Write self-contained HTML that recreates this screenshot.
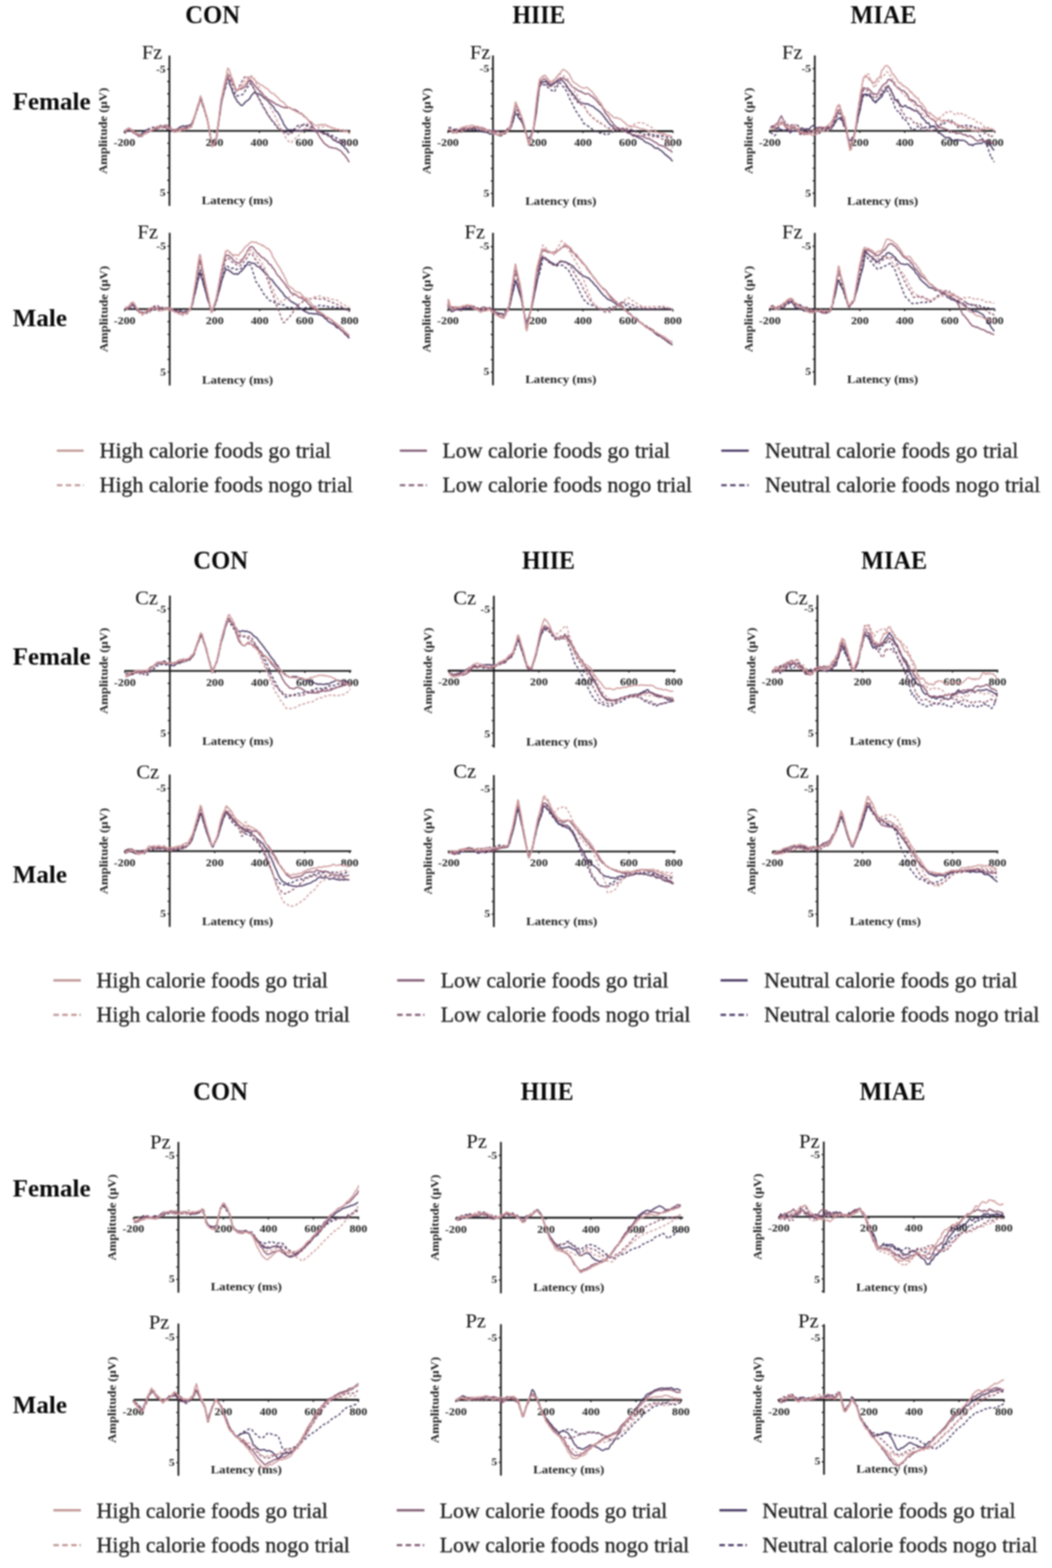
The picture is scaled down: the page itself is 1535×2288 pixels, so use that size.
<!DOCTYPE html>
<html><head><meta charset="utf-8"><title>ERP waveforms</title>
<style>html,body{margin:0;padding:0;background:#fff;} body{width:1535px;height:2288px;overflow:hidden;} svg{display:block;filter:blur(1.1px);}</style>
</head><body>
<svg width="1535" height="2288" viewBox="0 0 1535 2288"><rect width="1535" height="2288" fill="#ffffff"/><text x="310.3" y="33.5" text-anchor="middle" font-family="'Liberation Serif', 'Times New Roman', serif" font-weight="bold" font-size="37" textLength="80.0" lengthAdjust="spacingAndGlyphs" fill="#0a0a0a">CON</text><text x="786.3" y="33.5" text-anchor="middle" font-family="'Liberation Serif', 'Times New Roman', serif" font-weight="bold" font-size="37" textLength="77.1" lengthAdjust="spacingAndGlyphs" fill="#0a0a0a">HIIE</text><text x="1289.2" y="33.5" text-anchor="middle" font-family="'Liberation Serif', 'Times New Roman', serif" font-weight="bold" font-size="37" textLength="96.2" lengthAdjust="spacingAndGlyphs" fill="#0a0a0a">MIAE</text><text x="322.0" y="829.5" text-anchor="middle" font-family="'Liberation Serif', 'Times New Roman', serif" font-weight="bold" font-size="37" textLength="80.0" lengthAdjust="spacingAndGlyphs" fill="#0a0a0a">CON</text><text x="800.3" y="829.5" text-anchor="middle" font-family="'Liberation Serif', 'Times New Roman', serif" font-weight="bold" font-size="37" textLength="77.1" lengthAdjust="spacingAndGlyphs" fill="#0a0a0a">HIIE</text><text x="1304.7" y="829.5" text-anchor="middle" font-family="'Liberation Serif', 'Times New Roman', serif" font-weight="bold" font-size="37" textLength="96.2" lengthAdjust="spacingAndGlyphs" fill="#0a0a0a">MIAE</text><text x="321.8" y="1605.0" text-anchor="middle" font-family="'Liberation Serif', 'Times New Roman', serif" font-weight="bold" font-size="37" textLength="80.0" lengthAdjust="spacingAndGlyphs" fill="#0a0a0a">CON</text><text x="798.3" y="1605.0" text-anchor="middle" font-family="'Liberation Serif', 'Times New Roman', serif" font-weight="bold" font-size="37" textLength="77.1" lengthAdjust="spacingAndGlyphs" fill="#0a0a0a">HIIE</text><text x="1302.3" y="1605.0" text-anchor="middle" font-family="'Liberation Serif', 'Times New Roman', serif" font-weight="bold" font-size="37" textLength="96.2" lengthAdjust="spacingAndGlyphs" fill="#0a0a0a">MIAE</text><text x="18.5" y="160.0" font-family="'Liberation Serif', 'Times New Roman', serif" font-weight="bold" font-size="36.6" fill="#0a0a0a">Female</text><text x="18.5" y="475.5" font-family="'Liberation Serif', 'Times New Roman', serif" font-weight="bold" font-size="36.6" fill="#0a0a0a">Male</text><text x="18.5" y="969.8" font-family="'Liberation Serif', 'Times New Roman', serif" font-weight="bold" font-size="36.6" fill="#0a0a0a">Female</text><text x="18.5" y="1288.0" font-family="'Liberation Serif', 'Times New Roman', serif" font-weight="bold" font-size="36.6" fill="#0a0a0a">Male</text><text x="18.5" y="1746.2" font-family="'Liberation Serif', 'Times New Roman', serif" font-weight="bold" font-size="36.6" fill="#0a0a0a">Female</text><text x="18.5" y="2061.6" font-family="'Liberation Serif', 'Times New Roman', serif" font-weight="bold" font-size="36.6" fill="#0a0a0a">Male</text><g><line x1="247.2" y1="81.1" x2="247.2" y2="300.5" stroke="#161616" stroke-width="2.5"/><path d="M244.0,100.9h3.2 M244.0,118.9h3.2 M244.0,136.9h3.2 M244.0,155.0h3.2 M244.0,173.0h3.2 M244.0,191.0h3.2 M244.0,209.0h3.2 M244.0,227.0h3.2 M244.0,245.1h3.2 M244.0,263.1h3.2 M244.0,281.1h3.2" stroke="#161616" stroke-width="1.6"/><line x1="181.5" y1="191.0" x2="511.0" y2="191.0" stroke="#161616" stroke-width="2.7"/><path d="M181.5,191.0v3 M312.9,191.0v3 M378.5,191.0v3 M444.2,191.0v3 M509.8,191.0v3" stroke="#161616" stroke-width="1.6"/><text transform="translate(181.5,212.8) scale(1.05,0.88)" text-anchor="middle" font-family="'Liberation Serif', 'Times New Roman', serif" font-weight="bold" font-size="16.5" fill="#222">-200</text><text transform="translate(312.9,212.8) scale(1.05,0.88)" text-anchor="middle" font-family="'Liberation Serif', 'Times New Roman', serif" font-weight="bold" font-size="16.5" fill="#222">200</text><text transform="translate(378.5,212.8) scale(1.05,0.88)" text-anchor="middle" font-family="'Liberation Serif', 'Times New Roman', serif" font-weight="bold" font-size="16.5" fill="#222">400</text><text transform="translate(444.2,212.8) scale(1.05,0.88)" text-anchor="middle" font-family="'Liberation Serif', 'Times New Roman', serif" font-weight="bold" font-size="16.5" fill="#222">600</text><text transform="translate(509.8,212.8) scale(1.05,0.88)" text-anchor="middle" font-family="'Liberation Serif', 'Times New Roman', serif" font-weight="bold" font-size="16.5" fill="#222">800</text><text transform="translate(241.7,105.5) scale(1.05,0.88)" text-anchor="end" font-family="'Liberation Serif', 'Times New Roman', serif" font-weight="bold" font-size="16" fill="#222">-5</text><text transform="translate(241.7,285.7) scale(1.05,0.88)" text-anchor="end" font-family="'Liberation Serif', 'Times New Roman', serif" font-weight="bold" font-size="16" fill="#222">5</text><text transform="translate(346.2,297.5) scale(1,0.86)" text-anchor="middle" font-family="'Liberation Serif', 'Times New Roman', serif" font-weight="bold" font-size="18.6" fill="#1e1e1e">Latency (ms)</text><text transform="translate(156.2,191.0) rotate(-90) scale(1,0.86)" x="0" y="0" text-anchor="middle" font-family="'Liberation Serif', 'Times New Roman', serif" font-weight="bold" font-size="18.6" fill="#1e1e1e">Amplitude (μV)</text><text x="236.9" y="86.1" text-anchor="end" font-family="'Liberation Serif', 'Times New Roman', serif" font-size="30" fill="#111">Fz</text></g><path d="M182.3 190.6l1.6 .3 1.5-1.6 1.9-1.7 2 .7 1.5 2.7 1.6 0 1.5 1.4 1.6 0 1.7 .6 1.6 2.2 1.7 1.6 1.7-.7 1.7 .1 2.2-.3 2.2-2.2 1.6-1.5 1.6-1.3 1.6-.8 1.6-.6 1.6 .7 1.6-.6 1.6 .8 1.7 .5 1.7-.6 1.6-1.2 1.7-.5 1.7-1.4 1.7-1.7 1.9 .4 1.8-1.5 1.9 0 1.9 0 1.8 .6 1.9 .9 1.7 1.4 1.8 1.7 1.8 .3 1.7-1.2 1.8 1 1.7 .2 1.8 .3 2.3-.3 1.8 0 1.7-.3 1.8-1.7 1.7-2.2 1.9 .3 1.9-1.8 1.9 .1 1.9 1.1 1.8-1.3 2.3 .2 1.7-1 1.6-.2 2-1.9 1.3-1.8 .6-2.6 .5-1.4 .6-.8 .5-1.2 .6-2 .6-1 .5-2.2 .6-1.2 .5-2.4 .6-1.9 .6-.6 .5-1.1 .6-1 .5-2.2 .6-2 .6-1.2 .5-.9 .6-2.5 .5-2.7 .6-1.4 .5-1 1.5 .9 .5 2.1 .5 2.5 .6 .8 .5 2.7 .5 1.3 .5 .6 .6 1.3 .5 2.4 .5 1.7 .5 1.2 .6 2.1 .5 2.2 .5 1.9 .5 1.3 .5 1.3 .4 1.5 .4 1.3 .3 2 .4 2.3 .3 1.7 .4 1.5 .3 2.5 .4 1 .3 1.7 .3 1.3 .4 2.2 .3 2.5 .4 2.1 .3 2.2 .4 2.4 .3 .8 .4 2.1 .3 2.5 .3 1.9 .4 2.1 .3 1.2 .4 2.5 1.7-1 .8-2.5 .8-1.3 .8-2.7 .8-2 .8-1.3 .6-1.8 .2-1.6 .3-2.2 .2-1.7 .3-1.8 .3-1.5 .2-1.9 .3-2.6 .2-1.8 .3-2.1 .3-1.2 .2-2.5 .3-2 .2-1.2 .3-1 .2-1.1 .3-1.1 .3-2.3 .2-1.8 .3-1 .2-1.5 .3-1.2 .3-2.1 .2-3.2 .3-1.3 .2-2 .3-1.4 .3-1.9 .3-2.7 .4-1.8 .4-2.5 .4-2.3 .4-1.5 .4-.8 .4-1.3 .4-2.1 .4-.9 .4-2.2 .4-1.7 .4-2 .4-1.1 .4-2.2 .4-3.2 .4-1.5 .4-.9 .4-2.6 .4-2.2 .4-1.3 .4-1.5 .5-3 1.1 1.7 .6 1.4 .6 1.9 .7 2 .6 1.5 .6 2.8 .6 1.8 .6 2 .6 1.2 .6 .4 .6 3.1 .6 2.2 .7 1.4 .6 1 .6 1.7 .6 1.8 .6 1.1 .7 1.5 1 1.3 1.1 2 1.1 2.7 1.1 .3 1.1 1.1 1.1 1.4 1.1 1.5 1.5 1 1.6-.3 1.2-1.3 1.3-1.6 1.2-1.1 1.3-1.7 1.2-.4 1.2-1 1.2-.9 1.1-.9 1.2-1.4 1.1-2.6 1.2-1.8 1.1-.7 1.1-1.8 1.8-1.5 2.2 1 1.7 .5 1.7 .2 1.8 .9 1.7 .7 1.6 .9 1.5 1.7 1.4 1.4 1.4 1.4 1.4 .8 1.4 1.5 1.5 .4 1.4 2.1 1.4 .8 1.4 1.7 1.3 1.9 1.1 1.1 1 .7 1.1 1 1.1 2.2 1.1 1.9 1 1.6 1.1 1.2 1.1 .6 1 1 1.1 2.2 .9 .7 .8 1.6 .8 2.5 .9 1.8 .8 1 .8 1.1 .8 1.7 .8 2.4 .9 2 .8 1.5 .9 1 .8 1.3 .9 1.1 1.6 2.2 2.3 1.4 1.9-.3 1.8 .1 1.8 .1 1.9 0 1.8-.3 1.9 .9 1.8 .4 1.9 0 1.8 .4 1.8-.4 1.9-.5 1.8-.5 1.9 .4 1.8-.5 1.8 .4 1.9-1 1.8 .4 1.7 .4 1.8 .3 1.8 .1 1.8 1.4 1.8 .8 1.8-.9 1.7 .2 1.7 .8 1.7 .2 1.7 .8 1.7 .7 1.7 0 1.7 1.6 1.6 .2 1.6 2.4 1.5 0 1.6 .8 1.5 .8 1.6 2.2 1.5 1.7 1.6 1.3 1.5-.5 1.5 1.9 1.5 .8 1.6 .1 1.5 1.2 1.5 .4 1.5 1.5 1.5 1 1.3 1.7 1.2 1.2 1.2 2 1.2 .6 1.2 .8 1.2 2.3 1.1 2.2 1 .4 .2 .4" fill="none" stroke="#4a3964" stroke-width="1.9" stroke-linejoin="round"/><path d="M182.3 192.1l1.6-1.7 1.5-.7 1.9-1.8 2 .7 1.6 1 1.6 1.4 1.5-.4 1.6 1.8 1.7 .4 1.6 1.9 1.6 .5 1.7-.3 1.6 0 2.2 1.5 2-2 1.5 .4 1.6-.7 1.5-3.3 1.5-2.1 1.5 .1 2.1-1.2 2.3-.2 1.8-1.2 1.8-.5 1.8 1 1.8 .6 1.7-2 1.8-1.3 1.7-1.6 1.7 .5 1.7 1.6 1.7-.9 2.3 .3 2.3 .3 1.8 1 1.7 .7 1.8-.4 1.8 .9 1.8 2.6 1.8 .7 1.8 .6 1.9 .1 1.8-2.3 1.8-.1 1.8-.8 1.9 .9 1.8-.2 1.8 .4 1.8 .2 1.9-1.7 1.7-.3 1.8-.2 1.7 .2 1.7-1.2 1.5-.4 1.3-1.9 .5-2.6 .6-2.6 .5-2.3 .6-.6 .5-2.4 .5-.4 .6-1.6 .5-2.1 .5-2.3 .6-1.2 .5-2.7 .5-.4 .6-1.7 .5-2.5 .5-2.4 .6-2 .5-1.1 .6-1.6 .5-2.1 .5-1.2 .6-1.7 1.8 1.5 .5 .8 .6 1.3 .5 2.9 .6 1 .5 2.7 .6 .7 .5 1.4 .6 2.2 .5 2.6 .6 .6 .5 2.1 .6 1.7 .5 2.2 .6 1.6 .4 .9 .4 1 .4 2.1 .3 2.9 .4 .9 .3 2.2 .3 2.2 .4 1.6 .3 1.6 .4 2.6 .3 .9 .4 2 .3 1.3 .4 2.2 .3 2.3 .4 1.7 .3 1.2 .4 2.8 .3 .9 .3 3 .4 2 .3 .1 2-.4 .9-.7 .9-1.5 .8-1.5 .9-1.3 .6-2.1 .4-2.4 .3-1.9 .2-2.4 .2-1.2 .3-1.9 .2-2.4 .3-1.3 .2-2.1 .2-1.5 .3-2 .2-1.6 .3-2.6 .2-1.3 .2-2.5 .3-.6 .2-2 .3-1.3 .2-1.3 .2-2.4 .3-2.4 .2-1.4 .3-2.4 .2-1.6 .2-.9 .3-1.5 .2-2.6 .3-2.1 .3-1.8 .5-1.2 .5-1.5 .5-2 .5-2.9 .5-.8 .5-1.7 .5-2 .5-2.2 .5-2 .5-1.7 .5-1.4 .5-1.1 .5-.8 .5-1.5 .5-3 .5-1.1 .5-2.4 1.7-.9 1 1 1 1.6 1 1.2 1 .8 1 1.6 1 2.7 1 1.6 1 1.2 1 2.4 1 1 1 2.7 1.5 2.1 2-.3 1.8-.3 1.9-1.1 1.8 .1 2.1-1 1.5-2.5 1.1-1.4 1-2.2 1.1-1.1 1.1-2.6 1-.5 1.1-1.6 1.1-1.3 1-1.7 2 .1 .9 2.5 .8 .6 .9 1.6 .9 1.4 .9 2.2 .8 1.8 .9 2.3 .9 1.5 .9 1.3 .9 .9 .8 2.4 .9 1.2 .8 1.2 .8 2.2 .9 .8 .8 1.4 .8 1.4 .8 1.6 .8 1.7 .8 1.4 .8 1.1 .9 2.2 .8 2 .8 1.5 .8 2.5 .9 .8 .9 1.3 1 2 .9 .9 1 1.2 1 1.4 1 2.5 1 .9 .9 1 1 1.3 1 2.2 1 .6 1.1 1.4 1.3 1.5 1.3 1.7 1.3 2.2 1.3 1.1 1.3 .9 1.3 2.2 2 .4 2.4 .8 1.8-.3 1.8 1.4 1.8-.3 1.7 .4 2.4 .1 2 .2 1.4-1 1.5-2.1 1.4-.9 1.4-1 1.4-1.6 1.4-2 1.4-.6 1.5-1.2 2.1-.2 2.4 .4 1.7 .1 1.8 .4 1.8-.1 1.8-.3 1.8 1.2 1.7 .2 1.7 1.2 1.6 .1 1.6 .6 1.7 .3 1.6 1.6 1.7 1.4 1.6 1.1 1.7-.5 1.7-.4 1.7 1.3 1.7 1.1 1.7 .8 1.7 .5 1.7 .4 1.7-.2 1.7 .5 1.7 1.9 1.6 .8 1.7 1 1.6-.2 1.6 .6 1.7 .8 1.6 1.6 1.7 .2 1.7 1.4 1.7 .9 1.7 .8 1.7 .9 1.7 .4 1.7 .1 1.7 1.4 1.7 1.5 1.7 1.4 1.7-.4 1.4 1.4" fill="none" stroke="#4a3964" stroke-width="1.9" stroke-linejoin="round" stroke-dasharray="4 3"/><path d="M182.2 191.3l1.6-1.9 1.4-.6 1.4-1.1 1.8-.9 1.7 2.4 1.4 1.8 1.3 .4 1.3 2.6 2 .2 1.7 1.7 1.8 .6 1.7 1.7 1.7 1.2 1.7-1.2 2.3 1 2.1-3.1 1.6-.6 1.6-.7 1.5-1.4 1.6-.1 1.6-1.4 1.7-.3 1.8-1.7 1.7 .2 1.8-.9 1.8-.3 1.7 .2 1.8-1.1 1.8 0 1.8-1.6 1.9-1.4 1.8-1 1.8 .4 1.8-1.7 1.8-.2 1.8 .3 1.8 1.9 1.7 .6 1.8 1.7 1.7 3.2 1.8 1.1 1.7-.7 1.8-1.8 1.9 .4 1.8-.4 1.8-1.6 1.9-.2 1.8 .9 1.8 .5 1.8-1.6 1.8 .9 2.2-.2 2.1-1.5 1.5-.6 1.5-2.1 1.8-2.3 1-.8 .5-3 .5-1.2 .6-1.5 .5-1.4 .5-1.5 .5-2.1 .6-1.5 .5-1.3 .5-1.8 .5-1.1 .6-2.2 .5-2.8 .5-1.3 .5-1.3 .6-2.3 .5-.6 .5-.9 .5-2 .6-2.5 .5-2.7 .5-1.2 .5-1.8 1.4 .7 .5 2.9 .5 1.5 .5 2.3 .5 2.2 .5 .3 .5 1.7 .5 1.1 .5 1.8 .5 1.2 .5 2.7 .5 2 .5 1.2 .5 2.5 .5 2.1 .5 1.1 .5 1.3 .4 1 .3 1.1 .4 2.4 .3 .8 .3 1.9 .3 1.9 .3 2 .4 2.7 .3 1.4 .3 2.7 .3 1.2 .4 2.1 .3 1.9 .3 .6 .3 3 .3 1.1 .4 2.5 .3 1.3 .3 1.1 .3 2.2 .4 2.1 .3 2.1 .3 2 .3 .9 1.7-.6 .8-2.3 .8-1.6 .8-.5 .8-1.1 .8-.9 .7-2.1 .3-2.8 .3-2.4 .2-.8 .2-2.5 .2-3.1 .3-2.3 .2-1.6 .2-.4 .2-2.1 .3-2.4 .2-2.1 .2-1.5 .2-.6 .3-2.6 .2-1.1 .2-2.2 .2-1.5 .3-2.4 .2-2.2 .2-2.1 .2-2.2 .3-1.2 .2-1.8 .2-1.8 .2-1.7 .3-1.2 .2-1.2 .2-1.6 .3-3 .3-2.2 .4-1.5 .5-1.6 .4-1.9 .4-.9 .4-2.5 .5-1.3 .4-1.1 .4-1.5 .5-1.6 .4-3.2 .4-1.6 .4-1.1 .5-2.2 .4-2.9 .4-1.1 .5-2.4 .4-1 .4-2.1 .4-2.2 .5-1.1 .4-.7 .4-1.3 1.8-.7 .8 1.5 .8 2.3 .9 1 .8 1.6 .8 1.8 .8 2.4 .8 2.2 .9 1.5 .8 1 .8 .5 .8 2.7 .8 1.9 1.3 2.1 1.9-1 1.8-.7 1.9-.4 1.8-.2 2.1-1.7 1.3-.1 1.2-.9 1.1-1.1 1.2-1.2 1.2-2.2 1.2-2.4 1.2-2.1 1.1-1.5 1.6 .6 1.4 .8 1.1 2.1 1.1 1.6 1 1.9 1.1 .7 1.1 1.8 1 .7 1.1 1.4 1.1 1.4 1.1 1.3 1.3 .9 1.4 2.5 1.4 1 1.4 .5 1.4 1.5 1.4 2.1 1.4 1.8 1.5 .3 1.4 1.6 1.4 1.4 1.5 1.3 1.5 .2 1.6 1.7 1.5-.1 1.5 2.1 1.5 0 1.5 1.4 1.6 1.7 1.5-.5 2.3 1.7 1.7 .1 1.7 1.7 1.7 .1 1.7 .5 1.7 1 1.7-.5 1.7 .4 1.7-.2 1.7 0 1.8 .4 1.7 2 1.7 .2 1.7 0 1.7 .4 1.7 1.4 1.7 .4 1.7 2.2 1.7 1.1 1.7-.1 1.6 1.4 1.5 2 1.3 1.7 1.3 .2 1.3 .8 1.3 1.7 1.3 1.4 1.2 1.6 1.1 .8 1 2 1 .5 1 1.5 1 2.5 1.1 1.7 1 1.3 1 2.4 1 .6 1 1.6 1 1.4 1 1.3 1 1 1.1 2.4 1 1 1 2.6 1 .9 1.1 1.2 1.2 2.2 1.3 1.2 1.4 2.4 1.3 .9 1.3 1.8 1.3 .6 1.3 .2 1.4 2.1 2 .9 1.8-.1 1.8 1 1.8 .1 1.8 .5 1.8-.1 2.2 1 1.9 1.3 1.4 .5 1.5 1.2 1.4 .9 1.8 2.8 1.5 1.5 1.1 .6 1 1.7 1 1.7 1.1 1.2 1 1.2 1 2.3 .9 1.1 .7 1.6" fill="none" stroke="#8c5872" stroke-width="1.9" stroke-linejoin="round"/><path d="M182.2 195.4l1.7-3.2 1.4-.1 1.4-1.8 1.9-.3 1.9-.3 1.3 0 1.4 2.6 1.5 0 1.6 1.1 1.7 2 1.6-.8 1.7 .5 1.7 1 1.7 .7 2.2 1.1 2-.6 1.5-1.6 1.5-.9 1.5-.2 1.5-2.2 1.6 .3 1.6-1.9 1.7-.9 1.7 .4 1.8-1.3 1.7-.4 1.7-1.3 1.8-.4 1.8-.2 1.8-.5 1.8-1.7 1.8 0 1.8 .5 1.8 .1 2.4 .8 1.6 .5 1.7 .2 1.7 .6 1.7 1.3 1.7 1.7 1.8 1.4 1.7 .5 2.3-1.7 1.8-1.5 1.7-1.2 1.8 .7 1.8-1 1.8 1.4 1.8-.7 1.9-.5 1.8 0 1.8-1.3 2.3 0 1.6-.7 1.7-1.2 1.6-.1 1.5-2.5 .7-2.7 .5-.9 .5-2.6 .5-.4 .5-2.2 .6-.7 .5-2.9 .5-2.5 .5-.9 .5-1.1 .5-1.7 .5-2.4 .5-2.5 .5-2 .5-1 .6-1.7 .5-2.1 .5-1.8 .5-1.6 .5-2.1 .5-2.1 .7-.5 1.1 1.1 .5 2.4 .6 2.2 .5 .9 .5 2.1 .6 1.4 .5 1.1 .6 1.7 .5 2.5 .6 1.9 .5 2.3 .6 1.8 .5 2.5 .6 1.2 .5 1.5 .5 2 .4 .8 .4 1.3 .3 1.2 .4 2.4 .3 1.1 .4 1.7 .3 2.2 .4 2.4 .3 2 .3 1.2 .4 1.6 .3 1.1 .4 2.2 .3 2.2 .4 1.3 .3 1.3 .3 1.6 .4 2.2 .3 2.2 .4 3.2 .3 1.4 .4 1.7 .3 1.6 1.9-.8 .9-1.2 .9-1.5 .8-2.4 .9-1.3 .7-1.8 .5-1.2 .2-1.3 .3-2.2 .2-2 .2-2.2 .2-2.1 .3-1.5 .2-1.1 .2-1.1 .2-1.3 .3-3.2 .2-1.6 .2-1.2 .3-2.2 .2-1.4 .2-2.8 .2-2.4 .3-.3 .2-2.3 .2-1.1 .3-2.8 .2-2.1 .2-1.9 .2-1.9 .3-.9 .2-2.6 .2-1.1 .2-1.8 .3-2.7 .3-1.4 .4-3.1 .5-1.6 .5-1.1 .5-1.4 .4-1.5 .5-1.6 .5-3.1 .4-.9 .5-1.6 .5-1.8 .4-2.4 .5-1.6 .5-2.8 .5-.7 .4-2.8 .5-.8 .5-2.2 .4-1.5 .5-1.1 .5-1.2 1.9-.9 .9 1.3 .9 2.5 .8 1.8 .9 .9 .9 2.5 .9 1.3 .8 1 .9 1.2 .9 1.6 .9 2.5 .8 1.7 1.2 1.7 1.4-1.3 .8-2.2 .9-1.5 .8-1.9 .8-1.8 .8-1.6 .9-1.1 .8-1.6 .8-1.9 .9-2.2 1.1-1.6 1.5-1.8 1.6-1.2 1.6-.3 2.1 1 1.1 1.8 .8 1.5 .9 1.4 .8 2.2 .8 1.9 .9 2 .8 1.5 .8 1 .8 1.5 .9 1.7 .8 1.7 .8 .9 .8 2 .8 1.1 .8 2.5 .9 2.2 .8 .5 .8 2.2 .8 1.5 .8 2.4 .8 2.1 .8 .6 .9 1.9 .8 2.4 .9 1.2 1 2.2 1 .6 1 .6 1 1.1 .9 2.7 1 1.2 1 2.7 1 2.1 .9 1 1 1.8 1.1 1.9 1.1 1.2 1.1 .9 1.2 2.2 1.1 .4 1.2 1.1 1.1 1.3 1.1 1.5 1.3 2.2 1.2 .8 1.3 2.2 1.3 1 1.3 1.1 1.3 1.5 1.4 1.3 1.4 1.1 1.7 1.8 1.7-.2 1.7 .9 1.7 1.1 1.7 0 2.2 .6 2-.4 1.4-1.5 1.5-1.8 1.4-.1 1.4-1.4 1.4-.6 1.5-.5 1.5-1.1 1.5-1.8 1.5-1.7 1.6-1.6 1.6-.9 1.5-1.2 1.6-.4 2-1 2.1 .3 1.6 2.6 1.5 1.3 1.6 .5 1.5 1.1 1.6 1.1 1.5 .3 1.6 1.7 1.5 1.2 1.6 .8 1.6 .8 1.5 0 1.6 .5 1.6 1.8 2.2 1.4 1.7-.4 1.7 1.1 1.7-.4 1.7-.2 1.7 2.2 1.7 .4 2.2 1.2 1.5 1.3 1.6 1.1 1.5 1.6 1.5 1 1.5-.2 1.5 1.3 1.6 .1 1.5 1.2 2.2 1.2 1.7 .5 1.7-.2 1.7-.4 1.7 1.4 1.7 1.5 1.7 0 1.8 .4 0-.1" fill="none" stroke="#8c5872" stroke-width="1.9" stroke-linejoin="round" stroke-dasharray="4 3"/><path d="M182.2 191.7l1.5-1.4 1.2-.6 1.3-1 1.7-1.7 1.8 0 1.4 1.9 1.4 .4 1.4 .2 1.5 3.1 1.5 .3 1.6 2.1 1.6 .3 1.6-.1 1.6 1.4 1.6 .2 2 1 2-1.2 1.4-.4 1.5-2.3 1.4-1 1.4-2 1.5 .3 1.5-.7 1.7 1.2 1.8-1.6 1.8-1.5 1.8-.1 1.7-2.2 1.8-1.6 1.8 .4 1.8-1 1.8 .9 1.8-1.5 1.8-.1 1.8 .2 2.4-.7 1.6 1.9 1.7 .7 1.7 2.2 1.7 .8 1.6 .1 1.6 .9 2.2 2.8 2.3 .8 1.7-1.8 1.8 1 1.7-1.9 1.8 .7 1.8-1 1.8-1.3 1.9 1.1 1.8-.6 1.8-.1 1.7-1.4 1.6-.7 1.6-.7 1.6-1.9 1.4-1.9 1.2-1.8 .5-.8 .6-2.1 .5-2.2 .5-2 .5-1.1 .5-2.4 .5-2 .5-2.4 .6-.8 .5-1 .5-2.8 .5-1.8 .5-1.1 .5-1.3 .5-1.3 .6-2.1 .5-1 .5-2.9 .5-1.9 .5-1.9 .5-1.4 .5-1.4 1.7 1 .5 1.3 .5 2.5 .5 2 .5 1.5 .5 1 .5 1 .5 1.8 .5 2.4 .5 1.8 .5 1.3 .5 1.9 .5 1.3 .4 2.3 .5 1.3 .5 1 .5 1.4 .4 2.2 .4 2.3 .3 2.1 .3 2.6 .4 .7 .3 2.3 .3 .9 .3 1.7 .4 2.2 .3 1.2 .3 1.6 .3 2.7 .4 1.2 .3 2.7 .3 1.7 .3 1.9 .4 1 .3 2 .3 1.9 .3 2.6 .4 1.4 .3 2.4 .3 2.2 .5 .8 1.3-2.8 .8-1.6 .8-1.2 .8-1.3 .7-.9 .7-3.2 .5-1.9 .2-1.6 .2-.8 .3-2 .2-1.3 .2-2.3 .2-1.2 .2-1.3 .3-1.6 .2-1.7 .2-2.5 .2-1 .2-2 .3-2.7 .2-.9 .2-1.6 .2-1.7 .3-1.2 .2-2.4 .2-2.9 .2-2.5 .2-1.9 .3-1.8 .2-1 .2-2.4 .2-2.3 .2-1 .3-3 .2-.8 .2-2.3 .2-2.4 .3-1.4 .4-2 .4-1.5 .3-.9 .4-2.4 .4-1.7 .4-2.3 .4-1.7 .3-1.7 .4-2.4 .4-2.3 .4-1.3 .4-1.2 .3-2.3 .4-2 .4-.9 .4-2.1 .4-1.8 .3-.9 .4-2.2 .4-.8 .4-2 .4-2.8 .3-1.4 .4-2.5 .4-2.3 .4-1 1.6 1.5 .6 1.1 .6 2.3 .6 2.6 .6 .6 .6 2.2 .6 2.3 .6 .8 .6 1.4 .6 .8 .6 1.9 .6 2.3 .6 2.4 .7 .8 .6 2.7 .6 1.4 .6 2.1 .6 1.9 .9 .9 1.9-.9 1.4-.5 1.4-1.2 1.3-.4 1.4-.2 1.3-2.4 1.3-1.2 1.2-1 1.2-.5 1.1-1.3 1.2-2 1.2-1.9 1.2-2.4 1.2-1.4 1.1-1.3 1.7 .4 1.9 1 1.4 .1 1.4 1 1.5 2.6 1.4 1.6 1.4 0 1.4 1.7 1.5 1.3 1.5 .9 1.5 .8 1.5 .2 1.5 1.5 1.4 .6 1.5 1.9 1.5 .2 1.5 .9 1.5 1.7 1.5 1.8 1.5 1.3 1.4 1.6 1.5 .2 1.5 .3 1.4 1.3 1.4 1.5 1.3 1.1 1.3 1.5 1.3 .5 1.3 2 1.3 2 1.4 .7 1.3 1 1.4 .5 1.4 1.1 1.4 1.1 1.4 2.4 1.5 1.9 1.4 .4 1.4 1 1.5 1.3 1.5 .5 1.7 .4 1.6 1.7 1.6 .6 1.7 .7 1.6 1.4 1.7 .7 1.6 .2 1.5 1.6 1.5 .2 1.5 1 1.4 .3 1.4 .6 1.5 1.9 1.4 1.5 1.4 1.2 1.4 1.4 1.5 2 1.4 1.3 1.4 .1 1.4 .6 1.4 1.9 1.4 .9 1.5 2.2 2.1 .3 2.4-.2 1.7-.4 1.8 .4 1.8-1 1.8 .3 2.4-.3 2.2 .1 1.7 1.6 1.6-.3 1.6 1.4 1.7 .1 1.6 1.7 1.7 .1 1.6 1.2 1.8-.7 1.7 1.6 1.8 .7 1.8-.8 1.8 .8 1.8 .9 1.8-.3 1.8-.6 1.8 1.5 1.8 1.3 1.8-.8 1.8 .9 1.5 .6" fill="none" stroke="#d09c9e" stroke-width="1.9" stroke-linejoin="round"/><path d="M182.3 190.0l1.7 .2 1.5-1.7 2-.4 1.9-.2 1.4 1.5 1.4 1.9 1.4 .7 1.5 1.2 1.7 .3 1.6 .7 1.7 0 1.7 1.7 1.6 .8 2.2 1.6 2.2-1.3 1.5-1.6 1.6 .2 1.5-.3 1.6-2.3 1.5-.2 1.6-2.2 1.7-1.2 1.7 .3 1.8-1.3 1.7 0 1.8 .7 1.7-1.6 1.8-.2 1.8-.4 1.8 .3 1.7 .1 1.8 1 1.8-1.1 2.4-.8 2.3 .8 1.7-.6 1.7-.3 1.7-.2 1.7 1 1.7 1.2 1.7 .2 2.3 .9 1.8 0 1.7-1.2 1.8-.5 1.7 .6 1.8-1.2 1.9-2.1 1.9 .7 1.8 .2 1.9-.3 1.7-.5 1.8-.3 1.7-.3 1.7-1.5 1.6-.5 .9-2.5 .5-2.7 .5-2.6 .5-1.1 .5-.7 .5-2.2 .5-2 .5-1.5 .5-1.9 .5-1.9 .5-1.9 .5-1.6 .5-1.8 .5-1.7 .5-2.3 .5-2.1 .5-.2 .5-.8 .5-.9 .5-1.5 .6-2.7 .5-2.4 .5-2.7 .6-1.1 1 2 .4 2.3 .5 1 .5 2.1 .4 1.4 .5 1.7 .5 1.2 .4 1.9 .5 1.5 .5 2 .4 2.1 .5 1.1 .5 2.7 .4 2 .5 1.2 .4 1.8 .5 2.3 .4 2.2 .4 1.2 .4 1.8 .3 .9 .4 1.5 .3 3 .4 2.1 .3 1.3 .4 2.2 .3 2.7 .4 1.1 .3 1.9 .4 1.6 .3 1.6 .4 2.4 .3 .9 .4 2.7 .3 2.1 .4 1.8 .3 1.3 .4 1 .3 3.3 .4 2.2 .3 1.2 1.9-.7 .8-2 .7-2.1 .7-1.4 .8-2 .6-.8 .6-3.6 .2-1.6 .2-1.7 .2-2.6 .3-2.4 .2-1.6 .2-1.2 .2-2.2 .2-1.8 .3-2.1 .2-.8 .2-1.6 .2-1.8 .3-2.2 .2-2.5 .2-1.8 .2-.9 .2-1.9 .3-2 .2-1.7 .2-.7 .2-1.5 .2-2.6 .3-1.5 .2-1.8 .2-2.1 .2-1 .2-2.2 .3-2.3 .2-1.9 .4-.9 .4-2.2 .4-1.4 .4-2.7 .4-.8 .5-1.2 .4-2.2 .4-1.6 .4-2.1 .5-1.2 .4-1.8 .4-2.7 .4-2.4 .5-1 .4-1.7 .4-1.2 .4-1.6 .5-2.9 .4-1.4 .4-2.2 .4-1.6 .5-2.5 .4-1.3 .4-1.5 1.6 1.4 .7 1 .8 2.3 .7 1.8 .7 .9 .7 2.2 .7 2 .7 1 .7 1.8 .7 2.2 .7 1.3 .7 1 .8 2 .7 2.5 .7 2.1 .7 1.1 2-.7 1-2.5 1-1.4 1-.9 1-1.7 1-2.1 1-1.2 1-2.2 1-1.2 1-.7 1-2.1 1-1.9 1.6-1.2 1.5-1.5 1.7-.5 1.7-.6 1.7-.6 2.1 .3 1.4 .7 .9 1.3 .9 1.5 .9 3 1 1.9 .9 2.3 .9 1.8 .9 1.8 .9 0 .9 1.4 1 1.3 .9 .9 .9 2.9 1 1.5 .9 1.7 .9 2.1 1 1.6 .9 .4 .9 1.3 1 .8 .9 .9 .9 2 .9 1.4 1 1.4 .8 1.4 .8 2.1 .9 2.5 .8 1.9 .8 2.2 .8 1.2 .8 2 .8 1.2 .9 1.3 .8 2.3 .8 1.5 .8 1 .8 1.3 .8 2.6 .8 1.7 .9 .7 .8 2.3 .8 1.9 .9 2.4 .8 1.1 .8 1.3 .8 1.6 .9 1.6 .8 1.9 .8 1 .9 2.4 .8 .4 .8 2.2 .8 1.6 .8 1.1 .9 1.5 .8 2.9 .8 1.4 1.2 1 1.5 1.9 1.5 1.5 1.6 1.5 2-.7 1.8-2.6 1.3-.8 1.3-1.4 1.3-.7 1.3-2.6 1.3-.1 1.3-.6 1.3-2.3 1.3-1.4 1.3-1.7 1.4-1.3 1.3 0 1.3-1.8 1.3-1.9 2-1.6 2.3 .6 1.8 .8 1.8-.3 1.7 .3 1.8 .4 1.8 .3 2.4-.5 1.7-1.1 1.7-1 1.7-.6 1.7 .3 1.7-.4 1.7-.7 1.7 0 1.7-.8 2.3-1.3 2.3 1.2 1.7 1.6 1.7 .7 1.7-.2 1.7-.1 1.8 1.2 1.7 1 1.7 1.3 1.7-.2 1.8 1.2 1.7-1 1.8 .6 1.8 1.6 1.7-.2 1.8 0 1.8 1.2 1.7-.5 1.8 .2 1.8 2.2 0-1.1" fill="none" stroke="#d09c9e" stroke-width="1.9" stroke-linejoin="round" stroke-dasharray="4 3"/><g><line x1="719.3" y1="80.89999999999999" x2="719.3" y2="301.9" stroke="#161616" stroke-width="2.5"/><path d="M716.1,100.4h3.2 M716.1,118.6h3.2 M716.1,136.8h3.2 M716.1,154.9h3.2 M716.1,173.1h3.2 M716.1,191.3h3.2 M716.1,209.5h3.2 M716.1,227.7h3.2 M716.1,245.8h3.2 M716.1,264.0h3.2 M716.1,282.2h3.2" stroke="#161616" stroke-width="1.6"/><line x1="653.0" y1="191.3" x2="982.0" y2="191.3" stroke="#161616" stroke-width="2.7"/><path d="M653.6,191.3v3 M785.0,191.3v3 M850.6,191.3v3 M916.3,191.3v3 M981.9,191.3v3" stroke="#161616" stroke-width="1.6"/><text transform="translate(653.6,213.1) scale(1.05,0.88)" text-anchor="middle" font-family="'Liberation Serif', 'Times New Roman', serif" font-weight="bold" font-size="16.5" fill="#222">-200</text><text transform="translate(785.0,213.1) scale(1.05,0.88)" text-anchor="middle" font-family="'Liberation Serif', 'Times New Roman', serif" font-weight="bold" font-size="16.5" fill="#222">200</text><text transform="translate(850.6,213.1) scale(1.05,0.88)" text-anchor="middle" font-family="'Liberation Serif', 'Times New Roman', serif" font-weight="bold" font-size="16.5" fill="#222">400</text><text transform="translate(916.3,213.1) scale(1.05,0.88)" text-anchor="middle" font-family="'Liberation Serif', 'Times New Roman', serif" font-weight="bold" font-size="16.5" fill="#222">600</text><text transform="translate(981.9,213.1) scale(1.05,0.88)" text-anchor="middle" font-family="'Liberation Serif', 'Times New Roman', serif" font-weight="bold" font-size="16.5" fill="#222">800</text><text transform="translate(713.8,105.3) scale(1.05,0.88)" text-anchor="end" font-family="'Liberation Serif', 'Times New Roman', serif" font-weight="bold" font-size="16" fill="#222">-5</text><text transform="translate(713.8,287.1) scale(1.05,0.88)" text-anchor="end" font-family="'Liberation Serif', 'Times New Roman', serif" font-weight="bold" font-size="16" fill="#222">5</text><text transform="translate(818.3,298.9) scale(1,0.86)" text-anchor="middle" font-family="'Liberation Serif', 'Times New Roman', serif" font-weight="bold" font-size="18.6" fill="#1e1e1e">Latency (ms)</text><text transform="translate(628.3,191.3) rotate(-90) scale(1,0.86)" x="0" y="0" text-anchor="middle" font-family="'Liberation Serif', 'Times New Roman', serif" font-weight="bold" font-size="18.6" fill="#1e1e1e">Amplitude (μV)</text><text x="715.7" y="86.0" text-anchor="end" font-family="'Liberation Serif', 'Times New Roman', serif" font-size="30" fill="#111">Fz</text></g><path d="M654.5 187.1l2.1 2.3 1.8 1.8 1.8 .1 1.8-.5 1.8-1.1 1.8-1.4 1.8 .5 1.8 .7 1.9 .2 1.8-.8 1.8 .8 1.9-.2 1.9 .7 1.8-.6 1.9 .7 1.9-1.6 1.8-.9 1.9 .5 1.8 1.3 1.9-1.8 1.8 .8 1.9 1.2 1.8 1.3 1.8-1.7 1.9 1.4 1.8 1.2 1.8 .6 1.8-.6 1.8 1.2 1.8-.4 1.8 .7 1.8 1.3 1.8 .9 1.8-.4 1.8-1.3 1.7 .2 1.8 1.2 1.7-.1 1.7 1.6 2.3 .6 2.3 1 1.8-.8 1.8-2.3 1.8-.3 1.7-.8 1.7-2.2 1.7-1.3 1.7-.6 1.9-1.6 1-2 .6-1.5 .5-.8 .5-2.1 .6-2.2 .5-1.1 .6-1.1 .5-2.6 .6-1.6 .5-3 .6-1.9 .5-1.2 .8-1.3 1.8 .4 .9 1.2 1 2.1 1 1.9 1 1.7 1 .6 1 .8 1 2.4 .9 1.5 .9 1.6 .7 2.2 .6 2.3 .6 1.7 .7 1.7 .6 1.4 .6 1.1 .7 2.2 .6 .6 .7 1.6 .6 2.6 .6 2 .7 1.3 .6 .9 1.8-.7 .7-.7 .7-2.2 .8-1.4 .7-1.5 .7-1.8 .7-1.4 .7-.8 .6-1.4 .5-1.9 .3-1.9 .3-2.8 .3-2.3 .3-1.4 .3-1.3 .3-2.4 .3-2 .3-1.2 .3-1.5 .3-2.6 .3-1.2 .3-2 .3-1.2 .3-3.4 .2-1.9 .2-2.2 .2-2.2 .2-1.6 .2-1.9 .3-1.9 .2-2 .2-2.2 .2-1.8 .2-1.9 .2-.3 .2-2 .2-1.3 .2-1.8 .2-3.2 .2-.8 .2-2.7 .2-1.2 .3-.8 .2-2.4 .2-1.3 .7-2.3 1.8-1.4 1.7-.1 2.3-.5 2-.3 1.5 .5 1.4 1.6 1.4 2.4 1.5 .9 2 1.2 2-1.5 1.6-1.1 1.6-1.4 1.6-1.2 1.6-1.1 1.6-.2 1.6-1.5 1.6-.2 2.1-1.6 1.7 2.2 1.2 .7 1.1 1 1.1 1.5 1.2 1.2 1.1 2.4 1.2 1 1.1 2.5 1.1 1.6 1.2 1 1.1 1.3 1.2 1.6 1.1 1.5 1.1 .8 1.2 2.1 1.1 1.2 1.1 1.1 1.1 1.4 1.1 1.8 1 1.6 1.1 1.7 1.7 1.6 2.2 1.4 1.8-.5 1.8 1.3 1.9 .3 1.7 .7 1.8-.3 1.7 .1 1.7 1 1.7 1.3 1.7 .5 1.7 .6 1.7 .9 1.7 1.9 1.7 1.1 1.7 1.4 1.3 .6 1.2 1.5 1.2 .5 1.1 1 1.1 1.8 1.2 .7 1.1 1.6 1.2 2.1 1.2 .6 1.3 2.9 1.3 .6 1.3 2.5 1.3 1.3 1.3 1.9 1.3 1.3 1.3 1.7 1.3 .9 1.3 0 1.3 2 1.3 2.1 2 1.3 1.8-.9 1.8 1.3 1.8-.3 1.8 .3 1.8-1.1 1.7 1 1.7-.2 1.6 .1 1.7 1.5 1.6 .7 1.7 1.4 1.6 .5 1.6 1.7 1.7 1 1.6 1.2 1.7-.7 1.6 1.2 1.6 1.8 1.7 .4 1.6 .7 1.7 1.1 1.6 .6 1.6 .3 1.5 1.5 1.5 1.6 1.5 1.3 1.6 .8 1.5 .3 1.5 .5 1.5 1 1.5 1.1 1.6 .2 1.7 1.6 1.6 1.9 1.7 1.3 1.6 .3 1.6-.2 1.7 .7 1.6 1.7 1.5 .7 1.9 1.1 1.4 1.7 1.3 .7 1.4 1.7 1.4 1.8 1.3 0 1.4 2 1.4 .5 1.3 1.8 1.4 .2 1.3 2.2 1.1 1.5 1 .6 .2 .5" fill="none" stroke="#4a3964" stroke-width="1.9" stroke-linejoin="round"/><path d="M654.6 186.0l2.1 .2 1.8 .3 1.8 .8 1.9 2.3 1.8-.6 1.8 .7 1.9 .6 1.8-.3 1.8-.2 1.9-.5 1.8 0 1.7 .6 1.8-1.2 1.8 0 1.8 1.6 1.8-2.7 1.8 .7 1.8-.4 1.9-.1 1.9 0 1.8 .3 1.9 1.3 1.8-.3 1.9 .5 1.8 1.6 1.8-.2 1.8 0 1.9-.6 1.8-.8 1.9-.4 1.8 .9 1.9-.5 1.9 .8 1.8-1.4 1.8-.4 1.8 .9 1.7 .7 1.7 .1 1.7 .5 1.7 .5 2.3 2.6 1.8-.5 1.9 1.1 1.8-.6 1.8 1.2 1.6-1.9 1.4-2.1 1.5-2.5 1.4-.2 1.2-1.2 .8-1.4 .6-1.7 .5-.8 .6-1.3 .5-2.6 .6-1.7 .5-2.6 .6-2.6 .5-2.2 .6-2.1 .5-1.7 .6-1.8 .5-1.8 1.4 .5 1.3 .9 .9 .7 .9 2.8 1 2.1 .9 2 1 1.1 .9 1.9 1 2.1 .9 1.7 .9 .5 .7 1.4 .5 1.6 .6 1.2 .5 2 .6 2.5 .6 2.8 .5 .5 .6 2.2 .5 2.2 .6 2.1 .6 1.9 .5 .7 .6 1.9 .5 1.9 .8 2.1 1.2-1.6 .6-2 .6-2.7 .7-1.4 .6-1.3 .6-2.9 .6-2.5 .6-1.9 .7-.7 .5-2 .5-2.2 .2-2 .3-.4 .3-1.9 .2-1.6 .3-1.7 .3-2.1 .3-.7 .2-1.4 .3-1.5 .3-2.2 .2-1.1 .3-1.7 .3-3.4 .3-2.1 .2-1.4 .3-1.9 .2-2.4 .3-2.5 .2-2 .3-2.3 .2-.8 .3-2 .2-.9 .3-1.1 .2-2.2 .3-2.3 .2-2.3 .2-1 .3-2.2 .2-1.9 .3-1.3 .2-1 .3-1.8 .2-1.1 .8-1.6 2-1.5 1.8 .9 1.8-.9 1.8-.1 1.7 1.6 1.5 1.5 1.4 1.5 1.4 .5 1.4 1.6 1.5 1.3 1.4 .6 1.8 1.8 1.9-.9 1-2.5 1-1.5 1.1-1.7 1-2.1 1-1.6 1-1.1 1.4-2.1 1.8 2.1 1.2 1.8 1.1 1.5 1.1 .9 1.2 1 1.1 1.8 1.1 2.3 1 1.1 .8 1.8 .7 .9 .8 2.3 .7 1.9 .8 1.6 .7 2.2 .7 1.3 .8 1.3 .7 2.2 .8 1.2 .7 1 .8 2.6 .8 .4 .8 2.3 .8 1.6 .8 1.2 .8 2.2 .9 1.5 .8 .7 .8 1.1 1 1.4 1 1.7 1 1.6 1 1.7 1 1.7 1 .9 1 1.5 1 2.9 1.1 2.3 1.7 .5 1.5 1.3 1.4 .6 1.5 1.1 1.4 .9 1.4 1.4 1.6 .8 1.5 1.3 1.6 .9 1.5 1.4 1.6 .1 1.5 1 1.6 1.1 2.2 .7 1.8 1.1 1.8-.4 1.8-.6 1.7 .7 1.8 1.7 1.8 1.2 2.3-.1 2.2-1.4 1.7-1 1.6-.4 1.7-1 1.6-1.2 1.6-.7 1.7-.3 1.7-1.3 1.8 0 1.7 0 1.8 0 1.8-.3 1.8-.4 1.8-.5 2.3-.4 2.3-.2 1.7 1.3 1.8 .7 1.7 .2 1.7 .7 1.7 .1 1.7 .5 1.7 0 1.7 1.5 1.7-.1 1.7 .8 1.7 .5 1.8 1.7 1.7 .9 1.7 0 1.7-.1 1.8-.8 1.9 .4 1.8-.6 1.8 .2 1.8 1 1.9 .1 1.8 .1 1.8 1.6 1.8-.5 1.9 .2 1.8-.2 1.8-.1 1.8 0 1.9 1.2 1.8 0 1.8 .7 1.8 .7 1.9-.4 1.8 0 1.8 .9 1.9-.2 1.6-.1" fill="none" stroke="#4a3964" stroke-width="1.9" stroke-linejoin="round" stroke-dasharray="4 3"/><path d="M654.5 189.0l1.9 .2 1.7 1 1.7 2 1.7-.7 2.4 .1 1.8 .4 1.9-1.5 1.8-.9 1.8-.6 1.8-.4 1.8-.2 1.8-1.6 1.7 .9 1.7-.7 1.8 .3 1.7 .1 2.4-1 2.4-.3 1.8 0 1.8-.4 1.8 0 2.4 .2 2.3 1.6 1.7-1.1 1.8-.2 1.7-.6 1.8 1.9 1.7 .1 1.8 .9 1.8 1.9 1.8 .4 1.8 .2 1.9 .3 1.8 .7 1.7-1.9 1.8 1.4 1.7-.4 1.8 .1 1.7 .4 2.3 1.2 2.3 1.2 1.7-1.4 1.8 0 1.7 0 1.6-.9 1.5-3 1.5-1.4 1.5-.3 1.4-1.6 .7-2.1 .5-1.5 .4-1.8 .4-1.9 .5-1.7 .4-2.4 .4-2.5 .5-1.6 .4-.5 .4-2.2 .5-.7 .4-1.5 .4-1.6 .4-2.6 .5-.9 .4-1.4 .4-3.1 .5-.8 1.6 .4 .7 1.7 .7 1.3 .7 2.6 .8 1.2 .7 2.4 .7 .9 .7 1.3 .7 1.1 .7 1.7 .8 1.7 .7 1.6 .6 2.6 .6 2 .5 2 .4 2 .5 2.4 .5 1.7 .5 1.5 .5 1 .4 1.5 .5 2.9 .5 2.4 .5 .7 .5 1.6 .5 1.9 .4 1.4 .5 2.5 .5 2.4 .5 1.7 .5 2.1 .6 2.6 1-2.1 .6-1.6 .5-2.6 .5-2.1 .5-.9 .5-1.4 .6-2.5 .5-2 .5-2.2 .5-1.2 .5-1.5 .5-2 .5-2.7 .2-2.4 .2-1 .2-1.6 .2-2.2 .2-1.1 .2-2.7 .2-2.2 .2-.6 .2-1.8 .2-1.8 .2-1.5 .2-1.6 .2-1.3 .2-3 .2-1.7 .2-2 .2-2.2 .2-1.5 .2-1.7 .2-1.2 .2-1.9 .3-1.5 .2-1.4 .3-1.7 .3-2.7 .3-1.2 .3-1.9 .2-2.3 .3-1.7 .3-2.4 .3-2.5 .3-.3 .2-1.6 .3-3.2 .3-1.3 .3-1.1 .3-2.8 1.3-1.4 1.5-1.3 1.6-.9 1.5-1.5 1.9 .6 1.8 1.9 1.3 1 1.3 1.5 1.3 1.5 1.3 .6 1.8 1.4 1.9-1.6 1.4-.5 1.4-1.6 1.4 0 1.4-1.7 1.4-1.2 1.5-.6 1.4-1.5 2.1-1.1 2.3 .6 1.9-.3 1.8 1.7 1.7 1 1.9 .6 1.1 1.3 1.1 1.6 1.2 1.4 1.1 1.3 1.2 1.7 1.1 1.4 1.2 1.2 1.9 .7 1.4 1.1 1.4 .8 1.5 1.2 1.4 .9 2.1 1.5 2.2-.3 1.7 1.8 1.7 .7 1.7 .8 1.7 1.1 1.8-.8 2.2 0 1.9 1.1 1.5 2.1 1.4 .4 1.4 .7 1.4 1.9 1.5 .7 1.4 1.5 1.3 1.8 1.2 1.3 1.1 .5 1.1 2.1 1.2 1.9 1.1 .6 1.2 .5 1.1 1.3 1.1 2.5 1 1.8 .9 .8 1 2.3 1 2.2 1 1.6 .9 .4 1 1.5 1 1.1 1 1.2 1 1.8 1 2.1 1 1.5 1.2 1.5 1.1 .8 1.1 1.7 1.2 2.2 1.1 .7 1.2 1.1 1.6 2.1 2.2 .5 1.7 1.3 1.7 .4 1.7 1 1.7 1.2 1.7 .6 1.7 .5 1.6 .6 1.7 2 1.6 .3 1.6 .2 1.7 .9 1.6 1.5 1.7 1.4 1.7 .5 1.8-1 1.9 .2 1.8-.2 1.8 .4 1.9 .3 1.8 .2 1.9 .5 1.8 .3 1.8 1.6 1.7 .7 1.7 .4 1.7-.2 1.7 1.1 1.7 1.2 1.7 .4 1.7 1.6 1.7 1.3 1.7 .2 1.7 1.3 1.6 1.3 1.6 1.4 1.6 .2 1.6 .4 1.6 1 1.5-.1 1.6 .5 1.6 1.8 1.6 .4 1.5 1.3 1.6 1.6 1.6 .1 1.5 1.2 1.3 1.7 .9 .2" fill="none" stroke="#8c5872" stroke-width="1.9" stroke-linejoin="round"/><path d="M654.5 187.9l2 .6 1.7 2.8 1.8 1.6 1.7 1.4 1.8-1.1 1.9 .8 1.8-.6 1.9-.5 1.9-.4 1.8 .6 1.8-2.2 1.8-.9 1.8 .5 1.8-1.9 1.7 .8 1.8-.9 1.8-.5 1.9-1.1 1.8 1.3 1.9 0 1.8-2.5 1.9 .1 1.8 .9 1.8-.7 1.8 1.2 1.8 1.3 1.7-.4 1.8 1.1 1.8-.3 1.8 .4 1.8 .8 1.8 .8 1.9 1 1.8-.1 1.8-.2 1.7 1.7 1.7 .6 1.7-.6 1.7 1.9 1.7 1.3 2.3-.7 2.3-1.6 1.7 .8 1.7 .6 1.7-.7 1.6-2.3 1.6-.3 1.6-1 1.5-2.1 1.8-1.3 .9-2.6 .4-1.1 .4-1 .4-2.2 .4-2.7 .4-2.6 .4-2 .4-.7 .5-2.2 .4-1.4 .4-1.3 .4-2.2 .4-1.5 .4-1.1 .4-2.3 .4-1.3 .7-2.2 1.4 1.3 .9 2 .8 1.3 .8 1.4 .9 1.7 .8 1.4 .8 1.4 .9 1.8 .8 2.3 .8 1.2 .9 1 .7 2.9 .5 1.9 .5 2.4 .5 .7 .5 2.6 .5 2.3 .5 1.5 .5 .6 .5 1.6 .5 2.2 .5 .4 .5 1.8 .5 2 .5 .8 .5 3.1 .5 1.5 .5 1.5 .5 2.8 1.8-1.1 .6-1.9 .6-1.1 .6-2.1 .5-2.7 .6-.7 .6-1.8 .6-2.1 .6-1.7 .5-2.8 .6-1.8 .3-2.2 .3-1.4 .2-2.6 .2-1.1 .2-1.4 .2-.8 .2-1.1 .3-2.9 .2-2.2 .2-1.9 .2-.7 .2-2.4 .2-2 .3-1.5 .2-.8 .2-1.6 .2-2.5 .2-1.7 .3-1.6 .2-2.5 .2-2.3 .3-1.1 .3-.9 .2-2 .3-3.1 .3-1.2 .2-2.4 .3-2.3 .2-2.3 .3-2.2 .3-.9 .2-.6 .3-1.8 .3-2.3 .2-1.9 .3-2 .8-.6 2-.3 1.8 .7 1.8 1.1 1.8-.4 1.8 .2 1.7 .6 1.8 0 1.7 1.8 1.7-.3 1.7 1.1 2.2 .1 1.8-.1 1.3-2 1.4-2.3 1.3-.6 1.3-.9 1.3-2.5 1.3-.9 1.7-1.6 1.4 1 1 2.2 1 1 1.1 1.4 1 3 1 1.7 1 1.2 1 1.9 1.1 .4 1 1.3 1.1 2.3 1.1 1.9 1 1.6 1.1 1.7 1.1 1 1 2 1.1 1.6 1.1 1.2 1.1 2.1 1.3 .7 1.4 1.8 1.4 1.4 1.4 .6 1.4 1.3 1.5-.1 1.4 1 1.4 1.1 1.2 1.3 1.2 1.2 1.1 2.1 1.2 2.3 1.1 1.9 1.2 1.8 1.1 0 1.2 2.5 1.2 .7 1.3 1.6 1.3 .8 1.3 2 1.3 .6 1.3 2 1.3 .6 1.4 .3 1.4 1.5 1.4 .3 1.5 1.9 1.4 .4 1.4 .5 1.4 1.5 1.5 .6 1.6 .7 1.7 2 1.7 .3 1.7 1 1.7 .5 1.8 1.2 1.8-.1 1.9-.7 1.8-.8 1.8 .9 1.9-.6 1.8 .1 1.9-.8 1.8 .8 1.8 .5 1.8-.8 1.8 0 1.8 .4 1.8 1.3 1.8-.3 1.8 .7 1.7-.3 1.7 .2 1.7 1.2 1.7 .6 1.7 1.4 1.7 1.2 1.8 .2 1.7 .3 1.8 0 1.7 .1 1.8 1.6 1.8 .7 1.8 1.1 1.7-.5 1.8-.5 1.8 1 1.8 .4 1.8 .8 1.9 .9 1.8-.2 1.8-.2 1.9 1.2 1.8-.3 1.9 .4 1.8 1.1 2.1 .9 1.5 .4 1.5 .7 1.5 1.9 1.5 .6 1.5 1.2 1.5 1.8 1.5 1.2 1.5 1.1 1.5 .9 1.3 .5 1.3 2.5 .5 .5" fill="none" stroke="#8c5872" stroke-width="1.9" stroke-linejoin="round" stroke-dasharray="4 3"/><path d="M654.5 187.3l1.9 2.6 1.6-.3 1.7 1.4 1.7 2.1 2.2 .2 2.3-2.8 1.7-1.4 1.7 0 1.7-.7 1.7-2.3 1.8 0 1.9-.9 1.8 .5 1.9-1.7 1.8 .2 1.9-.1 1.8-.4 1.8-.9 1.8-.1 1.9 1 1.8 .4 1.8 .5 1.8 .5 1.8 .5 1.8 1.3 1.8 2 1.8 .9 1.8-.3 1.8 .8 1.8 1.6 1.7-1.8 1.8 .2 1.7 1.4 1.8 .9 1.7 .2 1.7 .3 1.7 .2 1.7 1.8 1.7 1.4 1.6-1 2.3 1.5 2.3-1.3 1.7-2 1.7 .1 1.7 .5 2.1-1.5 1.8 .1 1.2-1.1 1.3-2.3 1.6-1.1 .9-2.1 .4-2.4 .4-1.3 .3-1.2 .4-1.6 .3-3 .4-1.8 .4-1.2 .3-1.8 .4-2.7 .3-1.8 .4-1.7 .4-1.5 .3-1.7 .4-2.1 .4-1.8 .3-1.5 .4-1.6 .3-3 .4-1.9 .5-2.1 1.2 2.1 .7 1.9 .7 2.2 .6 1 .7 1.9 .7 1.7 .7 .6 .6 1.5 .7 2.2 .7 2.1 .6 2.8 .7 .3 .7 2.7 .7 1.8 .6 1.2 .4 2.6 .5 1.3 .4 1.7 .4 .9 .5 1.1 .4 2.5 .4 2.9 .4 1.6 .5 2 .4 1 .4 .9 .4 1.5 .5 1.7 .4 2.6 .4 1.8 .4 2 .5 2.3 .4 .6 .4 2.5 .4 2.8 1.5-1.9 .5-2.2 .4-1.8 .5-2.2 .5-1.3 .4-1.5 .5-1.9 .4-1.6 .5-.7 .4-2.4 .5-1.9 .5-1.5 .4-1.6 .3-1 .2-1.9 .2-1.9 .2-2 .2-2.5 .2-1.3 .2-2.6 .2-1.8 .2-1.1 .2-2.4 .2-1.7 .2-1.3 .2-2.5 .2-2.8 .2-1.4 .2-1.8 .2-2.4 .2-1.2 .2-2 .2-.7 .2-2.4 .2-2.9 .2-.9 .2-2.6 .2-2.5 .3-.4 .2-2.7 .3-2.3 .3-2.2 .3-.5 .2-2.2 .3-1.4 .3-1.7 .2-1.8 .3-2 .3-2.3 .3-1.3 .2-2.3 .3-1.1 .3-.8 1.3-1.9 1.5-.7 1.6-2.2 1.5-.4 1.9-.8 1.7 2.2 1.2 1.7 1.3 1.2 1.2 2 1.3 .9 1.6 1.9 1.8-.7 1.4-1.2 1.4-1.6 1.3-.5 1.4-1.2 1.3-2.5 1.3-.5 1.1-2.3 1.2-1.2 1.1-.5 1.1-1.6 1.2-2.1 1.1-1.3 1.7-1.2 2 1.4 1.5 .7 1.6 1.2 1.4 1.5 1.1 1 .9 1.1 .9 1.3 .9 2.7 1 1.2 .9 1.9 .9 2.2 .9 1.3 .9 1.1 1.5 .9 2 1.4 1.6 .6 1.5 2 1.6 1 1.5 .7 2.1 1 2.2 1.1 1.7-.1 1.7-.6 2.1-.5 1.8 1.3 1.3 1.9 1.3 .3 1.3 1.5 1.3 .7 1.3 1.9 1.2 1.5 1.2 1.3 1.1 2.7 1.2 .3 1.1 1.2 1.1 2.4 1.2 1.2 1.1 1.9 1.1 1.4 1 .7 1 1.5 1 1.5 1 2.9 1 1.4 1 1.9 1.1 .6 1 1.4 1.2 1.9 1.3 .8 1.3-.1 1.3 .8 1.4 2.2 1.3 1.1 1.3 .7 1.3 1.3 1.5 1.6 1.6 .8 1.9 .1 1.8-.6 1.8 1.8 1.7 .1 1.6 .5 1.4 1 1.4 1.5 1.4 1.4 1.5 .8 1.4 1.5 1.4 1.5 2.1 1.7 2.3 1 1.8 .9 1.8-.5 1.8 0 1.7-.4 1.8 .7 1.8 .3 1.8 .8 1.8 1.2 1.7 .5 1.8 .4 1.8 .1 1.8-.1 1.7 1.6 1.8-.2 1.8 1 1.7 .7 1.8 1.1 1.8-.4 1.7 .9 1.8 0 1.8-.1 1.7 .2 1.8 0 1.8 .2 1.7 1.3 1.8-.3 1.8 .6 1.7-.1 1.8 .3 1.8 1.5 1.8 1.2 1.7 .4 1.8-.7 1.8 1.3 1.7 .9 .8 .3" fill="none" stroke="#d09c9e" stroke-width="1.9" stroke-linejoin="round"/><path d="M654.5 188.1l1.9 .7 1.6 2.7 1.6 1.6 1.7 0 2.2 .8 1.8 .3 1.8-1.2 1.7 .1 1.8-1 1.8-.8 1.8-.5 1.8-.1 1.8-1.5 1.8-.1 1.9-2.1 1.8 .2 1.9-.5 1.8-.5 1.9 .1 1.9-1.9 1.8-.3 1.9 1.1 1.8-2 1.8 1.7 1.8 .3 1.7 1.7 1.8-1.2 1.7 2.1 1.8 .1 1.7 .8 1.8 2.8 1.8-.6 1.7 .1 1.8 1.2 1.7 2.2 1.8 .9 1.7 .4 1.7 .9 1.7 .2 1.8 .4 2.2 .8 2.2 .3 1.7-1.9 1.6-.7 1.7-1.2 1.6-1 1.6-1.1 1.5-3.2 1.4-2.1 1.5 .1 1.2-2.3 .8-.9 .4-1.3 .4-2.2 .4-1.4 .4-1.2 .3-1.5 .4-2.7 .4-2.3 .4-1.7 .4-.7 .4-2.2 .4-2.4 .4-2.4 .4-1.4 .3-1.3 .4-1.4 .4-1.9 .4-1.2 .6-1.5 1.3 1.2 .7 1.8 .7 .9 .8 2 .7 1.7 .7 1.2 .8 1.7 .7 1.5 .7 1.3 .8 1.4 .7 1.7 .7 2.6 .8 2.1 .6 1.4 .4 1.4 .4 1.3 .4 2.3 .5 2.6 .4 .7 .4 1.3 .4 1.4 .4 2.7 .4 .9 .4 2.8 .5 .8 .4 1.9 .4 2.3 .4 1.6 .4 2.3 .4 .8 .4 1.7 .5 2.9 .4 2.3 .5 2.3 .9-1.6 .5-2.9 .5-2.9 .5-.5 .4-1.8 .5-2 .5-1.2 .4-2 .5-1.9 .5-2.3 .5-2 .4-2.1 .5-1.7 .3-2.3 .3-.8 .2-2.4 .2-1.6 .2-.7 .2-1.7 .2-2.9 .2-1.7 .2-1.4 .2-1.7 .2-2.5 .2-.8 .2-1.6 .3-2.3 .2-2.8 .2-1.5 .2-1.4 .2-1.3 .2-1.6 .2-1.4 .2-2.7 .2-1.9 .2-2.3 .2-1 .3-2.4 .3-2.2 .3-1.3 .3-1.3 .3-1 .3-2.9 .3-1.6 .2-1.8 .3-2.1 .3-2.1 .3-1.4 .3-2.7 .3-2.5 .3-1.7 .5-2.3 1.5-1.6 1.6-.8 1.6-1.3 2-1.1 1.6 1.8 1.1 .5 1.2 1.3 1.1 2 1.2 1.5 1.1 .7 1.5 2.4 2.1-.7 1.3-1.7 1.3-1.6 1.3-1.4 1.2-.9 1.3-.8 1.3-2.1 1.3-2 1.3-.5 1.8-1.3 2.2 1.7 1.7 .8 1.7 .6 1.7 1.2 1.5 1.6 1.2 .6 1 .8 .9 1.7 1 2.3 1 2.3 1 1.6 1 1.8 .9 1.4 1 .3 1 1.1 1 2.4 .9 1.9 1 1.9 1 1.6 1 1.1 .9 1.6 1 2.4 1 2.3 1 1.3 1 .3 .9 1.5 1 2.6 1 1.3 1 2 1.1 .4 1.1 1.1 1 1.8 1.1 2 1.1 1.4 1 2.5 1.1 1.8 1.1 1.9 1 .5 1.2 1.3 1.3 1.3 1.5 2.2 1.4 .9 1.4 .9 1.4 1.2 1.5 1.8 1.4 1.2 1.4 .3 1.4 .2 1.5 .3 1.4 1.5 1.4 1.8 1.4-.2 1.5 1.4 1.4 1 1.5 2 1.5 1.6 1.5 1.1 1.6 .6 1.5 .9 1.6-.4 1.5 1.5 2.2 1.1 2.4-1.3 1.8 0 1.9-.6 1.8 .4 1.8 .2 1.9 .1 1.8 .3 1.8-.7 1.8-1.3 1.6-.2 1.7-1.4 1.6-1.5 1.6-1 1.7-.2 1.6-.3 1.7-.3 1.6-1.6 1.7-.9 1.7 .1 1.8-1.2 1.7-.4 1.7-.3 2.2-.5 2.1 1.1 1.6 .5 1.5 1.2 1.6 .6 1.5 .4 1.6 .8 1.6 1.5 1.6 1 1.5 .1 1.6 1.4 1.6 1.7 1.6 .8 1.6 1.6 1.6 .2 1.6 1.7 1.6 1.4 1.6 0 1.4 .5 1.4 1.2 1.3 .4 1.4 .7 1.4 2.3 1.3 1 1.4 1.4 1.4 .3 1.3 2.5 1.4 1.3 1.4 1.6 1.2 .6 1.1 1.1 .8 .5" fill="none" stroke="#d09c9e" stroke-width="1.9" stroke-linejoin="round" stroke-dasharray="4 3"/><g><line x1="1188.9" y1="80.89999999999999" x2="1188.9" y2="301.9" stroke="#161616" stroke-width="2.5"/><path d="M1185.7,100.1h3.2 M1185.7,118.3h3.2 M1185.7,136.5h3.2 M1185.7,154.6h3.2 M1185.7,172.8h3.2 M1185.7,191.0h3.2 M1185.7,209.2h3.2 M1185.7,227.4h3.2 M1185.7,245.5h3.2 M1185.7,263.7h3.2 M1185.7,281.9h3.2" stroke="#161616" stroke-width="1.6"/><line x1="1122.0" y1="191.0" x2="1451.5" y2="191.0" stroke="#161616" stroke-width="2.7"/><path d="M1123.2,191.0v3 M1254.6,191.0v3 M1320.2,191.0v3 M1385.9,191.0v3 M1451.5,191.0v3" stroke="#161616" stroke-width="1.6"/><text transform="translate(1123.2,212.8) scale(1.05,0.88)" text-anchor="middle" font-family="'Liberation Serif', 'Times New Roman', serif" font-weight="bold" font-size="16.5" fill="#222">-200</text><text transform="translate(1254.6,212.8) scale(1.05,0.88)" text-anchor="middle" font-family="'Liberation Serif', 'Times New Roman', serif" font-weight="bold" font-size="16.5" fill="#222">200</text><text transform="translate(1320.2,212.8) scale(1.05,0.88)" text-anchor="middle" font-family="'Liberation Serif', 'Times New Roman', serif" font-weight="bold" font-size="16.5" fill="#222">400</text><text transform="translate(1385.9,212.8) scale(1.05,0.88)" text-anchor="middle" font-family="'Liberation Serif', 'Times New Roman', serif" font-weight="bold" font-size="16.5" fill="#222">600</text><text transform="translate(1451.5,212.8) scale(1.05,0.88)" text-anchor="middle" font-family="'Liberation Serif', 'Times New Roman', serif" font-weight="bold" font-size="16.5" fill="#222">800</text><text transform="translate(1183.4,105.3) scale(1.05,0.88)" text-anchor="end" font-family="'Liberation Serif', 'Times New Roman', serif" font-weight="bold" font-size="16" fill="#222">-5</text><text transform="translate(1183.4,287.1) scale(1.05,0.88)" text-anchor="end" font-family="'Liberation Serif', 'Times New Roman', serif" font-weight="bold" font-size="16" fill="#222">5</text><text transform="translate(1287.9,298.9) scale(1,0.86)" text-anchor="middle" font-family="'Liberation Serif', 'Times New Roman', serif" font-weight="bold" font-size="18.6" fill="#1e1e1e">Latency (ms)</text><text transform="translate(1097.9,191.0) rotate(-90) scale(1,0.86)" x="0" y="0" text-anchor="middle" font-family="'Liberation Serif', 'Times New Roman', serif" font-weight="bold" font-size="18.6" fill="#1e1e1e">Amplitude (μV)</text><text x="1171.0" y="86.0" text-anchor="end" font-family="'Liberation Serif', 'Times New Roman', serif" font-size="30" fill="#111">Fz</text></g><path d="M1124.1 187.1l2.2-3.1 1.8 1.4 1.8 0 1.8 1.4 1.7 1.3 1.7-2 1.6 1.4 1.7 1.9 1.6-.6 2.1 1.6 2.1-.2 1.6 .2 1.6-1.3 1.5 0 2.2 2.8 2.4 1.9 1.8-3.1 1.7 .5 1.8-.4 2.4-.2 1.8-2.2 1.7-.4 1.8 1.6 1.8-.8 1.7-2.1 1.8 .7 1.9 2.3 1.8-1.7 1.9 .7 1.8-.9 1.9 .8 1.8-3.1 1.8-1.2 1.9-1.4 1.8 1.5 2.3 2.2 1.8-.2 1.7 .3 1.8 1 1.7-.1 1.8 1.2 1.7-2.1 1.8 .9 1.8-2.2 1.8 .2 1.9 1.7 1.9-.8 2-1.2 1.5 .4 1-.9 .9-1.1 1-1 1-3.8 1 .2 1-1.4 1-2.9 .9-.6 1-.7 1-.6 2-1 .8 2.8 .8 .5 .8-1.1 .8 1 .8 2.4 .8 3.5 .7 3.1 .8-.5 .7 .8 .6 1.6 .6 .7 .6 3.7 .6 .3 .6 3.5 .7 3.6 .6 .7 .6 2.3 .6 .9 .6 3 .6 .7 .6-.7 1.9-.2 .8-1.4 .8-2.8 .8 .4 .8-.1 .8-1.7 .8-3.8 .7-4 .5 .5 .3 .3 .4-3.3 .4-.8 .3-1.5 .4-3.2 .4-2.7 .3-.2 .4-1.2 .4-.7 .3-3.7 .4-1.4 .4-3.7 .4 .3 .3-2.7 .4-1.1 .4-.9 .4-1.6 .4-1.3 .3-1.2 .4-1.2 .4-3.9 .4-2.3 .4-1.7 .4-2.1 .3-3 .4-1.1 .4-.1 .4-3.7 .4-2.9 .4-.5 .3-1 1.6 .4 1.7-.4 1.7 2.4 1.7-1.1 1.7-.8 1.5 1.6 1.4 .9 1.3 3 1.3 2.2 1.3 .8 1.3 2.3 1.7 1.1 1.8-2.2 1-1.6 1-1 1.1-.2 1-2.2 1-.1 1-.5 1-.9 1.2-2.4 1.2-4.3 1.3-.9 1.3-2.3 1.3-1.5 1.3-1.8 1.7-3.2 1.6 2.5 .8 2.4 .9 .9 .8-.1 .8 3.8 .9 1.5 .8 .6 .8 2.6 .8 .9 .9 3.4 1 1.7 1.3 1.8 1.3-1.2 1.3-.2 1.3 3.5 1.3 2.5 1.3 1.3 2.1 2.9 1.8 .4 1.8-1.4 1.8-.9 1.8 2.5 2.1 1.2 1.5-.4 1.4 1.2 1.4 0 1.5 2.2 1.5-.3 1.5 1.6 1.7 .1 1.8 .3 1.7 1 1.6 2.8 1.5 .3 1.2 1.5 1.2 3.5 1.1 1.4 1.2-.5 1.1 2.2 1.1 1.1 1.2 1.1 1.3 3 1.8 .2 1.5-.5 1.4 3.2 1.5 2.9 1.4-1.4 1.4 .5 1.5-.5 1.4 .8 1.5 1.8 1.4 2.2 1.4 2.8 1.5 2.7 1.5-.4 1.6 1.1 1.5 1.8 1.6 .6 1.5 1.4 1.6 1.5 1.6 1 2.2-.9 1.7 .8 1.7-.3 1.7 2.1 1.7 1.4 1.7 .8 1.7 .4 1.8-.7 1.7 .4 1.8-1.5 1.8 .9 1.7 .4 1.8-.5 1.8 .4 1.8 0 1.7 1.5 1.8 .9 1.7 1.8 1.7 2 1.7 .4 1.8-1 1.7 2.3 1.7-1.7 1.7-1 2.3-.3 2.2-.4 1.8 .1 1.7-.8 1.7 .9 1.7-1.5 1.7-2 2.2 0 1.8 0 1.3 1.8 1.4-.1 1.3 2.8 1.3 0 1.3 2.2 1.3 2.4 1.3 2.3 1.3 1.2 .9 .4" fill="none" stroke="#4a3964" stroke-width="1.9" stroke-linejoin="round"/><path d="M1124.2 193.1l2.2 1.5 1.9 2.4 1.9 1 1.8-1.6 1.6-3.6 1.6-5 1.5-4.8 1.6-3.5 1.5 2 2.1-1.5 2.1-1.7 1.6-.9 1.5 2 1.6 1.9 2.2 3.7 2.3-.7 1.8-2.5 1.7-1.4 1.8 3.2 2.3-1 1.7 .8 1.7-.5 1.7 3.1 1.7 1.2 1.7 1.9 1.7 1.1 1.8 3.6 1.9 2.3 1.8-1.1 1.9 .6 1.9-.9 1.8-1.1 1.9-1.6 1.8 1.3 1.8 2.1 2.4 1.2 1.7-.9 1.7-.9 1.7-.1 1.7-1.5 1.8-3.4 1.9 .8 2-2.2 1.9 .2 1.9 1.6 1.9-.3 1.9-1.2 2-.7 1.4-.4 .9-2.5 .9-2.8 .9-3.6 .9-1.4 1-.9 .9-2.7 .9-.9 .9-1.9 .9-2.9 .9-1.4 .9-1.4 2 .8 .8 2.4 .8 2.8 .8 .4 .7 .6 .8 .9 .8 3.2 .8 1.2 .8 1.1 .7 2 .5 .5 .5 1.4 .5 1.2 .5 1.1 .5 4 .5 4.4 .5 1.4 .5 1.5 .5 2.6 .5 3.1 .5 1.7 .5 1.7 .5 1.2 .5 1.3 .7 3.2 1.3-.3 .7-1.4 .7-2.4 .7-3.1 .7-1.5 .7-2.3 .6 .1 .7-2.5 .7-2.8 .5-3.5 .4-.8 .4-.5 .4-3.3 .3-3.5 .4-1.9 .3-2.4 .4-2.2 .3-2.3 .4-2.2 .4-1 .3-1.3 .4-1.8 .3-1.4 .4 1 .3-.8 .4-1.1 .5-2.3 .4-4.3 .5-.8 .4-3.8 .4-.8 .5-.9 .4-.6 .5-.2 .4-2.5 .4-1.8 .5-3.1 .4-1.6 .5-.3 .4-1.6 1.6-3.5 1.7 0 1.7-.4 1.7 1.8 1.7-.4 1.5 2.6 1.4 .2 1.3 3.7 1.3 .3 1.3 2.9 1.3 .8 1.7-.5 2-2.5 1.1 1.1 1.2-2.7 1.1-1.7 1.1-1.2 1.2-2.6 1.1-2.6 1.3-1.2 1.9-1.9 1.4 1.5 1.5 .3 1.4-2.7 1.8 1.3 1.5 1.7 .7 .6 .7 2.9 .7 1.6 .7 3.6 .6-.6 .7 1.6 .7 1.3 .7 .4 .7 2 .7 3.6 .6 .3 .8 3.3 .9 2.3 1.1 1.7 1 1.2 1 1.3 1-.1 1 3.1 1-.2 1-.1 1.1 2.3 1.1 .7 1.1 3.5 1.2 3.1 1.1 .5 1.2-.6 1.1 .5 1.1 1.2 1.3 2.3 1.8 2.2 1.4 3 1.5 2.5 1.4 1.8 1.5-1 2.1 1.9 2.3-1.1 1.9-2.8 1.8-.8 1.8 1.8 1.8 1.9 1.8-1.9 1.8 1.3 1.8-.6 1.7-1 1.8-1 1.8 1.2 2.4 .7 2.2-2 1.8 .9 1.7-.9 1.7-1.6 1.7 1.3 1.7-1 2.2 .2 1.6-2.6 1.6 .9 1.5-2.9 1.6 1.1 1.5 .2 1.6-.5 2.1-3.3 2.3-.7 1.7-.8 1.7 0 1.7 .2 1.7 3.1 1.7-1.1 1.7 2.5 1.7 2.2 1.7 2.6 1.7 1.6 1.8-1.3 1.7-.6 1.7-1 1.7 1 1.7-1.3 1.7-.1 1.7 0 1.8 .3 1.8 .4 1.8 .2 1.8-.2 1.7 .4 1.8 1.4 2.3 1.4 1.8 1.2 1.1 1.3 1 2.9 1.1 2.3 1.1 3.2 1.1 1.2 1.1-.1 1 1.7 1.1 3.2 1.1 .5 1.1 2.5 1.4 .6 .8 2.8 .7-.4 .7 .1 .7 4.1 .7 .5 .7 2.1 .6 1.2 .7 4.2 .7 1.3 .7 .4 .7 4 .7 2.8 .7-.6 .8 .3 1 3.1 1.1 1.6 1.1 1.1 .5-.2" fill="none" stroke="#4a3964" stroke-width="1.9" stroke-linejoin="round" stroke-dasharray="4 3"/><path d="M1124.2 187.7l2.1-1.6 1.8-2.6 1.9 .2 1.7-2.3 1.6-1.3 1.4-.5 1.4-2.6 1.4-3.7 1.4-2.2 1.4-2.1 1.8 4.5 1.9 3.2 1.3 5 1.4 3.8 1.4 1.6 1.8 1.4 2.2 3.1 1.7-2.7 1.7-3.2 1.7 1.6 2.3 .1 2.2 1.1 1.7 2.6 1.7-.5 1.7 2.2 1.7 2.1 1.7-.4 1.7 .3 1.9 0 1.9-2.7 1.8 1.6 1.9-3.5 1.9 1.2 1.8 2 1.8-.6 1.8-3.3 1.8 2.1 2.3 1.2 1.7-3.5 1.7-3.2 1.7-.8 1.7 2.1 1.8-1.7 1.8 .7 1.7-.5 1.8 .3 1.8 1.7 1.8-.1 1.8 .4 1.5-3.3 1.3 .2 .7 .3 .7-3.2 .7-.8 .7-2.8 .7-2.8 .7-3.7 .7-.1 .7-.3 .7-1 .7-.7 .7-1.1 .7-4.1 .7-.3 .7-1 .7-2 1.9-1.8 .6 2.1 .6 .5 .6 1.5 .6 2.3 .6 .8 .6 1.8 .6 1.3 .6 3 .6 2.5 .6 2.4 .6 .5 .5 2.1 .5-.2 .4 .2 .4 4.1 .3 .6 .4-.1 .4 2.8 .4 1.5 .3 2.8 .4 2.9 .4 3.1 .3 2.6 .4 1.2 .4 2.4 .4 .6 .3 3.1 .4 1.1 .4 2.1 .4-.2 .3 2.9 .4 1.7 .5 .9 1-2.8 .5-1.9 .6-2.6 .5-3.2 .5-1.5 .6-3.1 .5 1.1 .5-2.8 .6 .8 .5-4 .5-1.6 .5 .4 .3-2.1 .3-1.8 .2-.9 .3-1.2 .3-.8 .2-2.1 .3-3.4 .2-.6 .3-3.8 .3-1.7 .2-3.1 .3-3.9 .2 .1 .3-2.6 .3-1.4 .2-2 .3-2.9 .2 .3 .3-1.1 .3-1.3 .2-1.8 .4-3.1 .3-3.2 .5-2.4 .4 .6 .4 .3 .4-1.2 .4-2 .4-4.2 .5-.3 .4-2.4 .4-3.7 .4-3.1 .4 .1 .4-.9 .5-1.1 .4-1.5 .9-1.5 2.1 1.7 1.8-.3 1.8-.4 1.8 1.4 2 1.9 1.1 .7 1.2 1.6 1.1 2.1 1.2 1.4 1.1-1.2 1.1 .8 1.5-.3 1.4 .8 1-.9 1-.5 1.1-3.5 1-2.5 1-.1 1-2.1 1-1.9 1.1-1.3 1.1-.8 1.2-1.7 1.1-.3 1.1-.4 1.2-1.5 1.1-1.5 1.5-3 1.9 .4 1.2-.4 1.1 2.3 1.2-.3 1.1 1.2 1.1 1 1.2 3.3 1.3 1 1.8 1.6 1.5 2.5 1.4-.7 1.5 1 1.4 1.9 1.4 1.8 1.5-.7 1.4 .8 1.5 .3 1.4 2.2 1.4 1.6 1.4 .5 1.4 3.4 1.3 3.1 1.3 2.1 1.3-.6 1.3 .4 1.3 1.8 1.3-.8 1.4 2.3 1.5-.1 1.4 3.8 1.5 1.8 1.4 .1 1.8 .2 1.3 .2 1.1 1.5 1.1 2.8 1.2 1.1 1.1 .6 1.2 .4 1.1 1.3 1.2 2.6 1.2 1.5 1.3 2.8 1.3-.2 1.3 2.4 1.3 1.2 1.4 .7 1.3 .7 1.3 1 1.3 0 1.3 1.3 1.3 3.4 1.3 2.4 1.3 .7 1.4 .6 1.6 2.4 1.7 .4 1.7-.4 1.7 1.9 1.7-.9 1.7 2 1.7-.5 1.8 1.3 1.7 2 1.7-.5 1.7-.1 1.7 1.9 1.7-.8 1.7 .1 1.8 2.6 1.7-.9 1.8 .5 1.8-.6 1.7-.2 1.8 2 1.8 .6 1.8 .6 1.7-.6 1.8 2.4 1.8 .1 1.7-.8 1.8 .1 1.8 1.9 1.7 .1 1.8 2.4 1.8 1.2 1.7 1.3 1.8 .6 1.8-.6 1.7-1.5 1.8 1.1 1.8-.4 1.7 2.4 1.8-.5 1.7-1.2 1.8 1.1 1.8-1.2 1.7 1.6 1.8 1.9 1.8-.2 1.7 0 .9 .9" fill="none" stroke="#8c5872" stroke-width="1.9" stroke-linejoin="round"/><path d="M1124.2 187.1l2.2-1 1.9 1.6 1.9 1.2 1.7-3.8 1.6-1.9 1.5-1.1 1.5-1 1.4-1.7 1.5 1.2 2-1.7 1.9 1.3 1.4 2.3 1.4 .5 1.4 .4 1.5 3.9 2 1.3 2.4-2.3 1.9-2.9 1.8 2.3 1.8 0 1.8 1.6 1.8-.5 1.9 4.4 1.8 3.5 1.8 1.5 1.8 .1 1.8-.1 1.8 .3 1.8-2.5 1.9-1.8 1.8 1 1.8-1.2 1.8-1.6 1.7 3.7 1.7-1.2 1.8 .3 2.2-1.8 2.2-4.3 1.6-.2 1.5-2.1 1.6 0 1.7 2.8 1.7-2.8 1.8 2.2 1.7-.8 1.8-.6 1.9-.9 1.9 .4 1.7 .4 1.6-2 .8 0 .8-2.5 .8-.7 .8-3.3 .8-1.1 .7-1.6 .8-.4 .8-.5 .8-3.2 .8-.5 .8-4 .8-.2 .8-2.2 .8-.6 1.9-.1 .6-.1 .7 .7 .6 2.8 .7 3.2 .6 1.5 .7 0 .6 1.8 .6 3.6 .7 .9 .6 3.2 .6-.6 .4 1.6 .4 .2 .4 3.2 .4 2.6 .3 1.1 .4 1.9 .4 1.3 .4 3 .4 3.4 .4 3 .4 1 .4 .1 .4 3.2 .4 2.5 .3-1.1 .4 .3 .4 3.6 .4 .7 .6 .4 1.1-.7 .6-.1 .6-1.3 .6-3.7 .7-.7 .6-1.9 .6-2.6 .6-.9 .6 .2 .7-2.3 .5-2.3 .5-1.5 .3-3.4 .2-3.5 .3-1.8 .3-.7 .3-.5 .3-.6 .2-3.8 .3-1.9 .3-1.6 .3-2.8 .3-1.7 .2-1.2 .3-2.9 .3-2.6 .3-3.2 .3-.8 .2-.2 .3-.4 .4-2.5 .4-2.9 .4-2.7 .4 .3 .4-.1 .5 .1 .4-2.2 .4-1.1 .4-4.3 .4-2.8 .4-.4 .5-2.8 .4 0 .4-3.5 .4-2 .4-1 1.6-1.2 1.7-.2 1.7 1.3 1.7-.3 1.7 3.2 1.5 .3 1.4 2.3 1.3 1.2 1.3 1.8 1.3 .8 1.3 2.5 1.7-1.2 2-2.2 1.1 .2 1.2 .3 1.1 0 1.1-2.1 1.2-3.4 1.1-3.4 1.3-.9 1.9-2 1.4-1.1 1.5-1.2 1.4-2.1 1.8 .4 1.7 3.3 .8 2.3 .9 1 .8 .6 .8-.1 .9 2.4 .8 3.1 .8 2.9 .8 2.2 .9 2.9 .8 .1 .9 .7 1-.7 .9 1.4 .9 1.5 .9 1.7 .9 0 .9 2.9 .9 2.7 1 1 1 3.5 1.1 1.2 1.1 2.4 1.2 1.4 1.1 1.4 1.1 2.8 1.2 1.8 1.1 .4 1.3-.2 1.9 .7 1.4-.7 1.5 1.7 1.4 1.2 1.4 1.1 1.5 3.5 1.6-1.2 1.5-.1 1.6 2.3 1.5 1.1 1.6-.7 1.5-.4 1.6 2.4 1.5 2.2 1.6 2 1.6-.8 1.5 1.2 1.6 .2 1.5 3 2.1 .8 2.3-.8 1.7 1 1.7-2.6 1.7 0 1.7 .9 1.7-1.8 1.5 .3 1.3-3.4 1.3 .5 1.3-2.2 1.3-1.2 1.3-3 1.4-.7 1.3-2.5 1.9-.3 2.2 .9 1.8-1 1.7 2.1 1.7-1 1.7 3.1 1.7 .9 1.8 .2 1.7-.4 1.8 2.7 1.8-1.1 1.8 1.2 1.7-.1 1.8 1.4 1.8 1.8 1.8 .3 1.8 1.3 1.8-.1 1.9-2.1 1.8 .2 1.9-1.8 1.8 1.4 1.8 .8 1.9-.1 2.2-.9 1.5 1.7 1.5-.6 1.5-.4 1.5 2.7 1.5-1.2 1.5 3.1 1.5 2.1 1.5 1.5 1.5 .3 1.5-.4 1.4-.3 1.5 .9 1.4 1.7 1.4 3.6 1.5-.9 1.5-.3 1.6-.3 1.7 .9 .9-.1" fill="none" stroke="#8c5872" stroke-width="1.9" stroke-linejoin="round" stroke-dasharray="4 3"/><path d="M1124.1 186.7l2.1 .7 1.7 1 1.8-1.9 1.7-1.1 1.6-4.6 1.5 .5 1.5 .2 1.5-.8 1.5-.6 1.4 1 1.9-1 1.9 3.4 1.4 2.2 1.3-.8 1.4 0 1.9-.5 2.2-.2 1.7 1.5 1.7-2.3 1.8 .1 2.3 1.3 2.3 4.2 1.6 .8 1.7-2.1 1.7 3.6 1.7 2 1.7-.1 1.8 .7 1.7 .6 1.8 1.9 1.8-.4 1.8-1.8 1.8 1 1.7 .3 1.8 1.8 1.7 1 1.7-2.5 2.2 1.8 1.6-3.4 1.6 .3 1.6-2.1 1.6-2.4 1.6 .9 1.7-.2 1.8-2.5 1.8-2.2 1.7-1.3 1.8-.8 1.7-1.9 1.7-.5 1.8-3 1-1.7 .6 .9 .7-1.4 .6-2.6 .7-1.4 .6-1.7 .7-1.6 .6 .3 .7-2.6 .6-2.8 .6-2.8 .7-2.5 .6-1.8 .7-2.4 .6 .5 .7 .3 .6-2.6 1.8 .9 .6 3.5 .6 1.8 .5 .5 .6 3.7 .5 2.2 .6 0 .6 3.3 .5 1.4 .6-.2 .5-.1 .6 .8 .6 1.6 .6 3.4 .3 1.3 .4 3.9 .3 2.2 .3 1.2 .3 .3 .3 .4 .3 1 .3 3.6 .3 .5 .4 2.1 .3 1 .3 4.3 .3 3.7 .3 .1 .3 3.1 .3 3 .3 2.1 .3 1.5 .4 2.2 .3 1.1 .3 1.7 .3 2.1 .3 1.4 1.3-.3 .4-.9 .5-.3 .5-4.7 .4-.8 .5-2.1 .5-2.8 .4-3.4 .5 0 .5-3.7 .5-.1 .4-1.6 .5-.8 .3-.7 .3-4.1 .2-1.4 .3-2.9 .2-3.8 .3-2.5 .2 .5 .2-.1 .3-1.6 .2-2.7 .3-2.3 .2-3.7 .3-2.1 .2-2.2 .3-2 .2 .9 .3-2.5 .2-1.8 .3-1.8 .2-1.4 .3-.4 .2-1.4 .3-1.4 .2-2.5 .3-2.5 .3-1.5 .3-2.8 .3-1.1 .3-1.3 .3-3.7 .3-1.4 .3-2 .3-2 .3-1 .3-2.1 .4-1.2 .3-.6 .3-1.7 .3-2.4 .3-2.8 .3 0 .3-3.3 .3-1.3 .3-1.9 .3-1.7 .6-2.5 1.6-1.2 1.7-2.1 1.8 1.9 1.4 2.4 1 .4 1 2.8 1.1-.7 1 1 1 1.7 1 2.7 1.8-.6 1.5-1.3 1.1 .7 1.2-2.3 1.1-3.2 1.1 .1 1.2-1.1 1.1-1.6 .9-.5 1-.6 .9-4.2 .9-4 .9-1.5 .9-.2 .9-1.3 .9-1.5 .9-1.6 1.8-1.6 1.8 .2 1.3 1 1.3 2.3 1.3 0 1.3 3.5 1.3 2.8 1.3 2.8 1.3 .1 1.3 1.7 1.3 2.5 1.3 1.2 1.3 2.4 1.2 1.5 1.2 2.5 1.2 1.3 1.1-.8 1.2 .9 1.1 1.6 1.1 2.1 1.2-.5 1.2 1.4 1.8 .3 1.5 2.1 1.4 .1 1.5 1.4 1.4 2.3 1.4 2.3 1.5-1 1.4 2.9 1.5 1.2 1.4 2.6 1.4-.3 1.8 2.9 1.5 .9 1-.8 1 2.9 1 2.7 1.1 1.2 1 .5 1 .6 1 1.1 1.2 2 1.2 2.1 1.3 1 1.4 3 1.3 2.4 1.3 1.4 1.3 .4 1.3 1.7 1.4-1.5 1.4 2.4 1.6 1.7 1.5 .1 1.6 1.5 1.5 2 1.6 0 1.5 2 1.6-1.2 1.7 2 1.6 1.7 1.6 0 1.7-1.4 1.6 .1 1.7 1.1 1.6-.2 1.7 1 1.7 .6 1.7 1.1 1.7-.4 1.7-.1 1.7 0 1.7 1.1 1.7 2.6 1.7-.9 1.8 3.5 1.7 .5 1.8-1.2 1.7 2.3 1.8-1.1 1.8 .3 1.8 .7 1.7 1.4 1.8 .9 1.8-1.1 1.8 1.3 1.8 1.6 1.8 .1 1.9-.4 1.8 .7 1.8-.6 1.8 .8 1.9 .5 1.8-2.4 1.8-1.9 1.8 1.7 1.8-.8 1.7-.8 1.8-.4 1.8 .2 1.8 .8 1.7 .4 1.8-.4 1.8 .8 1.8 2.8 .3 .2" fill="none" stroke="#d09c9e" stroke-width="1.9" stroke-linejoin="round"/><path d="M1124.1 187.3l2.1-.6 1.8 .3 1.8-1.2 1.8-3 1.6 1.6 1.4-.1 1.4 .1 1.4-4.1 1.4-2.3 1.4-.7 1.9-3 1.5 2 1.4 1.3 1.5 1.8 1.5 3.2 1.4 3.5 2.2 1.6 1.8-1.5 1.9-2.4 1.8-1.6 1.8-1.6 2.3 .7 1.7 3.7 1.7 .4 1.6-.1 1.7 2.9 1.7 3.5 1.7 .2 1.8 2 1.8 .2 1.8 1.9 1.9-1.3 1.8 1.2 1.9-.1 1.8-1.9 1.9-1.6 1.8-1.5 2.3 2.1 1.7 .5 1.6-4.3 1.6-1.1 1.6 0 1.7-.3 1.8 1.5 1.9 1.3 1.8 2.2 1.8 .3 1.7-2.8 1.7 .8 1.6-2.7 1.7-2.1 1.1-1.1 .7-1.6 .6-2.5 .7-3.5 .7-2.1 .6-3.2 .7-1.7 .7-1.8 .7-1.5 .6-1.8 .7-.7 .7-3.1 .7-1.5 .6-.2 .7-1.5 .7 0 .6-4.1 1.6 3.1 .6 2.3 .5 2.5 .5 2.2 .6 .8 .5-.4 .6 .8 .5 1.8 .5 2 .6 2.5 .5 3.7 .6 0 .5 2.5 .4-.2 .4 3 .3 2.9 .4-.1 .3 2.9 .4-.5 .3 .3 .4 1.7 .3 1.5 .4 2.6 .3 1.8 .4 3.3 .3 1.5 .4 3.9 .3 1.5 .3 .4 .4 .6 .3 1.6 .4 2.1 .3 2.8 .4 2.5 .3 2.4 .5 1.1 1-2.9 .5-2.1 .5-1.7 .5-.6 .5-.8 .5-1.4 .5-.9 .5-1.3 .5-3.8 .5 .1 .5-3.5 .5-1.8 .4-2.3 .2-1.7 .3-2.4 .2-1 .3-2.2 .2-1.5 .2-.8 .3-2 .2-2.3 .2-.6 .3-2.3 .2-.6 .3-.4 .2-4.5 .2-1.6 .3-.7 .2-3 .2-3.3 .3-2.7 .2-2.6 .3 0 .2-.9 .2-.9 .3-4 .2-1.1 .3-1.4 .4-2 .3 .2 .3-1.2 .4-1 .3-4.8 .3-3.5 .3-.7 .4-2.2 .3-2.1 .3-2.1 .4-.9 .3-1.8 .3-1.9 .4-2.6 .3-1.5 .3 .4 .3-1.8 .4-1.6 .3-2.5 .9-.7 1.6-1.2 1.2-3.8 1.3-3.1 1.7 .1 1.5 .4 .7 3.3 .7 2.3 .8 2.3 .7 1.7 .8 .2 .7 .1 .7 2.1 .8 0 .7 3.8 .7 2.9 1.9 1 1.2-3.7 1.1-2.6 1.1-2.1 1.2-.4 1.1-1.4 1.2-1.7 1.1-1.4 1.1-1.8 1.2-2.6 1.1 .2 1.2-.9 1.1 .2 1.2-3.2 1.1-1.5 1.9 0 1.5 1.2 1.2 2.9 1.1 .6 1.1 1.5 1.2 .2 1.1 3.4 1.1 2.7 1 0 .9 2.9 .9-.4 .9 1.5 .9 3.2 .9 2.6 .9 3 .9-1.2 1 .7 .9 1 1.1 1.8 1.2 1.6 1.1 .8 1.1 1.2 1.2 .6 1.1 1.4 1.2 1 1.7 1.1 1.5 .8 1.5 2.7 1.6 3.1 1.5-1.1 1.6 3 1.5 0 1.9 3.2 1 .8 1.1 3.1 1 2 1 1.9 1-1.4 1 1.2 1 2.9 1.1 .8 1.7 2.4 1.5-.4 1.6 .6 1.5 .1 1.6 3.3 1.5 .5 1.6 .4 2.2 1.5 1.7-.1 1.7 1.7 1.7 1.3 1.7-1.5 1.7 2.8 1.7 1.4 2.2-1 1.8-2.9 1.3-1.2 1.3 0 1.3-2.2 1.2-.3 1.3-1.7 1.3 .1 1.3-3.5 1.3-.8 1.8 .1 2.3 .5 1.8-2 1.8 .3 1.8 .1 1.8 2.3 1.8 1.1 1.8 1.2 1.9-2.5 1.8 .4 1.8 2.1 1.9-1.9 1.8 .2 1.9 1.1 1.8 2 1.7-1.1 1.7 1.2 1.6 2.4 1.6 .7 1.6-.2 1.5 .5 1.6 1.1 1.6 .4 1.6-.3 1.6 1 1.6 2.8 1.5 1.7 1.5 .5 1.6-.4 1.5-.2 1.5 2.8 1.5 1.1 1.5 .7 1.6 2.3 2.2 1.9 1.8-1.5 1.8-.8 1.8 1.8 1.8 1.1 1.8-.6 1.8 1.6 .9-.3" fill="none" stroke="#d09c9e" stroke-width="1.9" stroke-linejoin="round" stroke-dasharray="4 3"/><g><line x1="247.6" y1="339.7" x2="247.6" y2="562.5" stroke="#161616" stroke-width="2.5"/><path d="M244.4,359.2h3.2 M244.4,377.6h3.2 M244.4,395.9h3.2 M244.4,414.3h3.2 M244.4,432.6h3.2 M244.4,451.0h3.2 M244.4,469.4h3.2 M244.4,487.7h3.2 M244.4,506.1h3.2 M244.4,524.4h3.2 M244.4,542.8h3.2" stroke="#161616" stroke-width="1.6"/><line x1="181.5" y1="451.0" x2="511.0" y2="451.0" stroke="#161616" stroke-width="2.7"/><path d="M181.9,451.0v3 M313.3,451.0v3 M378.9,451.0v3 M444.6,451.0v3 M510.2,451.0v3" stroke="#161616" stroke-width="1.6"/><text transform="translate(181.9,472.8) scale(1.05,0.88)" text-anchor="middle" font-family="'Liberation Serif', 'Times New Roman', serif" font-weight="bold" font-size="16.5" fill="#222">-200</text><text transform="translate(313.3,472.8) scale(1.05,0.88)" text-anchor="middle" font-family="'Liberation Serif', 'Times New Roman', serif" font-weight="bold" font-size="16.5" fill="#222">200</text><text transform="translate(378.9,472.8) scale(1.05,0.88)" text-anchor="middle" font-family="'Liberation Serif', 'Times New Roman', serif" font-weight="bold" font-size="16.5" fill="#222">400</text><text transform="translate(444.6,472.8) scale(1.05,0.88)" text-anchor="middle" font-family="'Liberation Serif', 'Times New Roman', serif" font-weight="bold" font-size="16.5" fill="#222">600</text><text transform="translate(510.2,472.8) scale(1.05,0.88)" text-anchor="middle" font-family="'Liberation Serif', 'Times New Roman', serif" font-weight="bold" font-size="16.5" fill="#222">800</text><text transform="translate(242.1,364.1) scale(1.05,0.88)" text-anchor="end" font-family="'Liberation Serif', 'Times New Roman', serif" font-weight="bold" font-size="16" fill="#222">-5</text><text transform="translate(242.1,547.7) scale(1.05,0.88)" text-anchor="end" font-family="'Liberation Serif', 'Times New Roman', serif" font-weight="bold" font-size="16" fill="#222">5</text><text transform="translate(346.6,559.5) scale(1,0.86)" text-anchor="middle" font-family="'Liberation Serif', 'Times New Roman', serif" font-weight="bold" font-size="18.6" fill="#1e1e1e">Latency (ms)</text><text transform="translate(156.6,451.0) rotate(-90) scale(1,0.86)" x="0" y="0" text-anchor="middle" font-family="'Liberation Serif', 'Times New Roman', serif" font-weight="bold" font-size="18.6" fill="#1e1e1e">Amplitude (μV)</text><text x="230.6" y="348.0" text-anchor="end" font-family="'Liberation Serif', 'Times New Roman', serif" font-size="30" fill="#111">Fz</text></g><path d="M182.8 451.4l2.1-1.8 1.7-.7 1.6 1.1 1.4-1 1.3-1.5 1.3-1.9 2.1-.8 1.6 2.9 1.2 .8 1.2 2.5 1.3 .8 1.5 1.9 1.6 .7 1.6 1.5 1.6-.1 1.6 .5 2.1 .5 2.3-.4 1.6-1.3 1.7-.1 1.7-.8 1.7-.2 1.6-1 1.7-1.4 1.6-1.5 1.7-2.5 2.2 1.2 2.3 .7 1.7-.1 1.7-.5 1.7 1.8 1.7 1.5 1.9 .1 1.9-1.3 1.9 .5 1.9-1.8 1.9-.4 1.8 .6 1.8 1.3 1.8-.6 1.8 1.2 1.8 .8 1.8 1.5 1.8 .6 1.9 .9 1.9-.9 1.9 .5 1.8 0 1.9 0 1.9-.3 1.9-1 2.1-.3 1.5-1.1 1.5-1 1.5-1.3 1.2-1.5 .5-1.7 .4-1.3 .4-1.6 .4-1.4 .4-2.3 .4-2.4 .4-1.5 .4-2.2 .4-2.4 .4-.4 .5-2.2 .4-.9 .4-1.5 .4-2.1 .4-2.3 .4-1.3 .4-.9 .4-2.1 .4-2.2 .4-2.4 .4-1.6 .4-1.3 .4-1.6 .5-1.6 .4-1.4 .4-2.3 .4-1.1 .4-2.5 .5-3.2 .9 2 .5 1.6 .5 2.8 .4 2.3 .5 .9 .5 .6 .4 1.7 .5 1.3 .5 2.4 .4 2.3 .5 1.1 .5 2.5 .4 .6 .5 1.2 .5 2.1 .4 2.6 .6 .8 .5 1.4 .5 2.7 .6 2.3 .5 2.4 .5 1.8 .5 1.6 .6 1.5 .5 1.1 .5 1 .6 1.8 .5 1.9 .5 1.6 .6 1.2 .5 2.8 .5 2.6 .8 1.8 1.3-1.4 .8-2 .7-1.7 .7-2.8 .7-1.1 .8-2.3 .7-1.8 .7-2.8 .6-.6 .5-1.6 .4-2.3 .5-2 .5-1 .5-1.9 .4-1.4 .5-2.6 .5-1 .5-1.6 .4-1.1 .5-1.9 .5-2.7 .5-1.2 .4-2.2 .5-2 .5-2.5 .5-1.1 .5-1.2 .5-1.9 .6-1.1 .5-1.7 .5-1.5 .5-2.1 .5-.7 .5-1.2 .5-2 .8-2.4 1.9 .8 1.5 .1 1.4 .3 1.5 2 1.4 .4 2.1 2.1 1.8 1 1.8 .5 1.8-.9 1.8 1.2 2.1-1.1 1.3-1.9 1.3-1.1 1.3-.3 1.4-2.3 1.3-1 1.2-1.6 1.2-1.6 1.1-2.3 1.1 .1 1.1-2.5 1-2.1 1.6-.5 1.9 .6 1.8 1.3 1.7 .2 1.7-.1 1.6 .5 1.6 2.5 1.5 1.4 1.4 .5 1.4 .4 1.5 1.3 1.4 1.5 1.4 1.1 1.3 1.9 1.3 1.3 1.4 1.1 1.3 1.1 1.3 .8 1.3 1.3 1.3 2.2 1.3 1.8 1.3 2 1.1 .2 1.2 .7 1.2 1 1.2 2.6 1.2 .7 1.1 2.4 1.2 .8 1.2 1.8 1.2 1.4 1.2 .7 1.1 2.1 1.2 .8 1.2 2.1 1.2 .9 1.1 1.2 1.2 1.4 1.2 2.1 1.2 2.2 1.3 .5 1.4 1.9 1.4 .3 1.4 1 1.4 2.1 1.5 .7 1.4 1.8 1.4 .7 1.5 .2 1.4 1.7 1.4 .2 1.5 .8 1.4 2.1 1.5 1.4 1.4 1.4 1.4 1.3 1.5 .9 1.4 .6 1.5 1.3 1.4 .7 2 1.5 2.3 .4 1.8 1.4 1.8 .8 1.8-.5 1.8 .3 1.8 .7 1.8-.7 1.8 .9 1.8-.9 1.8 1.6 1.8 0 1.8 .9 2 .4 1.4 1.2 1.5 1 1.4 2 1.4 .7 1.4 1.4 1.4 1.7 1.4 1.4 1.5 .2 1.4 1.3 1.5 .9 1.5 .6 1.6 .3 1.5 1.9 1.5 1.9 1.5 1.3 1.5 .2 1.6 .6 1.4 .6 1.3 2.4 1.3 .2 1.4 1.5 1.3 .9 1.3 2.5 1.3 1.1 1.3 1.1 1.3 .7 1.4 2.4 1.3 .4 .2 1" fill="none" stroke="#4a3964" stroke-width="1.9" stroke-linejoin="round"/><path d="M182.9 449.9l2.3 .5 1.8-.5 2.1-.5 1.3-2.5 1.4-.6 1.7-.3 1.8 1 1.2 .5 1.3 .3 1.4 1.1 1.4 1.4 1.5 3.4 1.6 .9 1.5 1.6 1.5 .2 2.2 .6 2.3-.2 1.8 .3 1.8-.5 1.7-.5 1.8-.3 1.7-2.5 1.7-1.3 1.8 0 1.7 .4 2.3-.5 2.3-.1 1.8 1.4 1.7 .5 1.8 .5 2.3-1.7 1.8-1.4 1.8-.7 1.8 .8 1.8-1.7 2.4 .9 1.8 .5 1.7 1.6 1.8 .3 1.7 0 1.8-.7 1.8 .8 1.8-.9 1.8 .6 1.9 .5 1.8 .6 1.8 0 1.8 1.3 1.8 0 2.3 .8 1.5-1.2 1.5-2.2 1.6-1.3 1.6-1.4 .9-1.1 .4-1.9 .3-.8 .4-2.9 .4-1 .4-1.6 .4-2.4 .3-2 .4-2.7 .4-1.2 .4-.9 .4-2.1 .3-1.1 .4-1.5 .4-1.7 .4-2.1 .4-3.2 .3-.9 .4-2.9 .4-2.3 .4-.6 .4-2 .3-1.2 .4-2.6 .4-1.2 .4-2.3 .4-1.2 .4-2.2 .3-1.8 .4-1.7 .4-1.6 .4-.9 1.4 .7 .4 2 .5 1.6 .4 1.6 .4 2.2 .5 1.8 .4 .9 .5 3 .4 1.3 .5 2.4 .4 2.4 .4 .5 .5 1.6 .4 2.7 .5 1.7 .4 1.7 .5 .4 .4 2.8 .5 1.9 .5 1.3 .5 2.5 .4 1.2 .5 1.2 .5 2.5 .5 1.2 .4 2.4 .5 2 .5 1 .5 2.9 .4 1.9 .5 1.5 .5 1.7 .5 1.7 .4 1.3 .5 2.2 1.6-1 .7-2.9 .6-1.9 .7-1.6 .6-1.6 .7-1.1 .7-1.4 .6-2.9 .7-.7 .5-1.4 .5-1.9 .4-2.4 .4-2.3 .5-1.5 .4-.7 .5-2.3 .4-1.6 .5-1.8 .4-2 .5-2.6 .4-.9 .5-1.8 .4-2.2 .4-.8 .5-2.1 .5-2.1 .5-2 .4-1.6 .5-2.2 .5-2.5 .5-1.8 .5-.8 .4-2.2 .5-1 .5-2.7 .5-1.2 .5-2 .4-1.5 1.7-1.2 1.7 1.1 1.7 1.3 1.7 1.1 1.7 .7 1.8-.5 1.8-.1 1.8 1.4 1.8 .8 1.8-.7 2.2 .3 2-.4 1.4-1.1 1.4-.6 1.5-1.9 2-1.1 1.7-.2 1.8-.6 1.9-.2 1.8-.5 1.8 .5 .8 .7 .5 1.5 .5 2.5 .4 1.7 .5 1.5 .5 1.9 .5 2 .4 .5 .5 1.2 .5 1.4 .5 1.4 .5 2.9 .5 2.4 1 2.9 .9 .2 1.1 1.7 1 1 1 1.6 1 2.2 1 1 1 1.3 1 2.4 1 1.1 1.1 2.1 1 2.4 1 1.3 1 1.9 1 .1 1 1 1 1.5 1.2 2.2 1.4 1.3 1.6 1 1.8 .2 1.7 .5 1.7 .5 1.7 1.8 1.8-.1 1.9 .9 1.8 1.2 1.8 .2 1.8 .3 1.7 0 1.7 .6 1.7 .4 1.7 1.8 1.8 1.4 1.7 .2 1.7 .5 1.8-.9 1.8 .5 1.8 1 1.8 .8 1.8-.6 1.8 0 1.8-.2 1.8 .1 1.8 .5 1.8 .3 1.8-.9 2.4 0 1.8-.4 1.8-.6 1.8 0 1.8 .5 1.8 .1 1.7-.9 1.8-1 1.8-.2 1.8 .2 1.8 .1 1.8-.2 1.8-1.9 1.8 .4 2.4 .2 1.8 .6 1.8-.4 1.8-.6 1.7 .7 1.8 1.1 1.8 .9 1.8 .4 1.8-.3 1.8-.7 1.8 .1 1.7 .4 1.8 .6 1.8-.2 1.8 .4 1.8 .2 1.8 .2 1.8 .4 1.8 1.7 1.8 .4 1.8 .1 1.8-.1 1.8-.1 .3 0" fill="none" stroke="#4a3964" stroke-width="1.9" stroke-linejoin="round" stroke-dasharray="4 3"/><path d="M182.9 451.2l2.1-.2 1.8 0 1.9-1.5 1.4-3.4 1-2.2 1-1.3 1.4-1.9 1.5 1.6 .9 1.1 .9 1 .8 2.3 1 2.2 1.1 2 1.3 .9 1.4 2 1.5-.1 1.4 1 1.4 1.2 2 .8 2.1-.8 1.7-.4 1.6-2 1.7-.3 1.6 .3 1.8-1.4 1.7-.1 1.7-.3 1.8-1 1.7-.3 2.2 .7 1.7-.7 1.7-.9 1.7 .7 2.3 1.9 1.8 .7 1.8-1.6 1.9 .5 1.8-.7 1.9-.1 1.8-1.1 1.8 1.1 1.8 1.3 1.7 .6 1.8 .9 1.7 1 1.8-.5 1.7-.5 1.7 1.5 1.7 .5 1.8-1 1.9 1.5 1.9-.8 1.9 .6 1.8 .9 2.1-2.1 1.3-1.7 1.3-.3 1.4-1.6 1-1.8 .7-2.6 .3-1.7 .3-1.6 .3-1.5 .3-1.4 .3-2 .3-1.5 .3-2.1 .3-2.4 .3-.9 .3-1.9 .4-1.2 .3-1.4 .3-2.4 .3-2 .3-2.1 .3-2 .3-1.7 .3-1.4 .3-1.7 .3-1.5 .3-2.6 .3-1.8 .3-1.3 .3-1.2 .3-1.9 .3-1.4 .3-2.7 .3-1.7 .3-2.6 .3-1.8 .3-1.3 .3-2.1 .4-2 .3-.9 .3-2.2 .3-.6 .3-2.1 .3-2.2 .3-1 1.2 1.9 .3 1.6 .3 .3 .4 2.4 .3 1.4 .3 2.1 .4 1.4 .3 2.1 .4 3.2 .3 2 .3 1.4 .4 .8 .3 2.6 .3 2.2 .4 1.8 .3 1.7 .3 1.7 .4 .4 .3 1.3 .3 1.3 .4 1.9 .4 1.9 .4 1.2 .3 2.6 .4 1.4 .4 1.1 .4 2.1 .4 1.5 .4 2.7 .4 1.9 .4 1.1 .4 2.8 .4 1.7 .4 .9 .4 2.1 .4 1.2 .4 1.3 .3 1.5 .4 2 .4 2.4 .4 1.3 .4 2.2 .4 1.3 .6 2 1-1.2 .6-2.3 .6-.3 .6-.9 .6-1.4 .6-2 .6-2.2 .5-2 .6-2.8 .6-1.3 .5-1.9 .5-1.4 .3-2 .4-2.4 .3-1 .4-.7 .3-2.2 .4-2.6 .4-2 .3-2.2 .4-1.6 .3-1.8 .4-1.1 .3-2.1 .4-.6 .4-1.6 .3-1.1 .4-1.4 .3-2.4 .4-2.3 .3-1.5 .4-3 .4-2.4 .5-1.4 .4-1.7 .4-2.6 .5-2 .4-1.7 .4-1.7 .5-1.8 .4-1.2 .4-1.9 .4-2.3 .5-1.6 .4-1.3 .4-1 .7-1 1.1-1.8 2.2 .9 1.3-.1 1.3 1.3 1.3 2.2 1.3 .1 1.3 1.9 1.4 1.5 1.6 1.8 1.7 .7 1.8 .8 1.7 .7 2.1 .1 1.5-1.8 1-.6 1-1.9 1-1.5 1.1-1.3 1-1 1-1.5 1-2.7 1-1.3 .9-2.4 .9-2 1-.9 .9-1.3 .9-2.2 1-.3 1.8-1.6 1.7 .9 1.3 .7 1.3 2.4 1.3 1.4 1.3 1.8 1.3 1.8 1.3 1.3 1.3 .1 1.3 2.5 1.3 .8 1.3 1.5 1.3 1.1 1.4 .3 1.4 .4 1.4 2.5 1.4 .6 1.5 1 1.4 2.7 1.4 1.6 1.4 1.4 1.3-.1 1.2 2.1 1 2.4 1 .4 1 1.2 1 1.6 1 1.5 1 2.1 1.1 2 1 1.7 1 1.1 1.1 .8 1.1 .6 1 2.1 1.1 1.4 1.1 1.1 1.1 1.5 1 1.2 1.1 1.1 1.1 2.2 1.1 1 1.1 1.7 1.1 2.4 1.2 .7 1.1 1.1 1.2 2.1 1.1 2.1 1.2 1.1 1.3 1.4 1.7 .9 1.7-.3 1.7 1.2 1.7 .7 1.7 1.9 1.6 1.3 1.5 .4 1.6 .5 1.5 .4 1.6 1.3 1.5 1.5 1.6 0 1.4 1.9 1.3 .5 1.3 2.2 1.3 1.5 1.4 .7 1.3 2.1 1.3 1.2 1.3 .4 1.4 1.5 1.5 1.4 1.5 .1 1.6 2.2 1.5 1.9 1.6 .5 1.5 .8 1.6 .1 1.5 1 1.6 2 1.5 .5 1.5 2 1.5 1.5 1.5 .7 1.6 .1 1.5 .1 1.5 .4 1.4 1.3 1.5 .9 1.4 2.4 1.4 1.7 1.4 2 1.4 .8 1.4 1.6 1.4 .5 1.5 1.7 1.3 2.1 1.4 1 1.3 .8 1.3 1.4 1.3 1.4 1.4 .7 1.3 .7 1.3 1.8 1.3 1.5 1.3-.1 1.3 1.2 .7 .2" fill="none" stroke="#8c5872" stroke-width="1.9" stroke-linejoin="round"/><path d="M182.7 451.5l1.8-.5 1.6-1.7 1.5-2.2 1.5 .8 1.4-1.2 1.4-2.6 1.8-1.7 1.4 2.3 1 2.2 1 .4 1 2.2 1.6 1 1.5 .2 1.5 1.6 1.6 2.3 1.5 0 2.1 .8 2.2 .4 1.7-2 1.7-2 1.6 .6 1.7-.1 1.7-1.5 1.8-1.8 1.7 .7 1.7-2 1.8-1.4 2.3 .8 1.9-1 1.8 1.1 1.8 0 1.8 2 1.8-1.2 1.9 2 1.9-1.1 1.9 .5 1.8 .9 1.9-.8 2.2 2.8 1.6 1.7 1.6-.3 1.6 .5 1.5 .5 1.7-.2 1.8 1.3 1.9 1 1.9 .5 1.9 .4 1.9 .7 1.8-.5 1.9 .2 2.3 .3 1.8-1.4 1.2-1.2 1.2-1.7 1.2-1.3 1.4-2.2 .6-1.5 .4-1.6 .3-2.7 .3-1.8 .4-1.2 .3-2 .4-2.3 .3-1.7 .3-3.1 .4-.9 .3-1.2 .3-2.5 .4-2.6 .3-.7 .3-2.5 .4-1.3 .3-1.1 .3-2 .4-1.6 .3-2 .3-2.6 .4-1 .3-2.1 .3-2.1 .4-1.5 .3-2.2 .3-2.2 .4-1 .3-2.3 .3-2.1 .4-.5 .3-2.8 .3-.6 .4-2.1 .3-1.5 .3-1.9 .4-1.3 1.3 1.2 .4 1.6 .4 2.2 .4 .8 .4 2.3 .4 2.1 .3 .4 .4 1.7 .4 1.9 .4 .8 .4 3.1 .4 1.2 .4 2.5 .4 2.6 .3 2.1 .4 1 .4 .7 .4 2.1 .4 2 .4 2.1 .4 2.3 .4 .6 .4 2.2 .4 2.8 .4 1.7 .4 .7 .4 2.9 .4 1.2 .4 2.8 .4 .8 .4 2.5 .4 1.9 .4 1.1 .4 2.5 .4 .6 .5 2.1 .4 1.3 .4 2.1 .4 1.8 .4 2.5 .5 1.1 1.1-2 .6-1.6 .6-1.5 .6-2.4 .6-2.3 .6-2.2 .6-1 .6-1.2 .6-1.5 .6-2 .5-2 .4-1.4 .4-1.6 .3-2.3 .4-1.2 .4-2 .3-.8 .4-1.6 .3-2.4 .4-1.1 .4-2.1 .3-2.7 .4-1.7 .3-2 .4-2.2 .3-2.5 .4-1.6 .4-2.5 .3-1 .4-1 .5-1.5 .4-1.6 .5-1.4 .5-1.3 .4-2.5 .5-.7 .4-1.8 .5-3.1 .5-1.5 .4-1.2 .5-1.2 .4-2.7 .5-1 .6-1.7 .9-2.3 1.6-1.3 1.6 .7 1.3 1.6 1.4 1.6 1.3 1.6 1.3 .5 1.3 1.1 1.5 .5 1.6 .5 1.7 2.1 1.7 .5 1.7 .7 2 .3 1.7-1.1 1.1-1.5 1.1-.7 1.2-1.9 1.1-1.2 1.2-.6 1.1-2.3 1.1-1.4 1.1-1.2 1.1-1.9 1-1.8 1.1-1.9 1.4-.6 1.8 1 1 .2 1 2.1 1 1.1 1 2.6 1 .8 1 1.3 1.1 2.3 1.1 2.2 1.3-.2 1.3 2.6 1.3 .6 1.3 2.2 1.3 1.3 1.3 .6 1.2 2.7 .7 .2 .6 2.3 .6 1.5 .7 1.5 .6 2.3 .6 1.7 .6 1 .6 1.9 .7 2.1 .6 1.7 .6 1.6 .6 1.4 .7 2.4 .6 1.3 .5 1.3 .6 2.4 .6 1.7 .6 1.4 .5 2 .6 1.7 .6 1 .5 1.3 .6 1.4 .6 1.6 .5 1.7 .6 2.9 .7 1.8 .6 1.5 .6 2.2 .7 2 .6 1.1 .7 1.3 .6 2 .6 2 .7 1.7 .6 .3 .7 1.5 .7 1.8 .8 3.1 .7 1.3 .7 2.9 .8 1.9 .7 1.3 .7 1.6 .8 2.7 2 .2 1.3-1.4 1.2-2.3 1.3-.6 1.3-1.4 1.1-.3 1.5-2.5 1.1-1.5 1.1-1.8 1-1.9 1.1-.5 1.1-1.9 1.2-2.1 1.1-1 1.2-1.6 1.1-1.5 1.1-.6 1.2-2.3 1.2-1.3 1.7-2.3 1.5-.2 1.4-.6 1.5-1.4 1.4-1.8 2-1.6 2.3-.5 1.8 .6 1.8-.8 1.7 .4 1.8-.2 1.8-.2 2.4-.5 2.4 1.1 1.7 .2 1.8-.4 1.8 .4 1.8 .2 1.7-.1 1.8-.4 1.8 .5 1.7 1.8 1.8 .5 1.8 .3 1.8 .5 1.7 1.1 1.8 1 1.8-.2 1.8 1.4 1.7 .9 1.7 0 1.6 1.2 1.6 .4 1.6 .1 1.6 2.1 1.6 .5 1.6 .5 1.6 1.3 1.6 1.6 1.6 1.4 1.6 0 1.5 1 .3 1.4" fill="none" stroke="#8c5872" stroke-width="1.9" stroke-linejoin="round" stroke-dasharray="4 3"/><path d="M182.8 449.9l2.1-1.3 1.8-.8 1.9-2.2 1.4-1.3 1-2.3 1 .6 1.7-1.4 1.2 1.4 1 0 .9 2.4 1 1.3 .9 1.9 1.2 1.9 1.3 1.6 1.4 .5 1.4 1.6 1.4 1.7 1.4 2.1 2 .5 2.2-2.3 1.6-1.7 1.6-1.6 1.7 .5 1.6-1.5 1.8-1.7 1.7-.5 1.8-.5 1.7 1.1 1.8-.2 2.2 0 1.6 1.9 1.7 1.8 1.6-.7 1.6 0 2.3-.6 1.8 0 1.7-.7 1.8-.8 1.7 .7 1.8-1.8 2.3-.3 1.7 1 1.6 1.7 1.7 2.4 1.7 1.3 1.7 .6 1.6-.5 1.7 1.1 1.7 1 1.7 .9 1.8 .4 1.9-2.3 1.8 .1 1.8 .1 2.1-1.1 1.3-1.5 1.3-2.1 1.3-1.7 1.3-1.6 1.2-.8 .5-.9 .3-2 .3-1.4 .2-2.4 .3-1.7 .3-1.8 .2-2.6 .3-.4 .3-1.8 .2-.8 .3-2.6 .3-2.2 .2-1.1 .3-1.4 .2-2.4 .3-1.8 .3-.9 .2-2 .3-1.3 .3-2.2 .2-1.8 .3-1.4 .3-2 .2-2.7 .3-1 .3-1.7 .2-2.8 .3-2.1 .2-2.3 .3-2.4 .3-.9 .2-1.8 .3-2.1 .3-2 .2-1.1 .3-2.3 .3-.9 .2-2.7 .3-.6 .3-3.1 .2-1.6 .3-.3 .3-1.5 .2-1.9 1.1 .4 .3 2.8 .4 1.1 .3 1.3 .3 3.1 .3 1.6 .4 2.1 .3 .9 .3 2.3 .3 1.7 .4 2.6 .3 1.2 .3 .6 .3 2.3 .4 2.6 .3 1.9 .3 1.8 .3 1.2 .4 .8 .3 2.4 .3 1.1 .3 1.7 .4 1.9 .3 1.5 .3 1.8 .4 1.9 .4 1.7 .3 2 .4 1.8 .3 2.7 .4 .7 .4 1.3 .3 2 .4 1.5 .3 1.6 .4 2.7 .4 .6 .3 2.4 .4 1.6 .3 1.4 .4 3.2 .3 .6 .4 2.6 .4 .7 .3 2 .4 1.8 .3 1.6 .4 3.3 1.4-2.3 .6-2.6 .5-.6 .6-2.3 .5-1.7 .6-2.2 .5-1.4 .5-1.5 .6-.9 .5-2.4 .6-1.1 .4-1.5 .4-2.1 .3-1.7 .3-3 .4-1.3 .3-2.4 .3-.5 .3-1.8 .3-1.9 .3-2 .3-2.1 .3-2.2 .3-.7 .4-2.3 .3-2.8 .3-2 .3-.6 .3-.8 .3-1.8 .3-1.7 .3-1.6 .3-2.8 .4-.8 .3-2.6 .4-1 .4-1.4 .4-2.5 .4-1.8 .4-2 .4-1.2 .4-1.5 .3-1.8 .4-1.5 .4-2.7 .4-1.6 .4-1.5 .4-.8 .4-2.9 .6-2.2 1.1-1.6 1.9-.7 1.9 1.5 1.4 1.2 1.5 1.8 1.4 1.3 2 1 2.1 .2 1.7-.2 1.8 0 2 1.3 1.6-2.7 1.1-1.7 1.2-1.1 1.1-.4 1.1-1.4 1.2-2.5 1.1-.6 1.3-2.3 1.3-1.5 1.3-.4 1.3-.6 1.3-2.4 1.3-.5 1.9-1.9 2.2-.7 1.9 1.2 1.8-.1 1.8-.5 1.8 2 1.7 .5 1.7 .5 1.7 .4 1.7 1.9 1.8-.5 1.6 1.8 1.7 1 1.6 1.3 1.5 1 1.6-.2 1.2 2.2 1 1.2 .8 .8 .8 2.2 .9 1.9 .8 2.5 .8 1.8 .9 1.2 .8 .9 .8 1.8 .8 1.7 1 .9 .9 1.8 1.1 2.4 1 1.2 1 1.2 1 1.3 1 2.2 1 .8 1 2.8 .9 1.4 .8 2.3 .7 .2 .8 1.2 .7 1.8 .8 1.9 .7 1.6 .7 .8 .8 1.8 .7 2.6 .8 1.7 .7 2 .9 2.1 1.1 .3 1.3 1.5 1.3 .4 1.3 1.1 1.3 .9 1.4 1.2 1.4 2.2 1.6 .5 1.7 1 1.7 .3 1.7 .5 1.7 .5 1.5 1.8 1.5 1.9 1.4 1.6 1.5 1.1 1.4 1.5 1.4 2 1.4 0 1.3 1 1.4 .5 1.3 1.1 1.3 2.2 1.3 1.5 1.3 2.3 1.3 0 1.4 1.8 1.3 1.9 1.5 .2 1.4 .7 1.4 2.3 1.4 2 1.4 .8 1.4 .5 1.4 1.7 1.5 .1 1.4 1.4 1.5 2.1 1.5 1.4 1.5-.6 1.6 1.1 1.5 1.5 1.5 1.6 1.5 1.5 1.5-.4 1.5 1.2 1.5 1.3 1.4 1.1 1.4 .7 1.5 1.8 1.4 .8 1.4 .1 1.4 2.2 1.4 1.3 1.4 .2 1.3 1.8 1.3 2.1 1.3 1.9 1.3 .3 1.3 1 1.3 1.8 1.5 .9 .8 .6" fill="none" stroke="#d09c9e" stroke-width="1.9" stroke-linejoin="round"/><path d="M182.9 447.5l2.2 1.2 1.8 .2 1.9-.5 1.1-1.1 1-2.5 1-.8 1-.7 1.9-.6 .8 .9 .9 1.5 .9 1 .8 1.8 1 1.3 1.2 3.2 1.4 2.4 1.5 2.2 1.5 .2 1.4 1.2 2.1 1.7 2.2-1.2 1.8-2.5 1.7-.7 1.7-1.6 1.7-.2 1.6 1.1 1.6-1.2 1.6 0 1.6-2.9 1.6-.9 2.2-1.6 1.7 .9 1.8 1.5 1.7 2.1 1.8-1 1.8 .4 1.8 .5 1.8-.4 1.9-.6 1.8 1.3 1.8-.9 2.4 .6 1.7-.1 1.7 1.3 1.7 .1 1.7 .5 1.6 .6 1.6 1.3 1.6 .9 1.5 .5 2.2 2 2.3-.7 1.9 1.3 1.8-.4 2.3-2 1.9-1.6 1.2-.9 1.2-2 1.2-.3 1.2-1.4 1.2-1.8 .5-2.2 .3-2.6 .2-1.7 .3-1.8 .3-2.3 .3-.9 .2-1.7 .3-1.9 .3-3 .3-1.6 .2-2.5 .3-1.9 .3-1.9 .3-.7 .2-1.9 .3-1.8 .3-1.5 .3-2.8 .2-1.6 .3-.8 .3-2.3 .3-1.5 .2-1.4 .3-3.3 .3-1 .3-1.6 .2-2.1 .3-.9 .3-2.6 .3-2.4 .2-2.1 .3-.3 .3-1.2 .3-1.6 .2-2.7 .3-2.4 .3-1.3 .3-2.1 .2-1.3 .3-.9 .3-2.8 .3-1.1 .2-1.1 1.2 1 .3 2.4 .3 .8 .3 1.9 .4 2.2 .3 .8 .3 3.2 .3 2.2 .4 1.9 .3 .8 .3 2.9 .3 1.6 .3 1.6 .4 .9 .3 1.5 .3 .7 .3 1 .4 2 .3 2 .3 3 .3 2.3 .3 .8 .4 2.6 .3 1.8 .4 1.2 .4 1.2 .3 2.4 .4 1.3 .4 2.4 .3 1 .4 2.4 .4 1.6 .4 1.8 .3 .4 .4 2.4 .4 1.1 .3 1.8 .4 3 .4 1.4 .4 2.7 .3 1.7 .4 2.3 .4 1 .3 2.2 .4 2.4 .4 1.7 .5 2 1-2.2 .6-1.5 .6-2.9 .5-2.3 .6-.2 .5-2.2 .6-1.7 .6-2.7 .5-.7 .6-2.4 .5-2.7 .5-1.5 .3-1.6 .3-1.3 .4-1.6 .3-1.1 .3-2 .3-2.3 .3-2.3 .3-1.1 .3-2.1 .3-1.7 .4-1.9 .3-1.2 .3-2.5 .3-1 .3-2.1 .3-.4 .3-2.7 .4-.8 .3-2.2 .3-1.5 .3-1.7 .4-1.4 .4-2.4 .4-1.6 .4-2 .5-2.7 .4-1.9 .4-.7 .4-1.8 .4-2.3 .5-1.4 .4-2.4 .4-2 .4-.8 .4-2.4 .5-2.5 .6-1.9 1.4-1 2.2-.6 1.3 .9 1.3 2.3 1.3 .6 1.3 1.2 1.3 1.5 1.4 1.9 1.4 1.5 1.4 .6 1.4 .8 1.5 .9 1.4 1.2 1.9 .1 1.6-.8 1.1-1.3 1.2-.1 1.1-1.5 1.1-2 1.2-.9 1.1-2.4 1.2-1.7 1.3-1.4 1.3-.9 1.2-.7 1.3-.3 2.1-1.4 1.5 2.1 1.1 1.9 1.2 .4 1.1 1.9 1.2 .9 1.1 .7 1.1 1.9 1.2 .9 1.1 1.3 1.2 2.2 1.1 1.5 1.1 .8 1.2 2.5 1.1 1.7 1 1.8 .8 .8 .7 1 .7 1.5 .7 2.4 .7 1.9 .7 2 .6 2.5 .7 1 .7 2 .7 1 .7 2 .7 1.2 .6 1.7 .7 2.2 .7 2.7 .7 2.4 .7 1.6 .7 1.8 .6 .8 .7 1 .7 1.3 .7 1.7 .7 1.5 .7 2.7 .7 2 .7 1 .8 1.7 1.4 1.5 1.1 2.2 1.1 2 1 .9 1.6 1.5 1.9-.2 1.8-.4 1.7-1.8 1.7-1.1 1.7-1.5 1.7 0 1.7-.6 1.7-2 1.7-.7 1.7-.9 1.8-.7 1.8 .3 1.8-.2 1.9 .7 1.8 .7 2.3 .7 2.3 .1 1.7 1.2 1.7 .2 1.7 .4 1.8 .9 1.7-.5 2.2 1.6 2.3-.5 1.7-.6 1.7-.6 1.8-2 1.7 .1 2.3 .3 2.4-1.2 1.7-.6 1.8 .9 1.8 .8 1.8 .9 1.8-.3 1.8 1.1 1.7-.9 1.8 .8 1.8 1.1 1.8-.3 1.7 .9 1.8 .5 1.8-.3 1.7 .2 1.8 .8 1.6 1 1.6 1.4 1.6 .6 1.6 1.6 1.6 1.4 1.6 1 1.6 .1 1.6 1.1 1.6 1.2 1.6 .4 1.5 .3 .8 .7" fill="none" stroke="#d09c9e" stroke-width="1.9" stroke-linejoin="round" stroke-dasharray="4 3"/><g><line x1="719.3" y1="339.8" x2="719.3" y2="562.2" stroke="#161616" stroke-width="2.5"/><path d="M716.1,359.9h3.2 M716.1,378.2h3.2 M716.1,396.5h3.2 M716.1,414.9h3.2 M716.1,433.2h3.2 M716.1,451.5h3.2 M716.1,469.8h3.2 M716.1,488.1h3.2 M716.1,506.5h3.2 M716.1,524.8h3.2 M716.1,543.1h3.2" stroke="#161616" stroke-width="1.6"/><line x1="653.0" y1="451.5" x2="982.0" y2="451.5" stroke="#161616" stroke-width="2.7"/><path d="M653.6,451.5v3 M785.0,451.5v3 M850.6,451.5v3 M916.3,451.5v3 M981.9,451.5v3" stroke="#161616" stroke-width="1.6"/><text transform="translate(653.6,473.3) scale(1.05,0.88)" text-anchor="middle" font-family="'Liberation Serif', 'Times New Roman', serif" font-weight="bold" font-size="16.5" fill="#222">-200</text><text transform="translate(785.0,473.3) scale(1.05,0.88)" text-anchor="middle" font-family="'Liberation Serif', 'Times New Roman', serif" font-weight="bold" font-size="16.5" fill="#222">200</text><text transform="translate(850.6,473.3) scale(1.05,0.88)" text-anchor="middle" font-family="'Liberation Serif', 'Times New Roman', serif" font-weight="bold" font-size="16.5" fill="#222">400</text><text transform="translate(916.3,473.3) scale(1.05,0.88)" text-anchor="middle" font-family="'Liberation Serif', 'Times New Roman', serif" font-weight="bold" font-size="16.5" fill="#222">600</text><text transform="translate(981.9,473.3) scale(1.05,0.88)" text-anchor="middle" font-family="'Liberation Serif', 'Times New Roman', serif" font-weight="bold" font-size="16.5" fill="#222">800</text><text transform="translate(713.8,364.2) scale(1.05,0.88)" text-anchor="end" font-family="'Liberation Serif', 'Times New Roman', serif" font-weight="bold" font-size="16" fill="#222">-5</text><text transform="translate(713.8,547.4) scale(1.05,0.88)" text-anchor="end" font-family="'Liberation Serif', 'Times New Roman', serif" font-weight="bold" font-size="16" fill="#222">5</text><text transform="translate(818.3,559.2) scale(1,0.86)" text-anchor="middle" font-family="'Liberation Serif', 'Times New Roman', serif" font-weight="bold" font-size="18.6" fill="#1e1e1e">Latency (ms)</text><text transform="translate(628.3,451.5) rotate(-90) scale(1,0.86)" x="0" y="0" text-anchor="middle" font-family="'Liberation Serif', 'Times New Roman', serif" font-weight="bold" font-size="18.6" fill="#1e1e1e">Amplitude (μV)</text><text x="707.8" y="347.8" text-anchor="end" font-family="'Liberation Serif', 'Times New Roman', serif" font-size="30" fill="#111">Fz</text></g><path d="M653.7 449.4l.2-1 .1-2.2 .2-1.8 1.3 2.3 .5 1.6 .6 1.4 .6 3.2 1.3 1.7 2.3 0 1.9-1.5 1.9-1 1.8-1.3 1.8 .2 1.8 .6 1.8 .2 1.8-1.2 1.8-.5 1.8-1.2 1.8-.4 1.8 1.1 1.8 .1 1.8-.3 2.4-1 1.8 .8 1.8 .8 1.8-.8 1.7 1.3 1.8 .7 1.8-.1 1.8 .7 1.8 1 1.8-.3 1.9 0 1.8-1.9 1.9 0 1.8-.1 1.9-.6 1.8 .9 1.9 .6 1.8 .4 1.7 1.3 1.6 .9 1.5 1.6 1.5-.1 1.6 1.6 2.3 .5 1.8-.3 1.8 .3 1.8 1.7 2.2-.6 1.7-.5 1.3-2.7 1.2-1.5 1.3-.4 1-1.9 .8-2.8 .4-1.1 .5-1.4 .4-.7 .4-2.3 .5-2.2 .4-2.6 .5-1.3 .4-2.5 .4-2.4 .5-1.1 .4-1.9 .4-2 .5-1.6 .4-1.7 .4-.5 .5-2.8 .4-2 .4-2.1 .5-1.1 .4-2.1 .5-2.6 1.6 1.4 .5 2.6 .5 1.1 .6 2.5 .5 1.1 .5 2.2 .5 2.1 .6 1.4 .5 2.2 .5 .8 .5 2.6 .6 .8 .5 2 .5 1.4 .4 2.3 .4 1.3 .4 1.9 .3 2.6 .4 1.9 .4 1.6 .3 2 .4 1.5 .4 1 .3 1.9 .4 1.2 .4 1.1 .3 2.5 .4 2.7 .4 1.6 .3 1.5 .4 1.2 .4 1.7 .3 1 .4 1.3 1.6 0 .5-1.4 .6-1 .5-3.1 .6-.6 .5-1.2 .5-2.6 .6-.8 .5-2.8 .6-1.3 .5-1.3 .6-1.7 .5-2.7 .5-1.7 .4-1.6 .4-2.5 .3-1.4 .4-1.7 .4-2.7 .3-.8 .4-2.4 .4-1.7 .3-2.1 .4-1.7 .4-2.6 .4-1.5 .3-.7 .4-1.6 .4-2.3 .3-1.1 .4-2.6 .4-1.6 .3-1.6 .3-1.6 .4-2.5 .3-1.8 .4-1 .3-1.1 .3-1.9 .4-1.4 .3-2.5 .3-2.4 .4-1.4 .3-2.1 .4-.6 .3-1.7 .3-1.9 .4-2.5 .3-1 .4-1.1 .3-2.1 .3-3 .4-1.9 .3-.6 .6-1.4 2 .8 1.6 1.1 1.5 1 1.5 .6 1.6 .6 1.5 1.4 1.5 1.3 1.4 .6 1.5 1.5 1.4-.1 1.4 1.5 2 1.1 2.2 .7 1.7-2.2 1.7-1.8 1.7-.5 1.7-1.4 2.4 .8 1.8 .4 1.8-.4 1.9 1.5 1.7 .5 2 .9 1.5 1.1 1.4 .8 1.4 .9 1.5 .9 1.4 2 1.3 1.8 1.3 1.2 1.3 1.3 1.3 .9 1.3 1.6 1.3 1.9 2 .5 1.8 1.7 1.8 1 1.8 1 1.8 .6 2.1 1.5 1.3-.1 1.3 .5 1.3 2.3 1.3 1 1.3 1.3 1.3 1.1 1.2 1.7 1.2 1.8 1.1 1.1 1.2 .5 1.1 1.8 1.1 1 1.2 1.5 1.1 2.1 1.2 .9 1.2 1.9 1.1 1.6 1.2 .6 1.2 1.8 1.2 1.6 1.2 .4 1.1 .6 1.2 2.1 1.3 .9 1.4 1.4 1.6 .6 1.6 .2 1.5 1.3 1.6 .2 1.5 1.6 1.6 .6 1.6 1.6 1.7 1.4 1.8 1 1.7 1.1 1.7 1 1.5-.1 1.5 1.3 1.4 1.5 1.5 1.8 1.4 .5 1.4 1.5 1.4 .9 1.5 1.4 1.4 1.5 1.4-.3 1.4 1.8 1.4 1.9 1.4 .9 1.5 .9 1.4 .6 1.4 .5 1.4 1 1.4 1.4 1.5 2.5 1.5 1.5 1.5 .8 1.6 .1 1.5 1.7 1.5 1.3 1.5 2 1.6 1.2 1.5-.2 1.5 .9 1.5 1.5 1.5 .4 1.5 .6 1.5 2.5 1.5 .4 1.5 2 1.4 .6 1.5 2 1.5 .4 1.5 1.1 1.5 .7 1.5 0 1.5 1.3 1.5 1.6 1.5 .3 1.5 1 1.5 1.6 1.5 1.4 1.5 1.1 1.5 1.4 1.5 .9 1.5 0 1.5 1.6 .8 .7" fill="none" stroke="#4a3964" stroke-width="1.9" stroke-linejoin="round"/><path d="M653.7 447.2l.2-1.6 .2-1.6 .3-1.8 .9 2.5 .5-.2 .6 2.1 .5 1.8 1.1 2.9 2.1 1 1.8 .1 1.9-.8 1.8-.1 1.9 .1 1.8 .2 1.8 .7 1.9 .6 1.8-.3 1.8-.5 1.8-1.4 1.9-1.4 1.8 1.1 1.8 .1 2.4-1.5 1.8 .2 1.7 .2 1.7 .2 1.8-.4 1.7 .9 1.8-1 1.7 1.3 1.8 .8 2.3 .7 1.8-.2 1.8 .2 1.8-2.1 1.8 1.4 1.8-.7 1.9-.3 1.8 .1 1.8 1.5 2.3 1.9 1.5 .8 1.5 1.4 1.4 1.4 1.6 .9 1.6 .6 1.8-.7 1.7 .5 1.8-1.3 2.3 2.1 1.8-1.6 1.1-2.4 1.1 .1 1.1-2.1 1.1-.4 1.3-1.9 .7-1.3 .4-2.3 .4-2.3 .3-2.4 .4-.2 .4-1.3 .4-1.8 .3-1.1 .4-2.2 .4-1.2 .4-2.6 .4-2.8 .3-1.1 .4-1.2 .4-1.3 .4-3.2 .4-1.2 .3-3.1 .4-1.8 .4-2.7 .4-.9 .4-2.4 .3-2.1 .4-1.2 1.6 2.1 .5 2.6 .5 1.2 .5 .7 .5 1.4 .5 2.5 .5 1.5 .5 1.4 .6 2.7 .5 .9 .5 1.8 .5 2.4 .5 1.5 .5 .7 .5 2.3 .4 2.4 .4 1 .3 .9 .4 2.3 .3 2.7 .3 2.6 .4 2 .3 1.8 .4 .5 .3 1.5 .3 1.7 .4 2 .3 .9 .4 2.1 .3 2.1 .3 2.6 .4 .6 .3 1.1 .4 2.2 .3 2 .3 2.1 .4 2.2 1.3-2.7 .5-1.4 .5-1.3 .5-2.3 .5-.6 .5-1.1 .5-2.7 .5-1.4 .5-1.4 .5-1.6 .5-2 .5-3 .5-2.4 .5-.8 .5-1.7 .4-2.4 .3-2.7 .4-1.4 .3-2.1 .4-1.4 .3-.4 .3-2.5 .4-2.1 .3-2 .3-1.3 .4-1.8 .3-1.5 .4-2.2 .3-2.4 .3-.9 .4-2.1 .3-1.1 .4-1.5 .3-2.7 .4-1.5 .6-1.8 .5-1.4 .6-2 .5-2.1 .6-.7 .5-1.3 .6-1.3 .6-2.2 .5-3.2 .6-1.4 .5-1.9 .5-1.7 .4-.8 .3-1.6 .4-2.4 .3-1.6 .3-3 .4-1 .6-1.8 1.8-.6 1.5 1.1 1.4 1.6 1.4 1 1.5 1.4 1.4 1 1.5 1.3 1.4-.5 1.4 1.4 1.5 1.5 1.4 .5 2.1 1.8 2.3-.5 1.8-1.2 1.8 .2 1.8 .4 2.2-.5 2 .5 1.4 2 1.4 1.4 1.5 1 1.7 1.2 1.4 1.7 .9 2.3 .9 1.6 .9 .8 1 3.1 .9 .9 .9 2.5 .9 1.6 .9 1.1 .9 .7 .8 2.5 .8 .6 .8 1.7 .9 1.5 .8 2.1 .8 1.4 .8 1.7 .9 2.5 .8 1.6 .8 2 .8 1.3 .8 1.2 .9 2 .8 2.2 .8 2 .9 1.4 1.1 1.1 1.2 .6 1.3 .9 1.3 .7 1.3 2.6 1.5 1 1.6 .1 1.7 1 1.7 .4 1.7 .4 1.8 1.1 1.7 .2 1.7 .7 1.7 2.4 1.7 .7 1.7 .7 2.4 .8 1.8-1.2 1.8 .2 1.8-.3 1.8-.9 1.8-.6 1.7-.2 1.7-.7 1.7-.4 1.7-.4 1.8 .1 1.7-.9 1.6-1.4 1.7-.7 1.5-.4 1.6-2.1 2.2-1.5 2.2 .9 1.7 1.5 1.7 .9 1.7 1.2 1.7 .6 1.7 1 1.8 1 1.7 .9 1.7-.3 1.7 .3 1.7 1.1 1.7 .2 2.3 1.3 1.9-.2 1.8 0 1.9 .1 1.8-.3 1.8 .5 1.9-.9 1.8 .5 1.9 .1 1.8 .6 1.8-.4 1.8-.7 1.9-.3 1.8 .7 1.8-.1 1.8 .2 1.9-.5 1.8 .5 1.8-.7 1.8 .9 1.9-1.3 1.8 .8 1.9-1.3 1.8 .4 1.9 .5 1.8-.5 1.8 .1 1.9 .5 1.7 .1" fill="none" stroke="#4a3964" stroke-width="1.9" stroke-linejoin="round" stroke-dasharray="4 3"/><path d="M653.7 447.4l.1-2.7 .1-.7 .1-2.2 .2-2.8 .1-.3 .7 2.5 .4 1.5 .4 .4 .4 1 .3 2 .4 1.6 .8 .9 1.7-.5 1.8 .4 1.9 .4 1.8-.4 1.8-.5 1.8 .9 1.8-.2 1.8-1 1.9 1.4 1.8-1.2 1.8 .7 1.8-1.8 1.8-.5 1.8 .2 2.4-.8 2.3 0 1.8 1.7 1.7-.8 1.7 2.8 1.7-.8 1.8 2.3 1.7-.8 1.7 .9 2.4-1.6 1.8-.7 1.8-.7 1.8 .5 1.8 1.1 1.8 .4 2.3 0 1.7 1.6 1.7 0 1.6 .1 1.5 .8 1.3 2.1 1.3 1.2 1.2 .7 1.3 1.8 2.1 1.3 1.9 1.7 1.8 1.4 1.9 .1 2.2 .1 1.5-2.5 .9-1.9 .9-3.1 1-2.4 .9-.2 .9-3.2 1-1.7 .6-.5 .3-3.3 .3-.8 .4-.2 .3-1.3 .3-3.1 .3-1.6 .3-2.3 .3-.8 .3-1.8 .3-1.5 .3-1.3 .4-2.3 .3-2.2 .3-2.7 .3-.9 .3-1.8 .3-2.6 .3-.9 .3-1.9 .3-2.5 .4-.9 .3-1.4 .3-1.3 .3-1.8 .3-1.8 .3-3.3 .3-1.8 .3-1.8 .4-1.2 .3-1.9 1.3 2.1 .4 2.1 .4 1.1 .4 2.5 .4 .7 .4 1.7 .3 1.5 .4 3 .4 .7 .4 1.4 .4 1.7 .4 2.4 .4 2.5 .4 1.8 .4 1.6 .4 1.9 .4 2.4 .3 .6 .4 1.7 .3 2 .2 1.1 .3 3 .2 1.6 .3 1.7 .3 1.9 .2 1 .3 1.2 .2 .9 .3 3.2 .3 1.6 .2 1.4 .3 1 .2 2.3 .3 3.4 .3 .7 .2 2.5 .3 2.5 .2 2.1 .3 1.9 .3 .9 .2 1.8 .3 1 .2 2.8 .3 2.2 .3 1.3 .2 1.2 .3 1.1 .2 1.8 1-1.6 .4-.5 .4-3 .3-1.5 .4-1.8 .4-.8 .3-2.3 .4-2 .3-1.4 .4-1.8 .4-1.5 .3-1.8 .4-1.9 .4-1.7 .3-1.6 .4-1.1 .3-1.6 .4-2.4 .4-2.6 .3-1.8 .4-1.6 .2-2.2 .3-.9 .3-1.3 .3-2.4 .2-1.8 .3-1.2 .3-1.6 .3-2.9 .2-1 .3-1.1 .3-2.4 .3-2.1 .2-2.1 .3-1.2 .3-.9 .3-2.3 .2-2.5 .3-1.3 .3-2.3 .2-2 .3-1.7 .3-1.3 .3-.7 .2-1.8 .4-2.5 .4-2 .4-1.4 .4-1.3 .5-2.3 .4-2.1 .5-2.1 .4-1.6 .4-1.3 .5-2.4 .4-2.5 .4-2.3 .5-2.3 .4-1.6 .5-1 .4-2 .4-.7 .5-2 1-1.7 2-1 1.8 .5 1.8 .8 1.8 1 1.8 .7 1.8-.4 1.9 .6 1.8-.4 1.8-.7 2.3 .1 2.1-1.5 1.4-.5 1.4-.2 1.5-1.7 1.4-1.7 2.1-1 2.4-1 1.8-.6 1.9-.1 2.2 .6 1.9 1.3 1.3 1 1.3 3.1 1.3 2.2 1.3 .5 1.3 .5 1.4 1.4 1.3 1.8 1.3 2.4 1.3 1.1 1.3 .4 1.3 1.8 1.3 2 1.4 .6 1.2 2.2 1.2 1.8 1.1 .4 1.1 1.4 1 .7 1.1 1.2 1.1 1.6 1 2.1 1.1 2.1 1.1 .6 1 1.1 1.1 2.6 1.2 .8 1.2 1.4 1.2 1.6 1.1 2.4 1.2 .4 1.2 2.4 1.2 .6 1.1 1.7 1.2 2.2 1.3 1.7 1.3 1.2 1.3 1.7 1.3 1.3 1.3 1.7 1.3 1.6 1.3 .2 1.2 1 1.2 .8 1.1 1.6 1.1 .3 1.2 2.4 1.1 1.7 1.2 .9 1.1 2 1.2 .6 1.3 1.8 1.3 1.1 1.3 1.2 1.3 1.5 1.3 1.1 1.3 1.1 1.4 .7 1.4 2.5 1.4 .2 1.5 .4 1.4 .5 1.5 2 1.4 .8 1.3 1.9 1.3 2.4 1.3 1.6 1.4 1.2 1.3 .9 1.3 1.8 1.3 1.4 1.3 .4 1.4 .8 1.4 1.8 1.4 1.7 1.4 1.1 1.4 .4 1.4 1.4 1.5 1.5 1.4 1 1.4 .2 1.4 .7 1.5 1.7 1.5 .6 1.5 1.9 1.6 .8 1.5 1 1.5 .1 1.5 .6 1.5 2 1.5 1.3 1.6-.4 1.5 1.4 1.4 .4 1.5 1 1.5 1.2 1.5 1.8 1.5 1.6 1.5 .6 1.5 .2 1.5 2.2 1.5 .3 1.5 1.9 1.6 2 1.5-.1 1.5 1.7 1.5 1.5 1.5 .2 1.6 .8 1.5 .9 1.5 1.8 1.7 .9 1.7 2 .8 .4" fill="none" stroke="#8c5872" stroke-width="1.9" stroke-linejoin="round"/><path d="M653.7 446.6l0-1.8 .1-1.7 0-1.8 .1-1.2 .1-1 .8 1 .4 1.6 .5 2 .5 1.6 .4 1.8 .8 2.6 1.9 1.1 1.8-.6 1.8 1 1.9-.7 1.8 1.4 1.8 .6 1.8-.8 1.8 1 1.8 .2 1.8-2.2 1.8-2.1 1.7-.1 1.8-.1 1.8-1.4 2.4 .1 2.3 1.9 1.7-.7 1.8 .1 1.7 2.1 1.7-.2 1.7-.4 1.8 .4 1.7 .8 2.3-.7 2.4 .9 1.8 .3 1.8-1.6 1.8 .7 1.8-2.2 2.4-.8 1.8 2 1.8 1.4 1.6-.3 1.9 2.7 1.4 .9 1.3 1.9 1.3 .1 2-.3 1.8 1.8 1.9 .4 1.9-.1 2.3-1.5 1.7-1.7 1.2-2 1.1-1.6 1.1 .1 1.1-1.7 .8-2 .5-2.2 .4-.7 .3-1 .4-2.2 .3-1.6 .3-1.7 .4-1.8 .3-2.2 .4-1.6 .3-2 .3-2.1 .4-.9 .3-1.8 .4-.7 .3-2.2 .4-2 .3-1.8 .3-2.1 .4-2.5 .3-1.3 .4-1.5 .3-2.5 .4-.9 .3-1.3 .3-1.9 .4-2.2 .3-1.9 .4-1.9 .4-1.5 .9 2.1 .4 1.2 .5 2.4 .4 1 .5 2.2 .5 2.1 .4 2.5 .5 1.9 .4 1.1 .5 1.6 .4 1 .5 1.3 .4 1.6 .5 2.4 .4 2.4 .5 2.8 .4 1.5 .4 1.9 .3 1.2 .3 1.8 .3 2.4 .3 1.7 .3 1.8 .3 1.9 .3 1.8 .2 1.8 .3 1.7 .3 .5 .3 2.6 .3 1.1 .3 2.5 .3 1.9 .3 1.9 .3 1.7 .3 1.3 .3 1.7 .3 1.5 .3 2.1 .3 2 .3 1.9 .3 1.7 .3 2.3 .3 1.2 .3 1.6 1.3-1.7 .4-1.7 .4-1.9 .4-2.5 .4-1.7 .4-.5 .4-1.7 .4-2.4 .4-2.4 .4-2.1 .4-.5 .4-2.2 .4-2 .4-1.3 .4-1.9 .4-2.2 .4-1.7 .4-1.1 .4-1.6 .3-1.5 .3-2.4 .3-2.4 .3-2.7 .2-1.1 .3-2 .3-2 .3-1.8 .3-.9 .3-2.9 .3-2 .3-1.7 .3-.8 .3-2.1 .3-1.3 .3-1.6 .3-2.2 .3-1.1 .3-2.3 .3-2.6 .3-1.2 .3-1.8 .3-1.8 .5-1.9 .4-1.2 .5-1 .4-1 .5-2.7 .5-2.4 .4-.9 .5-1.6 .4-1.5 .5-2 .5-1.7 .4-2.5 .5-1 .5-2.3 .6-1.1 .6-.7 .9-2.5 1.6 .6 1.2 1.1 1.1 1.6 1.1 1 1.2 1.9 1.1 1.7 1.2 1.6 1.4 1.3 1.6 .7 1.7 .9 1.7 1.1 1.7-.5 2.2 .9 1.9-2 1.5-1.6 1.4-.3 1.5-2.2 1.9-.5 2.2 .8 1.7 .5 1.7 1.3 1.7 1.1 1.6 .5 1.3 1.5 1.1 .4 1 .8 1 1.3 1 1.5 1 1.9 1 1.5 1.1 1.7 1 2.6 .9 1 1 1.6 .9 2.3 .9 1.6 1 1.4 .9 1 .9 1.8 .9 .5 .8 2.6 .9 .7 .8 1 .8 1.9 .8 1.1 .9 2.2 .8 1.8 .8 2.4 .9 .3 1 2.2 .9 1.5 .9 2.4 1 1.6 .9 1.6 .9 1.9 1.1 2 1 .7 1.1 1.3 1.1 1.5 1.1 1.4 1.4 1 1.2 1.2 1.3 1.4 1.3 2.4 1.3 .8 1.3 1.7 1.4 .8 1.7 .7 1.7 .5 1.7 .1 1.7 1.1 1.8 1.9 1.8 .8 1.8-.5 1.8-.4 1.8-.4 2.2 1.5 1.8-1.8 1.3-1.6 1.3-.4 1.3-1.5 1.3-.1 1.4-2.4 1.3-1.5 1.5-1.4 1.4-.1 1.5-1.7 1.4-1.2 2-1.2 2.2 .4 1.8 .9 1.9 .3 1.8 .5 1.8 .3 1.7 .1 1.7 .4 1.7 1.3 1.8 .7 1.7 1.5 1.7 .3 1.7 .3 1.7 1.2 1.8-1 1.9 0 1.8 .8 1.9-.7 1.8 .5 1.8 1.7 1.9 0 1.8-.5 1.9 .4 1.8 0 1.9-.8 1.8 .2 1.8 .3 1.9-.1 1.8-.8 1.9-1 1.8 .1 1.8-.2 1.9-.2 1.8 .5 1.9 1.5 1.8 .5 1.9-.1 1.8-.5 1.8 1.5 1.9-.4 1.7 1.4" fill="none" stroke="#8c5872" stroke-width="1.9" stroke-linejoin="round" stroke-dasharray="4 3"/><path d="M653.7 447.7l.1-2.7 .1-2.7 .1-1.6 .2-2 .1-1.3 .8 1.5 .4 1.5 .4 2.3 .3 2.6 .4 2 .4 2.4 .9 1.2 2.1 2 1.9-1.5 1.9-.6 1.9-1.3 1.9-1.7 1.7 1.2 1.8-1.2 1.8 .4 1.7-1.4 1.8-.2 1.7-.2 1.8-1.1 1.7-.4 1.8 1 2.3-.1 2.2 .2 1.6 2.7 1.7 2.1 1.7 .1 1.6 .8 1.7 .1 1.6 1.4 1.7 1.3 2.3 1.4 1.7-1.5 1.9-.3 1.8-.7 1.8 .2 1.8-.2 1.8-2.4 1.8 .6 1.8 1.9 1.8 .5 2 1.2 1.2 1 1.2 .2 1.1 1.5 1.2 1.2 1.9 2.3 2.3-1.1 1.8 1.4 1.9 .5 2.2-.9 1.5-1 1-2 1-2.4 1-2.2 1-.5 .9-3.1 .7-2.9 .5-1.5 .3-1.9 .2-.9 .3-.4 .3-1.6 .3-2.6 .2-1.4 .3-1.4 .3-2.4 .2-1.4 .3-1.3 .3-2.1 .3-1.6 .2-2.9 .3-2.1 .3-.6 .2-2.9 .3-1.6 .3-1.3 .3-1.7 .2-1.9 .3-1 .3-1.9 .2-2.3 .3-2.9 .3-.4 .3-2.1 .2-.9 .3-3 .3-2.3 .2-1.5 .3-1.3 .3-1.5 .3-1.6 .2-1.9 .4-1.9 .7 1.6 .4 2.6 .4 2.5 .3 .9 .4 1.6 .4 2.7 .3 1.3 .4 1.1 .4 1.7 .4 1.9 .3 1 .4 2.6 .4 .9 .4 1.1 .3 2.8 .4 .7 .4 1.5 .4 1.7 .3 2.6 .4 2.1 .4 2.2 .3 2 .3 1.3 .2 2.5 .3 1.1 .2 1.5 .3 2.4 .2 1.3 .2 2.7 .3 1.5 .2 2.8 .2 2.1 .3 1.2 .2 2.1 .3 2.3 .2 1.8 .2 1.1 .3 1.9 .2 1.6 .2 2.1 .3 .5 .2 2.4 .3 1.7 .2 1.3 .2 1.3 .3 1.2 .2 2.1 .2 2.8 .3 1.7 .2 1.9 .2 .9 .3 1.6 .2 2.1 .3 1.6 .3 2.1 .6-1.7 .3-1.3 .3-1.6 .3-1 .4-1.7 .3-2.3 .3-1.6 .3-2.4 .3-2 .4-1.6 .3-.6 .3-2 .3-2.5 .3-1.7 .3-2.1 .4-2 .3-.6 .3-1.5 .3-2.1 .3-1.5 .4-1.3 .3-1.3 .3-1.6 .2-1.6 .3-1.7 .3-3.1 .2-1.5 .3-2.6 .2-2.2 .3-.4 .2-1.4 .3-2 .2-1.8 .3-1.4 .2-3 .3-1.6 .2-1.8 .3-2.4 .2-2.8 .3-1.5 .2-1.7 .3-2.4 .2-2 .3-2 .2-1.3 .3-.8 .2-2 .3-2.2 .2-2.2 .3-.7 .3-2.4 .3-1.5 .4-2.4 .5-.9 .4-1.9 .5-1.9 .4-2 .5-1.7 .5-1.1 .4-1.9 .5-1.1 .4-2.1 .5-.7 .4-1.2 .5-1.7 .5-2.6 .4-2.5 .8-2.1 1.8 0 1.9 1.2 1.8 .5 1.8 1.3 1.6-.2 1.9 1.1 1.5 .9 1.4 .7 1.4 1.3 1.9 1.9 1.8-2 1.3-.5 1.2-1.6 1.3-1.9 1.4-.2 1.3-.8 1.5-1.1 1.4-2.1 1.5-.8 1.4-2.5 2-1.7 2 .5 1.6 1.3 1.6 1.3 1.5 1.2 1.4 .7 1.3 1.4 1.3 2.7 1.3 2.1 1.3 .9 1.4 1.4 1.3 .6 1.3 .8 1.2 1.8 1.2 2 1.2 1.9 1.2 1.5 1.2 .6 1.2 1.4 1.1 1.7 1.2 1.6 1.2 .9 1.2 2 1 .6 1.1 1.4 1 1.3 1 1.8 1 2.2 1 .2 1 1.4 1 2.1 1.1 1.8 1.1 1.2 1.1 2.2 1.1 1.6 1.2 1.2 1.1 .4 1.2 2 1.1 1.8 1.1 1.5 1.2 1 1.1 2.3 1.2 1.2 1.1 1.6 1.1 .5 1.2 1.5 1.1 1.7 1.2 1.3 1.1 .6 1.1 .5 1.2 1.4 1.1 1.9 1.2 1.8 1.1 1.4 1.1 1.4 1.2 2.9 1.8 1.2 1.4 1.3 1.5 1.9 1.4-.4 1.5 1.8 1.4 1.1 1.4 .2 1.5 1.2 1.4 1.8 1.5 1.8 1.4 .6 1.4 1.7 1.4 .8 1.3 1 1.4 1.1 1.3 1.4 1.3 1.4 1.3 .5 1.3 1.1 1.3 1.3 1.4 1.3 1.4 1.2 1.4 1.4 1.4 1 1.4 1.2 1.4 .5 1.5 1.2 1.4 2.3 1.4 .2 1.5 .8 1.5 1.5 1.5 2 1.6-.1 1.5 1.5 1.5 .9 1.5 2.2 1.6 1 1.5 1.1 1.5 1 1.6 1.4 1.6 1.2 1.6-.3 1.6 1.5 1.6 .2 1.6 .6 1.6 1.4 1.6-.1 1.6 1.7 1.6 .5 1.6 .9 1.6 1.3 1.6 .3 1.6 .5 1.6 2.1 1.6 0 1.6 2.2 1.6 .9 1.6 1.1 1.6 .6 1.7 .4 1.4 2" fill="none" stroke="#d09c9e" stroke-width="1.9" stroke-linejoin="round"/><path d="M653.7 446.9l.1-3.5 .1-2.1 .1-1.2 .1-2.8 .1-1.4 .8 3.1 .4 1 .4 2.8 .3-.5 .4 2.4 .3 1.1 .4 .9 1.2 .6 2.3 1.4 1.9-1.3 1.9 .6 1.8-.9 1.9 1 1.8 .1 1.8-.9 1.8-.6 1.8-.6 1.8 1.4 1.8-2.1 1.8 .2 1.8-.9 2.3 .1 2.3 1.4 1.7 1.3 1.7-.2 1.8 .3 1.7 1.8 1.7 .2 1.7 2.1 1.7 1.4 2.3 .5 2.3-.8 1.8-2 1.8 .3 1.8 .2 2.3 .5 2.3 .2 1.7 .3 1.7 2.9 1.7 .7 1.6-.4 1.5 2.4 1.4 1.4 1.5 .3 1.5 1.1 1.7 1 1.7 1.6 1.8 .2 1.7 1 2-.2 1.3-.7 .9-2.5 .9-1.9 1-1.9 .9-2.2 .9-1.1 .8-1.6 .5-2.7 .3-.7 .3-2.1 .3-3 .3-2.6 .3-1.9 .3-.2 .3-2.8 .3-2.2 .3-1.9 .3-1.1 .3-2.5 .3-1.5 .3-2 .3-2.1 .2-.7 .3-2.7 .3-1.4 .3-2.7 .3-.8 .3-1.4 .3-1.7 .3-1.4 .3-1.9 .3-2.5 .3-1.1 .3-1.1 .3-1.4 .3-3.1 .3-2.2 .3-1.2 .2-1.8 .3-1.3 .3-2.4 1.1 2.2 .3 .5 .4 2.4 .3 .8 .4 1.4 .4 1.3 .3 1.6 .4 3 .3 1.7 .4 1.1 .4 2.6 .3 .7 .4 3 .3 2.1 .4 .8 .4 .8 .3 1.4 .4 2.9 .3 1.8 .4 1.7 .3 1.3 .3 2 .2 2.7 .2 1.2 .3 2.1 .2 1.7 .2 1.4 .3 1.6 .2 1.3 .2 2.8 .3 1.9 .2 1.4 .3 3 .2 .9 .2 1.6 .3 2.6 .2 1.7 .2 1.3 .3 2 .2 1.3 .2 2.8 .3 2.5 .2 1.5 .2 1.8 .3 1.6 .2 1.7 .3 1.3 .2 2.3 .2 2.8 .3 1.5 .2 1.8 .2 1.8 1.2-1.8 .3-1.4 .4-1.9 .3-3.1 .4-2 .3-1.8 .4-1.7 .3-1.2 .4-1.7 .3-2.1 .4-2.1 .3-2 .4-2.3 .3-2.5 .4-.9 .3-1.7 .4-2.2 .3-2.5 .4-.4 .3-2.5 .3-2.5 .3-1.7 .3-2.1 .3-1 .2-1.8 .3-2.2 .3-1.3 .2-1.9 .3-.9 .3-1.8 .2-1 .3-2.6 .2-2.5 .3-2.7 .3-.6 .2-1.3 .3-2.4 .3-1 .2-1.4 .3-2.5 .2-1.7 .3-2 .3-2.5 .2-1.5 .3-1.7 .3-1.7 .2-.7 .3-2.2 .3-2.8 .4-2.1 .4-2.4 .4-.5 .4-2.1 .4-1.8 .4-1.9 .4-1.5 .4-1.4 .5-1.7 .4-2.3 .4-2.3 .4-2.2 .4-.6 .4-2.4 .4-.4 .4-1.9 .5-1.4 .5-2.3 .5-2.4 .8-2.3 1.6 1.9 1.2 .8 1.1 .7 1.1 2.1 1.2 1.5 1.1 2.4 1.6 .9 2.2 .3 1.8 .6 1.8-1.2 1.8 .4 2-1.6 1.4-2 .9-2.2 .9-1.6 .9-1.7 .9-.6 .9-1 .9-1.6 1-3.2 1.6-.9 1.4 .3 1.1 1.5 1 1 1.1 1.8 1.1 1.8 1 .7 .9 2.3 .9 2.4 1 .9 .9 1.6 .9 1.2 .9 2.3 .9 1.9 .9 0 .9 2.3 1 1.4 1 1.1 1 2.2 1 1.3 1 1.6 1 2.2 1 2.3 1.1 1.8 1 1.7 .8 .4 .8 1.9 .6 1.9 .5 1.8 .6 2.2 .6 1.4 .6 1.2 .5 1.5 .6 2.4 .6 1 .5 2 .6 .8 .6 1.1 .7 2.5 .6 2.2 .6 1 .7 1.7 .6 1.3 .7 2.4 .6 1.8 .6 1.9 .7 .7 .7 1.7 .8 2.8 .8 1.3 .8 1.6 .8 2.2 .8 2.7 .9 .7 .8 2.6 .9 1.7 1 1.8 1.3 .3 1.3 .8 1.3 1.6 1.3 1.4 2 2 1.7-.3 1.7 .3 1.7 .9 1.7 1.6 1.7 1 2.3-.2 2.4-.6 1.8-1.3 1.8-.1 1.8-1.4 1.8-.2 2.2-.5 1.6-.6 1.6-1.4 1.5-.7 1.6-.7 1.5-.8 1.6-.8 1.4-.3 1.4-.8 1.3-2 1.3-1.3 1.3-1.6 1.3-1.4 1.8-1.7 2-.2 1.8 1.4 1.7 1.8 1.7 1 1.6 .1 1.6 1.1 1.4 .8 1.5 1.8 1.4 .3 1.4 1.5 1.4 .9 1.5 .3 2 1.4 2.3 .3 1.9 .8 1.8-.4 1.8 .1 1.9 1.1 1.8-1.2 1.9-.3 1.8-.1 1.8-.3 1.9 .5 1.8 .4 1.9 0 1.8-.3 1.9-.7 1.8-.2 1.8 .1 1.8 .1 2.4 .4 1.7 .5 1.7 .3 1.7 1.5 1.7-.2 1.7 .2 1.7 1.7 .8 1" fill="none" stroke="#d09c9e" stroke-width="1.9" stroke-linejoin="round" stroke-dasharray="4 3"/><g><line x1="1188.9" y1="339.8" x2="1188.9" y2="562.2" stroke="#161616" stroke-width="2.5"/><path d="M1185.7,359.4h3.2 M1185.7,377.7h3.2 M1185.7,396.0h3.2 M1185.7,414.4h3.2 M1185.7,432.7h3.2 M1185.7,451.0h3.2 M1185.7,469.3h3.2 M1185.7,487.6h3.2 M1185.7,506.0h3.2 M1185.7,524.3h3.2 M1185.7,542.6h3.2" stroke="#161616" stroke-width="1.6"/><line x1="1122.0" y1="451.0" x2="1451.5" y2="451.0" stroke="#161616" stroke-width="2.7"/><path d="M1123.2,451.0v3 M1254.6,451.0v3 M1320.2,451.0v3 M1385.9,451.0v3 M1451.5,451.0v3" stroke="#161616" stroke-width="1.6"/><text transform="translate(1123.2,472.8) scale(1.05,0.88)" text-anchor="middle" font-family="'Liberation Serif', 'Times New Roman', serif" font-weight="bold" font-size="16.5" fill="#222">-200</text><text transform="translate(1254.6,472.8) scale(1.05,0.88)" text-anchor="middle" font-family="'Liberation Serif', 'Times New Roman', serif" font-weight="bold" font-size="16.5" fill="#222">200</text><text transform="translate(1320.2,472.8) scale(1.05,0.88)" text-anchor="middle" font-family="'Liberation Serif', 'Times New Roman', serif" font-weight="bold" font-size="16.5" fill="#222">400</text><text transform="translate(1385.9,472.8) scale(1.05,0.88)" text-anchor="middle" font-family="'Liberation Serif', 'Times New Roman', serif" font-weight="bold" font-size="16.5" fill="#222">600</text><text transform="translate(1451.5,472.8) scale(1.05,0.88)" text-anchor="middle" font-family="'Liberation Serif', 'Times New Roman', serif" font-weight="bold" font-size="16.5" fill="#222">800</text><text transform="translate(1183.4,364.2) scale(1.05,0.88)" text-anchor="end" font-family="'Liberation Serif', 'Times New Roman', serif" font-weight="bold" font-size="16" fill="#222">-5</text><text transform="translate(1183.4,547.4) scale(1.05,0.88)" text-anchor="end" font-family="'Liberation Serif', 'Times New Roman', serif" font-weight="bold" font-size="16" fill="#222">5</text><text transform="translate(1287.9,559.2) scale(1,0.86)" text-anchor="middle" font-family="'Liberation Serif', 'Times New Roman', serif" font-weight="bold" font-size="18.6" fill="#1e1e1e">Latency (ms)</text><text transform="translate(1097.9,451.0) rotate(-90) scale(1,0.86)" x="0" y="0" text-anchor="middle" font-family="'Liberation Serif', 'Times New Roman', serif" font-weight="bold" font-size="18.6" fill="#1e1e1e">Amplitude (μV)</text><text x="1171.0" y="347.8" text-anchor="end" font-family="'Liberation Serif', 'Times New Roman', serif" font-size="30" fill="#111">Fz</text></g><path d="M1124.2 448.4l2.1 .6 1.9 .2 1.8 .5 1.9-.3 1.8-.3 1.9 .7 1.8 1.7 1.9-3.1 1.7-.1 1.7 .6 1.6-.7 1.6-2.6 1.6-1.9 1.6-.4 1.6-.5 1.5-1.1 2.1-2 1.8 1.1 1.2 2.5 1.3 2.1 1.8 3.3 2.3 0 1.7 1.6 1.7-.3 1.7 1.2 1.8 .4 1.7 .4 1.7 1.8 1.7-.5 1.7 .5 1.7-.2 1.7-1.1 1.8 1.8 1.8-.7 1.9-.4 2-.9 1.9 0 1.9 1.1 1.8 .7 1.9-.8 1.8 2.1 1.9-1.7 1.8 1.2 1.8-.1 1.8 1.2 1.9-1.2 1.8-.1 2.2 .8 1.7-3 1-3.3 1.1-2.7 .8-1 .6-1.8 .4-1.3 .4-2.2 .4-2.1 .4-1.4 .4-.2 .4-2 .4-1.8 .4-.6 .4-2.4 .4-.9 .4-2 .4-2.6 .4-.7 .4-3.1 .4-2.4 .4-2.2 .4-1.2 .4-2.2 .4-1.6 .4-2 1.6 1.4 .7 2.9 .7 2.8 .8 .3 .7 1.7 .7 1.6 .7 1 .8 1.7 .6 .7 .6 2.1 .6 2.5 .5 1.7 .6 1 .5 1.6 .6 2.7 .5 1.6 .5 .4 .6 1.1 .5 2.2 .6 2.9 .5 1.6 .6 1.1 1.2 2.1 1.6-2.2 1.2-1.2 1.3-.5 1.3-2.2 1.2-1.4 1.1-1.4 .5-2.7 .4-1.5 .4-1.4 .4-2.2 .4-2 .5-.8 .4-.9 .4-1.8 .4-.8 .5-2.1 .4-1.1 .4-2.7 .4-.8 .5-2 .4-2.2 .5-2.1 .5-1.1 .5-2.9 .5-2.2 .5-1.7 .5-1.6 .5-2.8 .5-1.5 .5-.3 .5-2.9 .5-1.2 .5-2.8 .5-1.1 .4-1.8 .3-2.4 .2-2.7 .2-1.9 .2 .1 .2-1.1 .2-2.6 .2-1.4 .2-3.2 .2-1.2 .2-1.7 .2-2.2 1.1-.7 1.7 1.8 1.3 1.9 1.3 1.2 1.3 1 1.3 1.8 1.4-.1 1.4 .8 1.4 2.3 1.4 1.3 1.5 .6 1.4 2.1 1.9 .8 1.8-1.6 1.3-1.3 1.3-.5 1.3-.8 1.3-.6 1.3-2.3 1.3-1.4 1.3-.6 1.3-.7 1.2-2.9 1.3 0 2.2-1 1.7 1.9 1.3 .1 1.3 .8 1.3 1.6 1.3 1.7 1.3 .4 1.3 1.5 1.3 2 1.3 1.7 1.3 1.2 1.3 1 1.3 2 2 .8 2.4 .1 1.8 .8 1.8-.2 2.4-.5 2 .5 1.4 2.5 1.5 .4 1.4 2.3 1.5 .6 1.7 2.2 1 .6 1.1 2.3 1 2.2 1 .6 1 .9 1 .9 1 1.4 1.1 3.1 1.1 1.5 1.3 1 1.3 1.6 1.3 1 1.3 1.1 1.3 1.4 1.3 .7 1.4 1.7 1.3 .6 1.5 2.3 1.5 .9 1.6-.2 1.5 1.2 1.6-.3 1.5 .9 1.6 2.1 1.7 .5 1.7-.2 1.9-.3 1.8 .3 1.8 .6 1.7 .8 1.4 .8 1.5 1.3 1.4 1.3 1.4 1.7 1.4 2.7 1.5 1.6 1.4 .2 1.5 .5 1.7 1.9 1.7 .3 1.7 .4 1.7 .6 1.8 1.1 1.6-.4 1.7-.2 1.5 1.8 1.6 1.7 1.5 0 1.6 2.1 1.5 .3 1.6-.1 1.5 .6 1.5 2.6 1.4 1.7 1.4 1 1.5-.3 1.4 .7 2.1 2 2.3 1.3 1.8 .3 1.8-.4 1.8 .2 1.8 1 1.8 .6 2 1.7 1.5 .4 1 .5 1.1 1.3 1 1.2 1 1.8 1.1 1.8 1 1.4 1.1 2.4 1 1.1 1 1 1.1 1.3 1 1.9 1.1 1.7 1 2.5 1.1 .8 1 1.5 1.1 1.1 1.1 1.8 .5 0" fill="none" stroke="#4a3964" stroke-width="1.9" stroke-linejoin="round"/><path d="M1124.2 450.6l2.2 .5 1.8 1 1.9-1.1 1.8-1.4 1.8 0 1.7-1.1 1.7-.2 1.8-1.7 1.7-.9 1.7-.3 1.6-.7 1.7 .4 1.7-.4 1.7-.4 1.6-3 1.7-1.8 1.7 .7 1.9 1.5 1.7-.2 1.3 2 2.1 .1 1.8 .6 1.7 .1 1.8 .6 1.8 .1 1.8 1.7 1.8 .6 1.7 1.9 1.8 0 1.8 1.3 1.7 1.2 1.8 1.2 1.8 0 1.7 2.2 1.8-.3 1.8-.8 1.8 1.1 1.9-1.4 1.8-1 1.8-1.2 1.8-.1 1.8 .1 2.4-.8 1.8 1.8 1.7-.3 1.8-.4 1.7 1 2 .3 1.4-.8 1-3.2 1 .6 .9-2 .6-1.9 .4-1.6 .4-1.7 .4-1.8 .4-3.5 .4-2.4 .3-1.6 .4-1.3 .4-1.2 .4-.8 .4-1.3 .4-2.3 .3-1.8 .4-1.4 .4-2.1 .4-3.3 .4-.7 .4-2.2 .4-1.6 .3-1.9 .4-1.8 .4-.9 1.8 1.1 .7 1.7 .6 .5 .7 .6 .7 1.6 .6 3.3 .7 2 .6 1.8 .7 2.1 .6 .5 .5 1.7 .6 1.9 .6 3.1 .5 2 .6 1.1 .6 2.5 .5 .8 .6 .5 .6 1.7 .5 3 .6 .8 .6 1.5 1.2 1.3 1.6-1.2 1.3-.6 1.2-1.9 1.3-1.6 1.2-.3 1.1-2.3 .5-2.8 .4-2.3 .4-1.9 .5-1.9 .4-.8 .4-2.5 .4-.7 .4-2.5 .5-1.7 .4-2 .4-2.1 .4-.8 .5-1.6 .4-2.6 .4-1.3 .4-1.5 .5-2.2 .5-1.9 .4-1.1 .5-1 .5-2.2 .5-1.7 .5-2.3 .5-2.1 .4-1.4 .5-1 .5-3 .5-.2 .5-1.1 .4-1 .4-3.3 .2-.8 .3-1.7 .3-3.1 .3-1 .3-1.1 .3-1.9 1.8-1.5 1.2 2.4 1.1 1.9 1.1 2.2 1.2 1.4 1.1 .9 1.2-.1 1.1 1.6 1.1 1.1 1.2 2.2 1.1 1.6 1.2 .4 1.1 1.8 1.1 1 1.7 2.1 2-.6 1.7-.5 1.7-.6 1.7-1.7 1.7-.4 1.7-.6 1.7-.7 1.7-.4 1.7-1 1.7-1.5 1.9-.2 1.5 3.3 1 .6 1.1 1.1 1.1 1.3 1.3 2.5 .8 1 .6 1.8 .7 1.7 .6 3.3 .6 1.1 .7 .9 .6 1.6 .7 1.4 .6 2.2 .6 1.7 .7 1.1 .6 2 .7 2.7 .6 1.6 .7 1.3 .6 1.4 .6 .9 .7 1.5 .6 2.1 .7 2.3 .7 2.6 .9 1.8 1.1 1.7 1.2 1.2 1.1 .7 1.1 1.3 1.2 .8 1.1 2.3 1.7 1.5 2.3 2 1.8 .1 1.8-.4 1.8 .1 1.9-.5 1.8 .8 1.8-.1 1.8-1.4 1.9-.2 1.8 .1 1.8 .4 1.8-.4 1.9-1 1.8 .8 2.1-.6 2-1 1.4-1.3 1.5-.5 1.4-1.1 1.5-1.4 1.5-1.4 1.5-.4 1.6-1 1.5-1.5 1.6-1.3 1.5-.3 2.1-.5 2.2-.3 1.7 1.1 1.7 1.4 1.8 .5 1.7 .1 1.7 0 1.6 2.1 1.5 .7 1.6 1.2 1.5 1.3 1.5 .4 1.5 .2 1.5 2 1.6 2 1.5 0 2.2 .8 1.8 .4 1.8-.6 1.7-1 1.8 .6 1.8 1.3 1.8 .8 1.8-.5 1.8 1 1.7 1.6 1.8-.3 1.8 .3 1.8-.5 1.8-.5 1.8 1.1 1.7-.4 1.8 1.8 1.8 .7 1.8 .1 1.7 .2 1.8 1.8 1.8-.7 1.8-.5 1.7 1.2 1.9-.1 1.8 1.1 1.9-.7 1.6 .3" fill="none" stroke="#4a3964" stroke-width="1.9" stroke-linejoin="round" stroke-dasharray="4 3"/><path d="M1124.2 447.4l2.1-1.5 1.8 .2 1.8 2 1.8 2 2.2-1.5 1.6-1.8 1.6 .4 1.6-.5 1.6-1.8 1.6-.5 1.5-2.1 1.5 1.2 1.5 .1 1.5-2.5 1.5-1.8 1.5-1.6 1.5-1.7 1.9-.3 1.6 .5 1.1 2.3 1 3.2 1.1 2 1.9 2.1 1.7-.9 1.7 .7 1.8 2 1.7-.5 1.8 1.8 1.7 1.4 1.6 .3 1.7 .9 1.6 .1 1.7 .1 1.6 2.6 1.7 .6 1.7 .2 1.9-1.9 1.9 1.4 1.9-1.7 1.8 .6 1.9 .8 1.9-.3 1.9-.1 1.9 1.5 1.8 1.3 1.8-.1 1.8 .2 1.8 .6 1.9-1.3 2.1-.7 1.3-1.9 .8 .9 .7-2.2 .8-1.3 .8-3.5 .5-1.6 .4-.9 .3-1.3 .3-3.4 .4-3.1 .3-2.2 .3-1 .3-2.4 .3-.9 .3-1.6 .4-2.8 .3-1.2 .3-.9 .3-.9 .3-1.9 .3-1.6 .4-1.4 .3-3.4 .3-1.8 .3-1.4 .3-1.5 .3-3.4 .3-1.1 .4-1.7 .3-1.8 .3-2.5 .3-1.1 .3-2.2 .3-1.9 1.4 .8 .5 3.1 .6 2 .5 .5 .5 1.2 .6 2.5 .5 2.4 .5 2.1 .6 1.3 .5 1.7 .5 2.4 .5 1.3 .5 1.2 .4 2.7 .5 1.4 .4 1.5 .4 2.5 .5 2 .4 2.2 .5 1.6 .4 1.6 .5 2.6 .4 2.1 .4 1.1 .5 1.1 .4 1.5 .5 2.5 .4 2 .5 2.2 1.9 .4 1-3.1 1-2.1 1-.3 1.1-1.4 1-2 .9-.7 .6-2.9 .4-2.3 .3-1.6 .3-1.9 .3-.9 .3-2 .4-1.1 .3-2.4 .3-2.6 .3-1.4 .3-2.2 .4-.6 .3-2.4 .3-1.5 .3-1.3 .3-1.4 .4-3.2 .3-1 .3-2.3 .3-1.4 .3-1.2 .4-2.8 .4-2.6 .4-.4 .4-.9 .4-2 .4-2.7 .4-1.3 .4-1.1 .5-1.2 .4-3.2 .4-2.1 .4-1.7 .4-3.2 .4-2.6 .4-1.8 .4-1.1 .6-.4 .7-2 .8-3 1.5 .3 2.2-.4 1.7 .6 1.7 .9 1.7 .5 1.7 1.7 1.7 .5 1.7 1.8 1.7 0 1.7 2.2 2.2 .5 1.9-1.2 1.5-1.7 1.4-1.1 1.5-1.3 1.8-2.7 1.3-.5 1.2-.2 1.1-2.2 1.2-1.6 1.1-1.7 1.1-1.9 1.2-.5 1.6-.9 1.8-.1 1.5 .4 1.4 2 1.4 .7 1.5 .8 1.7 2.3 1.2 1.6 1.2 1.5 1.1 .7 1.2 1.5 1.1 1.7 1.1 1.6 1.2 1.4 1.3 2.4 1.8 .5 1.5 1.8 1.4 .4 1.5 1.3 1.8 .3 1.3 1.7 1.2 .6 1.1 3.1 1.1 .2 1.2 1.2 1.1 2.4 1.2 2.1 1.1 1.5 1.1 1.3 1.2 .1 1.1 2.2 1.2 1.9 1.1 .7 1.1 1.8 1.2 1.8 1.1 2 1.3 1.1 1.3 .1 1.3 1.1 1.3 .4 1.3 1.9 1.3 1 1.3 1.4 1.4 1.7 1.4 1.6 1.5 1.7 1.4-.2 1.4 .8 1.5 1.6 1.4 2 1.5 .8 1.4 .9 1.4 .8 1.5 1.7 1.4 .8 2.1 2.5 1.6 .7 1.7 0 1.8 1.7 1.7 .3 1.7 .9 1.7-.2 1.6 .9 1.5 1.3 1.6 .9 1.6 .8 1.5 1 1.6 .8 1.5 1.3 1.6 2.1 .8 1.3 .8 .1 .8 2.3 .9 1.7 .8 1 .8 2 .8 1.4 .8 1.8 .8 2.3 .8 2.1 .9 2.1 .8 1.8 .8 .3 1.1 .5 1.1 1.4 1.2 2.1 1.2 .6 1.2 2.3 1.1 .5 1.2 2.4 1.2 2.1 1.2 .2 1.3 2.7 1.6 1.1 1.7 .5 1.7 .6 1.7 1.1 1.7-.7 1.7 1.5 1.7 .4 1.7 1.3 1.7 .6 1.7 .1 1.7 .8 1.6 .9 1.6 1 1.7 1.4 1.6-.2 1.7 0 1.6 2 1.7 .4 1.7 .7 1.5 .4" fill="none" stroke="#8c5872" stroke-width="1.9" stroke-linejoin="round"/><path d="M1124.2 449.1l2.1-.1 1.9 .7 1.8 1 1.9-.6 2.3-1 1.7-.5 1.8-.9 1.7-.9 1.7-.9 1.5-.1 1.5-1.4 1.4-.2 1.5-1 1.4-2.5 1.5-1.2 1.5-1.7 1.4-1 1.8-.5 1.6 2.2 1.1 .3 1.1 .6 1.6 3.2 2.1 1.4 1.7 .9 1.7-.6 1.7 2.2 1.7 1.3 1.7 .1 1.7 .5 1.7-1.1 1.7 .3 1.8 1 1.7 2.6 1.7 .1 2.4 .5 1.8 1.2 1.8 .7 1.8 1.6 1.8-1.8 1.9-.8 1.8 .6 1.9-.5 1.8 1.8 1.9-.4 1.9-.5 1.8 1.2 1.9 .3 1.8-.7 2.2-1.3 1.5-.7 .9-2.1 1-1.2 .9-.2 .6-2.1 .4-1.4 .4-2.2 .3-1.6 .3-.9 .4-1.9 .3-3.4 .3-1.5 .3-1.9 .4-1.6 .3-2.9 .3-.8 .4-2.8 .3-1.5 .3-1 .4-2.5 .3-1.2 .3-1.6 .4-1.3 .3-1.7 .3-2.8 .4-2.8 .3-.7 .3-1.7 .3-1.3 .4-2 .3-3 1.5 1.9 .6 .7 .6 2.7 .6 2 .6 .8 .5 1.1 .6 2.1 .6 2.2 .6 1.5 .6 1.2 .6 2.1 .5 2.2 .5 1.7 .4 1.4 .5 1.4 .5 3.4 .4 .9 .5 1.4 .5 2.8 .4 1.4 .5 3.1 .5 1 .5 1.1 .4 2.1 .5 1.3 .5 .9 .4 2.2 2 1.1 1-1.4 1.1-2.7 1.1-.4 1.1-1 1.1-1.5 1.1-2.3 .4-1.8 .4-2.1 .3-1.9 .3-1.4 .4-1.9 .3-2.7 .4-2.6 .3-1.5 .3-2.6 .4-.2 .3-2.5 .3-2.7 .4-.7 .3-1.3 .3-2 .4-.7 .3-1.5 .3-2.2 .4-.9 .3-2 .4-2.6 .5-1.7 .4-.6 .4-2.8 .5-2.5 .4-1.5 .4-.6 .4-2.2 .5-2 .4-.3 .4-1.6 .5-.7 .4-2.4 .4-1.3 .4-3.2 .5-2.8 .5-1 .6-2.5 .5-.2 1.8-.9 1.3 2.2 1.3 .5 1.3-.1 1.3 2.2 1.3 1 1.3 2 1.3 2.1 1.3 .5 1.3 .1 1.3 1.3 1.3 2.3 1.3 2.1 1.8-.3 1.9-.2 1.5-2.8 1.4-.6 1.5-1.7 1.4 .1 1.6-1.3 1.7-.4 1.7-.7 1.7-1.1 1.7-.3 2.2-.3 2.1 .4 1.6 1.2 1.5-.2 1.3 1.2 .8 1.2 .7 .8 .8 3 .7 1.2 .7 1.6 .8 1.5 .7 1.5 .7 3.2 .8 2.6 .7 .4 .7 1.1 .8 3.3 .7 1 .7 .4 .8 3 .7 .8 .7 2.8 .8 2.2 .8 .6 1 1.4 .9 1.7 .9 2.9 1 2.4 .9 1.6 .9 .4 .9 1.5 .8 1.4 .9 1 .8 1.7 .8 .6 .8 2.8 .9 1.4 .8 2.3 1.5 .8 2.3-.8 1.9-1 1.8 1.2 1.8-1.2 1.8 .9 1.9-.4 1.8 .5 1.8 .6 1.8 1.3 1.8 .9 1.7 1.8 1.7 1 1.7 0 1.7 1.4 2.1-1.2 1.9-2.2 1.4-2 1.5-1.4 1.4-1.2 1.4-1 1.4-1.1 1.5-.6 1.5-.4 1.6-1.3 1.5-.4 1.6-2.3 1.5-1 1.6 .5 2 .5 2-.5 1.4 2.6 1.4 1.7 1.4 1 1.5 .6 1.4 .7 1.4 .6 1.5-.2 1.5 1.3 1.5 .3 1.5 1.2 1.5 1.6 1.6 .4 1.5 1.2 1.5 2.1 1.5-.1 1.6 .7 1.6 2.1 1.7 .1 1.6 1.8 1.7-.2 1.6-.5 1.6 .8 1.7 .2 1.7 .5 1.7 2 1.8 .7 1.7 1.1 1.8 1 1.8-1 1.8 1.2 1.7 .4 1.8 .9 1.7 .7 1.6 1 1.6 1.3 1.5 .8 1.6 1.8 1.6-.2 1.5-.3 1.5 2 1.5 1.1 .7 1.2" fill="none" stroke="#8c5872" stroke-width="1.9" stroke-linejoin="round" stroke-dasharray="4 3"/><path d="M1124.2 449.8l2.1-1.6 1.9 .3 1.8 1.1 1.8 1.2 2.3 0 1.6-2.4 1.6-1.4 1.7-2.2 1.6 1 1.5-2 1.5-1.8 1.4-1 1.5-.1 1.4-2.5 1.5-.7 1.4-1.5 1.5-.2 1.4-.8 2.1 .9 .9 1.1 1 .5 1 3.8 1.2 .5 2.1-.1 1.7 2.6 1.7 2.1 1.7 .6 1.8 1.7 1.7 .7 1.7 .4 1.6 .4 1.6 2 1.6 2.2 1.6 .1 1.6 1.3 1.7 .2 1.8 .1 1.9 0 2-.7 1.9-.6 1.9-2.5 1.8 .8 1.9-.5 1.8 .8 1.9-.8 1.8 .8 1.7-.6 1.8 .1 1.8-.7 1.8 .9 1.9 .3 1.2-.8 .8-1.4 .8-2.4 .8-.5 .7-2.4 .4-2 .3-1.7 .3-2.2 .3-2.9 .3-1.7 .3-.8 .3-.7 .3-2.4 .3-2.4 .3-1.8 .3-2.6 .3-2.1 .3-1.4 .3-.4 .3-3.1 .3-1.5 .3-1.1 .3-1 .3-2.7 .3-1.8 .3-2.8 .3-2.8 .4-1 .3-1.4 .3-1.1 .3-2.3 .3-1.4 .3-2.4 .3-3.3 .3-2 .4-1 .8 1.1 .5 1.6 .4 3.3 .5 3 .5 2.4 .4 2.1 .5 1.3 .4 1.8 .5 2.3 .4 .7 .5 1.3 .5 2.2 .4 1.9 .5-.2 .4 2.5 .4 1.8 .4 1.5 .5 1.5 .4 1 .4 1.8 .5 3.2 .4 1.9 .4 1.6 .4 1.2 .5 2.6 .4 2.5 .4 .7 .4 1 .5 2.4 .4 .7 .4 1.9 .4 2.3 1.8 .2 1-2.6 1.1-.4 1-2.8 1 0 1-.7 .9-1.3 .8-3 .3-2.8 .3-2.7 .3-2 .2-.1 .3-1 .3-1.5 .3-2.9 .3-2.5 .3-1.6 .3-2.3 .3-1.2 .3-1.4 .3-1.9 .3-1.5 .3-1.9 .3-2.8 .3-2.5 .3-.5 .3-1.1 .3-2.8 .3-2 .3-.4 .3-3.3 .3-1.4 .4-1.9 .4-1.5 .4-2.9 .4-1.4 .4-1.1 .3-.8 .4-1.7 .4-2.7 .4-2.8 .4-.9 .4-1.3 .3-1.7 .4-1.1 .4-1.7 .4-1.3 .4-1.3 1.1-3.2 1.8 .1 2 1.2 1.6 .3 1.6-.2 1.6 1.6 1.7 .8 1.7 .6 1.7 2.2 1.8 1.6 2.2 .1 1.7-2.3 1.8-.7 1.7 .5 1.7-1.6 1.4-1 1.3-1.8 .7-2.3 .7-1.3 .8-2.9 .7-.6 .7-2.5 .8-1.9 .7-1.7 1.9-.4 1.7-.2 1.7 1.9 1.7-.1 1.7 .9 1.5 1.6 1.4 1.2 1.3 1.3 1.3 .6 1.3 1 1.3 2 1.3 2.1 1.1 1.2 1 1.4 .9 2.3 1 .3 .9 1.9 .9 2.4 1 1.5 1.6 1.4 1.7 1.2 1.9-.4 1.8-.4 1.8 .1 2 1.7 1.1 1.8 1.2 2.6 1.1 1.8 1.2 1.1 1.1 1.9 1.1-.2 1.2 1.5 1 2.4 1 1.2 1.1 .3 1 2.2 1 1.5 1 1.8 1 2.2 1 1.4 1.1 2.2 1-.5 1.2 .9 1.1 3 1.2 .9 1.1 2.1 1.1 1.3 1.2 1.6 1.1 1.9 1.3 1.6 1.3-.3 1.3 2.1 1.3 .6 1.3 2.3 1.3 2.2 1.3 .7 1.6 .2 1.7 .5 1.7 .8 1.7-.1 1.7-.1 1.7 2 1.7-.1 1.8 .5 1.8 1.6 1.8-.8 1.8 .8 1.8 .1 1.8 .8 1.8 .4 1.7-.2 1.7 1.2 1.7 1.9 1.7 1.7 1.4 0 1.1 2.2 1 2.2 1 1 1 2.4 1 .9 1.1 .9 1 1.9 1 1.3 1.1 .7 1.3 .7 1.3 1.5 1.3-.1 1.4 2.2 1.3 2.2 1.3 1.4 1.3 .3 1.4 .3 1.5 .8 1.7 .7 1.7 1.3 1.7 1.5 1.7 1.4 1.7 .1 1.8 .3 1.7 .1 1.7 .9 1.7 .8 1.8 1.2 1.8 1.1 1.7 .4 1.8-.3 1.8 0 1.7 1.9 1.8 .4 1.8-.1 1.8 .5 .9 .5" fill="none" stroke="#d09c9e" stroke-width="1.9" stroke-linejoin="round"/><path d="M1124.2 447.2l2.1 2.5 1.9 1.1 1.8-.4 1.9-.4 1.8 1.3 1.8 .6 1.7-1.6 1.8-1.9 1.8-.3 1.6-.4 1.4-2.3 1.5 .1 1.5-.5 1.4-2.9 1.5-1.8 1.5-1.1 1.4-.1 1.9-1.6 1.9 2.2 1 .9 1 1.1 1.5 3.2 2 1.6 1.6-.9 1.7 2 1.6 1.4 1.7-1.1 1.6-.5 1.7 .4 1.7 3 1.7-.2 1.8 1.1 1.7-.3 1.7 1.4 1.8-1.6 1.7 1.8 1.9-.5 1.8-.9 1.8 .5 1.9 1.2 1.9 .1 1.9 .6 1.9-.7 1.9-1.2 1.8 2.2 1.8 1 1.9-1.2 1.8-.5 1.8 .3 2 .9 1.2-1.7 .8-3.1 .9-1.6 .8-.8 .7-2.8 .4-.3 .3-3.1 .3-1.6 .3-.7 .3-1.5 .2-3.2 .3-1.5 .3-1.6 .3-2.1 .3-2.5 .2-2.9 .3 .1 .3-1.8 .3-1.8 .3-.9 .2-3 .3-2.5 .3-2.2 .3-.7 .3-2.4 .3-.4 .2-1.2 .3-1.8 .3-.6 .3-1.4 .3-1.9 .2-1.7 .3-2.2 .3-2.9 .3-2.9 .3-2.5 1.2 1.9 .5 1.3 .4 1.8 .5 3.4 .5 1.5 .5 1.4 .4 2.6 .5 1.4 .5 1.8 .5 1.7 .4 2 .5 1.5 .5 1.4 .4 1.6 .4 2.3 .5 2.7 .4 1 .4 2.7 .4 1.1 .4 2.6 .4 1.5 .5 3.2 .4 1.3 .4 1.6 .4 1.4 .4 .9 .5 2.4 .4 2.5 .4 2.5 .4 1.2 .4 .8 1.9-.5 1-1.5 1.1-1 1-.6 1.1-.7 1-1.2 1.2-3 .6-2.8 .3-2.8 .3-1.3 .3-1.2 .3-2.7 .3-.5 .3-3.6 .3-.5 .3-2.3 .3-1.8 .3-1 .3-2.6 .3-1.1 .3-2.3 .3-3.4 .3-.4 .3-1.5 .3-1.2 .3-3.1 .3-1.2 .2-1.6 .3-1 .4-3.2 .3-1.3 .4-2.3 .4-2.7 .4-1.5 .4-.3 .3-1.5 .4-2.6 .4-2.4 .4-2 .4-.9 .4-1.7 .4-2 .3-2.2 .4-3 .4-2.3 .4-.8 .7-.2 1.2-1.6 2.2 .1 1.7-.3 1.7 .3 1.7 .8 1.7 2 1.4 .8 1.1 .3 1 2.2 1 2.1 1 1.6 1 1.5 1 .7 1.1 1.7 1.4 .4 2.2-.4 1.4-.5 1.4-2 1.5-.4 1.4-.9 2-1 2.1 2 1.6 .9 1.5 2.2 1.5-.4 1.3 .8 1.4 1.6 1.3 1.9 1.3 2.1 1.3 1.6 1.3 .6 1.3 2.4 1.2-.2 1.3 .6 1.3 2.3 1.3 1.7 1.3 1.3 1.3 1.7 1.2 1.1 1.3 1.9 1.3-.4 1.2 1.5 1 2.9 .9 1.6 .8 1.1 .8 1.3 .8 .8 .9 2.9 .8 .3 .8 1.6 .8 2.8 .8 2.3 .9 1.6 .8 .6 .8 1.4 .8 .7 .9 3.1 .8 1 .9 2 1.2 1.1 1.3 .3 1.2 .7 1.3 .8 1.9 1.5 2.1 1.8 1.7 .4 1.7 1.5 1.8 .1 1.8-.3 1.8 1.2 1.9 .7 1.8 1 1.8-.8 1.8 .7 1.8-1.4 1.8-1.2 1.8 .1 1.8-1.1 1.8-.8 1.7 .1 1.7-1.1 1.7-.6 1.7-.3 1.7 .5 1.8-1.8 2.3 .1 2.4 .4 1.8-.6 1.8 .8 1.8-.5 1.8 .6 1.8 .2 1.8 0 1.8 1.1 1.8-.3 1.8 .4 1.8 2 1.8 .5 1.8 0 1.8-.7 1.8-.2 1.8 .4 1.8 .1 2.4-.7 1.8-.4 1.8 1.2 1.7-.3 1.8 1.7 1.8-.2 1.8-1 1.8 1.8 1.8-.7 1.7 .2 1.8 .4 1.8 1.2 1.7-.2 1.8 1.6 1.7 1.2 1.8 .2 1.8 .8 1.7-1.5 1.9 1.3 1.8 .5 1.9-.7 1.6 1.6" fill="none" stroke="#d09c9e" stroke-width="1.9" stroke-linejoin="round" stroke-dasharray="4 3"/><g><line x1="247.9" y1="869.0999999999999" x2="247.9" y2="1089.5" stroke="#161616" stroke-width="2.5"/><path d="M244.7,888.4h3.2 M244.7,906.5h3.2 M244.7,924.6h3.2 M244.7,942.8h3.2 M244.7,960.9h3.2 M244.7,979.0h3.2 M244.7,997.1h3.2 M244.7,1015.2h3.2 M244.7,1033.4h3.2 M244.7,1051.5h3.2 M244.7,1069.6h3.2" stroke="#161616" stroke-width="1.6"/><line x1="181.5" y1="979.0" x2="512.5" y2="979.0" stroke="#161616" stroke-width="2.7"/><path d="M182.2,979.0v3 M313.6,979.0v3 M379.2,979.0v3 M444.9,979.0v3 M510.5,979.0v3" stroke="#161616" stroke-width="1.6"/><text transform="translate(182.2,1000.8) scale(1.05,0.88)" text-anchor="middle" font-family="'Liberation Serif', 'Times New Roman', serif" font-weight="bold" font-size="16.5" fill="#222">-200</text><text transform="translate(313.6,1000.8) scale(1.05,0.88)" text-anchor="middle" font-family="'Liberation Serif', 'Times New Roman', serif" font-weight="bold" font-size="16.5" fill="#222">200</text><text transform="translate(379.2,1000.8) scale(1.05,0.88)" text-anchor="middle" font-family="'Liberation Serif', 'Times New Roman', serif" font-weight="bold" font-size="16.5" fill="#222">400</text><text transform="translate(444.9,1000.8) scale(1.05,0.88)" text-anchor="middle" font-family="'Liberation Serif', 'Times New Roman', serif" font-weight="bold" font-size="16.5" fill="#222">600</text><text transform="translate(510.5,1000.8) scale(1.05,0.88)" text-anchor="middle" font-family="'Liberation Serif', 'Times New Roman', serif" font-weight="bold" font-size="16.5" fill="#222">800</text><text transform="translate(242.4,893.5) scale(1.05,0.88)" text-anchor="end" font-family="'Liberation Serif', 'Times New Roman', serif" font-weight="bold" font-size="16" fill="#222">-5</text><text transform="translate(242.4,1074.7) scale(1.05,0.88)" text-anchor="end" font-family="'Liberation Serif', 'Times New Roman', serif" font-weight="bold" font-size="16" fill="#222">5</text><text transform="translate(346.9,1086.5) scale(1,0.86)" text-anchor="middle" font-family="'Liberation Serif', 'Times New Roman', serif" font-weight="bold" font-size="18.6" fill="#1e1e1e">Latency (ms)</text><text transform="translate(156.9,979.0) rotate(-90) scale(1,0.86)" x="0" y="0" text-anchor="middle" font-family="'Liberation Serif', 'Times New Roman', serif" font-weight="bold" font-size="18.6" fill="#1e1e1e">Amplitude (μV)</text><text x="230.6" y="881.9" text-anchor="end" font-family="'Liberation Serif', 'Times New Roman', serif" font-size="30" fill="#111">Cz</text></g><path d="M183.2 986.6l2.1 .2 1.8-.8 1.8-1.1 1.9-.9 1.8 0 1.7 0 1.8-2.5 1.8-.5 1.8-1.6 1.7-.3 1.8-.3 1.8 .5 1.9 .4 1.8 1.5 1.8 .1 1.8-.8 2.2 .2 1.8-1 1.3-1 1.4-1.6 1.3-.8 1.4-2.9 1.5-.4 1.5-2.2 1.6-.3 1.5-1.2 1.5-1.4 1.7-.1 1.8 .8 1.8-1.5 1.8-.8 1.8-1.1 2.3-.8 1.7 3.2 1.8 0 1.7 1.8 2.3 1.8 2.3-.7 1.8 .9 1.8 .2 1.7-1.3 1.8-1.4 1.8-1.7 1.9 .6 1.8 0 1.9-2.3 1.8 .7 1.8-1.4 1.7-.2 1.8-1.3 1.8 .3 2.1-.5 1.4-.3 1.3-2.6 1.3-1.9 1.3-.4 1-1.3 1-2.4 .6-2.6 .6-1.3 .6-1.8 .6-3 .6-2.4 .6-1.2 .6-1.6 .8-1.6 .7-1.7 .7-.8 .8-1.6 .7-1.8 .7-1.4 .8-2.3 .7-1.5 1.6 1.9 .6 1.2 .6 1.2 .5 2.6 .6 2.1 .5 1 .6 2.2 .6 1 .5 1.5 .6 1.6 .5 2.9 .5 2 .5 2.2 .5 1.5 .5 1.1 .5 2.3 .5 1.5 .5 1.8 .5 1 .5 2.6 .5 1.5 .4 1.9 .5 1 .5 2.6 .5 1.2 .5 1.7 .5 .7 .5 3.1 .5 1.3 1.7-.4 .7-1.3 .8-2 .7-1.4 .8-2 .7-2 .7-1.5 .8-2.4 .7-1.4 .4-1.4 .4-2.7 .5-.6 .4-1 .4-2.5 .4-2.2 .4-1.3 .4-2.6 .4-2 .4-.7 .4-2.8 .4-2.1 .4-.8 .4-2.3 .4-1.5 .5-1.4 .4-1.8 .5-1.2 .5-1.2 .5-2 .5-2.2 .5-1 .5-2.6 .5-2.3 .5-2.3 .5-2 .5-.9 .5-2.3 .5-.7 .5-1.4 .7-2.2 .6-2.3 .7-2.4 .7-1 2 .9 1.1 2.1 1 1.8 1.1 .9 1 1.4 1 .5 1.1 1.3 1.1 1.2 1 1.5 1.1 1.2 1.1 2.1 1.1 1.1 1.5 1.8 2 0 1.7-.3 1.7-.8 2.3 .4 1.8 .7 1.9-.7 1.8 .9 1.8 .8 1.7 .3 1.9 1.4 1.5 1.6 1.4 1.8 1.5 1 1.8 1.3 1.3 .5 1.2 1.8 1.1 1.2 1.1 1.9 1.2 1.2 1.1 1.6 1.2 1.3 1.1 .9 1 2.4 1.1 .5 1 1.8 1 1.1 1 2.1 1 .4 1 2 1 1.1 1.1 .9 1.1 2.5 1.1 1.3 1.1 2.1 1.2 .8 1.1 2.2 1.2 .6 1.1 1.8 1.1 1.2 1.2 2.5 1.1 1.8 1.2 1.1 1.1 .3 1.1 2.7 1.2 2.2 1.1 1.2 1.2 1.4 1.2 1 1.3 1.9 1.3 .7 1.3 .9 1.3 1 1.3 1.7 1.9 1.1 2.3 1.3 1.8 .1 1.8 .4 1.8-1.4 1.8 .6 2.3-.5 1.7 0 1.7 1.7 1.8-.2 1.7 1.3 1.7 .4 1.7-.1 1.7 .5 1.7 1.7 1.7 1.1 1.7-.5 1.7-.3 1.7 1.7 1.8-.1 1.7 1 1.7-.1 1.8 1.7 1.8 .2 1.8 1.1 1.8-.2 1.7 .7 1.8-.6 1.8 .1 2.4 .6 1.8-.2 1.8-.6 1.8-.2 1.8 .3 2.4-1.1 1.7-1 1.7-.6 1.7-.6 1.7-.8 1.7-1 1.8-.6 2.3 .7 1.8 .2 1.8 .9 1.8 0 1.8 .4 1.8-.3 1.9 .5 1.8 1 1.9 .5 1.4-.4" fill="none" stroke="#4a3964" stroke-width="1.9" stroke-linejoin="round"/><path d="M183.1 983.6l2.1-1.1 1.8-.7 1.8-.4 1.8 .8 1.8 .4 1.8 .9 1.7-1.8 1.8-.4 1.8 1.3 1.8 .1 1.8-.5 1.8 1 1.9-1.7 1.8 1.9 1.8 .8 1.9-.9 2.2 1.7 1.8-.6 1.3-2.1 1.3-1.3 1.3-2.1 1.3-1.2 1.4-1.6 1.5 .3 1.4-1.4 1.4-3 1.5-.2 2.1-.6 1.8-.1 2-1 1.9-.8 1.9-.4 1.8-.6 1.8 1.9 1.9-.4 1.8 .1 1.8 1.1 1.8-.7 1.8-.8 1.8-1.1 1.8-1.6 1.8-.5 1.8 .2 1.8-.8 1.8 .5 1.7-1.5 1.8-1.4 1.8-1.1 1.9-1.5 1.8 1.6 1.8-.1 1.8 .5 2.1-1.6 1.3-.7 1.3-1.7 1.3-2.4 1.2-.3 1.2-1.6 .6-1.6 .6-1.5 .6-2.9 .5-2 .6-1.4 .6-.6 .6-1.9 .6-1.5 .7-1.2 .6-1.4 .7-1.5 .7-3.5 .7-2 .6-.8 .7-2.4 .7-2.1 .9-2 1.1 1.8 .5 2.5 .5 1.8 .5 2.5 .5 1.9 .5 1 .6 2.1 .5 1.1 .5 1.9 .5 1.8 .5 .8 .5 1 .5 2.2 .5 1.4 .4 2.2 .5 3 .5 .5 .4 2.9 .5 1.9 .5 2.4 .4 1.5 .5 2 .5 .7 .4 1.4 .5 1 .5 2.8 .4 2.3 .5 1.3 .4 2.6 .5 2.6 1.9-2.1 .8-1.1 .8-1.8 .8-1.3 .8-2.1 .7-1.8 .8-1 .8-1.5 .5-1 .4-3 .4-2.1 .3-2.2 .4-2.1 .4-2 .4-1.5 .3-.7 .4-.9 .4-2.4 .4-2.1 .3-1.5 .4-2 .4-1.7 .3-2.5 .4-2.3 .4-1.6 .4-1.5 .4-2.2 .5-1.6 .5-2.6 .5-1.4 .5-1.3 .5-1.7 .5-1.9 .4-1.9 .5-1.8 .5-1.9 .5-1.2 .5-1.3 .5-.9 .7-2.4 1-2 1.2-.7 1.8 .4 1.3 1.5 .9 1.7 .9 1.5 1 2.1 .9 1.5 .9 .4 .9 2 1 1.3 1.1 2.5 1 1.7 1.1 1.9 1.1 .6 1.1 1.8 1.8 .1 2.3 1.2 1.8 .6 1.9-.4 2.3-.1 2 1.2 1.5 1.1 1.4 .6 1.4 1.7 1.5 1.2 1.4 1.2 1.3 .2 1.3 2.5 1.3 1.2 1.3 1.6 1.3 .5 1.3 1.6 1.2 1.5 1.1 1.7 .9 1.7 .9 1.6 1 .4 .9 1.1 .9 1.7 .9 1.5 .9 1.7 .8 2.2 .9 1.6 .8 1.9 .8 .6 .8 .9 .8 2.7 .9 1.5 .7 1.6 .7 1.7 .7 .9 .7 2.2 .7 1.2 .7 2.6 .6 2.1 .7 2 .7 2 .7 1.6 .7 1.1 .7 .9 .6 1.1 .8 2.3 .8 .4 .8 2.4 .8 1.1 .8 .8 .9 2.1 .8 1.7 .8 2.3 .9 1.1 .8 1.4 .8 1.3 1 2 1.2 2 1.3 1.6 1.3 .6 1.3 1.6 1.3 2.2 1.3 .9 2 .8 2.3 .4 1.8-1.5 1.9-.9 1.8-.2 1.7 .4 1.7-1.2 1.8-1.4 1.7 .2 1.7-1.4 1.7 .3 1.7 0 1.8 .2 1.8-.8 1.8-.9 1.8 .3 1.8-1 1.8 .1 1.7-.1 1.7-.4 1.8-1.5 1.7-.7 1.7-.1 1.7-2 1.7 .3 2.4-.8 1.8 .5 1.8-.3 1.8-.1 1.8 .8 2.4 .1 2.2-1.9 1.8-.6 1.7-.8 1.7-1.1 1.7-.6 1.7 .2 1.7 .4 1.8-.9 1.8 .2 1.8-.4 1.8-1.6 1.8-.7 1.8-.2 1.7-.5 1.8-.8 1.7 .3 1.7 .1 1.7-1.3 1.7-.4 1.7-.3 2.1-1.4 .6-.1" fill="none" stroke="#4a3964" stroke-width="1.9" stroke-linejoin="round" stroke-dasharray="4 3"/><path d="M183.1 987.1l2.1-.2 1.8-1.3 1.8-1.2 1.8-1 1.8-1.4 1.8-1.1 1.7 .4 1.8 .5 1.8-.3 1.8-1.9 1.8 .2 1.8 .9 1.8 .9 1.9 .8 1.8-1.3 1.9-.6 2.1-.3 1.7-2.5 1.2-1.7 1.2-.5 1.2-2.2 1.2-.1 1.9-.2 1.4-1.8 1.5-.2 1.4-2.1 1.5-.1 2-1.8 1.8-.9 1.7 .6 1.8-.4 1.8-.4 2.3-.7 1.8 1.5 1.8 1 1.7-.1 1.8 .6 2.4 .3 1.8-1.2 1.8 .8 1.8 1.3 1.8-.4 1.9-2.1 1.8 0 1.9-.9 1.8 .1 1.8-1.2 1.8-.1 1.8 .9 1.8-1.2 1.8-.7 1.7-.6 1.9-1.2 1.3-1.3 1.2-2.5 1.3-1.7 1.2-1.7 1-.9 .8-2.5 .6-1.5 .7-.8 .7-1.3 .7-2.6 .6-1.8 .7-1.5 .5-2.4 .6-.8 .6-.6 .6-3.1 .5-2.3 .6-.8 .6-1.8 .6-1.7 .5-1.7 .8-1.6 1.1 1.1 .6 1.5 .6 1.9 .5 1.6 .6 1.5 .5 2.4 .6 2.5 .5 .5 .6 1.5 .6 2.1 .5 2.7 .6 1.4 .4 .4 .5 1.4 .4 2.7 .4 2.7 .5 2.2 .4 2.3 .4 .9 .4 2.4 .5 2.1 .4 .9 .4 2.2 .5 1.1 .4 1.1 .4 1.7 .4 2.3 .5 2.2 .4 1.3 .4 2.4 .5 2.3 .6 1.3 1.2-1.5 .7-2.4 .7-1.8 .7-1.8 .6-1.7 .7-1.9 .7-1.5 .7-2.5 .7-1.9 .6-2.1 .4-1.6 .4-1.5 .4-2.1 .4-2 .3-1.3 .4-1.1 .4-2.2 .4-2.5 .3-.5 .4-3 .4-1 .4-2.7 .3-1 .4-3 .4-1.9 .4-2 .3-.4 .4-1.1 .5-1.5 .4-1.9 .5-2.2 .5-2.5 .5-2.1 .5-1.7 .4-.9 .5-1.7 .5-1.4 .5-1.8 .5-1.5 .4-1.7 .5-1.9 .6-2.8 .7-.5 .8-1.2 .8-1.6 1.4-.8 1.2 1.7 .9 2.3 .9 .5 .9 1.8 1 .1 .9 1.9 .9 1.1 .8 1.8 .7 1.3 .5 2 .5 2.1 .5 1.7 .6 1.3 .5 2.7 .5 1.2 .5 2.7 .6 1.7 .5 1.6 .5 .6 .5 1.7 1.1 2.7 1.6 1.3 1.3 1.8 1.3 1.4 1.7 .5 2 1 1.6-1.5 1.5-2.1 2.2 .3 2.2 .2 1.7 .6 2.3 .7 1.9 .8 1.3 2.4 1.3-.3 1.3 1.2 1.3 1.3 1.3 2.2 1.4 1.1 1.4 .4 1.4 1.5 1.4 2.2 1.5 1.7 1.4 1.1 1.8 .8 1.3 1.9 1.1 .4 1.2 1.5 1.1 2 1.1 .8 1.2 2.4 1.1 1.2 1.2 2.1 1.3 1.1 1.3 1.3 1.3 1.4 1.3 1.6 1.3 1.4 1.3 .5 1.1 1.3 1 2.2 .8 1.4 .9 .6 .8 1.5 .8 1.1 .8 2.1 .9 2.1 .8 2 .8 .6 .9 1.6 .9 1.9 1.2 1.4 1.3 1.9 1.3 1 1.3 1.3 1.3 1.7 1.3 1.4 2 .3 2.3 .8 1.8 .1 1.8-.6 1.8-1.5 1.8 0 2.2 .8 2.1 .4 1.6 .6 1.5 1.5 1.6 .2 1.5 1.9 1.6 .9 2.3 .6 1.8 .6 1.8 .3 1.8 0 1.8 .5 1.8-.3 1.8 0 1.8 .3 1.8-.6 1.8 .4 1.8-1.6 1.8-.4 1.8-.3 1.8-1.1 1.8 .9 1.8 .2 1.8-.8 1.8-.1 1.8-.3 1.7-.4 1.7-.6 1.7-1.7 1.8-.1 1.7-.6 1.7-.8 1.7-.6 1.8-.2 1.7-.9 1.8 0 1.8-1.2 1.7-.2 1.8-1.6 1.8-.3 1.7-.4 1.8 .8 1.6-1.8 0 .5" fill="none" stroke="#8c5872" stroke-width="1.9" stroke-linejoin="round"/><path d="M183.2 987.8l2.1-2 1.8 .6 1.9-2.1 1.8 .6 1.8-1.7 1.8-1.7 1.8 .5 1.8-.5 1.8-.3 1.8 0 1.8-.2 1.8 .8 1.8 .5 1.8 1 1.9-.7 1.8 .6 2.2-.2 1.7-2.3 1.3-3 1.3-1.9 1.3-.2 1.4-1.8 1.4 .3 1.6-2.6 1.5-1.5 1.5-1 1.5-1.3 1.7 .8 1.7-1 1.7-.6 1.7 .9 1.8-1 2.3 1.2 1.8 0 1.9 .1 1.8 .1 1.8-.6 2.4 .5 1.7 0 1.8 .3 1.7 .7 1.8-1.7 1.8-.2 1.9 .5 1.8-1.3 1.8-1.7 1.9-.7 1.8-1.3 1.8 0 1.9-.3 1.8-.4 2.3 0 1.9-.6 1.3-.6 1.3-2.5 1.3-.1 1.1-2 .9-1.2 .5-2.3 .6-2.9 .5-2.1 .5-1.4 .5-1.8 .5-.8 .6-1.3 .6-2.9 .6-2.3 .7-.1 .6-1.1 .6-2.7 .7-1.6 .6-1.9 .7-1.5 .6-2.4 1.7 .7 .5 2.4 .6 1 .5 2.3 .5 .7 .5 2 .6 2.3 .5 1.5 .5 2.2 .5 1.6 .6 2.5 .5 1.7 .5 1 .4 2.2 .5 1.2 .4 1.6 .5 1.6 .4 1.8 .5 1.2 .4 1.9 .5 1.4 .5 2.2 .4 2.4 .5 2.1 .4 1.8 .5 1.3 .4 2 .5 .9 .4 2.9 .5 .7 .4 1 1.8-.4 .8-.9 .7-2.6 .7-1 .7-1.8 .8-2.3 .7-1.1 .7-2.6 .6-.9 .5-2.1 .4-1.2 .4-2.7 .3-2.2 .4-.6 .4-2 .4-1.5 .4-1.6 .3-2.8 .4-2.3 .4-2.2 .4-2.1 .4-1.9 .3-1.1 .4-1.6 .4-1.9 .4-1.9 .4-1.9 .5-1.7 .5-1.2 .5-1.7 .5-2.1 .5-2.4 .5-.9 .5-1.3 .4-1.4 .5-2.2 .5-2.7 .5-1.4 .5-1.7 .5-1.6 .7-1.5 1-1.3 .9-1.1 1.3-.8 1.6 1.5 .9 2.1 .9 1 .9 1.1 1 .5 .9 2.1 .9 1.5 .9 1.7 1 2 .9 1.2 .9 2.4 1 1.6 .9 1.6 .9 2 1.5 2.4 2.3 0 1.8-.7 1.9 .6 1.8 .2 1.9 1.2 1.8-.6 1.8-.3 1.7-.4 1.9 1 1.1 1.5 1.2 1 1.1 2.5 1.1 2.4 1.2 .4 1.1 2.6 1.1 1.3 .9 1.3 .8 2.4 .8 1.5 .9 1.6 .8 1 .8 1.4 .9 2 .8 1.1 .8 2.4 .8 2.2 .8 .9 .8 3.1 .6 .6 .7 1 .7 2.1 .7 1.7 .7 2.5 .7 2.4 .6 1.2 .7 1.3 .7 1 .7 2.1 .7 1.3 .7 2.4 .8 .9 .8 2.6 .8 1.4 .8 2.2 .9 1.1 .8 1.4 .8 1 .8 2.1 .9 1.1 .8 2.1 .9 2.4 1.1 1.2 1.3 .6 1.3 2 1.3 .1 1.3 1.6 1.3 2 1.4 .7 1.5 1.4 1.7 .9 1.7 1.1 1.7 1.8 1.7 1 1.8-.1 2.4-.2 1.8 .3 1.8-.7 1.8 .7 1.8 .5 1.8-.6 1.8 .5 1.8 .4 1.8-.2 1.8-.4 1.8-.7 2.3 .6 1.7-1 1.7-1.2 1.8-1 1.7-.2 1.7-.1 1.7-.3 1.8-1 1.8-.4 1.8-.5 1.8-.4 1.8 .3 1.8-.6 1.8 .3 1.8-1 1.8-.2 1.8-1.5 1.8-.3 1.8-.2 1.8 .1 1.7 .4 1.8-1 1.8 .1 1.8 0 1.8-.5 1.8-.3 1.7 .2 1.8-1.3 1.8 .4 1.8-1 1.8-1.5 1.8 .6 1.8-.7 1.8-1.3 1.7-.2 1.8-1.4 1.7 .3 1.7-1.6 1.5-1.4 .6 .2" fill="none" stroke="#8c5872" stroke-width="1.9" stroke-linejoin="round" stroke-dasharray="4 3"/><path d="M183.1 985.6l2-1.7 1.8 .9 1.7-2.9 1.7-.2 1.8-.9 1.8 .5 1.8-1.6 1.8-.5 1.8-.3 1.8-.3 1.9-.5 1.8 .8 1.9-.4 1.8 .4 1.9-.7 1.8 .2 2.3 .3 1.5-1.7 1.4-.3 1.4 .7 1.5-1.7 1.4-2.3 1.3-.1 1.4-1.9 1.3-1.1 1.4-1.6 1.3-1.7 2-.8 1.8 .6 1.9-.7 1.8 .9 1.9 .3 1.8 1.1 1.8-.7 1.8-.7 1.8 .8 1.7 1.1 2.4-.7 1.8-1.2 1.8 .6 1.8 .7 1.8-.8 1.9-2.2 1.8-1.8 1.9-.3 1.8-1 1.9 .3 1.8-.1 1.8 0 1.9-.5 1.8-.4 1.8-.8 2-.6 1.3-2 1.3-1.1 1.2-.4 1.2-2.1 1.1-1.8 .6-1.1 .6-2.7 .6-2.1 .6-2.5 .6-.4 .6-1.5 .6-1.6 .7-2.8 .6-.9 .6-2.8 .6-.4 .6-2.1 .6-2.7 .6-2.1 .6-1.4 .6-1.1 .7-.7 1.5 2.1 .5 2.5 .5 .9 .5 1 .6 1.8 .5 2.8 .5 .6 .5 1.3 .6 2.6 .5 1.5 .5 2.7 .5 1.8 .5 1.1 .5 2.3 .4 .7 .4 2.7 .5 2.3 .4 1.7 .5 1.7 .4 .8 .5 2.3 .4 1.2 .4 1.5 .5 2.4 .4 2.3 .5 1.1 .4 2.6 .4 1.3 .5 1.9 .4 1.9 .5 1.9 .4 1.6 1.6-1.3 .7-2.5 .7-2.4 .7-2 .7-2.3 .7-.9 .7-1.7 .7-1.4 .7-1.7 .5-2.4 .3-1 .4-1.8 .4-2.6 .3-2 .4-1.4 .4-2.1 .3-1.1 .4-1.9 .4-2.1 .4-1 .3-1.9 .4-1.2 .4-1.7 .3-2.5 .4-2.3 .4-.9 .3-2.5 .4-2.2 .5-.7 .5-1.4 .5-1.1 .4-1.6 .5-3 .5-1 .5-1.1 .5-2.8 .5-.8 .4-1.6 .5-2.6 .5-1.7 .5-1.3 .5-1.3 .5-2.7 .5-2.4 .6-1.1 .5-2.4 .5-1.8 2-.5 .9 2.7 .9 1.5 .9 .8 1 1.6 .9 2 .9 1.7 .9 1.2 .7 2.5 .5 2.6 .5 1.7 .6 1.8 .5 .7 .5 1.6 .5 1.7 .6 1 .5 1.8 .5 1.9 .5 2.9 .6 .9 .6 1.3 .7 1.6 .9 2.5 1 1.1 .9 1.9 .9 1.8 1 1.8 1.2 .7 2-.4 1.3-1.5 1.3-.8 1.3-2 2.1-.9 1.7 2 1.3 1.6 1.3 .6 1.3 1.7 1.3 1.9 1.3 .2 1.3 .6 1.3 1.6 1.3 1.3 1.3 .8 1.3 2.2 1.4 1.2 1.4 .6 1.5 1.6 1.4 .5 1.4 1.1 1.5 1.9 1.4 .4 1.5 .7 1.4 1.5 1.4 .5 1.5 2.3 1.4 1.5 1.4 .9 1.4 1.8 1.3 .7 1.3 .6 1.3 2.2 1.3 .3 1.3 2.2 1.3 .7 1.3 .4 1.3 1.8 1.3 1.4 1.3 .8 1.3 1.7 1.3 2 1.4 1.6 1.6 1.4 1.7-.3 1.7 1.3 1.7 .7 1.7 .8 1.8 .6 2.3-.2 2.4 .5 1.8 .3 1.8-.7 1.8 .7 1.8-.7 1.8 .8 1.8-.2 1.9 1.7 1.8 1.2 1.8-.5 2.3-.9 1.7 .3 1.7-1 1.8-1.6 1.7 .2 1.7 .1 1.7-1.5 1.7-.2 1.9-.3 1.8-.8 1.9-.6 1.9 .2 1.8-.2 1.9 .6 1.8-.1 1.8 .6 1.7 0 1.7 .3 1.7 .7 1.8 0 1.7 .9 1.7 .7 1.7 1.1 1.7 .5 1.7 1.8 1.7 .6 1.7 1.3 1.7 .1 1.7 1.1 1.8-.3 1.7 .5 1.7 .4 1.7 .6 1.7 1.7 1.7 1 1.6 1.9 1.1 1.3" fill="none" stroke="#d09c9e" stroke-width="1.9" stroke-linejoin="round"/><path d="M183.1 987.3l2-.6 1.7-2.4 1.7 .5 1.8-2.3 1.7 0 1.9-.8 1.9-.3 1.8-1 1.9 2.1 1.9-.8 1.9-.1 1.8 .7 1.9-.3 1.9-.1 1.9-1.1 1.8-1 2.2-.9 1.3-1 1.4-2 1.3 .2 1.3-.8 1.5-1.4 1.4-1.6 1.5-1 1.5-1.8 1.5-1.6 1.6-1.6 1.6 .2 1.7 1.2 1.8 .2 1.8-.5 1.8-.9 1.8 .7 1.9-1 1.8 .1 1.8 1.9 1.9-.5 1.8-.7 1.8 .2 1.8 .9 1.8 .1 1.8-1.3 1.8-.4 1.8-.5 1.8-1.6 1.8-.4 1.8-.2 1.8 .8 1.7 .4 1.8-.9 1.7-.4 1.7-1.1 2.1-2.6 1.7-1.9 1.3-1.7 1.3-.6 1.2-.1 1.3-2.2 .7-2.5 .6-2.5 .6-1.1 .6-.4 .6-1.6 .7-3.2 .6-.9 .6-2.3 .6-2.1 .6-2.1 .6-.6 .6-1.3 .6-2.8 .6-1.7 .6-1.4 .7-2.4 .6-1.3 1.7 .9 .5 2.5 .5 2.7 .5 2 .5 1.3 .5 2.1 .4 .6 .5 .8 .5 2.1 .5 1.8 .5 1.6 .5 2 .5 2.7 .4 1.5 .5 2.7 .5 2.2 .5 .8 .5 1.9 .5 1.4 .4 1.6 .5 1 .5 1.7 .5 2.3 .5 1.9 .5 2 .4 2.1 .5 .7 .5 3.1 .5 1.2 .5 1 .5 2.9 1.8 .1 .7-2.3 .7-1.1 .7-2.9 .7-1 .7-1.9 .7-1.1 .7-1.7 .5-2.4 .5-2.4 .3-2.3 .4-1.6 .4-.8 .4-2 .4-1.2 .4-1.6 .4-2 .4-1.8 .3-2.1 .4-2.4 .4-2.7 .4-.4 .4-1.4 .4-.9 .4-2.7 .4-1.6 .4-2.3 .4-1.8 .5-1.9 .4-.8 .5-2.7 .4-1.2 .5-1.4 .4-2.7 .5-2.9 .5-.3 .4-1.5 .5-2.5 .4-2 .5-.2 .8-2.1 1.4-1.7 1.5-1 1.8-.5 1.1 1.3 1 .8 1.1 2.9 1 1.5 1 2.1 1.1 1 1.1 1.1 1 .8 1.1 .8 1.1 1.9 1.1 .8 1.5 2 1.4 2.3 1.7 2 1.7 0 1.7 .5 1.7 .9 1.6 .9 1.5 .7 1.5 .8 1.4 .4 1.4 1.6 1.5 .9 1.6 1.6 1 1.8 .9 .8 1 2.3 .9 2.5 .9 1.3 .9 1.8 .9 1.1 .9 1.8 .9 .8 .9 .7 .7 2.9 .7 .6 .8 1.9 .7 2.2 .7 1.2 .8 2 .7 2.3 .7 1.9 .8 2 .7 1 .8 1.5 .7 2.1 .7 .8 .8 2 .7 1.7 .7 2.5 .8 .6 .7 1.3 .8 2.3 .7 1.3 .7 1.4 .8 2.4 .7 2.2 .8 2.3 .7 2.5 .7 .3 .8 .9 .7 2.9 .8 .7 .7 2.9 .7 1.6 .8 2.3 .7 1.8 .8 1.7 .9 1.4 .9 .6 1 .3 .9 2.8 .9 1.2 .9 1.2 .9 2.7 .9 1.8 .9 .9 1 .9 1.2 2 1.1 .8 1.1 2.7 1.2 2.2 1.1 1.4 1.2 .6 1.6 1.5 2.1-.1 1.8-.2 1.8 0 1.8-.4 1.8-1 1.7 .3 1.8-.8 1.7-.9 1.7-1 1.7-.8 1.7-1.3 1.7-.9 1.8 .4 1.8-.5 1.8-.4 1.8-.4 1.8-1.1 1.8-.7 1.7-.9 1.8 .3 1.7 .2 1.7-1.3 1.7-1.5 1.7-.4 1.7-1.4 1.8-.4 1.7-.4 1.7-.8 1.7 .3 1.7-1.5 1.7-.8 1.7-.1 1.8 .4 1.7-1.1 1.8-.5 1.8-.1 1.8 0 1.8 1.1 1.8-1.2 1.8 .8 1.8-.5 1.8 .5 1.9-.6 1.9 0 1.8-1.1 1.9 .5 1.8-.9 2.1-.9 1.8-2.1 1.3-.1 1.2-1.6 1.4-1.5 .4-1.7" fill="none" stroke="#d09c9e" stroke-width="1.9" stroke-linejoin="round" stroke-dasharray="4 3"/><g><line x1="720.6" y1="869.3" x2="720.6" y2="1090.8" stroke="#161616" stroke-width="2.5"/><path d="M717.4,887.5h3.2 M717.4,905.7h3.2 M717.4,923.9h3.2 M717.4,942.1h3.2 M717.4,960.4h3.2 M717.4,978.6h3.2 M717.4,996.8h3.2 M717.4,1015.1h3.2 M717.4,1033.3h3.2 M717.4,1051.5h3.2 M717.4,1069.8h3.2 M717.4,1088.0h3.2" stroke="#161616" stroke-width="1.6"/><line x1="653.4" y1="978.6" x2="985.7" y2="978.6" stroke="#161616" stroke-width="2.7"/><path d="M654.9,978.6v3 M786.3,978.6v3 M851.9,978.6v3 M917.6,978.6v3 M983.2,978.6v3" stroke="#161616" stroke-width="1.6"/><text transform="translate(654.9,1000.4) scale(1.05,0.88)" text-anchor="middle" font-family="'Liberation Serif', 'Times New Roman', serif" font-weight="bold" font-size="16.5" fill="#222">-200</text><text transform="translate(786.3,1000.4) scale(1.05,0.88)" text-anchor="middle" font-family="'Liberation Serif', 'Times New Roman', serif" font-weight="bold" font-size="16.5" fill="#222">200</text><text transform="translate(851.9,1000.4) scale(1.05,0.88)" text-anchor="middle" font-family="'Liberation Serif', 'Times New Roman', serif" font-weight="bold" font-size="16.5" fill="#222">400</text><text transform="translate(917.6,1000.4) scale(1.05,0.88)" text-anchor="middle" font-family="'Liberation Serif', 'Times New Roman', serif" font-weight="bold" font-size="16.5" fill="#222">600</text><text transform="translate(983.2,1000.4) scale(1.05,0.88)" text-anchor="middle" font-family="'Liberation Serif', 'Times New Roman', serif" font-weight="bold" font-size="16.5" fill="#222">800</text><text transform="translate(715.1,893.7) scale(1.05,0.88)" text-anchor="end" font-family="'Liberation Serif', 'Times New Roman', serif" font-weight="bold" font-size="16" fill="#222">-5</text><text transform="translate(715.1,1076.0) scale(1.05,0.88)" text-anchor="end" font-family="'Liberation Serif', 'Times New Roman', serif" font-weight="bold" font-size="16" fill="#222">5</text><text transform="translate(819.6,1087.8) scale(1,0.86)" text-anchor="middle" font-family="'Liberation Serif', 'Times New Roman', serif" font-weight="bold" font-size="18.6" fill="#1e1e1e">Latency (ms)</text><text transform="translate(629.6,978.6) rotate(-90) scale(1,0.86)" x="0" y="0" text-anchor="middle" font-family="'Liberation Serif', 'Times New Roman', serif" font-weight="bold" font-size="18.6" fill="#1e1e1e">Amplitude (μV)</text><text x="694.8" y="881.6" text-anchor="end" font-family="'Liberation Serif', 'Times New Roman', serif" font-size="30" fill="#111">Cz</text></g><path d="M655.7 981.8l1.9 .9 1.5 0 1.6 1.6 2.2 0 2.2-.5 1.8 .9 1.8-1.5 1.7-1.4 1.8 0 1.7-2.1 1.7-.3 1.7 0 1.7-1.3 1.7-1.4 1.7-.1 1.7-.8 1.7-.8 1.7-.3 1.7-.5 1.7-.8 1.8-1 1.9-.8 1.8 1 1.8-.3 1.9-.8 1.8 .5 1.9-.7 1.9-1.4 1.8 .9 1.9-1.4 1.9 1.1 1.8-.9 1.9 .4 1.9 .5 1.8-.1 1.8 .1 1.6 .9 1.6-1.5 1.7 0 1.6-2 1.6-1.1 1.7-1 1.7-.6 1.7 .5 1.8-.4 1.7-.3 1.6-2.4 1.5-1 1.4-1.2 1.5-1 1.4-2 1.5-1.6 1.5-1.9 .9-2.1 .6-2.2 .6-.4 .6-1 .5-2.3 .6-1.2 .6-1 .6-1.4 .7-1.3 .6-2.2 .6-2.2 .6-1.1 .9-1.4 1.1 1 .6 1.8 .6 1.9 .5 2.9 .6 1.1 .6 1.9 .5 2.4 .6 .9 .5 1.7 .6 1.5 .6 .8 .5 2.8 .6 2.8 .6 .4 .5 1.3 .6 3.3 .5 1.7 .6 1.7 .6 .9 .5 2.6 .6 1.6 .7 2.7 1 1.3 1.4 .6 1.5 .6 1.6 .9 1.2-2.3 .6-1.5 .5-1.8 .6-2.3 .5-1.7 .6-1.3 .6-1 .5-1.8 .6-2.3 .5-1.3 .6-1.8 .4-1.8 .5-1.7 .4-2.2 .5-1.1 .4-2 .5-2.3 .4-2.1 .5-1.8 .4-1.4 .5-.6 .4-2.8 .5-1.7 .4-1.3 .4-2.1 .5-1.7 .5-2 .6-2.6 .7-1 .7-1.6 .7-2.3 .7-.7 .7-2.7 .7-1.6 1.3-1 2.1 .6 1.8 .2 1.9-.1 2 1.5 1.4 1.9 .9 .9 .9 2.5 1 1.9 .9 .8 1.4 2.4 2 1.9 1.8-.3 1.8 1 1.9 .2 2.3-.1 1.6-.5 1.6-1 1.6-2.1 1.8 .2 1.5 1.3 1.1 2 1.1 .9 1.1 1.1 1 2 1 1.7 .9 1.9 .8 .9 .8 1.8 .9 1.6 .8 1.9 .8 .8 .9 3.3 .8 1.2 .8 1 .8 1.3 1 2.3 .9 .9 1.1 1.9 1 1.3 1 1.7 1 1.8 1 1.3 1 .4 1 2.1 1.1 1.9 1.1 .7 1.2 2 1.1 2.6 1.2 1.3 1.1 1 1.1 1.6 1.2 1.2 1 2.5 .8 2.3 .8 .5 .9 .9 .8 2.5 .8 2 .8 1.6 .9 1.3 .8 1.3 .9 1 .9 1.1 .9 2.3 .9 .5 .9 1.6 .9 1.9 1 3 .9 1.1 .9 2.6 .9 .7 1 1.1 1 2.3 1 2.2 1 1.3 1.1 .7 1 .5 1 1.6 1 1.2 1.7 1.7 2.3-.2 1.8 .4 1.8-.4 1.8-.1 2.4-.1 2.3 .5 1.7-1 1.7-.6 1.8 .2 1.7-1.3 1.7-.1 1.7-.9 1.8 0 1.8-1.5 1.8-.2 1.8-.7 1.8-.3 1.8-1.1 1.8 0 1.8-.2 1.8-.4 1.8-.4 1.7-.5 1.8 .1 1.8 .2 2.2-1.2 1.6-1.1 1.5 0 1.6-1.4 1.6-1.1 1.5 .4 2.1-1.9 2.1-.6 1.5 1.9 1.6 1.8 1.5 1.2 1.6 .6 1.5 .4 1.6 1.5 2.2 1.7 1.7 .6 1.7-.6 1.7 .5 1.7 .4 1.8 .9 1.7-.4 1.7 1.4 1.7 .6 1.7 .2 1.7 1.9 1.7-.5 1.7 .4 1.7 1 1.7-.1 1.7 .8 .2 1.4" fill="none" stroke="#4a3964" stroke-width="1.9" stroke-linejoin="round"/><path d="M655.8 982.0l1.9 1.8 1.6 1 1.7 .6 2.3 .2 1.8 .8 1.8-.4 1.9 .1 1.9-.8 1.8-1 1.7-1.6 1.7-.1 1.7-2.5 1.7-1.4 1.7-.4 1.5 .5 1.5-1.1 1.5-1.4 1.5-2.9 1.5 .4 2.1-2 2.4-.6 1.8 .5 1.9 .5 1.9 1 1.8 .2 1.9 0 1.8 .9 1.8 .5 1.8 .6 1.8-.9 1.8-.1 1.8 1 2.3-.5 1.8 .3 1.8-1.1 1.8-1.2 1.7-.5 1.8-1 1.8-1 1.7-1 1.7 .5 1.7-2.6 1.6 .7 1.6 .1 1.6-1.7 2.1-1.8 1.9-2 1.3-2.4 1.3-.6 1.3-1.1 1.4 1.1 1.2-.9 1.1-1 .8-2.9 .8-1.1 .7-.8 .7-3 .8-1.9 .7-2.6 .6-.5 .6-1.9 .6-2.9 .6-2.5 .5-1.1 .6-1.3 1.8 1 .6 2 .5 1.5 .6 2 .5 1.2 .6 2.3 .5 1.2 .6 1.3 .5 3.1 .6 .6 .6 1.7 .5 2.8 .6 .8 .5 .9 .6 3 .5 2.3 .6 .8 .5 1.5 .6 1.1 .5 2.2 .6 2.5 .8 1.3 1.3 1.6 1.6 1.8 1.6 1.8 1.7-.9 .5-1.2 .6-2.2 .6-2.3 .6-2.4 .6-1.7 .5-.8 .6-2.1 .6-2.5 .6-1.4 .5-2.3 .6-1.3 .4-1 .5-1.5 .4-3.2 .4-2.3 .4-2.2 .4-.9 .4-1.4 .4-1.9 .5-1.6 .4-2.1 .4-2.3 .4-.4 .4-2.1 .4-1.8 .5-2.2 .5-2.8 .9-.7 .9-.8 .9-2 .9-1.3 .9-2.2 1.4-1.4 2 1.4 1.6-.2 1.6 .1 1.5 2.2 1.4 1.3 1.2 1.5 1.2 1.8 1.1 1.9 1.2 .3 1.1 .9 1.1 2.1 1.7 2.2 2.1 .4 1.8-1.6 1.8-.4 1.8-1 1.9 .6 1.8-.4 1.9 .2 1.8 .7 1.6 1.4 .7 3 .5 1.2 .5 2.2 .5 1.9 .6 2 .5 .3 .5 .9 .5 1.6 .5 1.3 .6 1.7 .6 1.7 .6 2 .5 2.8 .6 1.9 .6 1.9 .5 .8 .6 2.9 .6 1 .5 1.9 1 2.3 1 1.8 1 .6 1 1.9 1 1 1 2.3 1 .9 1 2.7 1 1.6 .9 .6 .8 2.6 .8 1 .7 1.2 .7 2.1 .8 1.3 .7 2.5 .8 1.6 .7 1.1 .7 1.3 .8 2.5 .7 .7 .8 1.7 .8 1.3 .8 2.2 .8 .6 .8 1.4 .9 3 .8 1.9 .8 1.6 .9 1.1 1.1 1.7 1.3 .8 1.3 2.4 1.3 1.7 1.3 .9 1.3 1.3 1.3 1.5 1.6 .4 1.7 .5 1.7 .7 1.7 1.3 1.7-.1 1.7 .7 2.3 1 2.4 .5 1.8 .3 1.8-.4 1.8-.2 1.8-1.9 2.2 .2 1.6-1.9 1.6-.8 1.5-.8 1.6-.5 1.5 .2 1.6-.7 1.6-1.1 1.7-.8 1.7-2 1.7 .3 1.7-1.4 1.7-.8 1.8-.9 1.7-.1 1.8-1 1.8 0 1.8 .1 1.8-1.2 1.8-1.1 2.1 1.3 2 .9 1.4 1.9 1.4 1.1 1.4 .3 1.5 1.4 1.4 1.6 1.5 1.4 1.6 .1 1.7 0 1.7 1.8 1.8 .6 1.7 1.1 1.7-.3 1.7 1.2 1.7 1.4 1.7 1.1 2.4-1.5 1.7-1 1.8-1.1 1.8-.4 1.7 .4 1.8-.1 1.8-1.6 1.8 .5 1.8-1.3 1.8-.7 1.8 .1 1.8-.1 1.8-.2 1.6-.4" fill="none" stroke="#4a3964" stroke-width="1.9" stroke-linejoin="round" stroke-dasharray="4 3"/><path d="M655.7 983.1l1.9-.6 1.7 2 1.6-.1 2.2 .7 2.3-1.3 1.7-1.3 1.7 .5 1.8 .5 1.7 .5 1.7 .7 1.6 .6 1.7-1.2 1.7 0 1.6-1 1.6-1.2 1.5-.5 1.5-2 1.5-1.8 1.5-2.2 1.5-1.2 2.3-1.1 1.8 .2 1.9-.2 1.9-.3 1.9 0 1.9-.2 1.8-.6 1.8 1.3 1.7 .3 1.8 .1 1.7-.1 2.4-.3 2.3 .1 1.8-.3 1.8 .9 1.7-.4 1.7-1.4 1.7-.5 1.6-.8 1.6-1.3 1.7-.7 1.6 0 1.7-.8 1.7-2.3 1.7-1.2 1.7-.8 1.5-1.1 1.5-1.4 1.3 .2 1.3-2.4 1.3-.7 1.4-1.4 1.3-.8 1.1-1.7 .8-1.6 .6-1 .6-3.3 .6-2.4 .6-.5 .5-2.7 .6-2.7 .6-.2 .5-1.9 .6-1 .5-1.9 .6-1 .5-2.7 .5-1.9 1.4 .6 .6 1.9 .5 1.8 .5 1.3 .5 1.3 .5 2.5 .5 1.6 .6 1.1 .5 2.5 .5 1.5 .5 .8 .5 1.5 .5 1.6 .5 1.7 .5 3 .5 1.5 .5 2.4 .4 2.1 .5 2.5 .5 .7 .5 1.2 .4 1.2 .5 1.5 .5 2.9 .5 2.5 1.2 2.5 1.4-.2 1.4 .8 1.9 .5 .8-1.8 .5-1.4 .5-1 .5-2.8 .5-2.5 .5-.9 .6-1.4 .5-2 .5-.9 .5-1.7 .5-3.3 .5-2.5 .5-1.3 .4-1.3 .4-2.5 .3-2.5 .4-.8 .4-1.6 .3-1.9 .4-.8 .4-1.6 .4-2.2 .3-2.2 .4-2 .4-2.2 .3-1.9 .4-.8 .4-2.2 .3-2.2 .4-1.4 .9-1.1 1-1.9 1-1.9 1-.7 .9-2.4 1.5-1.9 2 .2 1.6 1.9 1.6 1 1.5 1.3 1.7 2.4 1 1.9 .9 1.4 .9 1.5 1 1.4 .9 2 1 .1 1.2 .8 1.5 1.6 1.6 .6 1.5 1 2.1 1.1 1.9-2 1.4-1.5 1.5-.8 1.4 .2 1.9-1.8 2 2 1.1 2.1 1 1.2 1.1 1.3 1.1 1.4 1 1.6 1 .8 .9 1.6 .9 2 .9 1.2 .9 .8 .9 1.7 1 2.3 .9 1.6 .9 1.9 .9 2 1 .2 1 2.2 1 2.4 1 1.6 1.1 1.9 1 .4 1 .7 1 1.3 1 1 1 3 1 2.3 1.1 1.5 1 1.4 1 1.9 1 1.5 1 1.8 1 1.5 1 1.4 1 1.2 .9 .9 .9 1.3 1 2 .9 1.4 .9 1.7 .9 1 .9 .6 .8 1.5 .9 1.9 .8 1.9 .8 2.4 .8 1.8 .8 1.4 .9 1.4 .9 1.3 1 2.8 1 1.8 1 1.3 1 .6 1 1.8 1 2.9 1 .7 1.1 1.8 1.3 .7 1.6 .7 1.7 .9 1.7 .6 1.7 1 1.8 .5 2.4-.4 1.8 .2 1.8 .7 1.8-.3 1.8-.8 1.7-.7 1.8-1.5 1.7-1.8 1.7 0 1.7 .3 1.7 .2 1.7-1.4 2.4-.4 2.4 0 1.8-.9 1.8 .6 1.8 .6 2.3-.7 1.8-.8 1.7-.8 1.7-.1 1.7-1.1 1.7-.4 1.7-.4 1.7-.8 1.7-.9 2.3-.7 2.3 .9 1.7-.5 1.7-.4 1.7 .1 1.7 .1 1.7 .4 1.8 1.2 1.7 .5 1.7 .4 1.7 1 1.7 .2 1.7 .7 1.7 .4 1.7-.1 1.7 1.5 1.7 .3 1.8 .7 1.7-.6 1.7 .7 1.7 0 1.7 .7 1.7 .6 1.7 .6 1.3 1.9" fill="none" stroke="#8c5872" stroke-width="1.9" stroke-linejoin="round"/><path d="M655.7 981.0l1.9 1.4 1.6 .7 1.6 1.7 2.2 2.4 2.3 0 1.7-2.1 1.8 .4 1.8-1.9 1.8-1.3 1.7 .6 1.7-1.6 1.7-1.1 1.8 0 1.7-1 1.6-2.2 1.6-3.2 1.5 .6 1.6-.9 1.6-.2 2.2-1.5 1.8 1.8 1.9 .4 1.8 .6 1.9 0 1.8-1.1 1.9-1.4 1.8 .8 1.8-.6 1.8 .8 1.8 .9 1.7 1.2 2.4 .2 2.3-.3 1.8-.8 1.7-1.7 1.7 .4 1.7-.2 1.7-1.4 1.7-2.1 1.7-1.5 1.6 0 1.7-.4 1.5-1.2 1.6 .9 1.6-.2 1.6 .3 1.5-2.8 1.4-1.8 1.3-.3 1.3-1.1 1.4-1.6 1.3-.6 1.2-1.5 1-2 .6-2.2 .7-1.5 .6-2.1 .6-2.4 .6-1 .7-2.1 .6-2.3 .6-2.8 .5-1.2 .6-1.5 .6-2.4 .5-1.4 .6-1.6 1.5 1.7 .5 1.2 .6 1.9 .5 2.3 .5 1.5 .6 2.1 .5 2 .5 .7 .6 1.6 .5 1.4 .6 2 .5 1.3 .5 1.8 .5 1.3 .5 2.7 .5 2.4 .5 2 .5 2.6 .5 .2 .5 1 .4 2.5 .5 1.9 .5 2.2 1 3 1.8 1 1.5 1.4 1.8 1 1.1-2.7 .5-2.5 .6-1.9 .6-1.7 .6-2.5 .5-1.9 .6-.9 .6-1.5 .6-1.4 .5-1.4 .6-1.7 .6-2 .4-1.1 .4-1.4 .4-2.6 .4-2.2 .4-1.4 .4-2.4 .4-1 .4-2.1 .4-2.1 .4-1.7 .3-2.3 .4-1.2 .4-1.9 .4-2.3 .4-2.1 .4-.7 .6-1.9 .8-1.4 1-1.9 1-2.1 1.1-1.1 1.4-1.6 1.8-.1 1.6 .9 1.6 .2 1.6 2 1.5 1.1 1.3 1.8 1.1 .6 1.1 .7 1.2 .9 1.1 2.2 1.2 .5 1.1 2.8 1.8 1.6 2.2-.8 1.7-.7 1.7-2.4 1.7-.2 1.7-1.3 1.8 0 1.7-1.7 2.1 .2 1.4 .4 .8 1.1 .7 3.2 .7 2.4 .8 2.3 .7 2.3 .7 1.4 .8 .7 .7 1.7 .7 2.5 .6 2.1 .7 1.4 .6 .8 .6 1.8 .7 .6 .6 2.4 .7 1.7 .6 2.2 .6 1.2 .8 1.9 .8 1.8 1 1.2 .9 1 .9 1.1 1 1.9 .9 1.1 .9 1.7 1.1 2 1 .8 1.1 2.3 1.1 1.8 1.1 1.2 1 .7 1 1.3 .9 2 .8 2.4 .8 1.2 .8 .7 .8 2 .9 1.4 .8 2.5 .8 1.5 .7 2.4 .8 1.5 .7 1.7 .7 2.3 .8 .8 .7 2 .7 .9 .8 1.2 .7 1.8 .9 2.4 1 .9 1.1 1.1 1 2.6 1 1.9 1 1.9 1 2.5 1 1.9 1.1 .6 1.4 1.3 1.7-.4 1.7 .8 1.7 .2 1.8 .2 2.3 1.5 1.8-1.1 1.8 0 1.8 .7 1.8-.4 1.8 .4 2.2-1.4 1.6-.5 1.5-2.1 1.6-1.5 1.5-1 1.6-1.3 1.6 .3 2.2-1 1.8-1.3 1.8-.6 1.8 0 1.8-.3 1.8-.1 1.8-.4 1.8 .6 1.8 .2 1.8 1.2 1.8-.4 1.8 .2 1.8 1.1 1.7 .4 1.7 .6 1.7 .9 1.7 .7 1.7-.3 1.8 1.1 1.7 .4 1.7 .9 1.7 .3 1.7 .4 1.7 .1 1.7 .8 1.7 1.8 1.7 .9 1.7 .4 2.4 .9 2.3-1.4 1.8 0 1.7-.5 1.8-.7 1.8-.5 1.7 .5 1.8-1 1.8-1 1.7-.2 1.8-1 1.8 .4 1.8-.2 .2 .2" fill="none" stroke="#8c5872" stroke-width="1.9" stroke-linejoin="round" stroke-dasharray="4 3"/><path d="M655.8 983.3l2 2.3 1.7 1.7 1.7-.9 1.7-.2 2.4 .7 1.8-.7 1.8-.8 1.8 .5 1.8-1.3 1.6-.7 1.5-1.4 1.6-1.3 1.5-2 1.5-.5 1.6-1 1.4-.9 1.5-.4 1.5-1.4 1.5-2 1.5-2 2.1-1.8 1.8-.4 1.9-.9 1.9-.4 1.9 1.5 1.8 .3 1.9-.5 1.7 2.1 1.8 .5 1.8-.3 1.8 1.8 1.7 .4 2.4 .7 1.7 0 1.8-1.3 1.7 .1 1.7-1.5 1.7-.8 1.7 1.2 1.7-2.3 1.7-1.5 1.6-.5 1.6-1.8 1.5-.6 1.6-1.1 1.5-1.1 1.5 .8 1.5-.4 1.4-2.6 1.4-2.5 1.4-1.6 1.3-.3 1.4-1.6 1.4-1 1.1-.8 .8-1.7 .6-.6 .6-1.3 .5-2.3 .6-1.9 .6-2.7 .6-1 .5-2.5 .4-1.1 .5-1.2 .4-1.7 .5-3 .4-2.1 .5-2.4 .4-.7 1.6 1.1 .5 1.7 .6 2.4 .5 1.6 .5 1.6 .5 2.6 .5 1.6 .5 2 .5 2 .5 .7 .5 1.2 .6 1.9 .5 2.2 .5 2 .5 1 .4 1.5 .5 1.7 .5 1.5 .5 3.1 .5 2.6 .4 .6 .5 2 .5 .9 .5 1.9 .5 1.7 1 2.1 1.8 .8 1.4 1.5 1.9 1.1 .8-2.7 .5-2 .5-1.4 .5-1.6 .5-1.8 .5-1.9 .4-.9 .5-2.1 .5-1.9 .5-1.2 .5-2.1 .5-1.6 .5-1.2 .3-1.7 .4-.7 .4-2.3 .4-2.2 .3-2.2 .4-1.7 .4-1.4 .4-1.7 .4-2 .3-1.7 .4-2.1 .4-1.6 .4-1.3 .3-2.2 .4-1.3 .4-2.8 .4-2.3 .4-1.3 .5-1.9 .6-1.8 .5-2.3 .6-2 .5-1.4 .6-1.2 .5-1.8 .6-1.9 .5-1.5 1.3-1.8 1.5 2.6 1.2 .4 1.2 1.4 1.1 2.3 .9 1 .7 1.4 .7 1.9 .8 1 .7 2.7 .7 2.1 .8 1.3 .7 1.9 .8 1.6 1.1 1.3 1.2 2 1.3 1.5 1.3 1.3 1.8 .9 2 .5 1.7-.9 1.8-.8 2.2-.4 2.3 1.4 1.7 1.3 2.1 .7 1.5 2.1 .9 .3 .9 2.1 1 1.1 .9 1.8 .9 .8 .9 2.7 1 .8 .9 2.6 .9 1.8 .9 2.2 .9 .8 .9 .7 .9 1.5 .9 1.5 1 1.2 1 2.4 1.2 .7 1.3 .6 1.3 2.5 1.3 1.2 1.3 2 1.3 .9 1.3 1.1 1.4 .1 1.5 1.7 1.4 .5 1.5 1.3 1.4 1 1.8 .8 1.4 2.7 .9 2.2 .9 1.4 1 2.4 .9 1.1 .9 1.3 1 2 1 .3 1.1 2.2 1.1 1.4 1.1 .5 1.1 2 1.5 1.8 1.2 .6 1.3 2.3 1.2 1.8 1.3 1.8 1.9 2.3 2.2 .7 1.8 .4 1.8-.6 1.8 .3 1.8 .2 1.7 .8 2.4 .7 2.4-1.4 1.8-.9 1.8-.6 1.7 .9 1.8-.2 1.8-.9 1.8-.1 1.8-.7 1.8 .3 1.8-.2 1.7-1 1.8 0 1.8-.8 1.8 .1 1.8-.5 1.8-.7 1.7-.2 1.8 .6 1.8-.4 1.8 .1 1.8 0 1.8-.8 2.3 .8 1.8-.2 1.8 .3 1.8-.4 1.8 .7 1.8-.5 1.8 .8 1.7-.9 2.3 1.1 1.7 1.1 1.7 1.4 1.7 .6 1.8 1 1.7-.1 1.7 .8 1.8-.5 1.8 1.3 1.8 .3 1.9-.3 1.8-.1 1.8 .9 1.9 1 1.8 .2 1.9 .4 1.8-.1 .9 .1" fill="none" stroke="#d09c9e" stroke-width="1.9" stroke-linejoin="round"/><path d="M655.7 982.6l1.8 .8 1.6 .3 1.5 2.4 1.6 2 2.2-1.2 2.4 .1 1.8-.7 1.8-1.2 1.7-1 1.7-1 1.6-.1 1.7-.2 1.6-.5 1.7-1.7 1.5-1.4 1.5-2.3 1.4-2.4 1.5-1.4 1.4-1.2 1.4-1.7 2.1 .3 2.5 .4 1.8 .8 1.8 .3 1.9 1.6 1.8-.6 1.9 .3 1.7-.4 1.8 .3 1.8 1 1.8-1.2 1.7 1.1 2.3-1.4 1.7 .7 1.6-1.5 1.7 .8 1.7-.1 1.7-1.9 1.7-.2 1.7-.5 1.7-1.2 1.7-1.7 1.7-1.2 1.6 .6 1.6-2 1.6-1.1 1.5-.5 1.5-2.1 1.4-.6 1.3-.6 1.2-1.6 1.3-1.2 1.3-.3 1.3-1 1.4-1.1 .6-.9 .5-2.1 .5-2.9 .6-2.6 .5-1.3 .5-.6 .5-1.2 .5-1.1 .5-3 .5-1.3 .5-1.9 .5-2.5 .4-1.6 .5-1.4 .5-1.8 1.6 2 .5 .2 .5 1.4 .5 2.4 .5 1.6 .5 2.1 .4 2 .5 1.2 .5 2.2 .5 1.7 .5 1.4 .5 1.6 .5 1.6 .5 2 .4 .9 .5 2.4 .5 1.6 .5 1.7 .5 1.4 .4 1.1 .5 2.8 .5 1.8 .5 1.7 .4 1.7 .8 3 1.5 1.6 1.4 1 1.4 .1 2-.6 .5-1.5 .6-.5 .5-2.8 .5-1.8 .6-1.1 .5-1.1 .6-1.8 .5-2.4 .5-1.5 .6-.9 .5-2.8 .5-1.1 .5-1.9 .4-1.5 .3-1.2 .4-2.6 .4-1.9 .3-2.2 .4-1.9 .3-2.3 .4-2.1 .4-.4 .3-2.4 .4-2.1 .4-1.4 .3-1.8 .4-1.6 .4-2.3 .3-1.8 .5-1.6 .7-.7 .9-1.5 1-1 1-2 1-2.1 1.4-1.4 1.7-.2 1.4 1.5 1.4 2.2 1.5 1.6 1.4 1.7 1.4 .8 1.4 1.7 1.5 1.4 1.4 .4 1.4 .9 2-.3 1.9 .3 1.4-.5 1.5-1.8 1.4-1.4 1.4-1.1 1.5-1.1 1.3-1.8 1.2-1.5 1.2-1 1.2-1.7 1.9 1.1 .5 1.7 .5 1.1 .5 2 .5 2 .5 2.1 .5 1.6 .4 1 .5 2.3 .5 .8 .5 2.6 .6 .6 .6 2.6 .7 .9 .6 1.1 .7 1.9 .6 2.5 .6 1.3 .7 1.4 .6 2.5 .7 1.1 .7 1.1 .7 2.3 .9 1.7 .8 1.5 .8 1.9 .8 2.4 .8 2.4 .9 .6 .8 2.3 1 .8 1.1 1.1 1 1.1 1.1 1.8 1.1 .8 1.5 2.2 1.4 1.3 1.5 1.6 1.6 .1 1.6 1.2 1.3 1.1 1.2 1.9 1.1 1.8 1 .4 1.1 .8 1.1 1.6 1 2.9 .9 1 .8 2.9 .8 1.5 .9 1.3 .8 1.6 .8 2.3 .8 1.6 .9 2 .9 1.1 1 2 1 .9 1 2.5 1 .5 1.1 2.8 1 1 1 .8 1.1 1.5 1.7 1.8 1.4 1.9 1.5 .5 1.4 1.7 1.4 .6 2.1 1.3 2.3-.1 1.8 .4 1.8-1.1 1.8 .7 1.8 .5 2.3-.5 1.7-.1 1.7-.8 1.8-1.8 1.7-1.2 1.7 .7 1.7-.6 1.8 .4 1.8-.5 1.8-.6 1.8-.4 1.8-1.2 1.8 .5 1.8-.5 1.8-.9 1.9 .4 1.8 .8 1.8 .3 1.9-.2 1.8-.3 1.9-1 1.8-.1 1.8 1.1 1.9 .3 1.8 .5 1.8-.7 1.8 .6 1.9 .3 1.8-.8 1.8 .5 1.8 .5 1.8 1 1.9 .7 1.8 .8 1.8-.6 1.8-.9 1.8 .2 1.8 1.2 1.8-.8 1.8 .4 1.9 .9 1.8 .2 1.8-.5 1.8-.6 1.5 .7" fill="none" stroke="#d09c9e" stroke-width="1.9" stroke-linejoin="round" stroke-dasharray="4 3"/><g><line x1="1192.8" y1="868.3" x2="1192.8" y2="1090.0" stroke="#161616" stroke-width="2.5"/><path d="M1189.6,887.4h3.2 M1189.6,905.6h3.2 M1189.6,923.9h3.2 M1189.6,942.1h3.2 M1189.6,960.4h3.2 M1189.6,978.6h3.2 M1189.6,996.9h3.2 M1189.6,1015.1h3.2 M1189.6,1033.3h3.2 M1189.6,1051.6h3.2 M1189.6,1069.8h3.2" stroke="#161616" stroke-width="1.6"/><line x1="1126.9" y1="978.6" x2="1456.5" y2="978.6" stroke="#161616" stroke-width="2.7"/><path d="M1127.1,978.6v3 M1258.5,978.6v3 M1324.1,978.6v3 M1389.8,978.6v3 M1455.4,978.6v3" stroke="#161616" stroke-width="1.6"/><text transform="translate(1127.1,1000.4) scale(1.05,0.88)" text-anchor="middle" font-family="'Liberation Serif', 'Times New Roman', serif" font-weight="bold" font-size="16.5" fill="#222">-200</text><text transform="translate(1258.5,1000.4) scale(1.05,0.88)" text-anchor="middle" font-family="'Liberation Serif', 'Times New Roman', serif" font-weight="bold" font-size="16.5" fill="#222">200</text><text transform="translate(1324.1,1000.4) scale(1.05,0.88)" text-anchor="middle" font-family="'Liberation Serif', 'Times New Roman', serif" font-weight="bold" font-size="16.5" fill="#222">400</text><text transform="translate(1389.8,1000.4) scale(1.05,0.88)" text-anchor="middle" font-family="'Liberation Serif', 'Times New Roman', serif" font-weight="bold" font-size="16.5" fill="#222">600</text><text transform="translate(1455.4,1000.4) scale(1.05,0.88)" text-anchor="middle" font-family="'Liberation Serif', 'Times New Roman', serif" font-weight="bold" font-size="16.5" fill="#222">800</text><text transform="translate(1187.3,892.7) scale(1.05,0.88)" text-anchor="end" font-family="'Liberation Serif', 'Times New Roman', serif" font-weight="bold" font-size="16" fill="#222">-5</text><text transform="translate(1187.3,1075.2) scale(1.05,0.88)" text-anchor="end" font-family="'Liberation Serif', 'Times New Roman', serif" font-weight="bold" font-size="16" fill="#222">5</text><text transform="translate(1291.8,1087.0) scale(1,0.86)" text-anchor="middle" font-family="'Liberation Serif', 'Times New Roman', serif" font-weight="bold" font-size="18.6" fill="#1e1e1e">Latency (ms)</text><text transform="translate(1101.8,978.6) rotate(-90) scale(1,0.86)" x="0" y="0" text-anchor="middle" font-family="'Liberation Serif', 'Times New Roman', serif" font-weight="bold" font-size="18.6" fill="#1e1e1e">Amplitude (μV)</text><text x="1178.7" y="881.6" text-anchor="end" font-family="'Liberation Serif', 'Times New Roman', serif" font-size="30" fill="#111">Cz</text></g><path d="M1128.0 981.1l1.9-1.9 1.7-.7 1.7 .4 1.7-.9 1.7-2.9 1.6-3.6 1.7 2.2 1.7-.3 1.7-1.9 1.7-2 1.8-1.3 1.9-1.9 1.8 2 1.8 1.2 1.8 1.2 1.9-2 1.8-.5 1.8 .5 1.9 .7 2.3-1.5 1.6-.5 1.7 4.6 1.6-.6 1.7 1.5 1.6 1.8 1.5 4.4 1.5 4.5 1.5-.3 1.5 .7 2.1-1.6 2.2-3.7 1.7 1.4 1.7-1.9 1.7-.2 1.7-2.6 1.7 3.2 1.8-.7 1.8-1.3 2.4-1.4 1.8 3.4 1.8-1.2 1.8 1.9 2.3-1 1.7 1.8 1.7-2.2 1.8 .1 1.6-.1 2-1.5 1.3-.7 1.2-2.8 1.3-1.1 1.2 .1 1.4-.7 .7-1.5 .6-4.2 .7-3.4 .6-.5 .6-1.2 .7-1.7 .6-3.5 .6-1.9 .6-1.4 .7-4 .6-1.7 .6-2 .7-2.7 1.9 2.5 .9-.1 .8 1.3 .8 4.4 .9 1.2 .8 2.4 .8 .3 .8 2.5 .6-.8 .6 4.1 .7 2.3 .6-.6 .7 2.6 .6 .9 .7 1 .6 1.7 .6 3 .7 1.5 .6 2.5 .7 2.3 .6 1.3 1.7 .3 .8-2.8 .8 .2 .9-2.1 .8 .3 .8-2.1 .8-3 .7 .3 .5-2 .5-3.4 .5-2.1 .5-.4 .4-3.4 .5-2.5 .5-3.1 .5-3.4 .4-2.5 .5-1.2 .4-.2 .4-.1 .4-3 .3-.8 .4-.7 .4-1.4 .3-3.1 .4-1.3 .4 .3 .3-3.5 .4-.9 .4 .2 .3-4.4 .4-.7 2 .5 1.2 3 1.3-.9 1.1-.3 1 2.6 .9 2.3 .8 3.6 .8 1.7 .8 1.7 .8 3 .9 .5 1.2 2.8 2-1.9 1.8-1.2 1.8 .5 1.8 .2 1.7-1.3 2.1-1.9 1.4-1.4 1.4 .6 1.5-3.8 1.4-2.4 1.4-2.3 1.4-1 1.2-1.8 1.3-2.7 1.3-2.2 1.6 2.3 1.5 2.5 1 .1 1 2.2 1 3.7 1 .8 1 2.8 1 1.3 1 .8 1 2.4 .8-.5 .9 3.5 .8 2.8 .8 3 .9 1.1 .8 1.9 .8 1.7 .8 1.5 .9 .4 .8 2 .8 0 .9 1.3 .8 .6 .8 1.9 .8 1.5 .9 3.8 .8 2.1 .8 .9 .9 3.4 .8 3.2 .8 .7 .9 1.7 .9 3 .9-.9 .9 2.9 .9 2.5 .9 1.1 .9 .9 1 1.8 .9-1.5 .9 3.8 .9 1.2 1 1.5 1.1 1.9 1-.8 1 2.2 1-.7 1 .3 1 1 1.1 4.1 1.6 3.5 1.9 2.6 1.4 1.3 1.5 1.1 1.4-1.1 2 1.2 1.6 2.9 1.8-.7 1.7 2.7 1.7-.4 1.7-1.1 1.7 2.3 2.3 .5 1.8-1.5 1.8-1.9 1.8 1.8 1.8-2.4 1.8 2.4 1.8 1.5 1.8-.7 1.8 .7 1.8 .8 1.8-.6 1.8-.5 1.8-3.5 1.7-2.3 1.8 .7 1.7-2.2 1.7-1.8 1.7-1.9 1.7-1.8 1.7 1.9 1.7 1.6 1.7 .9 1.7 .7 1.7-.9 1.8-.5 1.7 0 2.3-1.1 2.3-2.4 1.8-.3 1.8 .4 1.8 1.9 1.7 2 1.8-1.8 1.8-1.2 2.4-.8 1.8 .7 1.8 0 1.7-.7 1.8 .6 1.8-1 1.8-.7 2.3 1.1 2.3 .7 1.7 1.4 1.7-.2 1.8 1.2 1.7 1.5 1.7 .5 1.7 1.5 .8-2.6" fill="none" stroke="#4a3964" stroke-width="1.9" stroke-linejoin="round"/><path d="M1128.0 977.6l2 .1 1.8 2.3 1.7-1.8 1.8-1.5 1.6 4 1.7 1.6 1.7-1.7 1.7-1.4 1.7-.5 1.8-1.9 1.8-3 1.9-1.6 1.9-.3 1.9 1.8 1.8 1.9 1.8 .5 1.8-2.3 1.8-.7 2.3 1.5 2.2-.4 1.6-1 1.6 2.9 1.6 .6 1.6 .6 1.6-.9 1.5 .3 1.4 1.2 1.5-1.9 1.5 3.2 2.1 3 2.2-.1 1.8-1.8 1.7-1.1 1.8-1.9 1.7-1 1.6-1.6 1.5 1.6 2.2-1.4 2.3 2.5 1.8 .4 1.8-2.5 2.3 1.7 2.3-.7 1.6 1 1.7 .4 1.7-.6 2.1 .4 1.7-2.7 1.1-3 1.2-3.3 1.1 .1 1.1-.7 1.2-.2 .7-2.5 .6-1.9 .6-2.7 .6-2.7 .7-2.8 .6 .9 .6-2 .6-1.8 .7-.2 .6-2.4 .6 0 .6-2.7 .9-2 1.6 1.9 .9 3.4 .9 1.5 .9 2 .8-1.6 .9 3.5 .8 1.9 .7 2.3 .6 .8 .6 2.6 .6 1.5 .6 1 .7 1.5 .6 2.3 .6 2.4 .6 .7 .6 2.1 .6-.5 .6 .6 .6 3.5 .7 .4 1.9 .6 .8-.6 .8-1.3 .8-3.9 .8-3.6 .8-3.1 .8 .4 .6-2.8 .5-3.7 .4 .1 .4-.2 .4-1 .4-.4 .4-2.4 .4-3 .4 .2 .4-1.1 .5-4.1 .4-2.1 .4 .2 .5-.7 .5-.5 .5-1.8 .4-4.3 .5-3.9 .5-.2 .4-1.7 .5-1.2 .5-2.3 .5-2.9 1.1-3.1 1.5 2.4 1.2 2.1 1.3 .4 1.1 2.4 1 2.3 1 2.6 .9 1.5 .9-.9 1 3.1 .9 3.6 1.5 .5 2.2 1.1 1.8 1.9 1.8-1.3 1.8 1.6 2.2-.3 1.9-3.2 1.5-2 1.4-.5 1.4-.2 2-3.7 2.3-1.2 1.7 1.5 2.1-2.4 1.6 1.9 .9 .6 .9 3.2 1 .3 .9 4 .9 2.6 .9 1.2 .9 1 .9 .7 .9 2.6 .8 .7 .7 3.8 .7 3.2 .8 1.9 .7-.4 .8 .6 .7 1.1 .7 1.1 .8 3.6 .7 1.7 .8 .8 .7 .7 .6 3.3 .5 0 .6 .4 .5 .9 .5 1.3 .5 3.5 .6 1.4 .5 .4 .5 2 .5 1 .6 2.6 .5 3.1 .5 1.4 .6 1.3 .7-.6 .6 4.3 .6 .9 .7 2 .6 4.2 .7 2.5 .6 3.2 .6 1.8 .7-1.5 .7-.9 .9 2 1.1 1.6 1 2.4 1-.8 1 .5 1 4.1 1 2.8 1 .9 1.7 1.2 2.2 .6 1.7 1.9 1.7-.3 1.7 0 1.7 2.7 2.3 .2 2.3-1.2 1.7-.5 1.7-1 1.7 1.5 1.7-2 1.8-2 1.8 .7 1.8 0 1.8 0 1.8-.1 1.8 1 1.8 1.1 1.8-.3 1.8-1.7 1.8 1.2 1.8 2 1.8 .8 1.8-.6 1.8 .8 1.8 .9 1.8-3.8 1.8-1 1.8-2.5 1.8 .4 1.8 0 1.8 1.6 1.8 1.5 1.8 .7 1.8-1.1 1.8 .2 1.7 2.4 1.8 1.4 1.7-1.4 1.7 1.4 1.7-2.3 1.7-.4 1.7 .2 1.8 1 2.2 1.4 2.3 0 1.7 .6 1.7-2.3 1.7 .7 1.8 0 1.7-1.1 2.2-2.5 2.3 1.8 1.7-1.2 1.7 2.8 1.8 0 1.7 3 2.1 .9 1.5-2 .7-.9 .7-.1 .8-3.1 .7-1.4 .7-3.5 .7-1.8 .8-1 .7-2 .5-2.4 .4-3.4 .2 1.4" fill="none" stroke="#4a3964" stroke-width="1.9" stroke-linejoin="round" stroke-dasharray="4 3"/><path d="M1128.0 982.4l1.9-3 1.7 1.1 1.7-.3 1.7-4 1.8-.5 1.8-1.7 1.8-2.2 1.8-1.3 1.7 2.6 1.8 1 1.7-3.6 1.6-1.9 1.7-1.8 1.7 .6 1.7 .1 1.8-4 1.8 3.4 1.8 2.2 1.8 1.7 2.1 1.2 1.8 1.4 1.4 1.4 1.4-2.2 1.3-1.3 1.4 4.4 1.4 3.1 1.6 1.1 1.5 .7 1.5 .5 1.5 2.5 2.1 .4 2.1 .6 1.7-.6 1.6-3.9 1.7-3.3 1.6 .3 1.8-2.7 1.9 .9 1.9-1 1.8 .1 1.8-.6 1.7 .6 1.8-2.5 2.3 .5 1.7 2.3 1.7-3 1.7 2 1.7 .6 1.6 1.3 1.3-.9 1.1 .6 1.2-3.6 1.2-.7 1.1-2.9 1.1-3.8 1-2.2 .5-1.4 .5 .3 .5-3.3 .5-2.8 .6 .3 .5-2.9 .5-1.3 .5-.1 .5-1 .5-.2 .5-4.1 .5-4.4 .5-1.8 .6-1.8 .5-1 1.8 2.9 .8-.5 .8 1.9 .8 2.7 .8 2.4 .8 .5 .9 1 .7 2.5 .6 1.5 .5 2.3 .5 .2 .5 3.7 .5 1 .5 3.6 .5 .5 .5 .3 .5 .2 .5 4 .5 .2 .5 .3 .5 1.7 .5 4.4 .5 .2 .5 .3 .7 4.4 1.6-2.6 .9-1.3 .8-1.1 .9-2.4 .9-1.1 .9-2 .9-2.6 .6-3.6 .5-.9 .3-2.2 .4-1.3 .3-2.4 .4 .2 .3-2.2 .4-3.6 .3-.8 .4-1.4 .3-1.5 .4-.2 .3-2.3 .4-3.8 .4 .6 .5-.3 .4-.3 .4-2.8 .5-.9 .4-2.5 .4-.2 .4-4.4 .5-1.2 .4-1 .4-2.8 1.2-1.2 1.8-.8 1.4 1.2 1.3 .8 1.3 1.9 .8 1.5 .7 .2 .7 1.2 .8 4.3 .7 1.6 .7 3.6 .8 .2 .8 .7 1.8-.3 1.7 1 1.8 .7 1.7-.3 2.1 3 1.9-1 1.3-2.8 1.3-1.8 1.3-.4 1.3 1 1.3-1.8 1.4 .5 1.6-2.9 1.6-2.4 1.5-1.5 1.9 2.6 1.6 .1 1.2 1.9 1.1 .2 1.1 3.6 1.2 2 1.1-.2 1.1 3.1 1 .4 1 .2 .9 1.1 .9 3.5 .9 .4 .9 1.4 .9 3.9 .9 1.6 .9 4 1 2.3 .9 1.7 1 2.3 1.1-.4 1-1.3 1-.3 1 2.6 1 3.4 1 .4 1 .9 1 3.8 .9 2.2 .9 1.3 .9-.2 .9-.3 .9 2.3 1 2.5 .9 2.7 .9-1.1 .9 3.8 .9 .8 .9-.4 .9 1.5 .9 1.4 .9-.2 1 3.3 .9 1.4 .9 3 .9 .4 1 .4 1.1 1 1.3 .6 1.3 2.3 1.3 2.4 1.3 .1 1.3 3 1.4 3.5 1.5 2.6 1.7-.1 1.7 1.2 1.7-.2 1.7-.9 1.7 .1 2.3 1.1 2.4 .4 1.8-1.5 1.8 0 1.8 .3 1.8-.5 1.8 .7 1.8-2.7 1.8 1.4 1.8-.5 1.8-2 1.8 1.8 1.8-1 1.7-1.3 1.8 .2 1.7 1.5 1.7-.4 1.7-1.3 1.7-2.6 1.7 1.8 1.8-1.6 1.8-1.7 1.8-.6 1.8-.1 1.8 .7 1.7-.7 1.8-1.2 1.8 1.7 1.8 0 1.8 .5 1.8-2.4 1.7-2.3 1.8-1.6 1.8-.3 1.8-.9 1.8 1.5 1.8 .5 1.8-1.5 1.7 .3 1.8-.6 1.8-1.3 2.4-.7 2.3 2 1.7 .7 1.7 2.9 1.7 .9 1.7 0 1.7 .6 1.7 1.5 1.7 1.1 .3-.7" fill="none" stroke="#8c5872" stroke-width="1.9" stroke-linejoin="round"/><path d="M1127.9 981.8l1.8-3.3 1.6 .7 1.6-2.9 1.5 2.4 1.7 1.2 1.6-1 1.7 1.7 1.7 .8 1.7-2.1 1.7-3.5 1.8 .8 1.8-1.5 1.8-2.7 1.7-.7 1.9-.2 1.8-1.3 1.8-3.1 1.9-2.8 1.8-1 2.3-.7 2.1 3.4 1.6 1.3 1.5 3.6 1.5 3.8 1.5 4 1.5 1 1.5 2.2 1.5-.5 1.5 1.4 1.5-1.9 2-2.2 2.1-2.7 1.6 2.3 1.7 1.2 1.6-1.4 1.6-1.8 1.7-1.3 1.7-1.2 1.8 .9 1.9-2.6 1.9 3.4 1.9-1 1.9 1.2 1.8-1.4 1.7-.4 1.6-1.4 1.7 1.9 1.7-1.9 1.6-1.4 1.8-1.1 1.1 .1 1.2-2.1 1.1-3.5 1.2 .4 1-.1 .7-3.6 .6-1.4 .6 1 .5-3.8 .6-1.9 .5-.6 .6 .6 .6-1.2 .5-1 .6-1.7 .5-2.2 .6-2.6 .6-3 .5-2.7 .8-2 1.5 1.2 .8 .3 .9 2 .8 3 .8-.8 .8 1.6 .8 .5 .8 2 .6 .6 .6 2.8 .5 2 .6 2.8 .5 2.4 .6 1 .5 .7 .6 3.1 .5 3 .6 3.8 .5 3.1 .6 1 .5 2.9 .6 .4 .5 .8 .8 1 1.5-.6 .8-1.4 .8-.1 .9-2.3 .8-3.9 .8-2 .7-2.9 .6-.1 .5-3.6 .4-.3 .4-1.6 .4-3.3 .4-2.4 .4-3.2 .4-2.3 .5-2.1 .4 .7 .4-.6 .4 0 .4-.6 .3-3.3 .4-2.7 .3-3.3 .4-2.7 .3-3.9 .4-1 .4-2.8 .3 .8 .4-2.2 .3 .2 .4-3.6 .4-.9 .3-.8 1.1-2 1.8-1.1 1.4 2.3 1.3 3.3 1.4 .6 .8 .3 .9 3.5 .8-.5 .8 2 .8 3.7 .8 2.4 .8-.3 .8 3.5 .8 2.5 .7-.8 .7 1.8 .7 1 .8 .2 .7 .3 .7 2.1 .8 3.6 1 1 1.2 1.3 1.3 2.8 1.2 1.3 1.3 3.4 1.9-.5 1.2-2.7 .9-4.2 1-3.2 .9-2.8 .9 1.6 .9 .8 .9-.7 .9 .2 1.8-1.5 1.7 1.6 1.3-.8 1.3 1.9 1.3 2.6 1.3-1.4 1.2 3.1 1.1-.8 .9 .6 .9 3.4 .9 3.8 .9 2 .9-.1 .9 3.3 .9 1.5 1-1 .8 1.3 .9 3 .8 2.3 .9 0 .8 2.9 .8 1.5 .8 3.4 .9-.3 .8 1.6 .8 1.3 .9 2.9 .8-.6 .8 1.9 .9 4.1 .8 .9 .8 .7 .8-.8 .9 2.1 .8 3.6 .8 3.7 .9-.7 .8 .6 .9 1.6 .9 2 1 4 1.1 0 1 4.1 1 3.5 1 .8 1-1.6 1 3.2 1.6 1.9 2 .9 1.6-.7 1.5-.7 1.6 .2 1.5 .2 2.2 0 2.2 3.3 1.8-.5 1.8 1.3 1.8 1.3 1.8 1 1.8 .4 1.8 .7 1.7-.3 1.7-2 1.7-1.1 1.7-3.4 1.7 1.2 1.8-2.2 2.3-1 1.8-.2 1.8 1.8 1.8-1.2 1.8 1 2.4-2.2 1.7 .9 1.7 2 1.7-.3 1.7-.8 1.8 1.3 1.7 2.7 2.3-1.3 1.8 1.2 1.8-2.3 1.8-2.1 1.8 1.1 1.7 1 2.4 1.3 2.3 .3 1.7 1.6 1.7-1 1.8-.4 1.7 1.5 1.7-1.8 1.7 .1 2.3 .3 2.4-.6 1.8 1 1.7 1.3 1.8-.9 1.8 1.7 1.8-2.5 1.8-.9 1.8-1.3 1.9-.9 1.9-.7 1.8 1.7 1.9 1.4 1.9 1.3 1.9-2.7 .3-.8" fill="none" stroke="#8c5872" stroke-width="1.9" stroke-linejoin="round" stroke-dasharray="4 3"/><path d="M1127.9 979.0l1.8-3 1.6-2.8 1.5-.2 1.5 .5 1.7 1.3 1.7 2.8 1.7-2.5 1.8-2.4 1.7-3.4 1.8-.3 1.8-1.2 1.8 .2 1.8-1.8 1.8-.9 1.8-1.9 1.8 2.7 1.8-1.1 1.8 .3 1.8 1.3 2.3 3.7 1.6 1.7 1.6 3.2 1.5 .4 1.6 0 1.6 .3 1.5 3.3 1.5-1.4 1.5 0 1.5 .1 1.4 3.5 1.5-1 2.1 3.4 2.2 0 1.7 .2 1.6-4.7 1.7 .4 1.6-.3 1.7-2.5 1.7 .7 2.4-2.8 1.8 2.4 1.9-.5 1.8 1.3 2.3-.7 1.6 .1 1.7-1 1.6-3.6 1.6-.8 1.5-4 1.4-2.4 1.1-1.3 1.2 .8 1.2-2.5 1.2-2.1 .9-2 .6-2 .5 1.6 .5 .4 .5-.9 .5-3.2 .5-1.2 .5-.5 .5-3.8 .6-2.7 .5-1.8 .5-3.4 .5-3.1 .5-.1 .5 .4 .5-2.2 .5-.5 .7-4.1 1.5 .8 .7 .9 .8 .2 .8 .8 .7 3.1 .8 2.8 .8 2.9 .7 2.6 .7 1 .5 3.3 .5 .2 .5 4 .5 .8 .5 .4 .5 3.9 .5-.7 .5 1.2 .5 1.1 .5 3.1 .5 3.1 .5 0 .5 2.3 .4 .7 .5 4 .5 3.4 .7 .5 1.5-1 .8-2.8 .8-3 .7-1.7 .8-1 .8-2.6 .8 .4 .9-3 .6-2.2 .3-.6 .3-2.4 .4-1.2 .3-1.7 .3 .2 .3-.3 .4-1.5 .3-.6 .3-2.8 .3-1.8 .3-2.3 .4-1.6 .3-.4 .4-1.4 .4-.5 .3-4.3 .4-1.2 .4-1.7 .3-4.3 .4-3.5 .4 .1 .3-.8 .4-1.5 .3-1.3 .4-3.9 .4-3.2 .7-3.2 1.8 0 1.9-.4 1.9-.4 .9 4.3 .5 2.6 .5-.5 .5 0 .6 2.7 .5 3.7 .5 1.2 .5 2.3 .6 0 .5 3.1 .5 .1 1.1 4 2.1 .8 1.8 .7 1.8 1.9 1.8 .2 1.7-.5 1.2-3.2 .8-3.6 .8-.9 .9-1.4 .8-2.7 .8-2.8 .9 .1 .9 .8 1.1-.5 1.1-1.6 1.1-4.4 1-1.9 1.5-2.3 1.7 .1 1 1.8 1 4 1 0 1 1.8 1 2.3 1.1 1.2 1 2 1.1 3.4 1.3 .7 1.2 .6 1.3 .3 1.3 2.3 1.2 .1 .9-.3 .8 2.6 .9 3.5 .8 2.1 .8 1.2 .8 2 .8 1.1 .9 2.4 1 1.4 1-.1 1.1-.4 1.1 1 1.1 4 1.4 1.5 1.2 .8 1.3 3 1.3 1.7 1.3 1.9 1.2 .4 1.3 3.9 .7 1.7 .6 .3 .7 3.9 .6 1.5 .6 3.3 .7 2.3 .6 .7 .7 1.2 .6 .7 1.2 2.7 1.6 3.1 1.3 .6 1.3-1.2 1.2-.2 1.4 1.1 1.9 3.8 1.4 2.4 1.5-.9 1.4 2.3 2 .3 2.1-.9 1.7 1.6 1.7-.6 1.7 .4 1.6-4 1.6 .5 1.6-1.8 2.1 0 2.3-.1 1.7 .3 1.7 2.4 1.7 .7 1.7 2.4 2.4-.4 1.8-2.8 1.8-1.7 1.8 1.1 1.8-.5 1.8 .7 1.9 0 1.8 1.6 1.9-1.7 1.9 1.3 1.8-.6 1.9 .8 1.8-.3 2.1-1.8 1.5-1.1 1.4-1.9 1.5-1.4 1.4-.7 2-1.2 2.3 .9 1.8 1 1.8 1 1.8-1.9 1.8 2.1 2.3-1.6 2.1 .5 1.6-.6 1.5-2 1.6-3.1 1.5-3 2.1-.7 2.3 2.6 1.9-1.8 1.8 1.7 1.8-2 1.7 1.2 2.1 .3 1.4-.6 1.4 1.8 1.5 .4 1.4 2.6 1.3 2.3 .6 2" fill="none" stroke="#d09c9e" stroke-width="1.9" stroke-linejoin="round"/><path d="M1128.0 982.2l1.9-4.3 1.6-1.8 1.6 1.2 1.6-1.3 1.6 1.4 1.6-.2 1.5 1.6 1.6-.2 1.5-1.8 1.6-2.5 1.8 .1 1.9-3.2 1.9-1.2 1.9-.1 1.8-1.9 1.8-1.7 1.8 1.3 1.7-2.4 1.8-.8 2.2-1.6 2 0 1.4 4.5 1.4 2 1.3 3 1.4-.8 1.5-1.1 1.4 .2 1.5 3.3 1.5 2.1 1.5 3.4 1.5 2.6 2.1 4 2.2-1.2 1.8-2.4 1.7-4.8 1.7-.4 1.8-1.8 1.6-2.9 1.7 1.6 2.4 .4 1.8 2.4 1.8-1 1.9-1.4 2.3 2 2.2-2.6 1.6-1.7 1.6 1.6 1.6-1.5 1.9-.3 1.4 0 1-4.1 1-2.6 1-1 1 .4 1-.1 1-.9 .6-.1 .5-4.1 .5-2.7 .5-3.6 .6-2.4 .5 .7 .5-3.2 .5-2.2 .6-1.2 .5-.4 .5-.5 .5-1.2 .6-3.5 .5-1.2 .5-3.9 1.9 .6 .8 3 .7 2.2 .7 .7 .8 .1 .7 .6 .7 4.6 .7-.5 .6 .9 .5 3.1 .6 4 .5 1.8 .5 2.3 .5 2 .5 2 .5-.2 .5 .2 .5 1.4 .5 .9 .6 2.5 .5 .3 .5 3.3 .5 3.8 .5 .2 .5 2.3 2.1-1.6 .8-.3 .8-2.7 .8-2 .9-.9 .8-1.3 .8-2.9 .7-1.4 .5-1.8 .3-1.9 .3-2 .4-2 .3-.7 .3-1.9 .3-2.6 .4 .1 .3-1 .3-4 .4-2.1 .3-2.2 .3 .9 .4-.2 .3-4 .3-3.3 .4 .6 .3-.8 .3 0 .4-3.7 .3-.5 .3-2.3 .4-3.2 .3 0 .3-2.1 .3-3.5 .4-1.7 .3-2.2 .3-2.3 .9-.2 2.1 1.3 1.9-.7 1.7-1.4 .9 .8 .6 1 .7 2.3 .6 2.9 .6 0 .7 1.8 .6 .9 .7 1.7 .9 4.8 1.6 .5 1.2-2.5 1.1-1.7 1.2-2.6 1.1-.3 1.1 .3 1.2-2.2 1.9-.6 2.3-.3 1.7-1.6 2.1 .4 1.7 3.1 1.3 1 1.3 1.8 1.3-.7 2-.1 2.3-.4 1.7-.1 2 .8 1.8 4.6 1.3 3.5 1.3 .3 1.3 1.5 1.2 2.6 1.3 1.6 1.3-.5 1.3 .5 1.3 2.3 1.1-.5 1.1 2 .9 1.5 .9-.5 .9 .5 .9 1.3 .9 .6 .9 5 .9 1.7 1 2.5 .8 1.5 .7-.6 .7 2.6 .6 2.2 .6 3.4 .7 3.2 .6 1.4 .7 2.5 .6 .4 .6 2.1 .7 3.2 .6 2.4 .7 1.8 .7-1.1 .7 .6 .7-.6 .7 3 .6 1.8 .7 2.3 .7 3.6 .7 1.8 .7 2.8 .7 2.6 .6-1.1 .9 2.7 1.1-.3 1.3 .9 1.3 1.9 1.3-.3 1.3-1.1 1.4 2.7 1.9 1 2.4 1.9 1.8 1.6 1.8-1 1.8-2.1 2.3 1.2 2.4 .5 1.7 .5 1.7-.9 1.7 .9 1.7-.1 1.7 .2 1.7 2.3 1.7 1.7 1.7 3.3 1.8 1.1 1.7-1.2 1.7-1.3 1.7 1.9 1.8 1.1 1.8 0 1.8 1.9 1.8 1.9 1.8-1.6 1.8-.3 2.3 .1 1.8 .9 1.8 .3 1.8 .1 1.8-.2 1.8-2.9 1.8 1.9 1.7 1.2 2.3-3.3 1.7-1.4 1.7-1.6 1.7-1.9 1.8 .1 1.7-1 2.2 .3 2.3 .3 1.7 1.6 1.7 .6 1.8-1 1.7 2.3 1.7 .1 1.7-.1 2.3 .4 1.8-1.8 1.8 .6 1.7 .8 1.8 2 1.8 .3 1.8 1.4 1.8 .1 1.9-1.2 1 2.6" fill="none" stroke="#d09c9e" stroke-width="1.9" stroke-linejoin="round" stroke-dasharray="4 3"/><g><line x1="247.6" y1="1130.3" x2="247.6" y2="1352.5" stroke="#161616" stroke-width="2.5"/><path d="M244.4,1150.5h3.2 M244.4,1168.8h3.2 M244.4,1187.1h3.2 M244.4,1205.4h3.2 M244.4,1223.7h3.2 M244.4,1242.0h3.2 M244.4,1260.3h3.2 M244.4,1278.6h3.2 M244.4,1296.9h3.2 M244.4,1315.2h3.2 M244.4,1333.5h3.2" stroke="#161616" stroke-width="1.6"/><line x1="181.5" y1="1242.0" x2="512.5" y2="1242.0" stroke="#161616" stroke-width="2.7"/><path d="M181.9,1242.0v3 M313.3,1242.0v3 M378.9,1242.0v3 M444.6,1242.0v3 M510.2,1242.0v3" stroke="#161616" stroke-width="1.6"/><text transform="translate(181.9,1263.8) scale(1.05,0.88)" text-anchor="middle" font-family="'Liberation Serif', 'Times New Roman', serif" font-weight="bold" font-size="16.5" fill="#222">-200</text><text transform="translate(313.3,1263.8) scale(1.05,0.88)" text-anchor="middle" font-family="'Liberation Serif', 'Times New Roman', serif" font-weight="bold" font-size="16.5" fill="#222">200</text><text transform="translate(378.9,1263.8) scale(1.05,0.88)" text-anchor="middle" font-family="'Liberation Serif', 'Times New Roman', serif" font-weight="bold" font-size="16.5" fill="#222">400</text><text transform="translate(444.6,1263.8) scale(1.05,0.88)" text-anchor="middle" font-family="'Liberation Serif', 'Times New Roman', serif" font-weight="bold" font-size="16.5" fill="#222">600</text><text transform="translate(510.2,1263.8) scale(1.05,0.88)" text-anchor="middle" font-family="'Liberation Serif', 'Times New Roman', serif" font-weight="bold" font-size="16.5" fill="#222">800</text><text transform="translate(242.1,1154.7) scale(1.05,0.88)" text-anchor="end" font-family="'Liberation Serif', 'Times New Roman', serif" font-weight="bold" font-size="16" fill="#222">-5</text><text transform="translate(242.1,1337.7) scale(1.05,0.88)" text-anchor="end" font-family="'Liberation Serif', 'Times New Roman', serif" font-weight="bold" font-size="16" fill="#222">5</text><text transform="translate(346.6,1349.5) scale(1,0.86)" text-anchor="middle" font-family="'Liberation Serif', 'Times New Roman', serif" font-weight="bold" font-size="18.6" fill="#1e1e1e">Latency (ms)</text><text transform="translate(156.6,1242.0) rotate(-90) scale(1,0.86)" x="0" y="0" text-anchor="middle" font-family="'Liberation Serif', 'Times New Roman', serif" font-weight="bold" font-size="18.6" fill="#1e1e1e">Amplitude (μV)</text><text x="232.4" y="1136.0" text-anchor="end" font-family="'Liberation Serif', 'Times New Roman', serif" font-size="30" fill="#111">Cz</text></g><path d="M182.9 1245.4l2.2-1.7 1.8-.1 1.9-1.5 1.9 1 1.8-.6 1.8 1.5 1.8 .6 1.8 1.2 1.9-.9 1.8 .7 1.8-.6 1.8-1.6 1.8 .8 2.4-1.1 2.1 .2 1.6-1.4 1.6-.4 1.6-1.3 1.6-1.5 1.7-1.2 1.8-.3 1.8-.6 1.8-.7 1.8 1 1.8-.4 1.8-.2 1.9 1.2 1.8-.8 1.9 .3 1.8 .4 1.9-.9 1.8 1.1 1.8 .3 1.8-.1 1.8 1 2.3 .3 2.4 .6 1.7-1.2 1.8 1.4 1.7-.3 1.9-.2 1.8-.3 1.9-.8 1.9 0 1.9-1 1.9-1.3 1.9-.7 1.9 0 1.9-1.2 1.1-.9 1-1.3 1-1.9 1-1 .9-1.1 1-1.6 .8-2.2 .6-1.3 .6-2 .6-2.4 .6-2.2 .6-2.3 .7-1.6 .6-1.5 .6-1.5 .6-1.8 .6-2.4 .6-1.2 .5-1.7 .6-1.8 .5-1.7 .6-1.1 .5-1.7 .5-1.2 .6-2.9 .5-1.9 .6-1.7 1.8 1.2 .5 1.3 .5 1.1 .6 2.5 .5 2.8 .6 2.1 .5 .7 .5 1.1 .6 2.3 .5 2.4 .5 1.3 .6 1.4 .5 2.1 .6 2.6 .6 .8 .6 2.5 .6 1.6 .6 .6 .6 2.2 .6 2 .6 1.7 .6 1.5 .7 1 .6 2.2 .6 2.2 .6 1.7 .6 1.6 1.7 1.2 .9-1.5 .9-2.9 .9-1.8 .9-2.2 .9-1.5 .9-1.3 .8-1.3 .6-1.2 .6-2 .5-.8 .5-2 .5-1.9 .5-1.6 .5-1.8 .5-1.6 .5-1.3 .5-2.3 .5-2.1 .5-1 .6-1.4 .6-2.3 .6-3 .7-.9 .6-1.9 .6-1.9 .7-1.6 .6-.8 .6-1.7 .7-2.4 .9-2.4 1.7 1.1 .9 2.3 .9 2.6 1 1.3 .9 .7 1 .7 1.1 1.1 1.2 1.7 1.3 2.1 1.3 1.4 1.3 .9 1.3 .5 1.3 1.5 1.4 2.6 1.4 .4 1.5 2.4 1.4 .7 1.4 .7 1.5 2.4 1.5 .4 1.6 .3 1.7 1.8 1.7-.3 1.8 .4 1.6 2 1.6 .4 1.4 1.6 1.5 1.3 1.4 .8 1.5 .2 1.4 2 1.4 1.4 1.3 1 1.3 1.6 1.3 1.1 1.3 .6 1.3 1.4 1.3 1.3 1.2 .4 1.1 1.4 1.1 2.5 1.1 1.4 1.1 1.6 1 .9 1 1 .9 1.4 .9 1.7 .8 2.6 .8 2.4 .8 2.7 .8 .4 .9 1.2 .8 1.6 .7 2 .8 2.1 .7 .9 .7 2 .8 2.5 .7 1.2 .7 2.2 .8 1.1 .7 2 .8 .9 .8 2.9 .8 1.3 .8 2.6 .9 1.5 .8 1.5 .8 1.7 .8 .5 1.4 2.2 1.8 2.1 1.5 .8 1.4 .5 1.5 1.1 1.9 1.7 2.3 1.3 1.8 .2 1.8 .3 1.8 .5 1.8 .4 1.8-.2 1.8 .8 1.8-.5 1.8-.1 1.8-.6 1.8 .4 2.3-.4 2.4-1.2 1.7 0 1.7-1.3 1.7-.2 1.7-.7 1.7-.5 1.7-.5 1.5-1.3 1.6-1.1 1.5-.6 1.6-.2 1.5-1.3 1.6-2.3 2.2-.9 2.4-.2 1.8 .6 1.8 .2 1.8-.3 1.8-.4 1.8 0 1.8 1.2 1.8 1.6 1.8-.7 1.8-.3 1.8 0 1.8 0 1.8 .8 1.8 .6 1.8-.6 1.8 1.4 1.8-.7 1.8-.3 1.8 .5 1.8 .3 1.8-1.1 1.8 .5 1.8-.1 1.8 .2 .3-.3" fill="none" stroke="#4a3964" stroke-width="1.9" stroke-linejoin="round"/><path d="M182.8 1241.4l2.1-1.4 1.8 0 1.8 .3 1.8-1.2 2.4 1 2.2 .5 1.7 .9 1.7 .1 1.8-.2 1.7 .5 1.9 1 1.8-.8 1.8-1.1 2.4 .9 2-.5 1.5 .8 1.5-1.5 1.5-.9 1.5 .2 2.2-.7 1.8-.3 1.8 1.3 1.8-2.3 1.9 .3 1.8 .5 1.8-.8 1.8-.7 1.8 .2 1.8 .7 1.8 1.9 1.8-.4 1.8-1.1 1.8 .7 1.8 1.4 1.8-.5 1.8 .9 1.9-.1 1.8-1.2 1.8 1.4 1.8 .2 1.8-.4 1.8-.5 1.8-.6 1.7-.5 1.8-1.7 1.8 .7 1.7-.4 1.8-.5 1.7-2.4 1.9-1.7 1.2-.8 1.1-1.6 1.2-.7 1.1-1.4 1.1-2.7 .8-2 .6-1.1 .5-1.6 .6-3.3 .6-2.2 .5-2.6 .6-.5 .6-1.4 .5-1.5 .6-2.1 .6-2.7 .5-1.8 .6-1 .5-2.4 .6-.8 .5-3 .6-1.3 .5-1.2 .6-1.3 .5-2 .5-2.1 .6-1.8 1.7 .7 .5 1.4 .5 1.9 .5 3.1 .5 1.4 .6 1.4 .5 2.1 .5 2.2 .5 2.2 .5 2 .5 1.7 .5 .7 .5 2.2 .5 2.4 .7 1 .6 2.4 .7 1.3 .6 1.4 .7 1.9 .6 1.9 .7 2.5 .7 2.4 .6 1 .7 2 .6 .7 .7 1.5 .6 1.4 1 .8 1.6-1.3 .9-1.7 .9-1.5 .8-1.5 .9-1.6 .9-1.9 .7-1.5 .5-2.4 .5-1.5 .5-.6 .5-.9 .5-2 .5-2.3 .5-1.6 .4-1.4 .5-2 .5-1.1 .5-2.2 .5-1.7 .5-2.9 .6-.5 .8-3 .8-1.3 .8-.8 .8-2.6 .8-.6 .8-1.8 .8-1.7 1.5-1.8 1.2 1 .9 2.6 .9 1.4 1 2.2 .9 1.3 1 2 1.1 .9 1.2 2.1 1.3 2.2 1.3 1 1.3 .6 1.3 1 1.3 .4 1.3 1.1 1.3 1.5 1.3 1.4 1.3 .8 1.3 2.5 1.3 .5 1.4 1.7 2.1 1.9 1.8 .2 1.8 .8 1.8 0 1.7 1.5 2 .4 1.3 1.7 1.3 1.5 1.3 1.7 1.3 1.8 1.3 .7 1.3 .5 1.1 .4 1.1 1.9 1.1 1.1 1.1 1.9 1.1 1.8 1 .8 .9 2.1 .9 1.1 .8 1.8 .8 1.5 .8 2.6 .8 1.4 .9 1 .8 1.7 .8 2.1 .7 2.3 .7 .7 .8 1.8 .7 2.1 .7 .5 .8 1.7 .7 1.8 .7 2.5 .8 1.8 .7 1.8 .7 1.2 .8 1.7 .7 2 .7 2.2 .8 1.7 .7 2 .7 1.7 .9 .5 1 .9 1.3 1.8 1.3 1.2 1.3 .9 1.3 1.8 1.3 2.3 1.9 .7 2.3 .8 1.8 .6 1.8-1.1 1.8 .4 2.4-1.1 1.7-1.5 1.7-.9 1.7 .5 1.7-.3 1.7-1.6 1.8-.1 1.7-1.2 1.7-.3 1.7-.6 1.7-.5 1.7-.6 1.7 .5 1.7-1.6 1.7 0 1.7-.9 1.8 .2 1.7-1.6 1.7-.5 1.7-.5 1.7-1.9 1.7 .2 1.7-.3 1.7-.7 1.7-.6 1.7-.1 1.8-.8 2.4-.7 1.8 .1 1.8 .1 1.8-.2 1.8-.1 1.8-1.2 1.8 .4 1.9 .4 1.9 .6 1.8-.2 1.9-.5 1.9 .7 1.8-.6 1.8-.1 1.8 .9 1.8 1.2 1.8-.4 1.8 .9 1.8-.1 1.9-1.1 1.8-.3 1.8-1 1.8 .3 1.8 .5 .3-.3" fill="none" stroke="#4a3964" stroke-width="1.9" stroke-linejoin="round" stroke-dasharray="4 3"/><path d="M182.8 1240.9l2.2-.8 1.8-1.1 1.8 .2 1.8-.3 2.2 .1 1.7 1.3 1.6 .7 1.6 1.8 1.6-.2 2.3 0 1.9-1 1.9 1.4 1.8-1.5 1.9-.8 2.1 1.2 1.5-.5 1.4-2.3 1.5-.4 1.5-.3 1.6-.6 1.7-.7 1.9 .5 1.9 .9 1.9-.3 1.9-1.2 1.8 .3 1.9 .7 1.9 1.2 1.8-1 1.8-.7 1.9-.3 1.8 1.9 1.8 .6 1.8 1.1 1.7-1 2.4 1.6 1.8-1.3 1.8-.3 1.8-1.3 1.8-.2 1.8-.4 1.9-1.5 1.8 .5 1.9 .9 1.8-1 1.9-1.2 1.8-.3 1.7 .8 1.8-1.6 1.8-1.8 1-.2 .9-.9 1-1.6 1-2.1 .9-2.4 .9-1.1 .7-2.6 .6-1.6 .5-1.1 .5-1.7 .5-2.3 .5-1.6 .6-2.1 .5-2.1 .5-1.6 .5-2.6 .5-1.1 .6-1.1 .5-1.3 .5-2 .5-2 .4-2 .5-2.2 .5-2.3 .4-.6 .5-2.4 .5-1.2 .5-2.5 .4-1.3 .5-2.4 .5-1.1 .6-1.7 .9 2.6 .5 2.4 .4 .9 .5 1.1 .4 2.5 .5 1.3 .4 2.8 .5 2.1 .4 1.3 .5 1.9 .4 1.8 .5 .7 .4 2.2 .5 1.8 .4 2.3 .5 1.7 .5 1.3 .6 1.8 .5 2.1 .6 1 .5 1.4 .6 1.2 .6 1.6 .5 2 .6 1.4 .6 1.8 .5 1.3 .6 2.8 .6 2.1 .5 1.1 .6 2.7 .6 .8 2-1.2 .8-1.4 .9-1.1 .8-1.8 .9-2.4 .9-1.5 .8-2.4 .6-.8 .4-1.6 .4-1.6 .4-1 .4-2.1 .4-2.6 .4-1.7 .4-1.1 .4-1.6 .4-2.5 .4-2.3 .4-2 .4-1.4 .4-2.3 .4-.9 .4-2.1 .7-2 .9-1.2 .8-1.3 .9-.9 .9-2 .9-1 .9-1.3 1.5-1.1 1.4 1.5 1.1 2.2 1.1 .4 1.1 .6 1.1 1.8 1.1 1.7 1.1 2 1.1 .9 1.2 .5 1.1 1 1.1 1.6 1.2 1.2 1.1 1.9 1.3 1.5 1.9 1.9 1.4 1 1.5 1.4 1.4 .2 2 2.1 1.6 .6 1.9-.1 1.8-.1 1.8 .9 1.8 .7 1.8 .9 1.9 .9 1.8 .1 1.8-.3 1.8 .2 2 1 1.3 .8 1.3 1.5 1.3 2.2 1.3 .5 1.3 2.2 1.2 1 1.1 1.8 1 .8 1 2.3 1 1.9 1 1.6 1.1 2.1 1 .9 1 .1 1 1.2 1 1.8 1 1.3 1 1.8 1 1.1 1.1 2.1 1 1.9 1 1.6 1 1 1 1.9 .9 1.3 .9 1.1 .9 2.8 1 .8 .9 2.7 .9 1.7 .9 2.2 .9 1.5 .9 0 1 1.4 .9 1.9 1.1 1.2 1 1.1 1 1.2 1 1.9 1 1.7 1 1.8 1 1.1 1.8 1.6 1.7 .9 1.8 1.3 1.8 1.4 1.9-.9 2.3-.7 1.7 .2 1.7-.1 1.7-1.2 1.8 .3 1.7-.3 1.6-.9 1.6-.7 1.6-1.8 1.5-1.3 1.6-1 1.5-.4 1.6 .2 2.1-.9 2.4 .3 1.8 0 1.8 .1 1.8-.7 1.8-1.2 2.4-1.2 1.8 1.1 1.7 .6 1.8-.2 1.8 1.5 1.8-1.1 1.8 .1 1.8-.3 2.3 1.5 1.7 0 1.7 1.5 1.7 1.5 1.7 .8 1.7-.3 1.7 .2 1.8 .3 1.7 1 1.8-.5 1.8-.3 1.8 .3 1.8 .6 1.8 1.3 1.9-1.2 1.8 .3 1.8-.3 1.8-.5 1.5-.2" fill="none" stroke="#8c5872" stroke-width="1.9" stroke-linejoin="round"/><path d="M182.8 1243.1l2.1-1.5 1.7-.3 1.8 .3 1.8-.2 2.2 0 1.7 1.2 1.6 1.2 1.6 .6 1.7-1.1 1.7 .2 1.9-.1 1.9 1 1.9 0 1.9 .7 2.2 .5 1.5-.6 1.5-2.6 1.4-1.1 1.5 .2 1.5-2 2.1-1.4 2.4-1.1 1.8 .4 1.8-.7 1.8 .4 1.8-.7 1.8 .8 1.9 .1 1.8 .4 1.8-1.2 1.8 1.3 1.8-.3 1.8 2.1 1.8 .4 1.8-.8 1.8 0 1.8-1.5 1.8-.3 1.8 .5 1.8 0 1.8-.5 1.8 .1 1.8-.7 1.8-1 1.7-.8 1.8-1.4 1.8-.1 1.7-1.6 1.8-1.3 1.7-.5 1.7 .1 1-.9 1-1 1-1.4 1-1.8 1-.8 .9-2.8 .7-1.3 .6-1.1 .5-1.6 .6-1.5 .5-3.2 .6-1.6 .6-2 .5-1.2 .6-1.5 .5-1.9 .6-1.5 .5-1.7 .5-1.5 .5-2.1 .4-.7 .5-2.8 .4-1.2 .5-2.5 .4-1.2 .5-1.5 .4-1.8 .5-1.6 .4-1.5 .4-1.3 1.5 1.9 .4 1.2 .5 2.1 .5 1.3 .5 2.6 .5 .7 .4 1.7 .5 1.2 .5 2.1 .5 1.8 .4 1.8 .5 2.5 .5 1.2 .5 2 .5 1.5 .5 2.1 .6 1.7 .6 1.8 .5 1.8 .6 1.6 .6 1.1 .5 1.5 .6 1.4 .6 1.7 .5 1.5 .6 2.6 .6 1.2 .5 2.7 .6 1 .6 1.4 .8 1.4 1.5-.9 .8-1.5 .8-1.1 .8-1.1 .9-1.4 .8-3 .8-2.4 .6-1.7 .5-1.9 .5-1.8 .5-1.8 .4-1.7 .5-2 .5-2.2 .5-.7 .5-1.8 .5-1.8 .4-2.6 .5-2 .5-1.2 .5-1.8 .9-1.9 .7-.5 .8-.8 .8-3 .8-2.2 .8-2.4 .8-.4 .7-2 2.1 1.4 .9 1 .9 1.4 1 1 .9 2.4 .9 .9 1.5 1.6 1.9 3 1.4 1.5 1.4 1.9 1.5 1 1.8 1.6 1.2 2.2 .5 .5 .6 .6 .6 2.9 .5 1.4 .6 2.4 .6 .9 .6 1.7 .5 1.8 .6 1.2 .6 1.9 1.9-1.3 .8-2.3 .8-.6 .9-1.8 .8-.7 .8-2.4 1.2-.8 1.9 .8 1.3 1.3 1.3 1.1 1.3-.1 1.3 .9 1.3 2.4 1.2 .9 1.2 2.4 1.2 .8 1.1 2.2 1.1 1.8 1.2 .6 1.1 1.2 1.1 1.1 1.1 1.9 1 2 .9 1.5 .9 2.4 1 .6 .9 1.4 .9 2.4 .9 1.3 .7 1 .6 1.6 .7 2.7 .6 2 .7 1.3 .6 1.9 .6 .4 .7 2.2 .6 1.3 .7 2 .6 1.5 .6 1.9 .5 2 .6 1.6 .6 1.6 .5 .8 .6 1.2 .6 1.1 .5 2.1 .6 1.5 .6 1.1 .6 2.3 .6 1.7 .7 1.6 .7 1.9 .8 2.7 .7 2.3 .7 1.4 .8 1.3 .7 1 .7 2.3 .9 2 1.2 2 1.3 1.5 1.3 1.1 1.3 1.8 1.3 .6 1.3 .9 1.9 1.7 2.2-1 1.8-1.9 1.7 .4 1.7-.6 1.5-1.4 1.5-1.2 1.4-.2 1.5-1 1.4-.7 1.4-1.2 1.4-2.1 1.5-.4 1.4-2 1.4-.4 1.4-1.6 1.5-1.5 1.4-.6 1.4-2 1.4-1.4 1.5-2 2.1-.3 2.2 0 1.7-1 1.8-.6 1.7-1 1.7-.4 1.7 .7 1.7-1.2 1.9-.1 1.8-.2 1.9-.3 1.9 .5 1.8-.2 1.9 1 1.8-.1 1.9-.7 1.8-.5 1.7 .2 1.8 .3 1.8 0 1.8 1.1 1.8 .6 1.8 .7 1.7-.9 1.8 .4 1.8 .8 1.8 .2 1.8-.4 1.8 .7 1.8 0 1.8 .3 1.8 1.3 1.8 .4 1.8 1.2 1.8-.3 .3 0" fill="none" stroke="#8c5872" stroke-width="1.9" stroke-linejoin="round" stroke-dasharray="4 3"/><path d="M182.8 1244.3l2.1-1.1 1.7 .2 1.7-.4 2.3-2.4 2.2 1.2 1.6-.4 1.5 .2 1.6 2.2 1.5 1 2.2 1.9 2.4-.3 1.8-.6 1.8-1.1 2.4-.3 2-2.8 1.5-.8 1.4-2.1 1.5-2.8 1.5-1.5 1.6 .9 1.7 0 1.8-.9 1.8 .1 1.8 .3 1.8 .8 1.8-1.2 2.4-.4 1.7 .9 1.8 1.3 1.7-.9 1.8-1.1 1.7 .8 1.9 2 1.8 .8 1.9-.7 1.9 .3 1.8-1 1.8 1.1 1.8-1.2 1.8-.6 1.7-.7 1.8 .6 1.8-1.7 1.8 1 1.8-.7 1.8-2 1.8-.5 1.8-1.1 1.9-.4 1.9 .1 1.3-1.5 .8-2.3 .9-1.8 .8-.4 .8-2.1 .9-2 .8-.9 .6-1.6 .5-.9 .6-2.6 .5-1.5 .5-1.5 .5-1.9 .5-1.7 .5-1.9 .6-2.5 .5-1.9 .5-1 .5-2.5 .5-1.5 .5-2.2 .4-.7 .4-1.7 .5-2.5 .4-.9 .4-1 .4-2.4 .4-1 .5-2.4 .4-1 .4-1.4 .4-1.3 .4-2.5 1.4 1.3 .5 1.9 .4 2.1 .5 2.2 .4 2.2 .4 .5 .5 1.9 .4 1.9 .4 1.1 .5 1.5 .4 1.9 .4 1.1 .5 1.6 .4 3 .4 1.6 .5 1.2 .5 2.8 .5 1.2 .5 1.5 .5 1.3 .5 2.1 .5 1.7 .6 3 .5 1.5 .5 2.2 .5 1.4 .5 1.5 .6 .9 .5 2.9 .5 1.7 .5 2 .5 2.1 .6 1.4 1.8-.5 .8-.9 .9-2.6 .8-2.2 .9-.9 .8-1.7 .9-1.2 .6-2.2 .5-2.1 .4-1.1 .4-1.7 .4-2.7 .4-2 .4-1.8 .4-1.2 .4-2.7 .5-1.8 .4-2.4 .4-1.4 .4-.4 .4-2.2 .4-.9 .4-1.2 .4-1.6 .6-1.9 .6-2.5 .7-2.5 .6-.6 .7-1.1 .7-1.5 .6-1 .7-2.2 .6-1.9 .7-2.7 2.1 .8 1 1.9 1.1 .7 1.1 1.2 1.1 .9 1.1 1.2 1 1.7 1 2.4 1 2.2 1 .8 1 2 1 1.3 1.1 1.8 1 .3 1.1 1.6 1.2 .5 1.3 .9 1.3 1 1.3 1.6 1.3 .9 1.3 .8 2 2.3 2.4 0 1.8 1.1 1.8-.6 1.8 0 1.8 .9 1.7 1 1.7 .3 1.7 1.4 1.7 1.1 1.5 .4 1.4 1.5 1.2 1.9 1.3 .3 1.3 .4 1.2 2.6 1 1.2 1 2 .9 .7 .9 1.5 1 2 .9 2.1 .9 1.6 1 2.1 .9 1.2 .9 1.2 1 1.6 .9 2.6 .9 .6 1 1.1 .9 1.8 .9 2.8 .9 1.8 1 1.2 .9 1.4 .9 .6 1 1.3 .9 2.6 .9 2.2 1 1.2 .9 .2 .9 2.8 1 1.7 .9 .4 1 1.2 1 1.4 1.1 2 1 2 1.1 .8 1.1 .9 1.5 2.8 1.5 1.1 1.6 .8 1.8 .6 1.7 1.6 1.7 1.1 2.3 0 1.9-.7 1.8-1.1 1.8 .7 1.8 .6 1.8-1.7 1.7-.4 1.7 .3 1.7-.5 1.7-.9 1.7-1.4 1.8-1.1 1.7 0 1.8-1.3 1.8-1.1 1.8 .6 1.8-1 1.8-1 1.8 .1 1.8-.6 1.8 .6 1.8-.8 1.8-.9 1.7-.6 1.8 .8 1.8-.1 1.8-.9 1.8-.4 1.8 0 1.8 .2 1.7-.1 1.8-1 1.8 .2 1.8-1 1.8-1.1 1.8-.3 1.7 1.3 1.8 .4 1.8-.2 1.8-.7 2.4 0 2.4 .7 1.7 .4 1.8 .3 1.8-.6 1.8 1.1 1.8 .8 1.5-.4" fill="none" stroke="#d09c9e" stroke-width="1.9" stroke-linejoin="round"/><path d="M182.8 1243.3l2.1-1 1.8 .2 1.7-.8 1.8-1.5 2.3 .2 1.7 .4 1.7 .4 1.7 .8 1.7 1.9 1.8 1.1 1.8 0 1.9-.6 1.9-1.4 1.8 1.4 2.2-.1 1.5-1.3 1.5-1.2 1.5-2.7 1.4-1.4 1.6 .1 1.6 .3 1.8 .3 1.8-.5 1.7-1.3 1.8 .5 1.8-.6 2.3-1.9 1.8 .1 1.7 .1 1.8 0 1.7-.6 1.7 2.2 1.8 .7 1.8 1.7 1.8 2.1 1.7-.7 2.4 1.1 1.8-1.1 1.8 .9 1.8-.7 1.8-1.6 1.7-1.6 1.8 .3 1.8 .5 1.8 .8 1.8-.5 1.8-.1 1.8-.3 1.8-.9 2.1-2 1.5-1.5 .9-2.8 .9-2.1 .9-.6 .9-1 .9-2.2 .9-1.4 .7-2.1 .6-2.1 .5-1.4 .5-1.7 .4-2.6 .5-1.1 .5-1.5 .5-2 .5-1.3 .5-2.3 .5-2.6 .4-.7 .5-1.1 .5-1.7 .5-1.5 .4-2.3 .5-1.6 .4-2.5 .5-2.6 .4-1.5 .5-1.9 .5-.6 .4-1.5 .5-1.7 .4-1.3 .5-2.4 1.5 .2 .4 1.9 .5 2.8 .5 .7 .4 2.5 .5 1.9 .4 .9 .5 2 .4 2.2 .5 2.1 .4 .9 .5 1 .4 3 .5 .9 .5 1.6 .4 2.6 .5 1.1 .6 1.7 .5 2 .5 1.9 .5 2.4 .6 .8 .5 2 .5 2.3 .6 1.1 .5 2.3 .5 1.1 .5 2.9 .6 1.8 .5 2.3 .5 1.7 .5 1.9 1.9-.9 .8-2.2 .9-1.6 .9-2.1 .8-2.3 .9-1.8 .8-.8 .7-1.7 .5-.6 .4-2.6 .4-.5 .4-1.1 .5-2.8 .4-1.5 .4-2.2 .4-2.3 .5-2.3 .4-1.1 .4-2.8 .4-2.1 .5-2.1 .4-1.8 .4-.5 .5-2.4 .6-1.4 .7-1.2 .7-2.4 .7-.8 .6-.9 .7-3.1 .7-2.6 .7-1.2 .6-.2 2 0 .9 1.9 .9 1.4 1 1.2 .9 1.5 .9 2.4 1 .8 1.1 1.4 1.1 1 1.2 1.7 1.1 1.9 1.2 2.1 1.1 1 1.1 .3 1 2.4 .8 1.4 .7 2.1 .6 2.2 .7 1.6 .6 .7 .6 1.6 .7 1.8 .6 1.3 .7 2.5 .8 1.6 1-1.6 .4-1.2 .4-2.9 .5-1.8 .4-1.9 .5-2.5 .4-1.9 .5-1.5 .6-1.4 1.9 .7 1.1 2.6 1.1 1.4 1 .7 1.1 2 1 1.4 .8 2.5 .8 1.2 .9 2 .8 2 .8 1.9 .8 .3 .9 1.1 .8 1.7 1.1 .9 1 2.4 1.1 1 1.1 .9 1.1 2.2 1.1 1.9 1 1.3 1.1 2 1.1 1.4 1.1 .6 1.1 1.4 1 2.1 1 .7 .8 2.7 .9 2.5 .8 1.5 .8 .6 .8 2.5 .9 .5 .8 1.7 .7 2 .6 1.5 .5 2.3 .6 1.7 .5 1.1 .5 2.2 .5 1.8 .6 2.1 .5 .5 .5 1.4 .6 1.5 .5 2.9 .5 1.1 .5 2.7 .6 2.6 .5 2.1 .5 .2 .5 2.7 .6 1.7 .5 .8 .5 2.3 .5 2.1 .6 1.9 .5 1.5 .5 1.2 .5 1.9 .7 1.4 .7 2.2 .8 1.8 .9 1 .8 .9 .8 2.6 .8 2.3 .9 2.1 .8 .4 .8 1.9 .9 1.4 1.5 2 1.6 .9 1.7 .9 1.7 1.1 1.7 1.8 2.3 .2 2.3-.3 1.7-1 1.7-.5 1.7 0 1.7-1.5 1.6-.5 1.5-.5 1.5-1.7 1.4-1.4 1.4-.9 1.4-.8 1.5-1.1 1.4-.6 1.4-2.2 1.3-1.3 1.3-1.8 1.3-.3 1.3-2.1 1.3-1.7 1.3-.8 1.3-.5 1.4-1.5 1.3-.9 1.3-1.2 1.3-1.9 1.3-2.1 1.3-1.6 1.3-1.6 1.4-1.5 1.3-1.7 1.4-.9 1.5-1.3 1.4-.2 1.4-.4 1.4-1.4 1.5-.6 1.4-.9 1.5-.6 1.6-1.7 1.7-1.4 1.6-1.9 1.7-.3 1.6-.5 1.6-.2 1.7-.9 1.7 0 1.7 0 1.9-1.4 1.8-1.1 1.8-.6 1.8-.2 1.9-.4 1.8 .3 1.8-.3 1.8 .8 .9 .4" fill="none" stroke="#d09c9e" stroke-width="1.9" stroke-linejoin="round" stroke-dasharray="4 3"/><g><line x1="720.6" y1="1131.1" x2="720.6" y2="1352.7" stroke="#161616" stroke-width="2.5"/><path d="M717.4,1151.3h3.2 M717.4,1169.5h3.2 M717.4,1187.8h3.2 M717.4,1206.0h3.2 M717.4,1224.3h3.2 M717.4,1242.5h3.2 M717.4,1260.7h3.2 M717.4,1279.0h3.2 M717.4,1297.2h3.2 M717.4,1315.5h3.2 M717.4,1333.7h3.2" stroke="#161616" stroke-width="1.6"/><line x1="653.4" y1="1242.5" x2="985.7" y2="1242.5" stroke="#161616" stroke-width="2.7"/><path d="M654.9,1242.5v3 M786.3,1242.5v3 M851.9,1242.5v3 M917.6,1242.5v3 M983.2,1242.5v3" stroke="#161616" stroke-width="1.6"/><text transform="translate(654.9,1264.3) scale(1.05,0.88)" text-anchor="middle" font-family="'Liberation Serif', 'Times New Roman', serif" font-weight="bold" font-size="16.5" fill="#222">-200</text><text transform="translate(786.3,1264.3) scale(1.05,0.88)" text-anchor="middle" font-family="'Liberation Serif', 'Times New Roman', serif" font-weight="bold" font-size="16.5" fill="#222">200</text><text transform="translate(851.9,1264.3) scale(1.05,0.88)" text-anchor="middle" font-family="'Liberation Serif', 'Times New Roman', serif" font-weight="bold" font-size="16.5" fill="#222">400</text><text transform="translate(917.6,1264.3) scale(1.05,0.88)" text-anchor="middle" font-family="'Liberation Serif', 'Times New Roman', serif" font-weight="bold" font-size="16.5" fill="#222">600</text><text transform="translate(983.2,1264.3) scale(1.05,0.88)" text-anchor="middle" font-family="'Liberation Serif', 'Times New Roman', serif" font-weight="bold" font-size="16.5" fill="#222">800</text><text transform="translate(715.1,1155.5) scale(1.05,0.88)" text-anchor="end" font-family="'Liberation Serif', 'Times New Roman', serif" font-weight="bold" font-size="16" fill="#222">-5</text><text transform="translate(715.1,1337.9) scale(1.05,0.88)" text-anchor="end" font-family="'Liberation Serif', 'Times New Roman', serif" font-weight="bold" font-size="16" fill="#222">5</text><text transform="translate(819.6,1349.7) scale(1,0.86)" text-anchor="middle" font-family="'Liberation Serif', 'Times New Roman', serif" font-weight="bold" font-size="18.6" fill="#1e1e1e">Latency (ms)</text><text transform="translate(629.6,1242.5) rotate(-90) scale(1,0.86)" x="0" y="0" text-anchor="middle" font-family="'Liberation Serif', 'Times New Roman', serif" font-weight="bold" font-size="18.6" fill="#1e1e1e">Amplitude (μV)</text><text x="694.8" y="1135.0" text-anchor="end" font-family="'Liberation Serif', 'Times New Roman', serif" font-size="30" fill="#111">Cz</text></g><path d="M655.9 1243.4l2.2 1.4 1.9 .7 1.9-.2 1.8-1.1 1.7-.8 1.8-.3 1.7-.6 1.8 .8 1.7-1.1 1.8 .3 1.8 .2 1.7 0 1.8-2 1.8 .1 1.8-1.4 1.8 1.1 2.3 .5 1.8 .6 1.8 1.4 1.8-.8 1.8 .3 1.8 1.8 1.8 .9 1.8-1.1 1.9-1 1.8 .6 1.8-1 1.9 1.2 1.8 .2 1.8-1 1.8-1 1.8-.5 1.8-.8 1.8-1 1.8 .5 2.4-1.5 1.8 .7 1.7-1.5 1.8-2 1.8-.9 1.8 .6 1.8-1.1 1.9-.9 1.8 1 1.8 1.4 2.1-.2 1.2-1.5 .6-1.9 .6-.9 .6-1.3 .6-1.5 .6-3.5 .6-2 .6-2.4 .6-1.5 .6-1.5 .5-2.4 .5-.8 .4-2.3 .4-.8 .4-1.9 .4-1.9 .4-1.6 .4-1.8 .4-1.6 .4-1 .4-2.8 .4-1.9 .4-2.5 .4-2.5 .4-2 .4-2.3 .4-.4 .4-1.8 .4-1.1 .4-1.6 .5-2.5 .8 .9 .4 2.7 .4 1.4 .4 1.1 .4 2.7 .4 1.6 .3 2.4 .4 1.5 .4 1.3 .4 2.8 .4 1.7 .4 2.3 .4 1.3 .4 1.2 .4 2 .4 1.2 .4 2.1 .4 1.4 .4 2.3 .4 2.4 .3 1.5 .4 2 .4 1.8 .4 2.5 .4 .7 .4 2.9 .3 1.5 .4 1.7 .4 1.4 .4 1.8 .4 .6 .3 1.9 .4 3 .4 1.3 .4 2.7 .4 1.9 .4 2.2 .3 2.2 1.9-2.4 .7-1.9 .6-1.3 .7-2.8 .7-.6 .6-1.2 .7-1.6 .5-2.7 .4-1 .4-2.8 .4-1 .4-1.1 .4-2.4 .4-2.7 .4-1.3 .4-1.7 .4-1.7 .5-1.3 .4-2.2 .4-1.8 .4-1.9 .4-2.3 .4-1.2 .4-2 .5-1.2 .5-1.6 .6-2 .5-2.6 .6-2 .6-1.2 .5-1.2 .6-2 .6-1.7 .5-1.3 .6-2.1 .5-1.1 .5-1.8 .4-2.7 .4-2.4 .4-.8 .4-1.6 .7-1.4 2.1 .5 1.6 1 1.6 1.8 1.4 1.6 1.4 1.4 .9 1.9 1 .2 .9 1.4 .9 1.9 1 .3 .9 2 .9 2.1 1 .7 .9 1.2 .9 1.4 1 2.7 .9 .9 1.5 1.4 1.4 1.9 1.7 0 1.8 1.1 1.7 1.6 1.7 0 1.7 .3 1.7 1.2 1.7 .9 2.1 .1 1.6 1.8 1.1 .9 1.1 1.8 1.1 1.4 1.1 .9 1 2.8 .9 1.6 .8 .4 .8 2.2 .8 1.9 .8 2.4 .9 1.2 .8 1 .8 1.8 .9 1.4 .9 2.1 1 1.5 .9 1.4 .9 1.5 1 .6 .9 1.4 .9 1.2 1 1.9 .9 1.4 .9 3.3 1 1.9 .9 1 .9 2.8 1.1 .8 1.2 .5 1.3 2.1 1.3 .6 1.3 2.5 1.3 .6 1.3 1.3 1.3 1.4 1.3 .5 1.3 1 1.3 1.5 1.3 .7 1.3 1.5 1.3 1.9 1.3 2 1.4 1.5 1.5 .5 1.4 1.8 1.5 1.6 1.4 0 2 1.2 2.3 0 1.8 .2 1.8 1.6 1.8 0 1.8-.4 1.8 .8 1.8 .8 1.9-1.9 1.8-.6 1.8-.6 1.8-.7 1.8 .5 1.8 1 1.8-.4 1.8-.7 1.8-.3 1.8-.9 1.8 .2 1.8-.5 1.8-.5 1.8 .1 1.8-1.6 1.7-.8 1.8-.5 1.8 .5 1.9 .5 1.8 0 1.9-.2 1.9 .2 1.8 .6 1.9-.2 1.9 .4 1.8 .9 1.8 .4 1.7 .4 1.8-.4 1.8 0 1.7 0 1.8 1.7 1.8 1.4 1.7-.4 1.7 1.2 1.7-.4 1.6 .7 1.7 1.6 1.6 1.2 1.7 .4 1.6 1.3 1.7-.5 1.7 .7 1.8 .5 1.8 .5 1.8 1.3 1.9 1 .9-.6" fill="none" stroke="#4a3964" stroke-width="1.9" stroke-linejoin="round"/><path d="M655.8 1241.9l2.1 .4 1.8 2.1 1.8 1.6 2.4 .1 2.2-.1 1.6 .3 1.7-.5 1.6-.7 2.3-.8 1.7-1.2 1.8-.5 1.8-1.1 1.8-.7 1.7-.2 1.8-.2 2.4-1.2 1.8 0 1.8 .9 1.8-.3 1.9-.1 1.8-1.3 1.8 1.1 2.4-.3 1.7-.6 1.8-.4 1.8 .6 1.7-.5 2.4-.5 1.8-1.1 1.9-.6 1.8-.1 1.8 1.1 1.9 .6 1.8-1.1 2.3-1.5 1.8-.2 1.7-.1 1.8-1.4 1.7-.1 1.8 1.2 1.8 1.2 1.8 1.1 1.8 0 1.9 .2 2-1.1 1.1-1.5 .6-1.6 .5-2.4 .6-2.2 .5-1.8 .5-2.2 .6-1.9 .5-1 .6-2.2 .5-2.4 .6-1.7 .5-.5 .4-1.1 .4-1.9 .4-2 .4-1.3 .4-2.1 .4-1.9 .4-2.6 .4-1 .4-2.6 .4-.5 .4-1.7 .4-1.5 .4-2.5 .4-2.2 .3-1.2 .4-1 .4-2.1 .4-1.1 .4-1.9 .4-3 1.2 2.1 .4 1.5 .3 2.2 .4 1.9 .4 .6 .4 2.6 .4 2 .3 2 .4 1.4 .4 1.4 .4 1.4 .4 1.2 .3 2.2 .4 .7 .4 2.1 .4 3 .4 1.9 .4 1.1 .3 1.6 .4 2.6 .4 1.3 .4 2.3 .4 1.2 .4 2.2 .4 1.7 .3 1 .4 2.7 .4 1.5 .4 1.8 .4 1.6 .4 3 .4 1.2 .4 2.6 .3 .5 .4 1.5 .4 1.8 .4 2.1 .4 2.5 .4 .7 .5 2.7 1.2-2.4 .6-.9 .6-2.2 .7-1.2 .6-1.6 .6-2.5 .7-.7 .5-2.1 .5-1.2 .4-2.1 .3-2.6 .4-1.7 .4-.9 .4-1.3 .4-3.2 .3-2.2 .4-.6 .4-1.1 .4-1.6 .4-2.3 .3-1.8 .4-2.2 .4-2.1 .4-2.5 .4-1.4 .4-2.5 .5-2.1 .6-2.2 .6-1.7 .7-1.6 .6-1.4 .6-.3 .7-.9 .6-1.8 .6-1.3 .6-2.4 .6-.8 .5-1.7 .3-2.1 .4-1.7 .3-1.2 .4-3.1 1-.9 1.5 1 1.3 2.1 1.3 .8 1.3 1.1 1.1 1.7 1.1 1.5 1 2 1 1.6 1 1.1 1.1 1 1 1.9 1 0 1 1.6 1.1 1.9 1.3 .9 1.3 .2 1.3 1 1.3 2.7 1.3 2 1.3 1 2.1 .7 1.8-.3 1.9-.8 1.8 .4 2.2 .6 1.7 1.2 1.2 .6 1.1 1.6 1.2 2.5 1.1 .8 1.1 1.3 1.2 .6 .9 2.5 .8 1.2 .7 1.5 .8 2.1 .7 1.8 .7 1.3 .8 1.5 .7 2.5 .7 2.5 .7 1.8 .7 1.1 .7 2.3 .6 1.7 .6 2.1 .7 2.3 .6 1.7 .7 .8 .6 .9 .6 2.3 .7 1.7 .7 2.2 .7 .9 .7 1.8 .8 1.2 .7 1.6 .7 2.4 .8 2.3 .7 .3 .7 2.1 .8 2.2 .8 .5 .8 1.2 .8 2.6 .8 2 .9 1.4 .8 1.9 .8 1.2 .9 3 1 .9 1.1 1.6 1.1 1.1 1.2 1 1.1 1.7 1.2 2.2 1.1 .9 1.7 2.5 2.2 1 1.8 .4 1.8 .4 1.8 .2 1.8-.3 2.3 .3 2.1-1.8 1.6-.8 1.5-1.6 1.6 .2 1.5-1.6 1.6-.1 1.5-1.5 1.4-.2 1.5-.7 1.4-2.1 1.5-.5 1.4-1.2 2-1.5 1.7-1.7 1.7-.1 1.7-1.1 1.7-1.2 1.8 .5 1.7 .3 1.8-.9 1.8-.2 1.9-.5 1.9-.2 1.8 .5 1.9-.2 1.9-.6 1.8 .9 1.9-.4 1.8-1.1 1.9-.6 1.8 .2 1.8-.2 1.9 .5 1.8-1.2 1.9 .9 1.8 .2 1.7 .1 1.8 .7 1.8 .8 1.8-.2 1.7 .7 1.8 1 1.8 .1 1.7 .5 1.8 .4 1.8-.5 1.8 .7 1.7 0 1.8 1.2 1.8 1.5 1.8 .3 1.7-.7 1.8 .8 1.8 0 1.8 1.1 1.4-.2" fill="none" stroke="#4a3964" stroke-width="1.9" stroke-linejoin="round" stroke-dasharray="4 3"/><path d="M655.9 1243.0l2.1 1.4 1.8 .3 1.8 1.5 2.4 .3 1.7-.7 1.7-.4 1.8-2.1 1.7-2.4 1.7-1.3 1.8 .3 1.8 0 1.8-1 1.8-.9 1.9 .4 1.8-1.6 1.8 .3 2.4 1.3 1.7-.4 1.8 1 1.7 1.1 1.8 1.2 1.7 .8 2.4 1.1 1.8-.9 1.8-.2 1.7 1.3 1.8-.1 1.8-2.3 1.8-.1 1.9 0 1.9 1.2 1.8-1.1 1.9 .5 1.9-.6 1.8-1.9 1.8 1.1 1.8-1.4 1.8 .6 1.8-.6 1.8-1.3 1.8 .1 1.9-.5 1.9-1.5 1.9 1 1.8-1.8 1.9-1 .9-1.5 .5-2.4 .5-1.2 .5-1.9 .5-3.6 .5-1.8 .5-1.2 .5-3 .5-1.3 .5-1.7 .5-.5 .5-1 .4-1.1 .4-3.2 .3-1.1 .4-1.8 .3-2.7 .4-1.8 .3-.6 .4-1.7 .3-2.1 .3-2.4 .4-1 .3-.8 .4-2.3 .3-1.6 .4-1.9 .3-3.1 .3-1.1 .4-2.5 .3-2.2 .4-1.3 .3-.9 .4-1.4 .3-2.1 .3-1 1 1.1 .3 2.6 .4 1.5 .3 2.1 .3 1.9 .3 .8 .3 1.7 .4 2 .3 1.3 .3 .9 .3 2 .3 1.9 .4 1.4 .3 2.6 .3 1.1 .3 2 .3 1.9 .4 2.5 .3 1.1 .3 2.8 .3 1.8 .3 1.1 .4 2.2 .3 .6 .4 2 .3 3.1 .4 1.1 .3 1.7 .4 1.4 .3 3.2 .4 2.1 .3 1.4 .4 1.8 .3 1.2 .4 2.7 .3 .9 .4 1.9 .3 2.6 .4 1.7 .3 .8 .4 2 .3 1.7 .4 1.3 .3 1.6 .4 1.8 1.5-1.7 .6-1.6 .5-.8 .6-1.2 .5-2.1 .6-2.7 .5-1.2 .6-1.6 .4-1.8 .4-1.4 .4-1.4 .3-1.4 .3-2.6 .4-2.8 .3-2.6 .4-1.5 .3-1.3 .4-1.7 .3-1.9 .4-1.1 .3-2 .3-2.1 .4-1.1 .3-2.4 .4-2 .3-.5 .4-2.3 .3-2.2 .4-.8 .4-2 .5-2.9 .5-.6 .5-1.1 .5-2.8 .5-2.4 .6-1.8 .5-1 .5-2.1 .5-1.6 .5-1.3 .5-.8 .5-2 .6-2.3 .7-1.6 .6-1.4 1.9-.4 1.3 .5 1.3 .7 1.2 1 1.3 1.2 1.1 1.9 .9 1.4 .9 1.8 1 2.2 .9 1.1 .9 2.3 1 1.7 1 1.1 1 .8 1.1 2.4 1.1 .9 1.1 .4 1 2.5 1.8 2.4 1.8-.1 1.8 0 1.8 .9 1.8 1.3 2.4-.6 2.3-1.4 1.7-1.1 2.1 .2 1.8 1.3 1.3 1.8 1.3 1.8 1.3 1.2 1.3 2.1 1.3 1.1 1.2 2.2 1.1 1.6 1.2 .1 1.1 1.8 1.1 1 1.2 2.4 1.1 1.8 1.2 0 1.1 .7 1.1 2.1 1.2 2 1.1 1.4 1.2 1 1.1 .6 1.1 3 1.2 .9 1.1 .5 1.2 1.4 1.1 2 1.1 1.1 1.2 1.5 1.1 2 1.2 1 1.1 .9 1 1.8 1.1 .3 1 1.7 1 1.2 1 2.6 1 .9 1 2.1 1 2.4 1.1 2 1.2 .7 1.3 1.9 1.3 1.5 1.3 1 1.3 .2 1.3 1.8 1.3 1.7 1.5 .1 1.5 1.8 1.6 .7 1.5 .5 1.6 .9 1.5 1.3 1.6 0 1.6 1 1.7 .9 1.7 .3 1.7 1.1 1.7 0 1.7 .4 1.8 1.1 2.3 .8 1.8-.7 1.8-.1 1.8 .7 1.8-.2 2.4-.5 2.3-.9 1.7-.5 1.7-.5 1.7-.5 1.7-.9 1.7 .5 1.8-.3 1.7-.7 1.9-.4 1.8-.2 1.9-.6 1.9 .6 1.8 .6 1.9 .4 1.8 .3 1.7 .8 1.7 .3 1.6-.2 1.6 .5 1.7 1.5 1.6 .3 1.7 1.3 1.6 .4 1.7 1 1.6 1.3 1.6 1 1.7 .8 1.6 .6 1.7 .5 1.6 .4 1.6 1.1 1.7 1.9 1.7 .7 1.7 0 1.7 .9 1.7 1.9 1.7 1.1 .2 .7" fill="none" stroke="#8c5872" stroke-width="1.9" stroke-linejoin="round"/><path d="M655.8 1242.3l2.1 1.8 1.8 1.1 1.7-.3 2.3 .1 2.3-1.1 1.6-.3 1.7-2.6 1.6-.7 1.7-1.4 1.8 .3 1.9 .4 1.8-1.3 1.9 .3 1.8-.7 1.8 .5 1.9-.4 1.8-.3 1.8 .8 1.8 .7 1.8 1.2 1.8 .8 1.9-.7 1.8 .9 1.8-.4 1.8 .1 1.9-1.8 1.8 1.9 1.9 .2 1.8 0 1.8 0 1.8 1.1 1.8 0 1.8-1.3 1.8 1 1.9 .1 1.8-2.4 1.8-.4 1.8-.3 1.8-1.6 1.8-1.1 1.8-.3 1.8 .8 1.9 1.2 1.8-1.2 1.9-1 2 .4 1.1-3.4 .6 .1 .5-1.8 .5-.6 .6-2.3 .5-3.6 .5-2.4 .5-.9 .6-1.4 .5-2.2 .5-2.1 .6-1.7 .4-2.8 .4-1.9 .4-1.5 .4-1.4 .3-2.8 .4-2 .4-1.1 .3-.7 .4-1.1 .4-2.1 .4-1.8 .3-1.7 .4-3.2 .4-2.7 .3-1.1 .4-2.3 .4-.9 .4-1.6 .3-2.4 .4-.7 .4-1.3 .5-1.7 .7 1.5 .3 2.3 .4 1 .3 .7 .4 2.3 .3 2.4 .4 2.2 .3 1.6 .3 .3 .4 1.6 .3 2.2 .4 .8 .3 2.1 .4 2.9 .3 1.4 .4 2.4 .3 1.4 .4 1.8 .3 2 .3 1.8 .4 1 .3 2.6 .4 2.2 .4 1.3 .3 1.1 .4 1.1 .3 3.2 .4 .9 .4 3.1 .3 1.9 .4 1 .3 1.6 .4 1.9 .4 1.4 .3 2.5 .4 1 .3 2.3 .4 1.7 .3 2.5 .4 1.3 .4 1.7 .3 2.2 .4 1.6 1.5-2.1 .6-1.6 .5-1.5 .5-1.8 .6-.7 .5-2 .5-2.3 .6-1.5 .5-2.3 .4-1.1 .3-1.8 .4-2.6 .4-1.4 .3-1.8 .4-2.2 .3-1.9 .4-2.2 .4-.8 .3-2.6 .4-1.9 .4-1.2 .3-1 .4-1.6 .3-1.8 .4-2.1 .4-1.1 .3-1.5 .4-2.6 .5-2.3 .6-1.8 .5-1.7 .6-.9 .6-2.5 .5-1.6 .6-2.7 .5-1.9 .6-1.3 .5-1.5 .6-2.3 .5-.3 .6-1.5 .5-1.6 .5-2.7 .6-1.4 1.6-.6 2.1 2 1.5 .3 1.5 1.5 1.2 1.3 1 1.1 .9 .7 .9 2.1 .9 2.2 .9 1.7 .9 .4 .9 1.9 1 .6 .9 2.1 1.2 2.3 1.2 1.8 1.3 1.4 1.3 .4 1.3 1.4 1.4 1.2 1.3 1.8 2.2 1 1.8 .5 1.9 .6 1.8 .7 1.7-.4 1.8 1.5 1.3 .6 1.3 1.4 1.3 1.2 1.1 1.8 1.1 .7 .9 2 .9 2.6 .9 .5 .9 1.2 .9 2.6 .9 1.3 .9 2.4 1 1.7 .8 1.4 .8 2.2 .7 2.2 .8 .7 .7 2.5 .7 1.6 .8 2.2 .7 2 .7 1.6 .8 .5 .7 1.7 .7 .7 .8 2.6 .7 1.2 .7 2.4 .8 .6 .7 2.5 .7 1.4 .8 1.4 .7 1.6 .6 2.3 .6 1.4 .7 1.5 .6 2.6 .7 1.2 .6 .9 .7 1.8 .6 1.2 .6 2.3 .7 2.5 .9 1.1 1 1.6 1 1.7 1 .5 1 1.3 1 2.8 1 1.6 1.1 .9 1.1 2.3 1.4 1.3 1.7 1.5 1.7 .4 1.7 .3 1.7 .2 2.4 .1 1.8 0 1.8 .4 1.8-1.5 1.8-.1 1.8-.1 1.7-1.4 1.7-.8 1.7-.3 1.7-.1 1.6-1.3 1.3-1.1 1.3-1.9 1.3-2.1 1.3-.3 1.3-1.5 1.4-.5 2-.7 1.8-.5 1.9-.6 1.8-1.1 1.8-.3 1.8-1 1.8 0 1.8-1 1.8 .1 1.7 .1 1.8-.9 1.8-.2 2.4 .4 2.4-.5 1.8-.2 1.7 1.2 1.8-.1 1.8 0 1.8 0 1.8 1.3 1.8 .6 1.7 .6 1.8-.7 1.8-.1 1.7 1.3 1.8 1.4 1.8 1.1 1.8-.3 1.7-.5 1.7 .5 1.8 .5 1.7 .1 1.7 1.7 1.7 1.1 1.7 .7 1.7 .2 1.7 1.5 1.7 .4 1.7-.1 1.7 .9 1.5 1.7 .3 0" fill="none" stroke="#8c5872" stroke-width="1.9" stroke-linejoin="round" stroke-dasharray="4 3"/><path d="M655.9 1241.7l2.1-.2 1.9-.3 1.8 1.7 1.8-.2 1.8-1.2 1.7 .4 1.7-.2 1.7-2.4 1.8 .5 1.8 1.1 1.8-2.4 1.8 0 1.9 1.7 1.8 1.1 1.8-1 1.9 0 1.8 .4 1.8-.3 1.8-1.2 1.8 0 1.8 .7 1.8-1 1.9-1 1.8 .1 1.9 1.7 1.8-.6 1.9-.6 1.9-1.3 1.8 .9 1.9-.7 1.8-.6 1.8 .7 1.8-.5 1.8 .3 2.4 .4 2.3-.3 1.7-.4 1.7-.2 1.7-.4 1.7-1 2.3 .1 2.3-1 1.9 .4 1.8-.7 2.2 .5 1.2-1.9 .5-.9 .5-2.8 .4-2.2 .5-1.8 .5-1.3 .4-1.3 .5-2.2 .4-2.4 .5-2.5 .5-.9 .4-1.7 .5-1.6 .5-1.3 .4-2.2 .4-2.1 .3-1 .4-1.7 .3-2.1 .4-1.6 .3-.9 .4-2 .3-1.8 .4-3.1 .3-1.1 .4-2.2 .3-1.7 .4-2.6 .3-2.1 .4-1.7 .3-.1 .4-3 .3-.7 .4-1 .3-2.6 .4-2.5 .3-2.2 .5-.8 .6 1.5 .3 1.4 .3 2.8 .3 1.2 .3 2.2 .4 1.1 .3 1.6 .3 2.8 .3 1.8 .3 2.4 .3 1.4 .3 1.3 .3 2 .3 2.3 .3 2 .3 2.3 .3 1.1 .3 1.8 .3 2.5 .3 1.6 .3 2.1 .3 1.7 .4 1.7 .3 .3 .3 1 .4 1.5 .3 2 .3 2.1 .4 2.1 .3 1.4 .4 1.8 .3 1.4 .3 2.9 .4 1.8 .3 1 .4 2.4 .3 1.7 .4 .7 .3 1.8 .3 .8 .4 2.3 .3 2.7 .4 1.9 .3 2.1 .4 2.9 .3 2.2 .3 1.1 1.6-.9 .6-2.8 .5-1.3 .6-1.6 .6-1.9 .5-1.6 .6-.9 .6-1 .5-2.2 .3-1.7 .4-1.6 .3-3 .3-2.5 .3-.5 .3-1.9 .4-2.2 .3-.9 .3-1.9 .3-1.7 .3-2.3 .3-1.3 .4-2.7 .3-1.1 .3-2.5 .3-2.3 .3-1.3 .4-1.6 .3-2.5 .3-2.3 .3-1.9 .4-2.3 .5-1.4 .5-2.2 .4-1 .5-.7 .5-2.4 .4-1.3 .5-1 .5-2.9 .4-1.9 .5-2 .4-2.2 .5-1.8 .5-1.1 .4-2.1 .5-.7 .4-2.5 .4-1.7 .5-1.4 2.1-.4 1.3 1.4 1.3 1.3 1.3 .8 1.1 1.7 1 1.1 .8 2.2 .8 1.1 .8 2.2 .9 2.7 .8 1.3 .8 1.3 .9 2.3 .9 .7 1.1 2.1 1.1 .8 1 1.4 1.1 1.2 1.5 3 1.4 .2 1.6 1.1 1.5 2 1.6 .3 2.2 .4 2.3 0 1.7 .1 2.3-1.1 2.3 1 1.7 .4 2.1 .9 1.7 .6 1.1 2.5 1.2 .3 1.1 2.3 1.1 .6 1.2 2.1 1.1 .2 1.2 2 1.1 1.4 1.1 1.4 1.2 .9 1.1 1.8 1.2 1.8 1.1 .8 1.1 2.3 1.2 1.5 1.1 1.1 1.2 1.9 1.1 .4 1.1 1 1.2 .8 1.1 2 1.1 1.2 1.1 1.6 1.1 1.5 1 1.3 1 1.5 1 2 1 2.5 1 1.3 1 1 1.1 .7 1 2.2 1.2 1.4 1.1 1.8 1.1 1.5 1.2 2.3 1.1 1.6 1.2 1.9 1.1 1 1.2 .9 1.3 2.2 1.3 1.6 1.3 1.7 1.3 .8 1.3 .2 1.3 1.2 1.5 1.2 1.7 .9 1.7 .3 1.7 .7 1.7 .3 1.7 .9 1.8-.1 1.8 1.8 1.8-.4 1.8 1.1 1.8 .6 1.8-.7 1.8 .6 1.8-.6 1.8-.3 1.8-.4 1.8 .8 1.8 .8 1.8-.3 1.8 .2 1.8-1.6 1.8-.6 1.8-.8 1.8-.2 1.8-.1 1.8-.3 1.8-.4 1.7 .5 1.8 .1 1.8-.2 1.8-.3 2.4 .6 2.3 .1 1.7-.7 1.7 .3 1.7 .1 1.7 1.4 1.7 .1 1.7 .9 1.8 .4 1.7 .8 1.7 .7 1.7 1.1 1.7 0 1.7 .2 1.7 1.5 1.7 .6 1.8 .6 1.8 .2 1.8 .2 1.8 1.2 1.8-.1 1.6 .2" fill="none" stroke="#d09c9e" stroke-width="1.9" stroke-linejoin="round"/><path d="M655.8 1243.7l2.2 1.1 1.8 .2 1.8-1.7 2.3 .1 1.8 .1 1.7 0 1.7-2.5 1.7-1 1.7 .2 1.8 1.4 1.7 .1 1.8-1.1 1.8-1.7 1.8 .3 1.8 1.3 1.7-.6 2.4 0 1.8 .7 1.9 .2 1.8 .8 1.8 .1 1.8 .7 2.4 0 1.8-1.8 1.7-1.2 1.8 .4 1.8 .3 1.8 .6 1.7-.9 1.9 .7 1.8-1.9 1.8-.1 1.8-.3 1.8-1.1 1.8-.1 1.9-.5 1.8 .6 1.9 .2 1.9-.5 1.8-.7 1.9-1 1.9-.4 1.9 .5 1.8 .1 1.9-1.2 1.9-.4 .8-1.9 .5-3.5 .5-2.5 .5-.2 .5-2.2 .5-1.7 .4-2.7 .5-1.4 .5-.3 .5-1.4 .5-1.9 .5-2 .5-2.2 .4-1.9 .4-1.1 .3-1.5 .4-1.6 .3-3.1 .4-2 .3-1.3 .4-1.7 .3-2.2 .4-1.3 .3-1.1 .4-2.5 .3-1.1 .4-1.3 .3-3.2 .4-.4 .3-2.4 .4-1.3 .3-2.8 .4-1.4 .3-1.4 .4-2.4 .3-.8 .5-1.4 .6 1.9 .4 1.1 .3 1.5 .3 2.6 .3 1.5 .3 .5 .3 3 .3 1 .4 1.9 .3 1.5 .3 2.3 .3 1.1 .3 1.8 .3 1.5 .4 2.2 .3 2.1 .3 1.3 .3 2.3 .3 1.4 .3 2.8 .3 2.2 .4 .8 .3 2.1 .3 .9 .3 1.7 .3 2.6 .3 2.3 .4 1.6 .3 1.6 .3 2 .3 1.3 .3 1.3 .4 1.9 .3 1.3 .3 1.5 .3 2.5 .3 1.7 .3 1.7 .4 1.8 .3 3.1 .3 .9 .3 2.8 .3 .7 .4 1.6 .3 1.1 .3 2.4 .3 2.8 1.4-1.4 .6-2.5 .5-1.3 .6-1.8 .5-2.3 .6-1.9 .5-.9 .5-2.2 .5-2.8 .3-1.6 .3-1.5 .4-1.3 .3-1.2 .3-1.1 .3-3.5 .3-.5 .3-2.2 .3-1.6 .4-2.5 .3-1.5 .3-1.1 .3-1.9 .3-1.8 .3-2.1 .3-2.3 .4-1.9 .3-1.7 .3-2.4 .3-.9 .3-1.6 .5-1.2 .4-1.6 .5-1.6 .5-2.7 .5-1.4 .5-1.5 .5-2.6 .5-1.6 .5-1.2 .5-2.4 .5-1.5 .5-1.7 .5-2.3 .5-1.8 .4-2.2 .3-1.8 .3-1.9 .2-1.1 .3-.8 .3-1.4 .3-1.8 .5-2.8 1.8 2.3 1.1 .6 1.1 1.1 1 1.3 1.4 1.9 1.1 2.6 .6 1.9 .7 1.9 .6 .8 .7 1.8 .6 1.2 .6 1.1 .7 2 .6 .8 1 3.2 2 .4 1.4-.5 1.5-.9 1.4-1.9 1.5-2 2.1-1.3 1.7 .4 1.9-.7 1.8-.9 1.8-.3 1.7 1.7 1.2 1.7 .8 1.1 .8 2.1 .8 .8 .9 1 .8 2.6 .8 1.1 .8 1.5 .7 1.5 .7 1.8 .8 2.1 .7 1.3 .7 1.7 .8 2 .7 2.7 .7 2 .8 1 .8 1.5 .8 3 .8 1 .9 1.8 .8 1 .8 2.1 .8 1 .9 2.8 1.1 2.3 1.1 1.5 1.2 1.1 1.1 .7 1.2 1.4 1.1 2.3 1.1 .6 1.2 2.1 1.3 .9 1.3 1.1 1.3 .1 1.3 2.5 1.3 1 1.3 2.1 1.2 1.5 .9 .5 .8 1.3 .9 2.1 .8 1.8 .8 2.5 .8 1.6 .8 1.3 .8 2.1 .8 1.5 .6 1.1 .6 2.5 .7 1.5 .6 1.5 .7 2.3 .6 1.9 .6 2.1 .7 1.2 .6 .6 .7 1.3 .6 1.7 .7 3.1 .6 .7 .6 1.8 .7 2.4 .6 2 .7 1.4 .6 1.4 .6 1.3 .7 2.2 .5 .9 .3 1.6 .3 1.4 .3 2.7 .3 2.5 .3 1.6 .3 1.1 .8 .9 1.9-.5 1.7-1 1.7-1 1.7-.9 1.6-.3 1.3-1.4 1.1-.3 1.1-2.2 1.2-1.6 1.1-2 1.2-2 1.1-.4 1.1-1 1.2-1.4 1.1-2.6 1.2-.4 1.1-1.3 1.1-.9 1.2-1.4 1.1-1.9 1.8-2.3 1.6 .1 1.7-.2 1.8-.4 1.7-.9 1.7-1.7 1.7-1.1 1.7-.5 1.8 .4 1.8 .3 1.8-.9 1.8 .4 1.8 .3 1.8-.8 1.7 .1 1.8-1.2 1.8 .1 1.8-1.6 1.8 .5 1.8-.1 1.7-.4 2.4-.2 2.3 .1 1.7 .5 1.7 1 1.8-.6 1.7 1.4 1.7-.1 1.7 1.3 2.3 .1 1.8 .9 1.8-.3 1.7 .3 1.8-.2 1.8 .4 1.8 .6 1.8 0 1.8-.2 .9-.3" fill="none" stroke="#d09c9e" stroke-width="1.9" stroke-linejoin="round" stroke-dasharray="4 3"/><g><line x1="1192.8" y1="1131.1" x2="1192.8" y2="1352.7" stroke="#161616" stroke-width="2.5"/><path d="M1189.6,1151.3h3.2 M1189.6,1169.5h3.2 M1189.6,1187.8h3.2 M1189.6,1206.0h3.2 M1189.6,1224.3h3.2 M1189.6,1242.5h3.2 M1189.6,1260.7h3.2 M1189.6,1279.0h3.2 M1189.6,1297.2h3.2 M1189.6,1315.5h3.2 M1189.6,1333.7h3.2" stroke="#161616" stroke-width="1.6"/><line x1="1126.9" y1="1242.5" x2="1456.5" y2="1242.5" stroke="#161616" stroke-width="2.7"/><path d="M1127.1,1242.5v3 M1258.5,1242.5v3 M1324.1,1242.5v3 M1389.8,1242.5v3 M1455.4,1242.5v3" stroke="#161616" stroke-width="1.6"/><text transform="translate(1127.1,1264.3) scale(1.05,0.88)" text-anchor="middle" font-family="'Liberation Serif', 'Times New Roman', serif" font-weight="bold" font-size="16.5" fill="#222">-200</text><text transform="translate(1258.5,1264.3) scale(1.05,0.88)" text-anchor="middle" font-family="'Liberation Serif', 'Times New Roman', serif" font-weight="bold" font-size="16.5" fill="#222">200</text><text transform="translate(1324.1,1264.3) scale(1.05,0.88)" text-anchor="middle" font-family="'Liberation Serif', 'Times New Roman', serif" font-weight="bold" font-size="16.5" fill="#222">400</text><text transform="translate(1389.8,1264.3) scale(1.05,0.88)" text-anchor="middle" font-family="'Liberation Serif', 'Times New Roman', serif" font-weight="bold" font-size="16.5" fill="#222">600</text><text transform="translate(1455.4,1264.3) scale(1.05,0.88)" text-anchor="middle" font-family="'Liberation Serif', 'Times New Roman', serif" font-weight="bold" font-size="16.5" fill="#222">800</text><text transform="translate(1187.3,1155.5) scale(1.05,0.88)" text-anchor="end" font-family="'Liberation Serif', 'Times New Roman', serif" font-weight="bold" font-size="16" fill="#222">-5</text><text transform="translate(1187.3,1337.9) scale(1.05,0.88)" text-anchor="end" font-family="'Liberation Serif', 'Times New Roman', serif" font-weight="bold" font-size="16" fill="#222">5</text><text transform="translate(1291.8,1349.7) scale(1,0.86)" text-anchor="middle" font-family="'Liberation Serif', 'Times New Roman', serif" font-weight="bold" font-size="18.6" fill="#1e1e1e">Latency (ms)</text><text transform="translate(1101.8,1242.5) rotate(-90) scale(1,0.86)" x="0" y="0" text-anchor="middle" font-family="'Liberation Serif', 'Times New Roman', serif" font-weight="bold" font-size="18.6" fill="#1e1e1e">Amplitude (μV)</text><text x="1180.0" y="1135.0" text-anchor="end" font-family="'Liberation Serif', 'Times New Roman', serif" font-size="30" fill="#111">Cz</text></g><path d="M1128.1 1242.7l2.1 .7 1.8 .6 1.8-.5 1.8 1.8 1.8-.7 1.8-2 1.7-1.4 1.8-.6 1.7-.7 1.8-1.4 1.7 .9 1.8-1.3 1.7-1.8 1.8 .8 1.7-.4 1.8 .4 1.8-1.8 1.9 .1 1.8 1.3 1.9-.1 1.8-1.7 1.9-.5 1.9 .6 1.8 .6 1.9-.8 1.8 1.7 1.9 .9 1.8-.7 1.8 .9 1.9-1.5 1.8 1.5 1.9-.1 1.8-.3 1.9-.9 1.8 .1 2.3-.8 1.6-.9 1.7 .2 1.6 .3 1.7-1.6 1.7-1.8 1.8 .8 1.8-.1 1.8 .5 1.7-.5 1.8-3.5 1.3-2.9 .9-1.2 .9-1.9 .9-1 .9-2.6 .8-1.8 .8-.8 .6-.9 .6-1.4 .6-1 .6-2.2 .6-1.2 .6-2.7 .6-.5 .6-1.7 .6-1.9 .6-2.6 .6-.3 .6-2.2 .6-2 .6-2.2 .6 0 .8-2.1 1.1 1.9 .5 2.3 .6 1.1 .5 2.6 .5 .5 .5 1 .6 1.6 .5 2.1 .5 1.6 .5 1.4 .6 1.7 .5 2.3 .5 2.1 .5 2.1 .7 .9 .6 2.9 .7 1.5 .7 2.3 .6 1.7 .7 1.2 .7 1.7 .7 1.9 .6 .9 .7 2.9 .7 1.5 1.9 0 .7-2.5 .8-1.6 .7-1.1 .7-3 .8-2.1 .7-1.5 .8-1.1 .7-2.2 .7-1.6 .7-2.4 .6-1.3 .6-1.1 .6-2.4 .7-.5 .6-1.1 .6-1.6 .6-1.5 .6-1.6 .6-2.6 .6-2.1 .6-2.4 .6-1 .5-2.4 .6-.9 .5-2.4 .6-1.7 .5-1.9 .6-2.3 .5-.9 .6-1.7 .5-1.6 .6-3 .5-.6 .8-1.1 1.9 .3 1 2.2 1.1 1.4 1 1.1 1 1.4 1.1 1 1.1 1.4 1.2 1.4 1.3 1.4 1.3 1.3 1.3 1.5 1.3 2 1.3 .1 1.9 1.7 1.5 .4 1.4 1.3 1.5 .2 1.4 1.5 1.4 1.4 1.5 .5 1.4 2.7 1.5 .8 1.4 .7 1.5 .7 1.5 1.1 1.7 1.1 1.7 .1 1.7 1.6 1.7 1.4 1.5 .9 1.6 2.5 1 1.6 1 1.1 1 .4 1 .9 1 2.3 1.1 2.7 1 1 1 .8 1 1.1 1 2.3 1 1.7 1 .8 1.1 .9 1 1.9 1 2.1 1 1.4 1 1.8 1 .5 1 2.8 1 .8 1.1 .4 1 1.2 1 2.2 1 2.6 1 .6 1 1.2 1 2.2 1.1 3 1 1.1 1 1.4 1 1 1 2.5 1 2.3 1.1-.1 1.1 .8 1.3 .5 1.3 1.2 1.3 1.2 1.3 .7 1.3 2.6 1.3 .9 2.1 2.5 1.7 .9 1.8 .2 1.8 .9 1.8 1 1.8 .3 1.8 .9 1.8-1.3 1.8-.5 1.8-.1 1.8 .4 1.8 .1 2.4 .3 1.7 .1 1.7-1.3 1.7-.6 1.7-1.2 1.8-1.1 1.7-.1 1.7-.9 1.8-.9 1.8-1.1 1.8 .5 1.8 .3 1.8-1.3 2.4-.1 1.8 .4 1.8 0 1.8 .5 1.8 .5 1.7 0 1.8 .2 1.8-.4 1.9 1.6 1.8-.7 1.9-.8 1.9 .3 1.8 .6 1.9 .4 1.9-.7 1.7 .2 1.7 0 1.8 0 1.7 .7 1.7 1.7 1.7 1.6 1.7-.6 2.2 .1 1.6 .2 1.5 .8 1.5 2.1 1.6 .6 1.5 2 1.5 .8 1.5 1.8 1.5 .7 1.3 .9 .9 1.6" fill="none" stroke="#4a3964" stroke-width="1.9" stroke-linejoin="round"/><path d="M1128.1 1245.5l2.2-.3 1.8 .9 1.9-1.5 1.8-.4 1.9-.2 1.8-.8 1.8 .2 1.8-.9 1.8-1.4 1.8 1 1.7-2 1.7-1.1 1.7-1.5 1.7-2 1.7-1.1 1.8 1.1 1.7-.7 1.9-.4 1.8 1.1 1.9-.9 1.9 1.1 1.8 .9 1.9 1.7 1.8 1 1.9 1 1.8-.3 1.8 .1 1.9-1.4 1.8-.1 1.8 .5 1.9 2.4 1.8-1.3 1.8-.2 1.9 .4 2.3 .4 2.2-2.8 1.6-2.1 1.6-1.5 1.6-1.7 1.6-.7 1.7 .8 1.8 .2 1.8 1.2 1.8-.1 2.1-2.6 1.4-2.9 .9-.5 .9-2.9 .8-1.3 .9-1.8 .9-.1 .8-3.5 .7-.3 .7-2.3 .6-1 .6-2 .5-1.3 .6-1.8 .6-1.5 .6-1.3 .6-.9 .6-1.4 .6-2.2 .6-1.7 .5-1.8 .6-1.1 .6-2.8 .6-1.3 .6-1.4 1.8 .8 .5 .6 .5 2.3 .5 .5 .5 1.2 .6 1.6 .5 2.3 .5 1 .5 1.4 .5 3.5 .5 .3 .5 2.3 .5 1.5 .5 2 .6 1.7 .7 1.3 .6 2.8 .7 2.6 .7 2.8 .7 0 .6 2.5 .7 2 .7 1.2 .6 .7 .7 .8 1.9-1 .8-.5 .7-1.3 .8-2.4 .7-.9 .8-2.1 .7-1.6 .8-2.1 .7-1.8 .7-1.5 .7-2.2 .5-1.8 .6-.6 .6-.3 .5-1.2 .6-1.8 .6-1.6 .5-2.4 .6-2.4 .6-1.7 .5-.7 .6-1.2 .6-2.1 .7-2.4 .6-1.5 .7-1.3 .7-3.4 .6-1.5 .7-1.6 .7-1.1 .6-1.4 .7-2 .7-2.1 1.2-1.8 1.4 1 1 1.3 1.1 2.2 1 2.6 1 1.7 1.1 1.5 1.1 .8 1.1 1 1.1 1.5 1.1 .8 1.2 3 1.1 .6 1.2 1 1.1 1.2 1.9 1.3 1.7 1.7 1.8 .4 1.8 .3 1.9-.3 1.8 .3 1.8 1.6 1.8 .3 1.9 .9 1.7-.2 1.8 1.7 .9 2.2 .8 1.5 .8 1.4 .8 .3 .8 2 .9 1.2 .8 1.5 .7 1.7 .5 3.1 .5 2.2 .5 .6 .5 3 .5 1.6 .5 1.6 .5 2.6 .6 1.4 .6 1.8 .7 1.2 .7 1.7 .8 1 .7 .5 .7 2.1 .8 3.3 .7 .9 .8 2.1 .7 .7 .7 1.4 .8 1.6 .7 2.2 .7 2.2 .8 1.7 .7 1.7 .7 1.4 .8 1.6 .7 1.3 .7 2.1 .8 2.5 .8 1.1 .9 1.9 1.2 .2 1.1 1.5 1.1 1.9 1.2 1.2 1.1 1.9 1.2 1.3 1.2 1.5 1.4 1 1.7 1.5 1.7-.4 1.7 .1 1.8 .5 1.7 .9 1.7 2.1 1.7 .7 1.7 1.1 1.7 1.3 1.7-.8 2.4 .8 1.9-.6 1.8-.5 1.8 0 1.8-1 1.9-.3 1.8-1.3 1.8-.1 1.8-1.4 2.1-1.1 1.3-.8 1.3-.6 1.3-1.7 1.3-.7 1.3-1.1 1.4-2.4 1.5 .2 1.7-.4 1.7-1.8 1.7 .1 1.8-.4 1.7-1.4 1.8 0 1.8-.3 1.7 .8 1.8-.1 1.8-1.6 1.8 .5 2.4-1.2 2.4 1.2 1.7-.5 1.8 1 1.8-1.1 1.8 .3 1.8 .1 1.8-.6 1.8 0 1.8 1.6 1.9-.4 1.8-.3 1.9 0 1.8 .7 1.8 .3 1.9 0 1.8 2.4 1.8 .8 1.7 .2 1.8 .6 1.8 .8 1.7 .8 1.8 1 1.8 .7 1.7 .2 1.8 .4 1.7-.4 .9-.4" fill="none" stroke="#4a3964" stroke-width="1.9" stroke-linejoin="round" stroke-dasharray="4 3"/><path d="M1128.0 1244.1l2.1 .3 1.8 1.3 1.8 .3 1.8-1.2 1.8 .7 1.8-1.3 1.8-.6 1.8-.7 1.8 1 1.8-.6 1.7-1.1 1.6-.9 1.7-.3 1.6-2.8 1.7 .2 1.6-2.7 1.7-1.3 1.9 .4 1.8 2.2 1.9-1 1.9-.3 1.9 .5 1.9-.1 1.8 .3 1.8 .4 1.7 1.5 1.8-.5 1.8 1.5 1.8 0 1.8-1.5 1.9-1.1 1.9-.7 1.9-.8 1.9 2.4 1.9-1.3 1.8-1.6 1.7 0 1.7-.1 1.6-1.5 1.7-1.5 1.7-1.2 1.6-.6 1.7-.5 1.7-.8 1.7-.2 2-2.2 1.4-.3 .9-2.4 .9-1.8 .9-1.9 .9-1.6 .9-.7 .9-1.1 .8-.1 .5-2.4 .5-2.1 .6-1.7 .5-2.2 .5-1.4 .5-.2 .5-2.5 .5-1.5 .6-1.2 .5-1.8 .5-1 .5-1.3 .5-2.5 .5-1.9 .6-.6 .5-1.2 .5-3 .5-2.6 1.4 2.1 .5 .6 .5 1.3 .5 1.3 .5 3.3 .5 2.7 .5 1.6 .5 1 .5 2.2 .6 1.4 .5 2.9 .5 1.4 .5 2.2 .5 1.3 .5 1 .6 1.3 .5 1.4 .6 3.4 .6 1.3 .6 3.2 .6 1.7 .6 .9 .6 .7 .6 1.1 .6 1.3 .6 1.9 .6 2.7 .8 2.4 1.3-1.5 .7-1.4 .7-2.2 .6-2.1 .7-2 .7-1.8 .7-2.2 .7-.6 .6-3.2 .7-1.6 .7-2.3 .6-1.6 .6-1.3 .5-.7 .6-2.3 .5-2.9 .6-.5 .5-1.8 .6-2.3 .5-1.2 .6-1.3 .6-2.4 .5-2.3 .6-2.6 .6-.8 .5-.8 .6-2 .6-3.2 .6-.9 .6-1.2 .6-1.4 .5-2.8 .6-.9 .6-2 .6-1.3 .6-1.9 1.8 1.1 .9 2.2 .9 2 .9 1.4 1 1.6 .9 1.6 .9 2.1 .9 .9 .8 .8 .8 1.5 .7 2.3 .7 1.1 .7 .7 .8 1.3 .7 3 .7 1.8 .8 .2 1.5 1.9 1.8 2 1.5 1.8 1.4 1.6 1.5-.1 2 .8 2.3 .5 1.8 .6 1.9 .1 1.8 .7 1.8-.9 1.7 1 1.7 .1 1.7 1.4 1.7-.1 1.6 1.6 1.3 1.6 1.1 2.7 1.2 1.6 1.1 1.9 1.1 1.6 1.2 1.7 1.1 .1 1.1 2.3 1.1 1.3 1 2.2 1 .2 1 2.1 1 2.3 1 2.2 1 .8 1.1 1.2 1 .7 1 1.1 1 1.5 1 1.8 1 1.8 1 1.8 1.1 2.1 1 .1 1 2.7 1 2 1 1.5 1 2.2 1 1.6 1 0 1.1 .9 1 .9 1 2.9 1 1.2 1.1 .6 1.2 1.3 1.3 .8 1.3 1.7 1.3 .5 1.3 2.6 1.3-.1 1.4 1.5 1.6 .3 1.8 .3 1.7 2.4 1.7 1.2 1.7 .5 1.7-.1 2.3 .4 2.4-.4 1.8-.5 1.8-.1 1.8 .8 2.4-.8 1.7-.8 1.8-.4 1.7-.4 1.7 .5 1.7-1.8 1.7-1.1 1.7 .4 1.8-.1 1.8 .4 1.8 .3 1.8-1.1 1.8 .2 1.9 .1 1.8-1.4 1.9-.4 1.8 1.1 1.9-1.3 1.9-.5 1.8 .5 1.9 .5 1.9 .6 1.8-.2 1.9-.9 1.9 .7 1.8-1.2 1.9-.4 1.9 .2 1.8-.1 1.8 0 1.8 1.4 1.7 1.1 1.8 .2 1.8 .5 1.8 .7 1.8 .7 1.8-.3 1.8 .2 1.7-.4 1.8 1.4 1.8-.8 1.8-.1 1.8 1 1.6 .2" fill="none" stroke="#8c5872" stroke-width="1.9" stroke-linejoin="round"/><path d="M1128.0 1245.2l2.1-.2 1.8 .7 2.4-1.8 2.4 0 1.7 0 1.7-.7 1.7-2 1.7-1.2 1.7-.4 1.7 .7 1.7-1.7 1.8 1.4 1.8 .5 1.8-1.2 1.7 .3 1.8 .9 1.8-.5 1.8-1 1.8-.4 1.8-.4 1.8-.4 1.8 .1 1.9-.6 1.8-.4 1.9 2 1.8 .8 1.9 1 1.9 1.5 1.8-1.3 1.8-2.1 1.9-.1 1.8-1.1 1.8 1.1 1.8-.5 2.4 .8 1.7 0 1.7 .6 1.6-1.2 1.7 .1 1.7-.9 1.7-2.3 1.8-2.8 1.8-2.4 1.8 1.7 1.7-1.5 1.5-2.6 .9 0 .9-.2 .9-1.1 .8-2.7 .9-3 .8-3 .8-1.6 .6-.3 .5-1.9 .6-.5 .5-2.3 .6-1.7 .5-1.3 .6-1.4 .5-2.6 .6-2 .5-1.9 .6-1.2 .5-1.6 .6-2.5 .5-1.8 .6-1.5 .5-2.5 .6-1.1 1.4 1.1 .5 2.9 .5 .6 .5 1.7 .5 1.3 .5 2.1 .5 1.1 .5 3 .5 1 .5 1.8 .5 1.2 .5 1.8 .5 2.8 .5 1.5 .5 1 .6 1.3 .6 2.8 .6 2.6 .6 1 .6 2.3 .7 1.6 .6 1.7 .6 1.2 .6 3 .7 2.1 .6 1.7 .6 .9 1.9-1.6 .7-1.2 .8-1.2 .7-1.1 .8-1.9 .7-1.1 .7-1.5 .8-3.3 .7-1.9 .8-2.3 .6-.4 .6-1.5 .5-1.6 .6-2.3 .5-1.4 .5-2 .6-1 .5-2.5 .5-3 .6-1.7 .5-2.3 .5-1.3 .6-2.8 .5-1.5 .5-.4 .6-1.1 .5-2.1 .5-2.7 .6-.6 .5-1.4 .5-2.3 .6-2 .5-2.9 .5-.2 .6-2 .5-.4 .5-2.8 1.9 1.2 .9 .6 .8 1.2 .8 2.7 .8 2.5 .9 2.4 .8 1.4 .8 1.5 1 2 1.1 .8 1.3 1.2 1.3 1 1.3 1.6 1.3 1.4 1.3 .7 2 1.9 2.4-.5 1.8 .2 1.8-.1 1.8-1.1 1.8 .7 1.7 2 1.7 1.2 1.7 .7 1.7 .1 1.6 1.2 1.5 2 1.5 1.2 1.4 .4 1.4 1.2 1.5 .6 1.6 1.2 1.4 1.5 .9 1.7 .9 1.3 1 1.6 .9 1.1 .9 2.7 .9 .8 .7 1.5 .8 2.4 .7 1.4 .7 2.2 .8 1.8 .7 1 .7 .8 .8 3 .6 2.5 .7 1.5 .5 .8 .6 2.8 .6 1.7 .5 1.4 .6 2.7 .6 .1 .6 1.2 .5 1.4 .6 2.8 .6 1.4 .6 1.1 .7 1.5 .7 1.1 .7 2.9 .8 1.8 .7 1.5 .7 1.3 .8 1 .7 2.8 .8 1.8 1 .9 1.1 1.9 1.1 3 1.2 1.2 1.1 1.4 1.1 2.3 1.2-.4 1.2 1.4 1.7 2.2 1.5-.1 1.4 1.4 1.5 .6 1.4 .5 2 1.8 1.7 1.3 1.9 1.2 1.8 .5 1.8 1.4 1.8-.9 1.9 .2 1.8-.3 1.8-1.1 1.8 .8 1.7-1.7 2.1-.2 1.4-.8 1.5-1.2 1.4-1.2 1.4-1.3 1.5-1.9 1.4-.6 1.5-2 1.4-.6 1.4-1.7 1.5-.8 2-.6 2.2-1.7 1.7-.4 1.7-.6 1.7 .3 1.7 .2 1.7 0 1.7-2.6 1.8 .3 1.9-.9 1.8 .2 1.9-.4 1.9 .1 1.8-1 1.9 1.2 1.9-1.2 1.8 .8 1.8 .1 1.9 .4 1.8-1.5 1.9-.5 1.8 .5 1.8-.3 1.9 1.3 1.8 1 1.9-.5 1.8-.4 1.8 1.4 1.8-.3 1.8 .9 1.9-.7 1.8-.3 1.8 1.3 1.9 .2 .9 1" fill="none" stroke="#8c5872" stroke-width="1.9" stroke-linejoin="round" stroke-dasharray="4 3"/><path d="M1128.1 1244.3l2.1 1.2 1.9-2 1.9-1.1 1.8-1 1.8 .1 1.8-.5 1.8-1.4 1.8-1.5 1.8-.6 1.8 .1 1.7-.9 1.7-.6 1.7 .2 1.7 1.3 1.6-1.4 1.7-2.5 2.4-.8 1.8 .7 1.8 .5 1.8-1.2 1.8-.6 1.8-.9 1.8 2.1 1.8-.3 1.8 .1 1.8 1.3 1.9 .2 1.8 2.3 1.8-.6 1.8 .5 1.9-.8 1.9 1.7 1.9-.5 1.8-1 1.8 .4 2.2 1.5 1.5-1 1.6-1.5 1.5-.9 2.1-.8 1.8-1.6 1.8 .9 1.8-.4 1.8 .6 2.2-.8 1.3-2 .8-1.7 .8-3.2 .8-2 .8-.4 .7-2.4 .8-.8 .8-1.8 .7-1.7 .5-3.2 .5-2.6 .5-.9 .5-.5 .6-2.5 .5-2.8 .5-1.6 .5-1.3 .5-2.5 .5-.4 .5-1.1 .5-3.2 .6-1.3 .5-1.5 .5-2.2 .5-1 .5-2.6 .5-3 1.6 2.8 .5 1 .4 .6 .5 1.4 .5 2 .4 2.2 .5 1.1 .4 2 .5 2.2 .5 1.6 .4 1 .5 3.6 .5 1.5 .4 1.4 .5 2.2 .5 1.8 .5 1.5 .6 2.2 .6 2.2 .6 1 .6 2.7 .6 1.2 .6 1.6 .6 1.6 .6 2.3 .7 1.6 .6 2.5 .6 .9 .8 2.4 1.2-1.5 .7-1.8 .6-1.7 .7-1.4 .6-2.8 .6-1.1 .7-1.5 .6-1.8 .7-2.6 .6-1.2 .6-1 .7-1.7 .5-2.9 .5-.7 .5-3.5 .5-2.6 .5-2.3 .5-1.5 .6-1.4 .5-1.4 .5-1 .5-1.7 .5-2.6 .5-1.9 .5-2.8 .5-1.1 .5-1.4 .4-1.3 .5-1.7 .5-1 .4-2.9 .5-.9 .5-3.2 .4-.4 .5-3 .5-1.6 .4-1.2 .5-1.7 .5-2.3 .4-1.2 .5-1.5 1.8 1.2 .9 1.6 .8 2.4 .8 .8 .8 1.6 .9 1 .8 1.1 .8 1.2 .8 2.5 .7 2.1 .6 1.4 .7 1.2 .6 2.1 .6 1.5 .7 2.2 .6 3.2 .7 1 .6 1.5 .7 2.1 1.6 1.7 1.6 .1 1.7 1.9 1.7 1.1 1.8 1.3 2.3 .4 1.8-1.7 1.9 .4 1.8 .2 2.3 0 1.8 1.5 1.4 1.2 1.3 1.6 1.3 .7 1.3 .6 1.3 1.9 1.2-.2 1.2 .9 1.1 1.6 1.1 1.4 1.2 .8 1.1 1.3 1.2 1.3 1.1 2.9 1.1 2.2 1.2 2.5 1.1 .5 1.2 .3 1.1 1 1.1 1.4 1.2 .6 1.1 2.4 1 2.3 1 1.5 .9 2.4 .9 .7 .9 .9 .9 2.3 .9 .6 1 .9 .9 2.5 .9 2.6 .9 2.3 1 1.1 1.1 1.8 1 2.4 1 .6 1 .9 1 .7 1 1.3 1 3 1.1 .5 1.1 2.5 1.2 1.8 1.1 1.6 1.2 2.2 1.1 .9 1.1 .7 1.2 2.3 1.9 1 1.7 .4 1.7 .6 1.7 .1 1.7-.3 1.7 1.3 1.8-.1 2.3 .4 1.8 .7 1.8-.6 1.8 1 1.8 .1 2.4-.1 1.7-1.2 1.7-1.5 1.7 .8 1.7-1.7 1.8-.2 1.7-1.4 1.7 .7 1.8-.7 1.8 .4 1.8-.4 1.8 .1 1.8-.2 1.8-1.5 1.8-.9 1.8-1.4 1.8 .3 1.8 0 1.8 0 1.7-.8 1.8-.5 1.8-.2 1.8 .3 1.8-.1 1.8-1 1.7 .4 1.8-.9 1.8-.5 2.4-1 2.4 .7 1.8-.3 1.7-.1 1.8 1.7 1.8-.6 1.8-.5 1.8 .1 1.8 .4 1.7 .4 1.8 0 1.8 1.8 1.8-.1 1.8 1.2 1.8 1.2 1-.4" fill="none" stroke="#d09c9e" stroke-width="1.9" stroke-linejoin="round"/><path d="M1128.1 1245.4l2.1 .9 1.9 1.4 1.8-.9 1.8-1.3 1.8 1.8 1.7-.3 1.7-.7 1.7-2.2 1.7 .2 1.7-.1 1.8-.4 1.7-2.4 1.7 .6 1.7-1 1.8-.5 1.7-.6 1.8-.7 1.8 .5 1.9-1.3 1.8-1.4 1.9 .9 1.9-1.9 1.8 .9 1.8 1.9 1.8 2 1.8 .4 1.8-.7 1.8 .7 1.8-.2 1.8-.3 1.8-1.1 1.9-.8 1.9-.6 1.8-.7 1.9 .7 1.8-1.1 1.8-.3 1.7-1.3 1.7 .6 1.8-1.5 1.7-1.3 1.8-1.2 1.9-.1 1.8 .1 1.8 .5 1.7-1.9 .9-2.5 .8-1.6 .9-2.1 .8-1.2 .8-.8 .8-2.1 .9-1.7 .7-1.9 .5-.9 .5-1.2 .6-1 .5-2.5 .5-3.1 .5-.5 .5-1.4 .5-2.2 .6-1.9 .5-2.6 .5-.7 .5-.8 .5-2.9 .6-2.8 .5-1.9 .5-1.2 .5-1.3 .5-1.4 .5-1.3 1.5 .7 .4 2.5 .5 1.5 .5 1 .4 1.1 .5 1.7 .5 1.8 .4 1.7 .5 1.5 .4 3.3 .5 2.6 .5 1.9 .4 1.3 .5 .3 .4 2.9 .6 1.5 .5 .4 .6 2.6 .6 .6 .6 2.9 .6 2 .6 2 .6 1.8 .6 2.1 .7 2 .6 .9 .6 1.4 .6 .9 1.9-.7 .7-1.5 .6-1.7 .7-1.2 .7-.9 .6-2.8 .7-1 .7-1.9 .7-1.5 .6-1.3 .6-2 .6-2.1 .5-1.7 .5-1.2 .5-2.6 .5-1.1 .5-1.5 .5-3 .6-.7 .5-2.3 .5-2.8 .5-1.5 .5-.6 .5-1.4 .5-1.2 .5-2.1 .6-1.4 .5-2.3 .5-2.6 .6-1.9 .5-2.5 .5-2.3 .6-.7 .5-1.6 .6-1.9 .5-2.8 .5-1.5 .6-1.2 .7-1.3 1.5 1.1 .9 .6 .8 2.2 .8 1.4 .8 2.5 .9 1.8 .8 2.4 .8 .4 .9 1.3 1.1 1.5 1.1 1.1 1.1 2.9 1.2 2.2 1.1 2.1 1.2 1 1.1 1.4 1.8 1.1 2.2-.8 1.7-1.1 1.7 .2 1.7-.4 1.8-1.4 1.8 .4 1.8-.9 1.9 .2 2.3 .5 2 .4 1.3 .8 1.2 1.3 1.3 1.6 1.2 .4 1.1 1.3 .8 1 .8 1.8 .8 2.5 .9 1.2 .8 1.4 .8 1.1 .8 1.8 .8 1.9 .9 1.6 .8 1.9 .8 1 .8 3.2 .8 2.1 .9 1.8 .8 1.2 .8 1.6 .7 .6 .8 1.1 .7 2.8 .7 1.7 .8 .6 .7 2.3 .7 2.1 .8 1.2 .7 2.3 .8 2.8 .8 2 .9 2.3 .8 1.5 .8 1.5 .9-.1 .8 .8 .8 1.5 .8 1.6 .9 3 .8 1.6 .9 1.8 .9 1.7 .9 .8 .9 1.1 .9 2.3 .9 1 1 2.2 .9 1.6 .9 2.1 .9 2.3 1 1.5 1 2.1 1 1.4 1 1.2 1 .7 1 2.3 1 .7 1.1 .5 1 1.7 1.8 1 1.4 2.2 1.4 .4 1.5 1.9 1.4 2 2 1.5 2.4-.4 1.8-.5 1.8-.6 1.8-.6 2-2.4 1.2-2.1 1.1-.5 1.1-.8 1.2-.6 1.1-2.9 1.2-1.1 1.1-.3 1.8-1.6 1.5-.7 1.4-.6 1.4-2.2 1.5-.3 2-3.3 2.3-1.4 1.8-.6 1.7 .8 1.8-.8 1.8-.1 1.8-.5 1.8 .7 1.8 .4 1.8-.8 1.7-1.6 1.8-1 1.8 1.4 1.8 1 1.8-1.5 1.8 0 1.7-1.2 1.8-.8 1.8 .8 1.8 0 1.8 .3 1.8-1.4 1.7-.2 2.4 1.1 1.8 .4 1.8-.2 1.8-.2 1.8 .8 1.7-.6 1.8 1.3 1.8 1.1 2.3-.7 1.7 0 1.8 .7 .9 1.2" fill="none" stroke="#d09c9e" stroke-width="1.9" stroke-linejoin="round" stroke-dasharray="4 3"/><g><line x1="260.3" y1="1666.3" x2="260.3" y2="1886.2" stroke="#161616" stroke-width="2.5"/><path d="M257.1,1686.2h3.2 M257.1,1704.2h3.2 M257.1,1722.3h3.2 M257.1,1740.4h3.2 M257.1,1758.4h3.2 M257.1,1776.5h3.2 M257.1,1794.6h3.2 M257.1,1812.6h3.2 M257.1,1830.7h3.2 M257.1,1848.8h3.2 M257.1,1866.8h3.2" stroke="#161616" stroke-width="1.6"/><line x1="195.2" y1="1776.5" x2="524.1" y2="1776.5" stroke="#161616" stroke-width="2.7"/><path d="M194.6,1776.5v3 M326.0,1776.5v3 M391.6,1776.5v3 M457.3,1776.5v3 M522.9,1776.5v3" stroke="#161616" stroke-width="1.6"/><text transform="translate(194.6,1798.3) scale(1.05,0.88)" text-anchor="middle" font-family="'Liberation Serif', 'Times New Roman', serif" font-weight="bold" font-size="16.5" fill="#222">-200</text><text transform="translate(326.0,1798.3) scale(1.05,0.88)" text-anchor="middle" font-family="'Liberation Serif', 'Times New Roman', serif" font-weight="bold" font-size="16.5" fill="#222">200</text><text transform="translate(391.6,1798.3) scale(1.05,0.88)" text-anchor="middle" font-family="'Liberation Serif', 'Times New Roman', serif" font-weight="bold" font-size="16.5" fill="#222">400</text><text transform="translate(457.3,1798.3) scale(1.05,0.88)" text-anchor="middle" font-family="'Liberation Serif', 'Times New Roman', serif" font-weight="bold" font-size="16.5" fill="#222">600</text><text transform="translate(522.9,1798.3) scale(1.05,0.88)" text-anchor="middle" font-family="'Liberation Serif', 'Times New Roman', serif" font-weight="bold" font-size="16.5" fill="#222">800</text><text transform="translate(254.8,1690.7) scale(1.05,0.88)" text-anchor="end" font-family="'Liberation Serif', 'Times New Roman', serif" font-weight="bold" font-size="16" fill="#222">-5</text><text transform="translate(254.8,1871.4) scale(1.05,0.88)" text-anchor="end" font-family="'Liberation Serif', 'Times New Roman', serif" font-weight="bold" font-size="16" fill="#222">5</text><text transform="translate(359.3,1883.2) scale(1,0.86)" text-anchor="middle" font-family="'Liberation Serif', 'Times New Roman', serif" font-weight="bold" font-size="18.6" fill="#1e1e1e">Latency (ms)</text><text transform="translate(169.3,1776.5) rotate(-90) scale(1,0.86)" x="0" y="0" text-anchor="middle" font-family="'Liberation Serif', 'Times New Roman', serif" font-weight="bold" font-size="18.6" fill="#1e1e1e">Amplitude (μV)</text><text x="249.0" y="1676.0" text-anchor="end" font-family="'Liberation Serif', 'Times New Roman', serif" font-size="30" fill="#111">Pz</text></g><path d="M195.5 1782.5l2 .1 1.7-.2 1.8 .4 1.7-1.4 1.7 0 1.7-2.6 1.6-2.1 1.7-.9 1.7-.2 2.3 .2 2.4 .8 1.8-.4 1.7 .5 1.8 .3 1.8-1 1.9-1.5 1.8-.5 1.8 .9 2.3 .1 2-1.1 1.5-1.9 1.4-1.3 1.4 .3 1.4-2.3 2.1-.1 2.4 1.5 1.8-.5 1.8-.4 1.8-1.7 1.8-.2 1.9 .5 1.9 .3 1.9 1.4 1.8 .1 1.9 .6 1.9-.5 1.9-.1 2 .1 1.9-1 1.9 .6 1.8-1.1 1.9 1.3 1.8 .8 1.9-.3 1.8 1 1.9 0 1.9 0 1.8-.4 1.9 .7 1.8-.9 1.7-.7 1.7-1.3 1.6-.6 1.7-1.1 1.9-.7 .9 .3 .5 2.5 .5 2.5 .5 1.9 .4 2.1 .5 1.9 .5 1.1 .4 1.4 .5 1.4 .6 2.1 1 2.4 1.3 1.3 1.3 1.4 1.4 1.5 1.4 0 2.3 .5 1.9-.4 1.8-.8 1.5 .1 .7-2.1 .4-1.1 .4-1.6 .4-1.2 .4-1.8 .4-1.8 .5-3.1 .4-1.3 .4-1.7 .4-1.9 .4-2.4 .4-1.5 .4-2 .5-1.3 .8-1.4 .9-2 1-1.3 1.8-.2 1.6 1.9 1.2 .8 1.3 .5 1 1.7 .9 .9 .8 2.2 .8 .8 .8 2.5 .8 1 .6 2.5 .4 1.3 .5 2.2 .4 1.2 .4 1.5 .4 2.8 .5 .9 .4 2.8 .4 .8 .5 1.7 1.3 1.3 1.4 2.2 1.5 1.7 1.5 .5 1.5 .8 2.1 .7 2.2-.3 1.8 0 1.7-.1 1.8 0 2.3-.8 2.3 1.9 1.7 .9 1.8 .8 1.6 1.3 1.9 .6 1.2 .4 1.2 1.3 1.1 2.2 1.1 1.3 1.2 1.1 1.1 2 1.1 .9 1.1 1.1 1.1 2.1 1.1 .5 1.1 2.3 1.1 .2 1.5 2.1 2 2.1 1.7-.8 1.7 1.3 2.3-.3 1.7 .5 1.7-.2 1.7-1.5 1.7-.3 1.8-.7 2.4 .2 1.8 .1 1.8 .9 1.8-.4 2 .3 1.2 2.6 1.1 1.7 1.1 .4 1.2 1.2 1.1 1.5 1.2 1.8 1.2 1.8 1.3 1.2 1.6 1.1 1.6 1 1.6 .3 2-.4 1.9-.6 1.4-1.2 1.5-1.6 1.4-1.3 1.5 .2 1.4-.8 1.4-1 1.5-1.5 1.4-1.7 1.5-.9 1.4-1.2 1.4-.9 1.3-1.3 1.3-2.1 1.3-1 1.3-.1 1.3-1.9 1.3-1 1.3-.6 1.3-2.4 1.3-1.5 1.3-1.8 1.3-1.6 1.3-1.5 1.3-1.2 1.3 .1 1.1-1 1.2-.6 1.1-1.8 1.1-2.2 1.2-1.9 1.1-1.2 1.2-1.6 1.1-1 1.1-1.3 1.2-.8 1.1-2.3 1.2-.9 1.1-1.9 1.1-2.2 1.2-.9 1.2-1.8 1.3-2.2 1.3-.5 1.3-2.2 1.3-.3 1.3-1.4 1.3-.6 1.4-1.9 1.5-1.1 1.6-1.2 1.5-1.4 1.6-.1 1.5-1.4 1.6-.7 1.6-1.4 1.7-.7 1.7-.5 1.7-.4 1.7-1 1.7-.4 1.7-.2 1.7-1.6 1.7 .3 1.7-.5 1.8-1.2 1.7-.3 1.7-1.5 1.8-1.3 .5-.6" fill="none" stroke="#4a3964" stroke-width="1.9" stroke-linejoin="round"/><path d="M195.5 1783.5l2-1.2 1.7-1.6 1.7-.4 1.7-.6 1.7-1.3 1.7-2.2 1.7-1.1 1.7-1.2 1.7-.2 2.2 .3 2.4 1.9 1.7-.3 1.7 .4 1.8 .4 1.8 .6 1.9-.3 1.9-.6 1.9 .9 1.8 .3 1.7 .5 1.5-1.3 1.5 .1 1.6-1.6 1.5-1.8 1.6 .1 1.7-2.2 1.9-.2 1.8 .1 1.8-.7 1.8-1.1 1.9 .4 1.8 .7 1.8-.5 1.9 1.1 1.8 0 1.8-.8 1.9-.1 1.8 .3 1.9 .8 1.8 0 1.8 .3 1.9-1.2 1.9 1.3 1.9 1.2 2-.3 1.9-2.2 1.8 .1 1.9-.7 1.9-.2 1.8-.8 1.9 0 1.7-.7 1.8-.7 1.7-.9 1.7-.8 2-.2 .9 1.7 .3 3.1 .4 2.2 .4 1.2 .4 1.2 .4 2.2 .3 1.8 .4 .9 .4 3 .8 2.6 1.7 1.5 1.5 1.6 1.5 .3 1.6 .7 2.3 .8 1.8 .5 1.8 .1 1.7-1 .7-1.1 .4-2 .4-1.2 .4-1.8 .4-1.6 .4-2.4 .4-2.3 .4-1 .4-1.6 .4-2.1 .4-1.4 .4-2 .4-.9 .4-2.5 .5-1.6 .8-.8 1-1.5 1.5-1.9 2.1 .4 1.2 2.1 1.3 2.2 1.2 2 1 .7 .9 1.6 .9 1.6 .8 1.1 .9 2 .6 2.2 .5 .8 .4 1.9 .4 2.3 .4 .8 .4 1.4 .4 1.8 .4 1.5 .4 1.9 .5 2.1 1 3.3 2 .5 1.5 2.1 1.6 .2 1.6 0 2.1 2 2.4 .3 1.8 .2 1.8-.2 1.8-1.6 2.3-.1 1.6 .6 1.5 .4 1.6 .7 1.6 1.5 1.5 1.5 1.4 1.8 1.3 1.7 1.3 1 1.3 1 1.3 1 1.3 1.2 1.4 1.4 1.6 .2 1.8 1.7 1.7 .4 1.7 .8 1.7-.3 2.4 .6 1.8-.5 1.8-.4 1.8-1.2 1.9 1 1.8-.4 1.8-.6 1.8 1.2 1.9-.1 1.8 .7 1.8 .1 1.8-.4 1.9 1 1.8-.6 1.7 .7 1.9 1.8 1.3 2 1.3 1.4 1.3 2 1.3 1.2 1.3 1.1 1.3 .4 1.5 .4 1.4 1.4 1.4 .6 1.5 1.1 1.4 1.2 1.9 .5 2-1.4 1.4-.9 1.4-.3 1.5-.9 1.4-1.3 1.4-1.3 1.3-.8 1.3-.7 1.3-1.7 1.3-2.1 1.3-.7 1.3-2.1 1.3-2.2 1.1-1.2 1.2-1 1.1-1.5 1.1-1.9 1.2-.5 1.1-1 1.2-1.9 1.2-1.4 1.3-2.1 1.3-.6 1.3-.4 1.3-2.6 1.3-1 1.3-1 1.3-1.7 1.3-1.7 1.3-1 1.3-.9 1.3-.4 1.3-1.8 1.3-1.8 1.4-1.6 1.4-.4 1.4-.5 1.5-.8 1.4-2.2 1.4-.8 2.1-.4 1.8-1.4 1.8 .2 1.9 .2 1.8-.5 1.8-1.3 1.8-1 1.9 .7 1.8-.5 1.8 .6 1.8-1.3 1.7-1.1 1.7-1.3 1.7-1.2 1.7-.8 1.7 .5 1.7-1.8 1.8-1.4 1.7-1.5 1.7-.8 1.5-1.6 .8 0" fill="none" stroke="#4a3964" stroke-width="1.9" stroke-linejoin="round" stroke-dasharray="4 3"/><path d="M195.4 1783.6l1.9-.2 1.6 .1 1.6-2 1.6-1.1 1.6-.4 1.6 .6 1.6-2.1 1.5-1.4 1.6-1.3 2.1-.9 2.3-.2 1.8-.5 1.8 2 1.8 1.3 1.8-.6 1.8-1.7 1.8 1.1 1.9-1 1.8 .4 2.3-1 1.6-1.2 1.5 .9 1.5 0 1.5-.3 1.5-1.6 1.6-2.1 1.7-.1 1.8-.7 1.7-.1 1.7-1.3 2.3 1.7 1.8 0 1.8-.1 1.7 2 1.8-1.1 1.8-.4 1.8-.1 1.8 .3 1.8-.7 1.9-.7 1.8-1.1 1.9 .4 1.8 1.7 1.8-.3 1.8-.7 1.8 1 1.8-.1 1.8-.6 1.8-.3 1.8 .3 1.8 .7 2.3-1 2.1-1.2 1.5-.5 1.5-.3 1.5-1.2 1.9-1.3 .7 1.4 .4 1.7 .4 3.3 .3 .9 .4 1.2 .4 1.4 .4 2.6 .4 2 .3 1.2 .4 1.9 .7 2.1 1.3 3.1 1.4 .7 1.4 1.5 1.3 2 2.1 .6 1.9 .3 1.9 .9 2.1-1.3 1-1.5 .4-2.3 .4-.6 .4-2.2 .4-2 .4-2.4 .4-2.5 .3-2.2 .4-1.4 .4-1.4 .4-1.5 .4-2.8 .4-1 .4-1.7 .4-1.9 .5-2.4 .8-.6 .9-1.4 .9-1.9 1.3-2.1 1.5 .8 1.2 1.7 1.2 2 1.1 .8 .8 1.3 .7 1.3 .6 1.9 .7 1.6 .6 1.2 .7 1.4 .6 1.7 .6 2 .4 3.5 .5 .7 .4 2.5 .4 1.9 .5 2.6 .4 1 .5 2.6 .4 1.3 .5 1.2 1.3 2.4 1.4 .6 1.4 1.8 1.4 1 1.5 1.4 1.9 .5 2.2 .2 1.7 .3 1.8-.2 1.7-.9 2.4-.7 2.3-.7 1.8 .8 1.8 1 2.2 1.1 1.7 1.6 1 1.6 1.1 1.1 1 1.6 1 1.6 1 1.5 1 1.3 1 1.1 1 .6 1 1.7 .9 2.6 .9 1.9 1 1 .9 .5 .9 1.2 1 1.5 1.1 1.6 1.3 2.5 1.3 1.1 1.3 .9 1.7 2.2 2.1-.2 1.7-1 1.7-.3 1.8-1.8 1.7 0 1.8-1 1.8-.3 1.8-.5 1.8-.6 2.3 .4 2.1 1.1 1.4 1.4 1.5 .8 1.4-.2 1.4 2.4 2.1 .8 1.8 1.5 1.8 0 1.9-.5 1.8-.1 2.3-.3 1.7 .3 1.8-.3 1.7-.8 1.7-1.7 1.5-1.4 1.4-2.1 1.3-.3 1.3-.2 1.3-2.7 1.3-1.7 1.3-.1 1.2-1 1.2-2.2 1.1-2.3 1.1-1.6 1.2-.2 1.1-1.3 1.2-2.7 1.1-1.1 1.1-1.9 1.2-1.1 1.1-2 1.2-.2 1.1-1.2 1.1-1.3 1.2-1.9 1.1-1.6 1.2-1.2 1.1-1.9 1.1-.6 1.2-1 1.1-.9 1.2-1.6 1.1-1.3 1.1-3 1.2-2.2 1.1-1.3 1.2-.2 1.1-1.7 1.1-.8 1.2-2 1.1-2.3 1.2-.4 1.2-1.7 1.3-1.4 1.3-.4 1.3-1.1 1.3-.7 1.3-1.4 1.3-1.2 1.4-1.6 1.5-1.1 1.6-1.2 1.5-.3 1.6-.9 1.5-1.4 1.6-.8 1.5-1.3 1.6-1.1 1.5-1.6 1.6 0 1.6-1.5 1.5-.4 1.6-1.2 1.5-2.3 1.7-1.2 1.1-1.6 1.2-1 1.1-1.7 1.1-.8 1.2-2.1 1.1 .1 .9-2.7 .5-1.9 .1-.7" fill="none" stroke="#8c5872" stroke-width="1.9" stroke-linejoin="round"/><path d="M195.5 1783.7l1.9-1 1.6-.5 1.6-1.3 1.7 .6 1.6-.9 1.7 .3 1.6-.6 1.7-1.2 1.6 .2 2.4-.6 1.8-1.2 1.9 .6 2-1.1 1.9-.7 1.8 2 1.8-1.2 1.9-.3 1.8-.2 2.3 1.2 2.2-2.5 1.5-.3 1.5-1 1.5-.5 1.6-1.9 1.6-.7 1.7-.9 1.8-.2 1.8-.8 1.7 1 1.8-1.7 1.9 .1 1.8 .7 1.9-.9 1.8 .6 1.9 .5 1.8-.9 1.8 .5 1.9 1.6 1.8-.7 1.8 .4 1.8 .2 1.9 .5 1.8 .8 1.9 1.3 1.9-1.4 1.8 .8 1.9 1.2 1.8-1.3 1.9-1.3 1.8 .3 1.8-.3 2.3-.8 1.7-.5 1.7 .1 1.6 0 1.9-.1 .7 1.5 .4 2.5 .4 .7 .4 1.6 .5 1.6 .4 3 .4 2.1 .5 .9 .4 1.6 1.2 2.5 1.2 1.1 1.3 .3 1.3 1 1.3 1.8 2 1 1.8 .3 2-.3 1.8-1.9 .8-1.5 .4-.8 .5-1.5 .4-2.4 .4-2.4 .5-1.2 .4-2.1 .4-1 .5-1.3 .4-3 .4-1.9 .5-1 .4-1 .4-1.7 .5-1.4 .5-3.3 1-1.8 .8-1.9 1.2-2.7 1.9 .3 1.2 2 1.2 2.1 1.2 .4 .9 2.4 .7 1.2 .7 2.2 .7 1 .6 .7 .7 1.2 .6 2.6 .5 2.3 .4 2 .5 2.5 .4 1.2 .5 1.3 .4 1.9 .5 2.2 .4 1.8 .5 2.5 .9 2.5 1.8 .4 1.6 1.6 1.6 .3 1.6 .7 1.7 1.4 2.3 .2 1.9-.8 1.9-.3 1.9 .4 1.8 0 1.9 .4 1.9 .3 1.9-1.4 1.8 1.1 1.9 0 1.4 2.4 1.1 1.6 1 2 1 0 1 2.7 1 2.2 1 .3 1.6 1.4 1.8 2.1 1.5 1.4 1.4 1.9 1.5 .8 1.9 1.2 1.7 1 1.8 .4 1.8 .3 1.8 .7 1.9 .3 1.8-.6 1.8-1.1 1.8-.3 1.9-.6 1.8-1.1 1.8 .7 1.8 .5 1.9 .6 1.8 0 1.8 0 1.7 .4 1.8 2.1 1.7 1.1 1.7 .9 1.7 1.6 1.7-.1 1.7 1.7 1.7 .2 1.7 2.1 1.7 0 2.3 1 1.7-2 1.7-.3 1.8-1.3 1.7-1.5 1.6-.5 1.4-.7 1.3-.8 1.3-1.7 1.3-1.5 1.3-1 1.3-1.1 1.3-2.8 1.3-2 1.3-1 1.3-.1 1.3-1.4 1.3-.8 1.3-2.6 1.3-1.7 1.3-1.6 1.3-1.6 1.3-.1 1.3-.8 1.3-1.7 1.3-2 1.3-.3 1.3-1.9 1.3-1.7 1.3-1.7 1.3-1.3 1.4-.3 1.3-1.9 1.3-1.3 1.4-.8 1.4-.3 1.5-1.7 1.4-1 1.5-.6 2-.7 1.7-.6 1.8-.3 1.8-1.3 1.9-.6 1.8-.3 1.8-1 1.8 1.5 1.9-.6 1.8-.3 1.8-.1 1.7-1.4 1.7-.8 1.7-.5 1.8-1.7 1.7-1.2 1.7-1.5 1.7-.2 1.7-1.1 1.7-.9 1.7-1.8 1.2-.3" fill="none" stroke="#8c5872" stroke-width="1.9" stroke-linejoin="round" stroke-dasharray="4 3"/><path d="M195.4 1782.3l1.8-.8 1.6 .5 1.6-1.6 1.5 .3 1.6 .3 1.7-1.4 1.7 .1 1.7-.1 1.7 .1 1.7-1.9 2.3-.2 1.8 .1 1.7-1.4 1.8-.6 1.7 1.3 1.9 1.5 1.8 0 1.9-.1 1.8-1.6 2.3-.8 2-1.2 1.5-1 1.5-.8 1.5-1.7 1.5-1.6 1.6-.9 1.8 .1 1.8-.5 1.8-.3 1.9 1 2.4-.5 1.7-.1 1.8 1.6 1.7 .9 1.8 .4 1.8 .6 1.8-.2 1.9-.7 1.9-1.3 1.9-1.3 1.9 1.1 1.9 1.1 1.9 1.2 2-1.9 1.9-.6 1.9 .5 1.9-1.3 1.8 .9 1.9 0 1.8-.9 1.8-.9 1.7-.1 1.7-.4 1.6-.2 1.7-1.5 2-.6 1.3 2.1 .4 1.9 .4 1.9 .4 2.9 .5 1.6 .4 1.6 .4 1.8 .4 1 .4 2.2 .4 2.9 .9 2 1.4 1.3 1.2 1.6 1.1 1.7 1.2 .7 1.7 1.1 2.3 .4 1.9 .6 2.1 .2 .9-2.7 .4-1.4 .4-.9 .4-2.9 .4-1.6 .4-1.3 .4-2.8 .3-2.3 .4-2.4 .4-.5 .4-1.8 .4-3 .4-.6 .4-1.9 .4-3 .4-1.7 .5-1.3 .7-1.7 .7-1.2 .8-1.6 1.4-2.5 1.4 .5 1.1 .9 1.1 2.2 1 2.4 .9 2.2 .7 .6 .7 1.3 .6 2.3 .7 1 .7 2.1 .7 2.6 .5 1.6 .5 .7 .4 2.7 .5 1.4 .4 2 .4 1.8 .5 1.8 .4 2.5 .5 2.5 .4 1.6 1.1 2 1.4 .8 1.5 1.1 1.5 .9 1.5 .8 1.6 .8 2.2 .1 1.8-.7 1.7 .4 1.8-.9 2.4 .7 2.3 .2 1.7 1.5 1.7-.1 1.7 .4 1.8 .7 1.1 2.1 .8 2.7 .7 2 .8 1.4 .7 1.4 .7 2.1 .8 1.7 .7 2.2 .8 1.6 .7 1.6 .7 1.9 .9 .5 .9 1.9 .9 2 .9 1.8 1 1.2 .9 2.1 .9 1.3 1.6 1.5 1.5 1.6 1.6 1.2 1.5 1.1 1.9 .4 1.5-1.1 1.1-2.1 1.1 0 1.1-.8 1.5-1.4 1.4-1.8 1.7-1.3 1.7-1.4 1.7-1.5 1.7-1 2.4-.4 1.8-.6 1.8 .8 1.9 1.3 1.8-.8 1.8 .9 1.8 .8 1.9-.6 1.8 .5 1.8-.2 2.3 .6 1.7-1.4 1.7-.4 1.8 0 1.6-.2 1.6-.4 1.4-1.6 1.5-.3 1.4-1.8 1.5-.8 1.4-.7 1.4-2.1 1.3-.7 1.3-1.9 1.3-2 1.3-.9 1.3-1.8 1.3-.1 1.3-1.4 1.3-.4 1.3-2.6 1.3-1.8 1.3-1.6 1.3-.9 1.3-1.7 1.3-.9 1.3-1.1 1.3-.8 1.3-1.4 1.3-1.1 1.3-1.8 1.3-1.2 1.2-1.4 1.1-.8 1-2.3 1-2.1 1-1.5 1-.8 1-1.5 1-1.6 1.1-2.4 1.1-.3 1.3-1.6 1.3-1.4 1.3-1.8 1.3-.9 1.4-2 1.3-1 1.3-.5 1.3-.9 1.5-2.4 1.5-1.5 1.6-1.1 1.5 .5 1.6-1 1.5-1.4 1.6-.5 1.4-.8 1.4-2.1 1.3-2.2 1.3-1.2 1.3-.8 1.4-1.8 1.3-.9 1.3-1.2 1.3-1.9 1.1-1.1 1-1.1 1-2 1.1-1.9 1-1.7 1-1.9 1-1.2 1-.8 .9-1.3 .6-2.1 .2-2.2" fill="none" stroke="#d09c9e" stroke-width="1.9" stroke-linejoin="round"/><path d="M195.4 1781.2l1.9-2.6 1.6 .1 1.6-.6 1.7-1 1.6 .2 1.7 .7 1.7 .7 1.7 .1 1.7-1.4 2.3-1.2 2.4 1.3 1.7 .2 1.8-.8 1.8 .6 1.8-.3 1.8 1.1 1.8 1.2 1.8-.6 2.4-1.9 2-1.5 1.4-.9 1.3-1.7 1.4 .1 1.4-1.3 1.9-3.1 2.3-.4 1.9 .1 1.8 .3 1.8-1.4 1.9-.8 1.8 .6 1.9-1.4 1.9 1.5 1.8-.8 1.9 1.3 1.8 .9 1.9 .2 1.9-.7 1.8 .2 1.9 .7 1.8 .8 1.9-1.5 1.8-1.1 1.8-1 1.9 .4 1.8 1.7 1.8-.3 1.9 .2 1.8 .7 1.8-.8 2.3-.4 1.7-.5 1.6-1 1.7-1.3 1.6-.9 1.9 1.5 .5 1.8 .4 1.3 .3 3.1 .4 1 .4 1.3 .3 2.9 .4 1.5 .3 .8 .4 1.8 .4 2.1 .7 3.5 1.5 1.2 1.3 2 1.4 1.1 1.3 1.5 2.2 .2 1.9 .3 1.9-1.6 1.8-.1 .8-2.5 .4-1.4 .5-3.1 .4-1.3 .4-2.4 .4-2.1 .5-2.3 .4-.6 .4-1.4 .4-2.2 .4-2.5 .5-1 .4-2.1 .4-2.2 .5-1.3 .6-1.1 .8-1.6 .9-1.5 1.2-1.6 1.8-.3 1.2 2 1.2 2 1.2 2 .9 .3 .7 1.7 .7 3.1 .7 1.4 .7 2.5 .7 .7 .6 1.1 .5 1.6 .5 2.6 .5 2.2 .4 2.6 .5 2.3 .5 1.1 .5 1.8 .4 1.7 .6 1.8 1.2 .9 1.4 .7 1.4 1.3 1.4 1.9 1.4 1.3 1.9 .3 2.3 .3 1.8-.9 1.9 .3 1.8-.7 2.3 1 2.2 .9 1.7 .3 1.6 .4 1.6 1.8 1.5 1.1 1.6 1.3 1.2 1.9 1.1 1.8 1.2 1.5 1.1 2.1 1.1 1.5 1.2 1.4 1.1 0 1.2 1.7 1.1 .8 1.1 1.6 1.2 1.8 1.1 1.1 1.2 1 1.6 1.9 2.1 .9 1.8 1.3 1.8-.7 1.8-.4 1.8 .3 1.8-.3 1.7-1.4 1.7-.8 1.7-.2 1.7-.6 2.3 .3 1.7 .9 1.7 .5 1.7 .3 1.7 .5 1.8 .9 1.7 1.9 1.7 .5 1.7 1.4 1.7-.3 1.7 1.6 1.7-.3 1.7 .4 1.7 .9 1.7 1.4 1.7 1 1.5 1.5 1.4 .2 1.5 .6 1.4 .5 1.5 1.6 1.9 2.2 1.9-1 1.4-.9 1.5-1.4 1.4-.6 1.5-1.4 1.4-.7 1.3-1.8 1.3-1.8 1.3 0 1.3-1.8 1.3-1.7 1.3-.9 1.3 0 1.3-1.8 1.3-1.7 1.3 .2 1.3-1.3 1.3-2.5 1.3-.6 1.3-1.9 1.3-1.2 1.3-1.9 1.3-1.8 1.3-.7 1.4-1.3 1.3-1 1.3-.7 1.3-1.7 1.3-2 1.3-1.7 1.3-1.5 1.3-.2 1.3-1 1.3-1.6 1.4-1.8 1.5-.1 1.4-1.3 1.4-1.9 1.5-.2 1.4-.6 1.4-1 1.3-1.8 1.3-1.5 1.3-1.8 1.3-1.6 1.3-1.2 1.3-1.5 1.3-.3 1.3-1.4 1.3-1.9 1.3-1.2 1.3-1.7 1.3-1 1.3-2 1.2-1.1 1.1-1.4 1.2-1.2 1.1-1.8 1.2-1.9 1.1-1.1 1.1-1.1 1.1-1.1 .6-2.2 .2-1.6" fill="none" stroke="#d09c9e" stroke-width="1.9" stroke-linejoin="round" stroke-dasharray="4 3"/><g><line x1="730.9" y1="1666.3" x2="730.9" y2="1887.2" stroke="#161616" stroke-width="2.5"/><path d="M727.7,1685.9h3.2 M727.7,1704.1h3.2 M727.7,1722.3h3.2 M727.7,1740.5h3.2 M727.7,1758.6h3.2 M727.7,1776.8h3.2 M727.7,1795.0h3.2 M727.7,1813.1h3.2 M727.7,1831.3h3.2 M727.7,1849.5h3.2 M727.7,1867.7h3.2" stroke="#161616" stroke-width="1.6"/><line x1="665.4" y1="1776.8" x2="996.6" y2="1776.8" stroke="#161616" stroke-width="2.7"/><path d="M665.2,1776.8v3 M796.6,1776.8v3 M862.2,1776.8v3 M927.9,1776.8v3 M993.5,1776.8v3" stroke="#161616" stroke-width="1.6"/><text transform="translate(665.2,1798.6) scale(1.05,0.88)" text-anchor="middle" font-family="'Liberation Serif', 'Times New Roman', serif" font-weight="bold" font-size="16.5" fill="#222">-200</text><text transform="translate(796.6,1798.6) scale(1.05,0.88)" text-anchor="middle" font-family="'Liberation Serif', 'Times New Roman', serif" font-weight="bold" font-size="16.5" fill="#222">200</text><text transform="translate(862.2,1798.6) scale(1.05,0.88)" text-anchor="middle" font-family="'Liberation Serif', 'Times New Roman', serif" font-weight="bold" font-size="16.5" fill="#222">400</text><text transform="translate(927.9,1798.6) scale(1.05,0.88)" text-anchor="middle" font-family="'Liberation Serif', 'Times New Roman', serif" font-weight="bold" font-size="16.5" fill="#222">600</text><text transform="translate(993.5,1798.6) scale(1.05,0.88)" text-anchor="middle" font-family="'Liberation Serif', 'Times New Roman', serif" font-weight="bold" font-size="16.5" fill="#222">800</text><text transform="translate(725.4,1690.7) scale(1.05,0.88)" text-anchor="end" font-family="'Liberation Serif', 'Times New Roman', serif" font-weight="bold" font-size="16" fill="#222">-5</text><text transform="translate(725.4,1872.4) scale(1.05,0.88)" text-anchor="end" font-family="'Liberation Serif', 'Times New Roman', serif" font-weight="bold" font-size="16" fill="#222">5</text><text transform="translate(829.9,1884.2) scale(1,0.86)" text-anchor="middle" font-family="'Liberation Serif', 'Times New Roman', serif" font-weight="bold" font-size="18.6" fill="#1e1e1e">Latency (ms)</text><text transform="translate(639.9,1776.8) rotate(-90) scale(1,0.86)" x="0" y="0" text-anchor="middle" font-family="'Liberation Serif', 'Times New Roman', serif" font-weight="bold" font-size="18.6" fill="#1e1e1e">Amplitude (μV)</text><text x="710.5" y="1675.4" text-anchor="end" font-family="'Liberation Serif', 'Times New Roman', serif" font-size="30" fill="#111">Pz</text></g><path d="M666.1 1779.2l2.1-.7 1.7 .2 1.8 1 1.8-1.9 1.7-.7 1.8-.6 1.8 .7 1.8-.5 1.8 .1 1.8-.5 1.8-1.4 1.8 .3 1.7-1.4 1.8 .3 1.8 .8 1.8-1.2 1.8-1.3 1.8-1.5 1.8-.2 2.3 .3 1.8 .2 1.7-.1 1.8 .6 1.7 1.2 1.7 1.3 1.7 1.6 1.8 0 1.7 .7 1.7 1.6 1.7 .5 2.4-.6 1.8-.9 1.7-.8 1.8 .5 1.8-2 2.3-2.3 2.1 .4 1.5-.6 1.6-1.8 1.6 .6 2.1 .1 2.4 1 1.8 .5 1.9-.3 1.8-.1 1.8 .1 1.6 1.5 1.7 .2 1.6 .8 1.7 1.1 1.5 .4 1.3 2.1 1.1 1.9 1.1 1 1.5 1.2 1.4-2.1 1.1-2 1.1-2 1-1.4 1.5-1.2 2.1-.3 1.8-1 1.8-.2 2.2-.5 1.6-2.5 1.2-.6 1.2-.8 1.6-2.4 2 1.4 1.2 .6 1.2 1.2 1.2 1.9 1.2 1.5 1.2 2.6 .6 1.8 .6 2.1 .5 1.4 .6 1.7 .6 1.1 .6 2.6 .5 .9 .7 2.8 .7 1.8 .7 .5 .7 1.9 .7 1.6 .8 1.9 .7 2.3 .7 1.2 .7 1.5 .8 2.5 .9 .4 1 2.1 1 1.1 1 2.2 1 1.4 1 .7 1 1.5 1 1.6 1.6 1.9 1.6 .2 1.7 1.5 1.7 .1 1.8 1.4 1.7 .9 2.4-.4 1.8-.4 1.8-.4 1.9-.3 2.3-.9 1.7 1.9 1.8 .4 1.7 .6 1.7 1.4 1.5 .1 1.3 .8 1.4 1.6 1.3 2.6 1.3 .9 1.3 1.3 1.7 1.3 1.9 0 1.4-.7 1.5-1 1.4-1 1.4-.4 1.9-.4 1.8-.1 1.3 1.9 1.3 .1 1.3 1.9 1.3 2.1 1.3 1.8 1.5 .1 1.7 1.9 1.7 1 1.7-.2 1.7 1.4 1.7 .5 2.4-1.1 1.8 .4 1.9-.3 1.8-1.4 1.9-1.8 1.2-1.1 1.2-.7 1.1-1.4 1.1-.4 1.2-1.5 1.1-1.4 1.2-2.1 1.1-1.8 1.1-1.2 1.2-1.9 1.1-1.9 1.2-1.5 1.1-1.1 1.1-.9 1.2-.3 1-1.5 1-2.4 1.1-1 1-1 1-1.8 1-1.4 1-2 1-1.8 1.1-2.5 1-1.3 1.2-1.3 1.1-1.8 1.2-.9 1.1-1.2 1.1-.8 1.2-2.6 1.1-1.5 1.1-1 1-1.3 1-1.4 1-1.2 1-2.2 1-1.2 1.1-1.9 1-1.6 1-1.5 1.8-2.7 1.4-1.7 1.4-.2 1.5-1.7 1.4-1 2-1.5 1.6-.4 1.8-1.2 1.7-.9 1.7 .4 1.7 .4 1.7 .2 1.6-.7 1.6-1 1.6-1.5 1.5-.1 1.6-1.7 1.5-.4 1.6-.8 2.1-1.3 2 .9 1.6 .8 1.5 .6 1.6 1.6 1.5 1.1 2.2 1.1 2.2-.6 1.8 .2 1.8 .1 1.8-.5 1.8-.2 1.8-1 1.8-1.4 1.7 0 1.7-.6 1.7-1 1.6-1.2 1.1-.4" fill="none" stroke="#4a3964" stroke-width="1.9" stroke-linejoin="round"/><path d="M666.1 1778.6l2.1-1.8 1.8-.1 1.8-2.2 1.8-.1 1.8-1.4 1.8-.2 1.9-.1 1.9-.4 1.8-.8 1.9-.6 1.9 .7 1.9 1 1.8-.2 1.9 .1 1.8-.4 1.8-1.5 1.7-1 1.8-.3 1.8-.8 2.4 .4 1.8 .1 1.8-.1 1.8 2.2 1.7 .1 1.7 2.7 1.6 1.5 1.7-.5 1.6-.3 1.7 1.6 2.2-.8 2.3-.8 1.7-.1 1.7 .2 1.8 .5 1.7-.4 1.8 .7 1.7-.9 1.8-1.7 1.8-1 1.8-1.3 1.8-.4 1.8 .1 1.8-.4 1.8 1.1 1.8-1 1.8 2.1 1.7 1.7 1.7-.2 1.8-.3 1.7 1.6 1.9 1.1 1.4 1.2 .9 1.5 1 1.2 2 1.3 1.1-2.8 1.1-1.9 1-1.2 1.1-1 1.2-.8 2-1 1.8 .3 1.8-1.8 1.7-1.8 1.5-.1 1.5-2 1.4-.5 1.4-1 2.1-.1 1.1 1.2 1.2 1 1.1 3 1.1 1.7 1 1.5 .8 1.5 .6 2.4 .6 1.3 .7 2.3 .6 1.6 .6 2.4 .7 .9 .6 1.2 .7 1.9 .7 2 .7 2.6 .6 1.8 .7 1.6 .7 .6 .7 2 .7 2.2 .7 1.5 .8 2 1 .9 1 1.4 1 .6 1.1 1.3 1 2.4 1 .7 1.1 2.5 1.6 1.4 2.2 0 1.8-.1 1.8 .2 1.8-.6 1.8-.3 1.7-.7 1.8-1.5 1.7-1.4 1.7-.5 2.1-.9 2 2.1 1.4 1.4 1.5 1.2 1.4 .6 1.5-.1 1.4 2.4 1.4 .9 1.5 .3 1.4 .7 1.5 2.3 1.4 .2 1.8 .5 1.8-2 1.3-1.1 1.3-1.3 1.3-.1 1.3-1.3 1.9-1.4 2.3-.8 1.8 .7 1.8-.1 1.9 .2 1.7 1 1.8 .8 1.7 .3 1.7 2.3 1.7 .8 1.6 .6 1.5 .6 1.5 1 1.4 1.2 1.5 2 1.4 1.1 1.4 1.4 1.4 .5 1.3 1.2 1.3 1 1.3 2.1 1.3 .9 1.3 .3 1.8 .7 2.2 .1 1.7-1.1 1.7-1.5 1.7-.2 1.8-1.6 1.7 .1 1.7-.1 1.7-1.8 1.7 .2 1.7-.2 1.7-.8 1.7-1.3 1.7-1.6 1.7-.6 1.8-1.5 1.7-.9 1.7-.5 1.7-.8 1.7-.5 1.7-.5 1.7 0 1.7-.6 1.7-.9 1.7-2.1 1.8-.8 1.7-1.4 1.7-.2 1.7-.6 1.7-1.4 1.7-.7 1.7-.3 1.6-.6 1.5-1.6 1.4-.3 1.5-.6 1.4-1.4 1.4-2.1 1.6-.9 1.6-.5 1.7-.5 1.7-.5 1.7-2.3 2.2-1.1 2 .4 1.5 1 1.4 2.2 1.4 1.2 1.5 1.9 1.9 1 1.9-2.2 1.5-1.3 1.4-.5 1.4-.6 1.5-.9 1.4-2.4 1.5 0 1.4-1.4 1.4-1 1.5-1.5 1.4-1.3 1.2-1 .3-.5" fill="none" stroke="#4a3964" stroke-width="1.9" stroke-linejoin="round" stroke-dasharray="4 3"/><path d="M666.1 1778.7l2.1-.1 1.8-1.8 1.8-1.7 1.7 0 1.8-1 1.8 1.2 1.8 .4 1.7-.9 1.8-2 1.8-.2 1.8-.4 1.8 1.6 1.8 .9 1.8-.5 1.8-.6 1.8 .6 1.8 .5 1.7 .4 1.8-1.9 2.4-.8 1.8-1.2 1.8 2.2 1.9-.8 1.8 0 1.7 2.1 1.7 2.1 1.7 1.4 1.7-.4 1.7 .8 2.4-.2 1.8-.4 1.8-2 1.8 .6 1.8 1.1 1.8-1 1.8-1.8 1.8-.8 1.8-.3 1.7-1 1.8-2.2 1.8-.9 1.8 .3 1.8 1.5 1.8 1.4 1.8 0 1.7 .4 1.7 1 1.7 1.2 1.6 .9 1.6 .6 1.6 0 1.8 1.4 1.1 2.7 1 1.7 1.4 .8 1.8-1.1 1.1-1 1.1-2.3 1.1-1.8 1.1-1.2 1.8-1.8 1.6-.4 1.5-1.1 1.6-1.2 1.5-.8 1.4-.5 1.4-1.2 1.4-2.5 1.8-.2 2 1.3 1.2 2 1.1 1.8 1.1 .6 1.2 1 .8 1.5 .7 1.1 .5 1.6 .5 1.1 .6 2.6 .5 2.8 .5 1.5 .6 1.1 .5 2.1 .7 .8 .6 1.4 .6 1.8 .7 2.2 .6 2.9 .7 1.8 .6 .9 .6 1.7 .7 .9 .6 1.6 1.1 1.6 1 1.5 1.1 1.1 1 2.9 1 1 1 1.8 1.1 2.3 1 .6 1.5 1.4 1.6 1.6 1.7 1.4 1.7 .6 1.7 0 1.7 1 1.7 2.2 1.7 1.1 1.7 1.6 1.7 .9 1.7 .7 1.4 1.6 1 .8 .9 2.1 .9 .6 .9 .9 1 1.9 .9 1.9 .9 1.5 .9 1.8 .9 2.2 1.1 .9 1.2 .5 1.4 1.8 1.3 2.2 1.3 1.5 1.3 1 1.8 1.7 2-1.1 1.8-.8 1.7-1.3 1.7 .4 1.7-.6 1.7-2 1.7-.1 1.7-1 1.7-2.4 1.7 .5 1.8-1.9 1.8-.4 1.8-.5 1.9 .3 1.8-.7 1.7-.8 1.8 0 1.7-.6 1.7-2 1.7 0 1.6-.1 1.3-2.1 1.1-1.7 1.1-1.9 1.2-2 1.1 .1 1.2-1 1.1-2.2 1.1-1.2 1.2-1.1 1.1-1.5 1.2-.9 1.1-1.6 1.1-2.3 1.2-2.2 1.1-1.4 1.1-.9 1.1-1.9 1-2 1-.8 1-1.7 1-2.3 1-1.5 1-1.2 1.1-1.6 1-2.3 1.1-1.3 1.2-.8 1.1-1 1.1-2.1 1.2-1.8 1.1-1.9 1.2-1.2 1.1-.7 1.1-1.6 1.2-.9 1.1-1.3 1.2-2.4 1.1-1.4 1.1-1.1 1.2-.9 1.2-2.2 1.8-1.8 1.5-1.5 1.4-.6 1.5-.8 1.4-1.8 2.1-1.4 1.7 .8 1.8 .4 1.8-.3 1.8-.6 1.8-1.6 1.8-.6 1.8 .4 1.8-.4 1.8 .9 1.8 .2 1.8 .8 1.8-.2 1.8 .1 1.8 .1 1.8-.3 1.8-1.2 1.8-1.2 1.8-1 2.3-.1 1.5-1 1.6 .3 1.5-1.7 1.6-.4 1.5-1.7 1.6-.4 1.7-1 1.8-1.3 1.8-1.3 1.8 .6 1.8-.1 .8 .9" fill="none" stroke="#8c5872" stroke-width="1.9" stroke-linejoin="round"/><path d="M666.1 1780.3l2-.1 1.7 .2 1.7-2.2 1.7 .3 1.7-.7 1.9 .3 1.9-1 1.8 0 1.9-2.3 1.9-1.1 1.9 .6 1.8-.4 1.9-1.6 1.9-.4 1.9-1.4 1.8-1.5 1.8-.4 1.8-.2 1.8-.3 1.8 1.5 1.8 1.2 1.8 1.1 1.8-.4 1.8 .7 1.8 .4 1.6-.4 1.7 1.6 1.7-.3 1.7-.3 2.3 .8 1.9 1.5 1.8 .8 1.9 .9 1.9 .2 1.8-.5 1.8-.1 1.7-.5 1.6-1.1 1.6-2.7 1.6 .3 1.7 0 2.4 .7 1.8 .7 1.9-.5 1.9 .9 1.7-.1 1.7-.4 1.6 1.8 1.6 .4 1.6 1.1 1.6 1.7 1.3 .4 1.2 1.2 1.1 1.5 1.5 1.2 1.6-.4 1.3-1.2 1.2-.3 1.2-2.5 1.3-2.1 1.9-.1 1.7-.2 1.7-2 2.1-1.8 1.4-1.5 1.3-1.6 1.3-1.4 1.3-1 1.7-1.8 1.5 .7 1.1 1 1.2 2.4 1.1 2.4 1.1 1.5 1.1 2.6 .6 1.3 .6 2.3 .5 1.6 .6 1 .6 1.1 .5 2 .6 2.7 .6 1.1 .7 2.1 .6 2 .7 .6 .6 1.8 .6 .8 .7 2 .6 2.3 .7 1.6 .6 2.5 .8 .6 1.5 1.3 1.3 1.8 1.3 1.8 1.3 1.1 1.3 2.5 1.8 .7 2.2 .6 1.8 .8 1.8 .3 1.8-1.3 1.9-.2 1.8 .6 1.8-.6 1.8-.6 1.9-.5 2.2-.4 2 1.1 1.4 2.3 1.5 .6 1.4 .1 1.4 2 1.4 .9 1.3 1 1.4 .8 1.3 1.4 1.3 .4 1.3 2 1.7 2.2 1.7-.6 1.3-.9 1.3-2 1.3-1.4 1.3-.3 1.3-1.8 2-1.1 2.4 .3 1.8 1.4 1.8 .7 1.8 .1 2.1 .3 1.5 1.2 1.4 2 1.4 .2 1.5 .5 2 2 1.7 1.7 1.8 .7 1.9 1.2 1.8 .4 1.8-.9 1.8 .6 1.9 .8 1.8-.1 1.8 1.4 2.4-.7 1.7-.7 1.7-.7 1.7-1.9 1.7-.9 1.6-1.7 1.5 .3 1.3-.5 1.3-1.1 1.3-2.3 1.3-1.6 1.3-.7 1.3-1.6 1.3-.9 1.3-.9 1.3-1.6 1.3-1.1 1.3-.8 1.3-2.1 1.3-2.3 1.3-1.1 1.3-1.4 1.3-1.8 1.3-.3 1.3-1.9 1.3-1.7 1.3-.3 1.3-1.3 1.3-2 1.3-2.1 1.3-.6 1.3-.8 1.3-1.6 1.4-1.9 1.5-.9 1.5-.7 1.6-1.1 1.6-1.1 1.5-.1 1.6-1.2 1.5-.8 1.7-.3 1.7-1.1 1.7-.4 1.7-1 1.7-1.9 1.7 .3 1.8-1.4 1.7-.2 1.8 .4 1.8-.7 1.8-.6 1.8-.5 1.8-1.2 1.8-.4 1.8-.3 1.8 .2 1.8 .4 1.8-1.2 1.8 .7 1.9-.5 1.8-1.2 1.8 .1 1.8-.4 1.8-.8 .8-.5" fill="none" stroke="#8c5872" stroke-width="1.9" stroke-linejoin="round" stroke-dasharray="4 3"/><path d="M666.2 1778.8l2.1-1.3 1.8-.9 1.8-1 1.9 0 1.8-.6 1.8 .5 1.8-1.1 1.9 1.3 1.8 .3 1.7-1.3 1.8-.6 1.7-1.5 1.8 .3 1.7-.4 1.8 .9 1.8-1.1 1.9-.8 1.8-.1 1.8-.6 1.9-.6 1.8-.1 1.9 1.2 1.8-.9 1.8-.1 1.7 .6 1.6 1.3 1.6 .9 1.6-.6 1.6 1.6 2.2 2.1 1.8 .4 1.8-.1 1.9 .5 1.8-.3 1.8-2 1.8-2.4 1.6 .5 1.7-.7 1.6-1.1 1.6-.7 1.6-2.1 2.2 1.3 2.2 1.6 1.7-.3 1.7 2.2 1.7-.3 1.7-.4 1.6 .9 1.6 .5 1.6 2.3 1.7 1.3 1.4 1.1 1.6 1.8 1 .6 1 2.5 1.7 .5 1.3-2.4 1-1 1-2.4 .9-1.5 1-.2 1.6-2 2.1-1.4 1.9-.4 1.7-1.4 1.6-.6 1.4-1.6 1.4-.3 1.3-1 1.8-.5 1.5 1.8 1.1 .8 1.1 1.2 1.1 1.5 1.1 .9 .9 1.5 .7 1.6 .6 2 .6 1.3 .6 2 .7 1.1 .6 1.8 .6 2 .6 1.2 .6 2.2 .7 1.3 .6 2.6 .7 2.3 .6 1.8 .6 1.7 .7 2.1 .6 1.4 .6 2.3 .7 2.2 1.1 1.7 .9 .9 .9 1.7 .9 .9 .9 1.6 .9 1.8 .9 1.4 .9 2.5 .9 1.9 1.6 1.7 1.6 1 1.7 0 1.7 .1 1.8 1.2 1.7 .1 1.8 .7 1.8-.4 1.8 1.5 1.9 .6 2 1.8 1.5 1.8 1 .9 1 .9 1 2.3 1 1.7 1 1.8 1.1 .8 1 2 1 2.2 1 1.7 1 1 1 1 1 2 1.1 2.1 1 1.7 1 2.2 1.5 .7 2.1-1.4 1.7-.6 1.7-.9 1.7-.4 1.8-.7 1.7-1.3 1.7-.6 1.7-.6 1.7-1.7 1.7-1.1 1.7-.3 1.7-1.2 1.7-.6 1.7-.9 1.8-1.3 1.7-.6 1.7-1.4 1.7-1.5 1.7-.9 1.7 .4 1.6-1.9 1.4-.2 1.3-.8 1.3-1.6 1.3-2.4 1.3-1.4 1.3-.3 1.3-1.8 1-1.4 1.1-1.7 1-1.6 1-1.6 1-1.9 1-1 1-1.1 1-.8 1.1-1.7 1.1-1.9 1.1-1.2 1.2-.6 1.1-1.1 1.2-2.7 1.1-1 1.1-1.2 1.2-2.1 1.1-2.2 1.2 .1 1.1-1.9 1.1-.9 1.2-1.8 1.1-1.2 1.2-1.3 1.1-2.2 1.1-1.3 1.2-.8 1.1-3 1.2-1.1 1.1-1.8 1.1-.3 1.2-1.4 1.2-1.5 1.8-2.1 1.5-.9 1.4-1.2 1.5-.2 1.4-1.3 2.1-.3 1.8-1.6 1.8 .3 1.8-1.5 1.8-.3 1.9-.4 1.8-1 1.8 .9 1.8 .9 1.8 .4 1.8-.2 1.8-.4 1.8-.9 1.8-1.4 1.8-.9 1.8-.3 1.8 0 1.7-.4 1.8-.2 1.7-1.4 1.7 .1 1.7-1.2 1.7-1.5 1.7 .3 1.8-.3 1.7-.5 1.7-1.1 1.7-.3 1.7-.6 1.7-.3 2.1-2 .6-.3" fill="none" stroke="#d09c9e" stroke-width="1.9" stroke-linejoin="round"/><path d="M666.2 1779.7l2.1-.5 1.9-1.7 1.8-1.3 1.8 .7 1.9-.2 1.9-.4 1.8-.2 1.9 1.3 1.8 .2 1.8-.8 1.7-1.1 1.7-.9 1.8-2 1.7-1.4 1.8-1.8 1.8 .1 1.8-.4 1.9-.1 1.8 .4 1.8 .6 1.9-.1 1.8 .3 1.9-.1 1.8-.1 1.6 1.1 1.6 1 1.6-.1 1.6 2.4 1.6 0 2.2 1.3 2.4 .6 1.8-.8 1.8 .2 1.8 .3 1.8-.2 1.7-.4 1.7-2.4 1.7-1.5 1.6-1.1 1.7-.5 2.2 0 2.3 .1 1.8 .3 1.7 .9 1.7 1.5 1.7 2.3 1.7 .1 1.6 .7 1.6 1.1 1.6 1.2 2.1 1.1 1.6 1.2 1.1 .7 1 .9 1.8-.5 1.4-1.4 1.1-2 1.1-.7 1.1-1.9 1.5-1.2 2.1-.5 1.8-.1 1.8-.3 2.1-2 1.2-1.9 1.2-1.9 1.2-1.1 1.6-1.8 1.8 2.4 1 .5 1.1 2.8 1 .6 1.1 1.7 1 .8 .9 2.1 .6 .7 .6 1.1 .6 1.9 .6 3.1 .6 2.7 .6 2 .7 2.4 .6 .6 .6 1.2 .7 .9 .6 1.8 .7 1.6 .6 2.8 .7 2 .6 1.7 .7 2.1 .7 1 .9 2.4 1.2 2.1 1.1 2.1 1.2 1.2 1.1 .9 1.2 2.1 1.1 .3 1.2 .7 1.5 2 1.7 .1 1.7-.1 1.7 .5 1.7 2.2 1.8 1.1 1.8-.2 1.8 1.2 1.8 1.3 1.9 .2 1.6 .9 2 1.3 1.4-.3 1.5 .3 1.4 1.5 2 1.1 1.6 .6 1.9 1.2 1.8 .5 1.8-.6 2.3 .7 1.9-.6 1.3-1.7 1.3-1.5 1.3-1 1.3-1.7 1.8-1.9 2.1 .8 1.7 1.4 1.7 .4 1.7 1.5 1.7 1.5 1.7 1.2 1.7-.1 1.7 .8 1.7 .9 1.8 .3 1.7 .6 1.7 1.7 1.7 1.7 1.7 .9 1.7 .9 1.7-.2 1.8 1.1 1.9 .7 1.8 .2 1.8 .6 2.2 .1 1.8-1.5 1.3-.6 1.3-2.4 1.3-.6 1.3-2.8 1.3-2 1.4-1.1 1.5-.9 1.4-.1 1.4-1.9 1.5-.8 1.4-.6 1.4-1.4 1.3-2.4 1.3-.4 1.3-1.4 1.3-2.1 1.3-1.3 1.3-.1 1.3-2 1.3-1.9 1.3-.3 1.3-1.5 1.3-.6 1.3-1.3 1.4-1.5 1.4-.8 1.7-1.2 1.7-1.1 1.7-.3 1.7-1.4 1.7-2.1 1.7-1.3 1.8 .3 1.7-.4 1.7-1.8 1.7-.2 1.7-.7 1.7-.7 1.7-.6 1.7-1.2 1.7 .2 1.7-.8 1.8-.6 1.6-.8 1.7-1.4 1.5 0 1.6-.8 1.5-.5 1.6-1.2 1.5-.9 1.6-.2 1.6-.8 1.5-1.6 1.6-.9 1.5-1.5 1.6 .3 1.5-1.3 1.6-.6 1.5-1.3 1.5-1 1.4-.6 1.5-1.6 1.4-1.9 1.4-1.5 1.6-2.1 .4-1.3" fill="none" stroke="#d09c9e" stroke-width="1.9" stroke-linejoin="round" stroke-dasharray="4 3"/><g><line x1="1202.0" y1="1665.8" x2="1202.0" y2="1886.5" stroke="#161616" stroke-width="2.5"/><path d="M1198.8,1684.8h3.2 M1198.8,1702.9h3.2 M1198.8,1721.0h3.2 M1198.8,1739.2h3.2 M1198.8,1757.3h3.2 M1198.8,1775.5h3.2 M1198.8,1793.7h3.2 M1198.8,1811.8h3.2 M1198.8,1830.0h3.2 M1198.8,1848.1h3.2 M1198.8,1866.2h3.2 M1198.8,1884.4h3.2" stroke="#161616" stroke-width="1.6"/><line x1="1136.0" y1="1775.5" x2="1466.0" y2="1775.5" stroke="#161616" stroke-width="2.7"/><path d="M1136.3,1775.5v3 M1267.7,1775.5v3 M1333.3,1775.5v3 M1399.0,1775.5v3 M1464.6,1775.5v3" stroke="#161616" stroke-width="1.6"/><text transform="translate(1136.3,1797.3) scale(1.05,0.88)" text-anchor="middle" font-family="'Liberation Serif', 'Times New Roman', serif" font-weight="bold" font-size="16.5" fill="#222">-200</text><text transform="translate(1267.7,1797.3) scale(1.05,0.88)" text-anchor="middle" font-family="'Liberation Serif', 'Times New Roman', serif" font-weight="bold" font-size="16.5" fill="#222">200</text><text transform="translate(1333.3,1797.3) scale(1.05,0.88)" text-anchor="middle" font-family="'Liberation Serif', 'Times New Roman', serif" font-weight="bold" font-size="16.5" fill="#222">400</text><text transform="translate(1399.0,1797.3) scale(1.05,0.88)" text-anchor="middle" font-family="'Liberation Serif', 'Times New Roman', serif" font-weight="bold" font-size="16.5" fill="#222">600</text><text transform="translate(1464.6,1797.3) scale(1.05,0.88)" text-anchor="middle" font-family="'Liberation Serif', 'Times New Roman', serif" font-weight="bold" font-size="16.5" fill="#222">800</text><text transform="translate(1196.5,1690.2) scale(1.05,0.88)" text-anchor="end" font-family="'Liberation Serif', 'Times New Roman', serif" font-weight="bold" font-size="16" fill="#222">-5</text><text transform="translate(1196.5,1871.7) scale(1.05,0.88)" text-anchor="end" font-family="'Liberation Serif', 'Times New Roman', serif" font-weight="bold" font-size="16" fill="#222">5</text><text transform="translate(1301.0,1883.5) scale(1,0.86)" text-anchor="middle" font-family="'Liberation Serif', 'Times New Roman', serif" font-weight="bold" font-size="18.6" fill="#1e1e1e">Latency (ms)</text><text transform="translate(1111.0,1775.5) rotate(-90) scale(1,0.86)" x="0" y="0" text-anchor="middle" font-family="'Liberation Serif', 'Times New Roman', serif" font-weight="bold" font-size="18.6" fill="#1e1e1e">Amplitude (μV)</text><text x="1196.0" y="1675.4" text-anchor="end" font-family="'Liberation Serif', 'Times New Roman', serif" font-size="30" fill="#111">Pz</text></g><path d="M1137.2 1774.9l2.1-3.6 1.8 1.8 1.8 2.1 1.9 1.1 1.8-2.9 1.8-1.1 1.9 3 1.8-.3 1.9-2.2 1.8 .5 1.8 .9 1.8-3.9 1.8 1.4 1.7 0 1.6-1.1 1.5-1.6 1.5-2 1.5-3.7 1.4 2.7 1.5-.2 1.8 2.6 1.3 2.8 1.3-2.2 1.3 3.3 1.3 1.6 1.3-1.9 1.4 3 1.6 .2 1.6-.6 1.7-1.2 1.7-.8 1.7-.7 2.2 .6 1.6 2.8 1.7-.1 1.7-1.5 1.6 2.1 1.7-1.5 2.3-.3 2.4-3.4 1.8-1.8 1.8 .9 1.8-1 2.3 2.4 1.7 .1 1.8-2.4 1.7 1.4 2.3-2 2.4 2.6 1.7-1.1 1.8 .1 1.8 2.8 1.9-.7 1.9 2.4 1.9 .2 1.9-2 1.8-.5 1.7-2.7 1.8 1.9 1.8-2.2 1.7-.9 1.7 .3 1.7 1.3 1.6-3.3 1.6-1.8 1.7-.4 2-1 1.7 3.1 1.1 3.3 1.1 2.6 1.1-.9 1.1 .8 1 1.7 .7 .4 .7 1 .7 4.1 .7 1.3 .6 .6 .7 1.8 .7 4.4 .7 1.9 .6 3.1 .8 .4 .8 1.8 .8 2.7 .8-.7 .9 0 .8 .6 .8 2.4 .8 .5 .8 2.2 .8 1.3 .8 2.7 .8 1.2 .8 3.4 .8 3.9 .8 2 .7 2 1.2 3 1.9-1.2 1.7-1.5 1.7-2 1.7-1.7 1.7 2 1.8-.3 1.8 1.2 1.8-.1 1.9-2.3 2.3 .4 2-.5 1.5 3.3 1.4 3.1 1.4 1.1 1.5-1 1.4-.4 1.5-.3 1.4 .3 1.4 3.3 1.5 2.9 1.4 .2 2 1.4 2.2 1.4 1.7-.4 1.7 0 1.7-1.2 1.8-2 2.4-1.8 1.8-.5 1.8-.6 1.8 1.7 2 2.1 1.2 1 1.1 2 1.2-.6 1.1 2 1.1 2 1.2 .6 1.2 1 1.7 .2 1.5 1.4 1.4 2.5 1.5 3.6 1.4 1.2 1.8-1.3 1.6 .9 1.2-3.4 1.1-2.8 1.2 .6 1.1-2 1.1-.7 1.2-3.3 1.1-1 1.2-1.5 1.1 .6 1.1-.8 1.2-2.4 1.1-1 1.2-.7 1.1-1.8 1.1-.6 1-1.2 1-3.7 1-3.4 1-.2 1.1 .5 1-1.7 1-1.5 1-2 1.2-2.7 1.2-3.4 1.3 .6 1.3-2.7 1.3-1.4 1.3-1.9 1.3-.8 1.4-2.3 1.4-2.1 1.5-1.1 1.4 1.6 1.4-.1 1.5-2.9 1.4-1.2 1.4-2 1.5 1.4 1.4-3.4 1.4 .9 1.4-1.6 1.5 .5 1.4-2.9 1.5-1 1.5-2.6 1.5-1.7 1.6 1.5 1.5 1.4 1.6-.4 1.5-2.6 1.6-1.2 2.3 .1 1.8 1.5 1.8-2.3 1.8-.7 1.8-1.1 1.8-1.4 1.8-2 1.8 2.1 1.8-1.9 1.8-.2 1.8 1.5 1.8 1 1.8-1 1.9-.2 1.8 1.7 1.8-1.7 1.8-1.6 1.8 1 1.9 .9 1.8 .1 1.8 .2 1.8-1.5 .8 .5" fill="none" stroke="#4a3964" stroke-width="1.9" stroke-linejoin="round"/><path d="M1137.3 1777.6l2.1-.6 1.9-1.7 1.8 .7 1.9 3.6 1.8-2.7 1.8-.5 1.9 1.6 1.8-.9 1.8-1.4 1.8 0 1.8-.2 1.8 .7 1.8-2.7 1.8-2.8 1.6-1.2 1.5-2.5 1.5-3.5 1.5 1.1 1.5-3 2-1.7 1.8-.8 1.3 2.9 1.3 1.6 1.3 3.9 1.3 3 1.4 2.1 1.4 .6 1.7 3.3 1.6 1.5 1.7-1.6 1.7 4.7 2.1-1.3 2.2-4 1.5 1.2 1.6 .1 1.6 .5 1.6-1 1.5-.1 2.3-3.1 1.8-2.1 1.9 1.7 1.8 .5 1.8 1.6 1.8-3.3 1.8-1.7 1.8 2.5 1.8-.2 1.8 1.2 1.9-1.7 1.9 1.6 1.9 1.6 1.9-.4 1.9-2.2 1.8 1.8 1.8 .2 1.9-1.3 2.3 1.1 2.2-2.5 1.6-.4 1.6-1.7 1.6-1.4 1.6 2 1.6-2.4 1.7-1.9 1.7-.8 1.6-.1 2.1 .4 1.7 3.3 1.2 .1 1.2 1.5 1.1 1.3 1.2-.1 1 1.5 .7 1.8 .7-.3 .7 4.7 .7 2 .6 2.5 .7 2.1 .7 2.9 .7-.8 .7-.5 .6 .6 .7 3 .8 3 .7 1.6 .7 2.8 .7 2.7 .7-.8 .7 1.8 .7 2.3 .8 3.5 .7 1.7 .8 2.8 .7 1.4 .8 3.2 .8 1.9 .7 2.4 .8 2 .8-1.4 1.5 .9 2.1-2 1.7-3 1.7-2.4 1.7-1.4 1.8-.5 1.8 2.5 1.8 .4 1.8 .5 1.9 2.3 1.8-.3 1.8-.4 1.8-.7 1.9 2.6 1.8 2.4 1.8 1.6 1.7-1.1 1.7-.8 1.7 2.3 1.7-.4 1.8-1.5 1.8-.5 1.8-1.9 1.8 2 1.8-1.5 1.9 1.9 1.8 2.2 1.8 .1 1.8 .8 1.8 .1 1.9-1.3 1.8-1.7 1.8 0 1.8 .3 1.9 .7 1.8 2.4 1.7 1.1 1.7-.5 1.7-.6 1.7 1.9 1.8 1.1 1.7-.2 1.9-.2 1.8 1.9 1.8-1.3 1.8-.3 1.8 1.7 1.7-.7 1.7-1.9 1.7-.6 1.7-1.4 1.5-2.5 1.4-3.3 1.3-.4 1.3-.3 1.3-2.2 1.3-3 1.3 .3 1.3 .8 1.3-2.6 1.3-2.7 1.3-.2 1.3-2.7 1.3-1.3 1.3-1.5 1.4 .4 1.4-.9 1.5-3 1.4 1.6 1.4-.9 1.5-1.5 1.4 .2 1.5-2.3 1.4 .9 1.4-1.5 1.5-2 1.4-1 1.5-.7 1.6-2.2 1.7-1.3 1.7-2.5 1.7 1.5 1.7-2.1 1.7-1 1.7-2.3 1.7-1 1.8-1.6 1.7 1.3 1.7-2.8 1.7 1 1.7-2.5 1.7 .3 1.7-1.3 1.7-1.6 1.7 .2 1.8 .3 1.8 1.8 1.8-.7 1.8-2.2 1.8-1.2 1.8-1.8 1.8 .1 1.8 1.4 1.7-.5 1.8-1.5 1.8-.5 1.8 2.3 1.8 .1 2 0 .6 1.3" fill="none" stroke="#4a3964" stroke-width="1.9" stroke-linejoin="round" stroke-dasharray="4 3"/><path d="M1137.2 1776.2l2.1 1.6 1.8-3 1.8-1.5 1.8-2.9 1.9 1.4 1.8-2.2 1.9 .9 1.8-2.1 1.9-.7 1.8-.8 1.7-2.6 1.7 1.3 1.7 2.6 1.7 2.1 1.6 1.1 1.6-.6 1.5-.3 1.5-3 1.5-1.5 2-.4 1.9 2.6 1.4 2.7 1.3 2 1.4-.4 1.4-.7 1.4 1 1.5 1.7 1.7-1.4 1.6 1.4 1.6 1.8 1.7-.3 2.1 1.7 2.2-4.4 1.6-3.9 1.6-1.6 1.5-1.5 1.6-1.1 2.2 .1 2.3 1.3 1.8-.5 1.8 4.2 1.7 .8 1.8-1.6 2.4 1.4 1.8 .6 1.8-.1 1.8-.8 1.8 .8 1.8-1.4 1.8-1.2 1.8 .3 2.4 2.5 1.7 1.1 1.7 1.7 1.7-1.8 2.2 2.5 2.2-1.7 1.7-1.5 1.6-1 1.6-2.4 1.6-1.1 1.6-.7 1.6-2 1.6 1.5 1.6-.7 1.6-1.6 2-.1 1.6 3.9 1.2 .6 1.1-.4 1.1 2.2 1.2 .3 .9 4.2 .6 2.8 .6-.5 .6 4 .6 2.9 .5 .2 .6 1.8 .6 .7 .6 .6 .6 2.6 .6 1.2 .6 .2 .7 4.7 .8 1.8 .7 3.6 .8 .3 .7 3.2 .8 2.2 .7 1.9 .8 2.9 .7-.3 .8 .7 .8 2.7 .9 1.4 .8-.4 .9 1.4 .8-.2 .8 4.4 1.4-.6 2.2 1.7 1.8-1 1.8 1.3 1.8 .6 2.4-2 1.7-.1 1.7 1.8 1.7-.8 1.7 1.3 1.6 1 1.3 2.6 1.3-.1 1.3 1 1.3 .8 1.3 2.6 1.4 .3 1.4-.8 1.7-.5 1.7 2.4 1.7 3.6 1.7-1 2.3 2 1.7-1.1 1.7-1.8 1.7 1.4 1.7-1.6 1.8-2.2 1.7-.2 1.7 .1 1.7-.6 1.7-1.3 1.7 .2 2.3-.6 1.7 2.2 1.7-.1 1.7 2.3 1.7-1.6 1.7-1.1 1.7 .2 1.8 2.3 1.7 1.8 1.6 1.3 1.9-.3 1.3-1.7 1.1 .8 1-2.6 1-2.2 1-2.4 1-2.1 1-3 1.1-.1 1.2-3.2 1.3-1.1 1.3-1.3 1.3-.4 1.3-.5 1.4-1.8 1.2-1.4 1.1 1 1-2.2 1-.4 1-2.8 1-3.1 1-2.4 1-.6 1.1 .2 1.1-3.1 1.2-2.2 1.3-2.7 1.3-.1 1.3 1 1.3-1.7 1.3-3.2 1.3 .3 1.4-1.6 1.5-1.8 1.4 1.1 1.5-2 1.4-2.6 1.4 .5 1.5-2.8 1.4-2.4 1.4-1.4 1.4-2.5 1.5-1.3 1.4-.1 1.4-1.6 1.4-2.1 1.5 0 1.4 .7 1.4-1.1 1.4-.2 1.5-2.3 1.4-1.7 1.4 1.6 1.5-1.7 2.2-.9 1.8-1.2 1.8 1.6 1.8 .5 1.8 .5 1.8 .8 1.8-1.9 1.8 1.2 1.8 .9 1.8-1 1.8-2.6 1.8 .1 2.4 2 1.7 0 1.7 1.9 1.7-.3 1.7-.4 1.8-.5 1.8 1.2 1.8 .5 1.8-.2 1.8 1.9 .8 1.8" fill="none" stroke="#8c5872" stroke-width="1.9" stroke-linejoin="round"/><path d="M1137.2 1775.2l2.1-.9 1.8-1.9 1.8 2.4 1.8-2.6 1.8 3 1.8 .6 1.8 2.9 1.8 2.6 1.8-2.9 1.9 .8 1.8 1.6 1.9-4.8 1.8-3.2 1.8 .4 2.1-1 1.4-2.1 1.5-1.4 1.4-2.8 1.4 2.1 1.9 .6 1.8 3 1.3-2.6 1.4 3.3 1.3-2.2 1.4 .4 1.3 1.6 1.5 2.4 1.6-1.2 1.6-1.9 1.7 4.2 1.6-.9 2.2-1.5 2.2 1.8 1.7-1.7 1.6 .8 1.7-.2 1.6-1 1.7 .1 2.4-4 1.8 2.7 1.9-.6 1.8 1.6 1.9 2.2 1.8 1.8 1.7 .4 1.8-.3 1.7-1.2 1.8 1.1 1.8-2.2 1.9-.1 1.8-1.8 1.8-.2 1.8 .5 1.7 .7 1.7-1.5 1.7 2.1 2.2-.6 2.2-2 1.6-1.4 1.6-1.5 1.6-.6 1.6-1.9 1.6 2.2 1.6-.8 1.6-1.2 1.5-1.1 2.1-1.7 1.8 .3 1.1 2.6 1.2 1.5 1.2 1.6 1.2 1.7 1.4 2.2 .9 1.9 .6 2.9 .6 0 .6 .2 .6 2.7 .6 2.5 .6 .4 .6 .9 .6 4.7 .6 1.8 .7-.2 .7 1 .7 1.9 .8 1.7 .7 3.5 .7 2.7 .8 .6 .7 3.3 .7-.8 .9 2.7 .8 2.2 1 .7 .9 3.7 .9 2.6 .9 2.3 .9 .3 1.5 0 2.2-.8 1.8 1.5 1.8-.2 1.9 .9 1.8 1.9 1.8-.2 1.8 1.3 1.8 2.1 1.9-.4 1.7 2.1 1.8 2 1.7-.4 1.7 1.8 1.7-.4 1.7 1.7 1.7 1.5 1.7-2.3 1.7-1.2 1.8 .7 1.7 .3 2.2 1.2 1.8-2.9 1.7 .8 1.7-3.2 1.7-1.5 1.7-.2 1.7 1 1.7-.4 1.7 .1 1.7-2.6 1.8-1.3 1.8-.9 1.8 1.7 1.9 .6 1.8-2.7 1.8-.8 1.8-.5 1.8 2 1.9-2.3 1.8-1.6 1.8-.2 1.8-.2 1.9-1.2 1.8 1.5 1.8-.4 1.8 2.2 1.7 2.9 1.7 .8 1.7 0 1.7 1.4 2.3 1.7 1.7 .1 1.7-1.4 1.8-.5 1.7-1.9 1.6 .3 1.5-1.9 1.5-3.1 1.4 .2 1.4-3.1 1.5-1.6 1.4-2.5 1.4 1.1 1.3-2.9 1.3-2.2 1.3-1.4 1.3-.7 1.3-2.4 1.3-2.4 1.4-.3 1.4 0 1.5-1.6 1.4 .5 1.4-2 1.5 .3 1.5 1.2 1.7-1.3 1.7-.9 1.7-.2 1.7-2.4 1.8-1.4 1.7 .8 1.7 .7 1.7-.4 1.7-3.1 1.7-1.4 1.7 .5 1.7 .3 1.5-2.3 1.6-2.1 1.5-.3 1.6 0 1.5-1.9 1.6 .1 1.6-1.8 1.7-.2 1.7 .1 1.7-.3 1.7 .1 1.7-1.8 1.7 .4 1.8-1.2 1.8-.5 1.8 .3 1.8-1.5 1.8 .4 1.8 0 1.4 .2" fill="none" stroke="#8c5872" stroke-width="1.9" stroke-linejoin="round" stroke-dasharray="4 3"/><path d="M1137.2 1779.1l2.1 .5 1.8-2.7 1.7-.8 1.8 .2 1.8 2 1.9-.7 1.8 .5 1.9-2.6 1.8-.2 2.3-2.3 1.7-.6 1.7-1.4 1.7-2.6 1.7-.4 1.6-3 1.4-.9 1.5-3.1 1.4-.5 1.5 .6 1.9-.9 1.7-1.4 1.2-.2 1.2 1.6 1.2 1.1 1.2 3.2 1.2 2.8 1.7-.2 2 3.6 1.6 0 1.6 1.5 1.6 1.9 2.1 .3 2 .9 1.5 4.2 1.5-2.8 1.5 .2 1.6 1 1.5 1.4 2.1-.1 2.3 1.4 1.9 .8 1.8-1.4 1.9 2.6 1.8-.2 1.7-2.4 1.8-1 1.7-4.8 1.8-3.2 1.8 .8 1.8 1 1.9 1.1 1.9-1.3 1.9-.4 1.9 2.5 1.8-1.3 1.9 .1 1.9-1.6 2.3 1.9 1.8 1.2 1.7-1.7 1.7-1.1 1.7-2.7 1.6 .1 1.6-.4 1.6 .7 1.6-1.8 1.5-3 1.9-.8 1.4 1.5 1.1 1.5 1 2.9 1.1 .9 1 .1 1 3.7 .8 .5 .6 .7 .6 4.3 .6-.4 .6 2.7 .6 2.3 .6 .2 .7 .2 .6 1.3 .6 2 .6 5 .7 3.5 .8 2.6 .7 .4 .8 2.8 .7 2.8 .8-.4 .7-.4 .8 2.6 .7 2 .9-.1 .8 2.8 .9 1.6 .8-.4 .9 4.5 .8 .1 .9 3.5 1.4-.8 2.2-.5 1.8 1.3 1.8 1.6 1.8-.6 1.8 1.6 1.7 0 1.8 .5 1.7-.2 1.7 .3 1.6 .1 1.4 .9 1.3 3.4 1.3 3.7 1.3 3.4 1.3-.8 1.3 2.6 1.4 1.6 1.6-1.7 1.7 1.4 1.7 .3 1.8 .4 1.7-1.4 2.2-.6 1.8 1.5 1.7-.1 1.7 .4 1.6-3.2 1.5-.8 1.3-.6 1.3 .9 1.3-3 1.3-.1 1.3-.6 1.9-3.3 2.3-1.1 1.8 .1 1.9 2.7 1.8 2.8 1.8-1.6 1.8 .7 1.8-1.4 1.9 0 1.8-2.7 1.9-.2 1-3.1 1-1.7 1-.7 1-2.4 1.1-.5 1 .4 1-.9 1-2 1.2-1.1 1.3-2.6 1.3-1.3 1.3-3.6 1.3-.6 1.3-1.2 1.3-1.1 1-3.7 .8-3.2 .8 .6 .9-2.4 .8 .2 .8-2 .8-1.5 .9 0 1.7 .6 1.6-1.2 1.8-2.6 1.7-.2 1.7-2.1 1.6-1.7 1.6 0 1.5 1.2 1.6-1.5 1.6-2.7 1.5 1.6 1.6-1.8 1.5-.9 1.4 .6 1.5-1.5 1.4-3.6 1.4 .4 1.4-2.3 1.5-.7 1.4-1.5 1.4-1.9 1.4 .1 1.5 .2 1.4-2.9 1.4-1.2 1.4-.7 1.5-2.8 1.4-2.4 1.5-2.8 1.5-.1 1.5 1.5 1.6-.2 1.5-3.2 1.6-1.7 1.5-2 1.6-.7 1.7 .7 1.7 1.1 1.7-.3 1.7-.7 1.7-3 1.7-.3 2.3 .5 1.7 1.7 1.7-1.5 1.7 1.7 1.7 2.6 1.7 .2 1.7 1 1.8 1.3 1.7-.3 1.7-1.2 1.5 .2 .7 .3" fill="none" stroke="#d09c9e" stroke-width="1.9" stroke-linejoin="round"/><path d="M1137.2 1777.1l2.1 .6 1.8-.9 1.8-2 1.8-1.6 1.8-2.8 1.8-.3 1.8-1.4 1.8-.2 1.8 2.6 1.8-.1 1.9-1.9 1.8-.1 1.8-1.2 1.8 2.9 1.6 .2 1.5-1.7 1.5 .6 1.5-4.3 1.5-1.2 2 .1 1.8 3.2 1.4 2.8 1.4 1.1 1.4 .9 1.3 2.2 1.4 3.1 1.5 2.9 1.6 .2 1.6-.2 1.6 1.2 1.6-1.3 2.2 1 2.2-4.3 1.6 1 1.7 .8 1.6 .5 1.7-2.6 1.6 .6 2.4-2.1 1.9-.7 1.8-.3 1.9 .7 1.8-1.8 1.9 .6 1.8-2.7 1.8 2.4 1.8 .8 1.9 1.8 1.8-2.1 1.9-.5 1.8 2 1.9-1.8 1.8-1.8 1.9 1.8 1.9 2 1.9-.4 1.8-.7 1.7-1.3 1.7 1 1.7-.1 1.7-2.5 1.7-.3 1.6-.1 1.5-2.9 1.5-.6 1.6 .9 2-3.8 1.7 2.5 1.1-.2 1.1 .9 1.2 1.5 1.1 .9 1.1 3.6 .8-.8 .6 .2 .7 .5 .6 1.8 .6 1.1 .6 4 .6 1.1 .6 .6 .7 3.2 .6 2 .6-.1 .7 3.6 .6 3.1 .7 1.1 .7 4.2 .6 .8 .7 3.6 .7 .4 .6 1.4 .7-.7 .7 3.1 .7 3.1 .8 2.8 .7 2.4 .8 2.7 .8 1.8 .7 1.6 .8-1 .7 1.6 .9 3.3 1.9-.6 1.7-.1 1.7-.8 1.7 .8 1.7 2 1.8 1.3 1.8 .3 1.8 .7 1.9-.8 1.7 2.7 2 .7 1.3 0 1.3 .5 1.3 3.2 1.3 1.6 1.3 2.2 1.4 1.1 1.6-.2 1.7 2.6 1.7 .8 1.8 .4 1.7 .2 2.2 1.9 1.8-2.4 1.7 0 1.7-.6 1.6-2.4 1.6-3.2 1.5 .2 1.4-2.9 1.4-2.8 1.5-1.6 1.4-2.1 1.5-1.6 1.4-1.1 1.4 1.1 1.5-.5 1.4-2 1.5-.9 1.5-.3 1.6 .4 1.7-.6 1.7 0 1.7-1.3 1.8-2.8 2.3 2 1.9-.3 1.8-.7 1.8-.1 1.8 1.6 1.9-.6 1.8 2.8 1.8 2.1 1.8-.8 2.3-.8 2-.2 1.4-2.9 1.4 1.1 1.5-2.1 1.4-.1 1.4-2.1 1.3-.9 1.3-2.2 1.3-2.3 1.3-.8 1.3 0 1.3 1 1.4-2.8 1.4 .4 1.5-.5 1.4-3.8 1.4-.2 1.5-3.3 1.4 .3 1.5-2.8 1.4-1.8 1.4-1 1.5-.9 1.4 1.2 2 .8 1.8-1.6 1.8 .7 1.8-.8 1.8-.7 1.8 .3 1.9-2.3 1.8-.5 1.8-1.3 1.8-1 1.8-.8 1.7-1.6 2.1 1.9 1.4-.8 1.4-1.5 1.5 .3 1.4-3.3 1.4 .2 1.4 .3 1.5 .3 1.7-.8 1.7-.3 1.7-3.7 1.7 .5 1.7 .8 1.7-.6 1.8-1.4 1.8-2.8 1.8-1.1 1.8 1.3 1.8-.7 1.8 .2 1.4-1.8" fill="none" stroke="#d09c9e" stroke-width="1.9" stroke-linejoin="round" stroke-dasharray="4 3"/><g><line x1="260.3" y1="1931.3" x2="260.3" y2="2153.4" stroke="#161616" stroke-width="2.5"/><path d="M257.1,1951.2h3.2 M257.1,1969.5h3.2 M257.1,1987.8h3.2 M257.1,2006.1h3.2 M257.1,2024.4h3.2 M257.1,2042.7h3.2 M257.1,2061.0h3.2 M257.1,2079.3h3.2 M257.1,2097.6h3.2 M257.1,2115.9h3.2 M257.1,2134.2h3.2" stroke="#161616" stroke-width="1.6"/><line x1="195.2" y1="2042.7" x2="524.1" y2="2042.7" stroke="#161616" stroke-width="2.7"/><path d="M194.6,2042.7v3 M326.0,2042.7v3 M391.6,2042.7v3 M457.3,2042.7v3 M522.9,2042.7v3" stroke="#161616" stroke-width="1.6"/><text transform="translate(194.6,2064.5) scale(1.05,0.88)" text-anchor="middle" font-family="'Liberation Serif', 'Times New Roman', serif" font-weight="bold" font-size="16.5" fill="#222">-200</text><text transform="translate(326.0,2064.5) scale(1.05,0.88)" text-anchor="middle" font-family="'Liberation Serif', 'Times New Roman', serif" font-weight="bold" font-size="16.5" fill="#222">200</text><text transform="translate(391.6,2064.5) scale(1.05,0.88)" text-anchor="middle" font-family="'Liberation Serif', 'Times New Roman', serif" font-weight="bold" font-size="16.5" fill="#222">400</text><text transform="translate(457.3,2064.5) scale(1.05,0.88)" text-anchor="middle" font-family="'Liberation Serif', 'Times New Roman', serif" font-weight="bold" font-size="16.5" fill="#222">600</text><text transform="translate(522.9,2064.5) scale(1.05,0.88)" text-anchor="middle" font-family="'Liberation Serif', 'Times New Roman', serif" font-weight="bold" font-size="16.5" fill="#222">800</text><text transform="translate(254.8,1955.7) scale(1.05,0.88)" text-anchor="end" font-family="'Liberation Serif', 'Times New Roman', serif" font-weight="bold" font-size="16" fill="#222">-5</text><text transform="translate(254.8,2138.6) scale(1.05,0.88)" text-anchor="end" font-family="'Liberation Serif', 'Times New Roman', serif" font-weight="bold" font-size="16" fill="#222">5</text><text transform="translate(359.3,2150.4) scale(1,0.86)" text-anchor="middle" font-family="'Liberation Serif', 'Times New Roman', serif" font-weight="bold" font-size="18.6" fill="#1e1e1e">Latency (ms)</text><text transform="translate(169.3,2042.7) rotate(-90) scale(1,0.86)" x="0" y="0" text-anchor="middle" font-family="'Liberation Serif', 'Times New Roman', serif" font-weight="bold" font-size="18.6" fill="#1e1e1e">Amplitude (μV)</text><text x="247.2" y="1938.7" text-anchor="end" font-family="'Liberation Serif', 'Times New Roman', serif" font-size="30" fill="#111">Pz</text></g><path d="M195.3 2045.5l1.5 .5 1.3 .4 1.3 1.7 1.3 2.1 1.2 .9 1.2 .4 1.1 .9 1.2 2 1.1 2.3 1.8-.7 .7-.9 .6-3.1 .7-.9 .7-2.7 .6 .1 .7-3.2 .7-3 .6-.7 .7-.4 .8-.6 .9-1.1 .9-2.6 .9-2.2 .9-.2 .9-.9 .9-1.2 1.6-1.7 1.3 .4 1.1 2.1 1-.3 1 2 1 2.3 1.2 .5 1.2 .4 1.4 0 1.4 3.3 1.4 1.6 1.3 .9 1.9 .8 2.1-1 1.7-.2 1.6-.7 1.6-1.2 1.6-3.1 1.6-.6 1.5-.5 1.5-.1 1.5-.2 1.5-.2 1.9-.6 1.7 .8 1.2 .7 1.2 2.9 1.3 .3 1.8 .3 2.2-.4 1.8 1 1.8 1 1.7 1.7 2.4 .7 1.8-2.8 1.8-.5 1.8-.6 1.7-1.6 1.8-1.1 1-2.2 .9-2.6 1-2.4 .9-1.9 1.5-.8 1.2 2.8 .9 2.3 .9 1.4 .9 2.2 .9 1.8 .9 1.2 1 1.9 .9 1 .9 1.5 .9 2.5 1 .5 .9 2.2 .7 2.4 .6 1.1 .4 2.5 .4 1.2 .4 2.4 .3 1.2 .4 1.7 .4 1.5 .4 2.2 .4 2.3 .4 1.5 .4 .4 1.4-2.1 .5-1.6 .4-2.5 .5-1.2 .5-1 .5-1.5 .5-.8 .5-1.8 .5-1.1 .6-2.8 .7-1.6 .8-1.5 .8-1.2 .9-2.6 .8-2.1 .8-1.1 1.5-1 1.4 1.2 1.2 1 1.1 1.2 1.1 1.8 1.1 2.4 1.2 2.8 .7 1.5 .7 2.5 .7 2 .7 1.7 .7 .6 .7 1 .7 2.3 .7 .6 .7 2 .7 1.7 .7 1.7 .6 1.4 .7 2.1 .7 2.5 .6 1.4 .7 1.2 .7 1.3 .7 1.4 .8 1.7 1 2.2 1.1 1.5 1.1 1.9 1.1 1.2 1 2.2 1.1 .2 1.1 1.6 1.6 1.2 2.1-.2 1.7-1.6 1.7-.6 1.7-1.5 1.8-.1 1.8-.8 1.8-.4 1.8-.2 1.8 .4 1.9 .9 1.2 2.1 .7 1.7 .7 2.5 .8 1.1 .7 1.2 .7 2 .8 2.2 .7 2.7 1 1.8 1.2-.1 1.3 1.5 1.3 1.5 1.3 1.6 1.3 .1 1.4 1.7 2.1 .6 1.8-.6 1.8 .1 1.8-.6 1.8 1.2 1.8 1.4 1.9-.7 1.8-.5 1.8 1.5 1.8 .1 2 2.2 1.3 .9 1.3 1.8 1.3 .9 1.3 2.6 1.3 1.4 1.8-.1 1.9-1.8 1.4-1.5 1.5-1.5 1.4-1 2-1.4 1.6 .5 1.8-.8 1.9-.5 1.8 .9 1.8-1 2.1-1.4 1.4-.5 1.4-1.1 1.5-2.1 1.4-1.3 1.8-2 1.4-1.4 .9-2.6 .9-1.7 .9-1.9 .9 0 .9-2.4 .9-2.2 .9-1.4 .9-1.1 1-2.5 .9-1 .9-.3 .9-1.2 .9-1.6 .9-2 .9-2.5 .9-2.2 1-.4 .9-2.2 .9-1.8 .9-1.9 .9 0 .9-2.1 .9-1.9 .9-.4 1-1.7 .9-1.4 .9-1.5 .9-2.5 1-2 1.1-.6 1.2-2 1.1-.9 1.1-.7 1.2-1.9 1.1-1.1 1.2-1.9 1.2-1.1 1.3-1.8 1.3-1 1.3-2.2 1.3-.8 1.3-1.6 1.3-1.9 1.3-1.8 1.5-.2 1.4-1 1.4 .2 1.5-1.6 1.4-.8 2.1-.5 1.6-2.3 1.7-1.2 1.8-1.5 1.7-.3 1.7-.6 1.7 0 1.7-1.2 1.7-1.1 1.7 .7 1.7 .2 1.7-.9 1.7-.7 1.7-1.4 1.6-.1 1.6-1 1.5-1.6 1.6-1.2 1.5-1.9 1.6-1.1 1.8-1.9 .5 .3" fill="none" stroke="#4a3964" stroke-width="1.9" stroke-linejoin="round"/><path d="M195.3 2045.1l1.4 1.7 1.3 .9 1.3 1.4 1.3 .6 1.2 2.1 1.3 1.2 1.4 2.9 1.3 1.2 1.5 1.9 1.4-2.6 .7-1.5 .7-2.9 .8-1.6 .7-2.9 .7-1.5 .7-.7 .7-3.1 .8-2.3 .8-2.2 .9-2 .9-1.3 .9-3 .9-1.1 .9-.2 1.3-.7 1.8 .4 1.2 .5 1.2 2.9 1.2 1.2 1.2 1.7 1.3 3 1.4 1.9 1.4 1.2 1.5 .7 1.4 .7 1.4 .7 2 .4 2.1-2.4 1.6-1.3 1.6-.1 1.6 .2 1.6-2.1 1.5 .3 1.5-1.5 1.5-1.3 1.5-.9 1.5-2 1.9 .6 1.6 1.5 1.2 2.5 1.2 1.7 1.2 .4 1.8 2.9 1.6 1 1.8 .9 1.8 .6 1.8 1.5 2.3 .9 1.6-1.4 1.6-1.8 1.6-1.3 1.7-.8 1.5-1.4 1.4-2.5 .9-2 .8-1.3 .9-3.1 .8-1.8 1.2-.7 1.4 1.5 .9 1.6 .8 2 .9 1.2 .9 1.4 .8 1.9 .8 2.2 .8 2.4 .8 1 .8 1.4 .8 1.6 .8 1.7 .7 1 .8 .9 .7 1.7 .5 1.7 .4 1.1 .4 2.8 .4 1.3 .4 1.9 .4 2 .3 1.6 .4 2.1 .4 1.5 .4 1.7 .4 2.3 1.3-2.2 .4-1.6 .5-2.3 .4-1 .5-2.7 .4-2.6 .5-.7 .4-1.8 .5-1.1 .4-1.5 .7-2.6 .8-1.6 .9-1.1 .9-2.1 .9-2 .8-1.8 1.3-2.3 2 1.6 1.3 1 1.3 2.3 1.3 1.3 1.1 1.4 .7 2 .7 1 .7 2.5 .7 1.9 .7 2 .7 2 .7 1.7 .7 1.3 .7 2.6 .7 1.1 .6 1.8 .7 1 .6 1.2 .6 1.6 .6 2.2 .7 1.3 .6 2.8 .6 .5 .6 3 1.1 1.6 1 .9 1.2 .9 1.1 .9 1.1 1.6 1.1 1.6 1.2 2 1.1 2 1.6 .2 1.9-.3 1.4-1.1 1.5-1 1.4-.9 2-1 1.6-1.8 1.7-.4 1.7-.4 1.7-1.3 1.7-.9 1.7-1.1 2.1-.1 1.8 1 1.3 1.8 1.4 1.6 1.3 1.1 1.3 2.1 1.3 .5 1.3 1 1.4 1.6 2.2 1.7 1.7 .4 2.2-.4 2 .1 1.2-1.9 1.3-2.1 1.3-.3 1.9-1.7 2.2-.4 1.9 .7 1.8 1.1 1.8 .1 1.8 1.1 1.7 .3 1.7-.1 2.1 1.5 1.3 1.5 .6 2.3 .6 2.2 .6 1.3 .5 .8 .6 2 .6 1.1 .5 2 .6 2.8 .6 .7 .5 2.3 1.4 .2 2.3-.3 1.8-.3 1.8 .5 1.8-.6 1.8-.5 1.7-.1 1.7-.8 1.7-1 1.7-.6 1.7-2.1 1.7-1.2 1.7-.6 1.8-.8 1.7-.6 1.6-1.6 1.4-1.7 1.3-.7 1.3-1.8 1.3-.3 1.3-1.7 1.3-1.8 1.3-.8 1.4-1.5 1.5-.6 1.4-.5 1.5-1.4 1.4-1 1.4-.5 1.5-.4 1.4-1.5 1.5-1.8 1.4-.8 1.4-.7 1.5-1.9 1.4-1.3 1.5-1.4 1.4-1.1 1.4-.4 1.5-1.1 1.4-.6 1.5-.7 1.4-.2 1.4-1.9 1.5-.5 1.4-1.4 1.5-2.2 1.4-.1 1.6-1.3 1.7-.9 1.7-1.1 1.7-.5 1.7-.9 1.6-1.8 1.3-1.6 1.3-2 1.3-.4 1.3-1.8 1.3-.5 1.4-.3 1.4-2.4 1.7-1.1 1.7-.6 1.7-.4 1.7-.5 1.8-.3 1.8-1.3 1.8-.7 1.8-.2 1.8-.6 1.5-1.1" fill="none" stroke="#4a3964" stroke-width="1.9" stroke-linejoin="round" stroke-dasharray="4 3"/><path d="M195.3 2045.8l1.7 2.6 1.4 1.4 1.3 .7 1.3 .1 1.2 1.4 1.1 3.1 1 1.6 1.1 1.4 1.1 1.4 2-1.7 .7-1.7 .7-2 .7-2.2 .7-2 .7-2 .7 .2 .7-1.9 .7-1.1 .8-3.2 .7-2.8 .8-1.8 .7 0 .8-1.3 .8-2.9 .8-1.7 .7-.5 1.1-2.8 1.7 2.7 1 1.7 1.1 1.5 1.1 1.1 1 2.2 1.2 .8 1.3 1.1 1.3 2 1.4 .1 1.3 1.2 1.4 1.7 1.8 .6 2 .7 1.5-3 1.6-.7 1.5-1.2 1.6-.7 1.5-2.9 1.5-.2 1.5 .4 1.5-1.3 1.5-.3 1.4-2 1.9-.8 1.6 1.5 1.2 1.3 1.3 0 1.2 1.5 1.3 .8 1.5 .2 1.8 2.5 1.8 .8 1.9 1.3 1.7-.4 2.3 .1 1.6-.6 1.6-.9 1.5-.5 1.6-2.1 1.6-1.7 .8 0 .7-1.4 .8-2.7 .7-2.1 .8-1.8 1.7 .1 .8 1.1 .8 1.5 .8 1.7 .8 2.1 .7 2.1 .8 2.4 .8 1 .9 2.2 .9 1.7 .8 1.6 .9 1.8 .8 .8 .9 1.1 .8 2.7 .7 .6 .4 2.7 .3 2.6 .4 1.5 .3 1.7 .4 1.8 .3 2.4 .3 .7 .4 .9 .3 2.6 .4 1.9 .3 .6 .5 2.6 .9-1.8 .4-2.7 .5-2.2 .5-1.5 .4-1.1 .5-2 .5-2.8 .4-.6 .5-1.6 .4-.7 .6-2.3 .6-1.5 .7-2.6 .7-.8 .8-2.7 .7-1.3 .7-2.3 .8-.9 1.4-1.2 1.5 2.2 1.2 2 1.2 1.8 1.2 .8 1.1 .8 .8 1 .7 1.5 .6 2.3 .7 2.6 .6 1.8 .6 1.1 .7 .5 .6 2 .6 2.4 .7 1.5 .6 1 .7 2.4 .6 1 .7 1 .7 2.3 .6 1.5 .7 1.7 .7 2.8 .7 .8 .6 3.1 .8 .6 1 1.5 1.2 1 1.3 .7 1.3 3 1.2 1.3 1.3 2.4 1.3 1 1.4 1.6 1.4 .5 1.4 1 1.5 1.8 1.4 1.4 1.5-.2 1.3 1.7 1.4 .5 1.3 .9 1.3 2.3 1.3 .7 1.3 1.4 1.3 .8 1.3 1.8 1.3 2.1 1.3 .3 1.3 1.5 1.3 .8 1.3 1 1.3 2.4 1.2 1.1 1.2 1.9 1.1 1.5 1.2 1.2 1.1 2.1 1.2 .8 1.1 .9 1.1 1.9 1.3 .9 1.3 1.1 1.4 1.8 2 1.9 2.2-.7 1.7-1.4 1.7-1.1 1.7-.6 1.7-.9 1.8-.4 1.7-1.8 1.7-.3 1.7 0 1.7-1.2 1.8 .2 1.8-.5 1.9-1.6 1.8-1 1.8 0 1.7 .3 1.7-.9 1.7-.9 1.8-1.3 1.6-1.3 1.6-1.3 1.4 0 1.5-1.5 1.4-.9 1.5-1.3 1.8-2.6 1.6-2.2 1-.8 1-1.2 1-2.4 1-1.4 1-2.5 1-1.4 1.1-.1 .9-1.1 1-3 .9-1.9 .9-1.5 .9-1 .9-1.3 .9-1.5 1-1.8 .9-2.9 .9-1.4 .9-1.8 .9-2.1 .9-1.5 .9-1.9 .9-.8 1-.4 .9-2.3 .9-1.6 .9-1.9 .9-1.4 .9-2 1-2 1-1.3 1.1-.6 1-1.6 1-1.5 1-1.3 1-2.2 1-1.2 1.1-1 1.1-2.3 1.1-1.8 1.2-.1 1.1-1.6 1.1-1.3 1.2-2.1 1.1-.6 1.2-.8 1.9-2.4 1.4 .2 1.5-1.4 1.4-.7 1.4-.3 2.1-1.1 1.7-1.9 1.7-.4 1.7-.1 1.7-1.4 1.7-1.5 1.7-.9 1.7-.6 1.7 .5 1.7-1.2 1.7-.5 1.8-.7 1.7-1.3 1.7-1.4 1.7-1 1.7 0 1.7-.2 1.7-1.7 1.7 .2 1.7-.4 1.7-1.3 1.8-1 0 .1" fill="none" stroke="#8c5872" stroke-width="1.9" stroke-linejoin="round"/><path d="M195.2 2044.5l1.3-.3 1.2 3.1 1.1 .9 1.2 .5 1.1 3.2 1.2 1.8 1.1 1.8 1.2 1.1 1.1 2.6 1.2 1.7 1.7-1.5 .7-.8 .6-2.8 .7-1.5 .6-2.5 .7-.2 .6-1.7 .7-1.3 .6-1.2 .7-1.6 .6-2.2 .8-3.4 .7-1.1 .8-3.9 .7-2.1 .8-1.2 .7-3 .8-.2 1.4-1.7 1.4 .5 1.2 1.5 1.1 2.5 1.1 .1 1.2 2.9 1.1 1.5 1.2 1.4 1.3 1.3 1.2 1.6 1.2 2.3 1.2 1 1.2 1.1 1.8 1.3 1.8-2.6 1.4 .5 1.4-1.9 1.4-2.1 1.4 .8 1.4-.5 1.5-1.5 1.6-.1 1.5-.7 1.6-.3 1.5-2.1 1.8 2.1 1.5 1.9 1.1 1.5 1.2-.1 1.1 3 1.8 1.1 1.8-.2 1.9-1.1 1.8 2.2 1.9 .7 1.8-.1 1.7-1.7 1.7-1.6 1.7-1.2 1.8-.3 1.8-1.2 1.2-.9 .8-2.9 .8-.7 .8-2.3 .8-3.4 1-1.7 1.6 2.6 .8 1.3 .7 1.3 .8 2.5 .8 1.8 .8 1.8 .8 .4 .8 1.1 .9 2.1 .8 2.8 .8 2.4 .9 1.7 .8 1.8 .8 .4 .6 2.1 .3 1.6 .4 1.6 .4 1.4 .3 .7 .4 1.9 .4 1.8 .4 1.4 .3 2.7 .4 2.5 .4 1.1 .3 2.5 1.4-2.5 .6-.9 .5-2.3 .5-2 .5-1 .6-3 .5-1.7 .5-2.5 .5-1 .5-1.4 .7-1.1 .6-2.8 .8-1.8 .7-1.3 .7-1.6 .7-1.4 .7-.8 1-2.8 1.7 1.2 1.1 1.4 1 2.6 1.1 1.6 1.1 1.3 .9 .7 .8 1.4 .6 1.6 .7 1.7 .6 1.4 .6 1.5 .7 2.4 .6 .9 .6 1.6 .6 3 .7 1.9 .6 2.4 .6 .6 .6 1.3 .7 2.3 .6 2.3 .6 1 .6 2.3 .7 1.9 .6 .5 .6 2.1 1.2 1.2 1.1 1.2 1.3 1.7 1.3 1.7 1.3 .4 1.3 2 1.2 2.2 1.4 .5 1.6 2.1 1.7 .8 1.7-.5 1.7 1.6 1.7 .4 1.5 .1 1.3 2.6 1.3 2.1 1.3 .4 1.3 .6 1.3 1.8 1.3 1.8 1.4 1.1 1.5 1.7 1.4 0 1.4 .6 1.5 1.4 1.4 0 1.4 .7 1.3 2.7 1.3 .3 1.3 1.3 1.3 1.5 1.3 1 1.3 2 2.1 1.4 1.8 .8 1.9 .6 1.8 .8 1.8 .9 2.3-1 1.7-.4 1.7-1.7 1.8 0 1.7-1.1 1.8-1.3 1.8-1 1.8 .6 1.8-.4 1.8-.2 1.9-.6 1.8-.9 1.8 .2 1.8-1.6 1.9-.8 1.8 .3 1.8-1.4 1.8 .4 1.9 .1 1.7-1.6 2.1-.6 1.5-1.2 1.4-1.3 1.5-.7 1.4-1.7 1.8-1.1 1.5-.8 1-2 1-1.9 1-1.6 1-2.2 1-1.3 1-1.4 1.1-.9 .9-2.3 1-.5 .9-2.4 .9-.8 .9-1 .9-2.6 .9-1 .9-2.6 .9-.9 1-1.2 .9-2.1 1-1.3 1-1.3 1-.9 1-1.6 1.1-1.8 1-2.3 1-1.8 1-.8 1.1-2.1 1.1-1 1.1-1.6 1.2-1 1.1-1.2 1.2-1.9 1.1-1.2 1.1-1.9 1.3-2.1 1.2-1.2 1.3-.7 1.3-1.8 1.3-1.4 1.3-1.6 1.4-.9 1.4-1.1 1.5-1.9 1.5-.3 1.6-.5 1.6-1.4 1.5-1 1.6 0 1.6-.3 1.6-1.3 1.7-1.4 1.7 .2 1.8-1.6 1.7-.9 1.7-.5 1.7 .7 1.8-1 1.8-.8 1.8-.9 1.8-.2 1.8 .7 1.8-.1 1.7-.1 1.7-.7 1.7-2 1.5-1" fill="none" stroke="#8c5872" stroke-width="1.9" stroke-linejoin="round" stroke-dasharray="4 3"/><path d="M195.2 2045.0l1.3 1.4 1.1 1.2 1.1 2.2 1.1 2.9 1.2 .2 1.1 2.2 1.2 1.2 1.2 1.2 1.1 1.2 1.2 .4 2-.6 .6-1 .6-2.7 .6-2.1 .6-1.5 .6-1.8 .6-2.8 .6-1.6 .6-1.2 .6-3.4 .6-2.2 .7-.4 .7-1.9 .7-.4 .6-2.2 .7-.7 .7-.6 .7-2.9 .6-1.9 1-1.7 1.6 2.7 .9 1.9 .9 2.4 .9 1.9 .8 .2 .9 1 1 1 1.2 1.5 1.3-.6 1.4 1.1 1.4 1.8 1.4 .9 1.4 3 1.9 .3 1.9-1.7 1.5 1.1 1.5-.9 1.5 0 1.4-1.8 1.5-2.3 1.5-1 1.6-1.9 1.5-2.7 1.5-1.7 1.9-.5 1.6 .9 1.1 1.7 1.1 1.5 1.1 1.2 1.1 3.4 1.8 .3 2.3 .2 1.7 .3 1.8 .2 2.3 1.6 2.3 .6 1.6-.6 1.7-1.8 1.6 .3 1.9-2.1 1-1 .4-2.3 .5-1 .5-2.3 .5-2.4 .4-3.3 .5-1.6 .5-.7 .5-1.4 .4-1 .7-2.9 .9 2.3 .5 1.9 .4 2.3 .5 2.3 .5 1.5 .4 1.9 .5 1.4 .5 .7 .4 2.1 .5 1 .5 2.5 .7 1.4 .7 2.1 .8 1.4 .8 1 .8 2.3 .8 1.1 .8 2.2 .8 1.6 .7 1.3 .5 2.1 .4 1.6 .3 1.9 .3 1.4 .3 1.7 .4 1.7 .3 2.8 .3 2.1 .4 .9 .3 1.2 .3 .8 .3 1.6 1.5-.3 .4-.8 .5-2.8 .5-1.8 .5-1.9 .5-2 .5-2 .5-.5 .5-1.7 .5-1.9 .5-.9 .6-1.7 .6-2 .6-2.4 .6-1.1 .7-1.1 .6-2.4 .6-1.7 .9-2.4 1.6 1.9 1 .3 1.1 2.7 1.1 1.1 1 1.6 1 2.1 .8 1.5 .6 2.3 .7 1.6 .6 .7 .6 1.1 .6 1.5 .6 1.8 .6 1.8 .6 2.8 .6 1.9 .7 1.1 .6 2.4 .7 2.2 .6 1.6 .7 1.9 .6 1.3 .7 2.2 .6 2 .7 .8 .6 1 .7 1.4 1.4 2.2 1.7 .7 1.3 .4 1.3 1.6 1.4 .8 1.3 1.9 1.3 1 1.3 2.2 1.3 1.3 1.3 1.1 1.3 2.1 1.3 2 1.3 .8 1.3 .5 1.3 1.6 1.3 .8 1.3 2.3 1.3 1.4 1.3 1.3 1.3 1.2 1.3 1.7 1.1 1.6 1 1.7 1 1.3 1 .5 1 1.7 1 .6 1 1.8 1.1 1.8 1 2.2 1.1 2.2 1.2 2 1.1 .7 1.1 1.6 1.2 .9 1.1 .9 1.2 2.4 1.3 1.2 1.5 1.1 1.7-.3 2.3 .2 1.7-1.1 1.7-.2 1.7-1.8 1.7-1.5 1.7 .3 1.8 .2 1.7-1.5 1.7-1.4 1.7-.3 1.7-1.3 1.7-1.1 1.7-1.3 1.7-.9 1.7 .8 1.7-.7 1.8-.6 1.7 0 1.7-.8 1.7-.8 1.7-.5 1.5-1.1 1.4-.7 1.3-1.6 1.3-2.2 1.3-2.5 1.3-1.1 1.3-.8 1.1-2 1-1.7 .9-.9 .9-.9 .9-1.6 .9-3.1 .9-1.3 .9-1.2 1-2.3 .9-2.1 .9-1 .9-1.6 .9-2 .9-1.3 .9-1.6 .9-2.2 1-2.4 .9-1.4 .9-2.1 .9-2 .9-.4 .9-1.4 .9-.8 .9-.9 .9-1.6 1-1.7 .9-3 .9-1.5 .9-1.6 .9-1.7 1-2.4 1.1-1.5 1.2-1.4 1.1-1.2 1.2-1.8 1.1-.5 1.1-1.3 1.2-1.9 1.2-2.1 1.3-1.2 1.3-1.7 1.3-.2 1.3-.7 1.3-2.2 1.3-.9 1.4-2.1 1.4-.3 1.4-.5 1.5-.5 1.4-2.4 1.4-.9 2.1-1.1 1.7-.5 1.7-.3 1.7-1.3 1.7-.9 1.7-.9 1.7-1.1 1.7-.1 1.7 .1 1.7-.3 1.7-1.9 1.8-.3 1.7 .2 1.6-1.5 1.6-1.6 1.5-1 1.5-1.5 1.6-1.3 1.5-.5 1.5-.2 1.5-.8 1.5-1.9 1.5-1.5 .4-1.4" fill="none" stroke="#d09c9e" stroke-width="1.9" stroke-linejoin="round"/><path d="M195.2 2043.9l1.4 2.2 1.1 .3 1.2 1.6 1.1 1.5 1.2 1.9 1.1 .1 1 .8 1.1 2.5 1.1 2 1.1 .2 1.9 .7 .6-3.1 .6-2.9 .6-2 .6-.5 .6-1.7 .6-2.1 .7 0 .6-.7 .6-2 .7-.9 .7-2.2 .9-1.8 .8-1.9 .8-1.9 .9-2.1 .8 .2 .8-3 2-.5 1.2 1.7 1.1 .8 1.2 1.1 1.1 3.2 1.2 1.3 1.2 1.9 1.3 1.3 1.2 .5 1.3 1.3 1.2 .7 1.3 2.5 1.6 2.3 1.8-.3 1.4-1.3 1.4-2.5 1.3-2.2 1.4 0 1.4-1.1 1.5-.8 1.4-.9 1.5-1.7 1.5-.6 1.5-1.7 1.9-1.4 1.7-.5 1 .6 1.1 2.1 1.1 2.1 1 1.9 1.2 2.3 2.1 .1 1.8 .3 1.8 .8 1.9 .7 2.3 .4 2.1-.6 1.5-1.3 1.5-.6 1.6-3 1.8-1.7 1-1.6 .5-2 .5 .3 .6-3 .5-1.5 .5-.6 .6-2.6 .5-2.7 1.7-.3 .6 2.9 .6 2 .6 1.4 .6 1 .7 1.7 .6 2.3 .6 2.2 .6 .7 .7 1.2 .8 2.6 .7 .8 .8 1.2 .8 2 .8 2.4 .7 2.5 .8 2.2 .7 1.7 .4 2.3 .4 1.3 .3 1.1 .4 1.7 .3 1.1 .4 1.3 .3 2.2 .4 2.1 .3 .9 .4 2.4 .3 1.4 .4 1.7 1.3-2.1 .6-.8 .5-1.6 .5-.8 .5-1.5 .5-2.9 .5-2.6 .5-.6 .6-1.6 .5-1.8 .6-1.1 .6-1.6 .7-1.8 .7-1 .6-2.1 .7-1.6 .7-1.3 .9-1.6 1.7 .4 1.2 1.5 1.2 .3 1.1 .8 1.2 2.4 .9 .9 .7 2.3 .6 2.7 .6 .9 .6 2.6 .6 1.6 .6 2 .6 1.3 .6 .6 .6 3 .6 2.1 .6 .5 .7 2.6 .6 2.2 .7 1.1 .7 2.1 .6 .5 .7 2 .6 2.6 .7 1.5 .7 1.1 1.2 1.4 1.2 .5 1.3 1.9 1.3 .6 1.4 1.8 1.3 1.9 1.3 1.4 1.5 .9 1.7 1.1 1.7-.3 1.7 2.1 1.7 1.4 1.7 .6 1.7 .2 1.7 1.2 1.8 .5 1.7 1.6 1.6 .5 1.6 1 1.5 1.7 1.4 .3 1.4 .6 1.5 .9 1.8 1.8 1.3 1.7 1.2 1.9 1.1 .8 1.2 2.6 1.1 .7 1.1 2.3 1.2 .9 1.7 1.3 2.2 .4 1.8 .7 1.9 0 1.8 0 2.3-.2 1.8 .7 1.7-1.3 1.7-.5 1.7-.2 1.8-1.3 1.8 .5 1.8 .1 1.8-.6 1.8-.7 1.8-1.9 1.7-1.4 1.7-.4 1.8-.4 1.7-1 1.7-1.2 1.8-.7 1.8 1 1.8-.4 1.9-.3 1.8-.7 1.8-.4 1.8 .5 1.9 .1 1.8-.4 2-1.1 1.3-2.6 .9-1.8 1-2 .9-.8 .9-1.7 .9-3.1 .9-1.2 .9-1.7 .9-.7 .9-2.6 1-.9 .9-1 .9-1.3 .9-1.7 .9-2 .9-1 .9-2.3 .9-.9 1-1.4 .9-2.1 .9-1.2 .9-1.1 .9-3.2 .9-1 .9-1 .9-2.3 .9-1.1 1-1.1 .9-.9 1-2.2 1-.9 1-1.8 1-2.2 1-2.1 1-2.5 1-1.2 1-1.6 1.1-1.6 1.2-1.2 1.3-1 1.3-.9 1.3-1.9 1.3-.6 1.3-1.2 1.4-1.9 2.1-.9 1.8-.8 1.8 .2 1.8-.3 1.8-.4 1.8 0 1.8 .2 1.8-.5 1.8 .3 1.8-1.2 1.8 .5 1.8 .4 1.8 .1 1.8 0 1.8-.9 1.8-1.3 1.8-1.3 1.8 .1 1.8 .5 1.9 .5 1.9-1.1 1.8 .4 .9 .7" fill="none" stroke="#d09c9e" stroke-width="1.9" stroke-linejoin="round" stroke-dasharray="4 3"/><g><line x1="730.9" y1="1932.3" x2="730.9" y2="2153.2" stroke="#161616" stroke-width="2.5"/><path d="M727.7,1952.1h3.2 M727.7,1970.2h3.2 M727.7,1988.4h3.2 M727.7,2006.6h3.2 M727.7,2024.7h3.2 M727.7,2042.9h3.2 M727.7,2061.1h3.2 M727.7,2079.2h3.2 M727.7,2097.4h3.2 M727.7,2115.6h3.2 M727.7,2133.8h3.2" stroke="#161616" stroke-width="1.6"/><line x1="665.4" y1="2042.9" x2="995.3" y2="2042.9" stroke="#161616" stroke-width="2.7"/><path d="M665.2,2042.9v3 M796.6,2042.9v3 M862.2,2042.9v3 M927.9,2042.9v3 M993.5,2042.9v3" stroke="#161616" stroke-width="1.6"/><text transform="translate(665.2,2064.7) scale(1.05,0.88)" text-anchor="middle" font-family="'Liberation Serif', 'Times New Roman', serif" font-weight="bold" font-size="16.5" fill="#222">-200</text><text transform="translate(796.6,2064.7) scale(1.05,0.88)" text-anchor="middle" font-family="'Liberation Serif', 'Times New Roman', serif" font-weight="bold" font-size="16.5" fill="#222">200</text><text transform="translate(862.2,2064.7) scale(1.05,0.88)" text-anchor="middle" font-family="'Liberation Serif', 'Times New Roman', serif" font-weight="bold" font-size="16.5" fill="#222">400</text><text transform="translate(927.9,2064.7) scale(1.05,0.88)" text-anchor="middle" font-family="'Liberation Serif', 'Times New Roman', serif" font-weight="bold" font-size="16.5" fill="#222">600</text><text transform="translate(993.5,2064.7) scale(1.05,0.88)" text-anchor="middle" font-family="'Liberation Serif', 'Times New Roman', serif" font-weight="bold" font-size="16.5" fill="#222">800</text><text transform="translate(725.4,1956.7) scale(1.05,0.88)" text-anchor="end" font-family="'Liberation Serif', 'Times New Roman', serif" font-weight="bold" font-size="16" fill="#222">-5</text><text transform="translate(725.4,2138.4) scale(1.05,0.88)" text-anchor="end" font-family="'Liberation Serif', 'Times New Roman', serif" font-weight="bold" font-size="16" fill="#222">5</text><text transform="translate(829.9,2150.2) scale(1,0.86)" text-anchor="middle" font-family="'Liberation Serif', 'Times New Roman', serif" font-weight="bold" font-size="18.6" fill="#1e1e1e">Latency (ms)</text><text transform="translate(639.9,2042.9) rotate(-90) scale(1,0.86)" x="0" y="0" text-anchor="middle" font-family="'Liberation Serif', 'Times New Roman', serif" font-weight="bold" font-size="18.6" fill="#1e1e1e">Amplitude (μV)</text><text x="709.2" y="1937.4" text-anchor="end" font-family="'Liberation Serif', 'Times New Roman', serif" font-size="30" fill="#111">Pz</text></g><path d="M666.1 2042.4l2-1.3 1.8-.6 1.7-1.4 1.8-1.4 2.4-1 1.7 1.4 1.8-.2 1.8 1.7 1.8 .2 1.8-.3 1.8 0 1.8 .7 1.8-.5 1.9 .7 1.8-.6 1.9 .9 2 .8 1.9 0 1.9-.3 1.9-1 1.9-.5 1.8 .1 1.9-1.3 1.9 .6 1.8 .4 1.8 .3 1.8 .3 1.8 .5 1.8-.2 1.7 .4 1.8 .6 1.8 .2 1.8-.8 1.7 .2 1.8 2.1 2.3 .5 1.7-1.3 1.8-1.5 1.7-.9 1.7-1.8 1.8 .3 1.8 .9 1.8 .3 2.3 .9 2.2-.2 1.6 2.2 1.6 1.6 1.5 .8 1.5 .1 1.2 2.1 .5 1.2 .5 2.1 .5 1.4 .5 2.7 .5 1.6 .4 .4 .5 2 .5 2.1 .5 2.5 .5 .9 .5 2.7 1.5-1.3 .6-1.9 .6-1.2 .6-2.4 .6-1.4 .6-1.8 .6-2.6 .6-1.7 .6-2.5 .6-.8 .6-1.3 .6-1.2 .6-2.1 .6-1.8 .6-1.5 .6-2.5 .6-1.6 .6-1.5 .6-1.8 .6-1.8 .6-2.8 .9-1.5 1.6 1.6 .8 1.5 .9 1.8 .8 2.8 .9 1.6 .9 2.3 .8 .2 .7 1.9 .7 .6 .6 1.8 .6 1.6 .7 2.4 .6 1.9 .6 2 .6 1.8 .7 2 .6 1.3 .7 2.6 .9 .5 .8 1.8 .9 1.5 .8 2.2 .9 .8 .8 1.7 .9 1.3 .9 .7 1.1 1.4 1.2 1.6 1.2 2 1.2 1.2 1.2 1.8 1.2 .8 1.3 1.9 1.3 2.1 1.3 1.5 1.3 .4 1.4 1.3 1.3 1.9 2.1 1.8 1.8 .4 1.8-.8 1.8-.8 1.8-.1 2.4 .1 1.7 1.3 1.7 .7 1.9 1.5 1.3 2.4 1 1.5 .9 .4 .9 2.1 1 1.9 .9 1.8 1 2.3 1.1 1.8 1.1 2.1 1 .6 1.1 .8 1.1 2 1.8 1.7 1.7-.8 1.8 1.4 1.9 .6 1.8 0 2.3-.9 1.7-1.6 1.8-.1 1.7-1.9 1.7-1 2.3-.6 1.9 1.5 1.8-.3 1.8 .7 1.8 1.3 1.8 .1 1.7 1.2 1.7 1.1 1.7 1 1.7 1.4 2.3-.1 1.7-1.3 1.7-.8 1.7 0 1.7 0 1.5-1.3 1.2-2.8 1.1-2.1 1.2-.7 1.1-.6 1.2-2.5 1.1-1.6 1.1-1.7 1.1-1.5 .9-1.6 .9-1.7 .9-1.2 .9-2.3 1-.3 .9-2.6 .9-.4 .9-1.4 .9-2.3 1-2.3 1-1.6 1-1.6 1-1.5 1-2 1-.8 1-.7 1-2.1 1.1-2.4 1-.5 1.2-.9 1.1-.8 1.1-1.4 1.2-1.7 1.1-2.5 1.2-1 1.1-.9 1.1-1.3 1.2-1.8 1.1-2.1 1.2-1.5 1.1-1.4 1.1-.8 1.2-2.3 1.1-.5 1.1-2.5 1-1 1-2 1.1-2.2 1-.7 1-.1 1-1.4 1-1.5 1.1-2.3 1.3-.6 1.6-1.4 1.7 .1 1.7-1.6 1.7-.7 1.7-.5 1.8-1.8 1.8-.8 1.8-.2 1.8-1.2 1.8-.3 1.8-.7 1.8 .1 1.9-.4 1.8 .4 1.9 0 1.8-.6 1.9 .8 1.8-.6 1.8 0 1.9-.6 1.8 1.4 1.7 1.1 1.8 .1 1.8-.6 1.8-.3 1.8 1.3 2 .8 .5-.9" fill="none" stroke="#4a3964" stroke-width="1.9" stroke-linejoin="round"/><path d="M666.0 2043.5l1.9-.9 1.6-1.1 1.5-1 1.6-.1 2.2 .1 1.8-.3 1.9 1.5 1.8 .1 1.8 1 1.9 .4 1.9-.1 1.9-1.3 1.9 .8 1.9-.2 1.9 .2 1.9 .2 2 .4 1.9-1.3 1.8-.9 1.8 .3 1.8-.1 1.7-2.5 1.7 .1 2.4-1.7 1.8 .8 1.8 .5 1.9-.1 1.9 .4 1.8 2.4 1.9-1.6 1.8 .9 1.9-.6 1.8 1.1 1.8-.4 1.9 .2 1.8 1.1 1.8 0 1.8-.1 1.8 .5 1.8-.4 1.7-.2 1.8-2.1 1.8-.2 2.3 .5 2.1 .1 1.5 2.5 1.5 .5 1.5 1 1.5 2.2 1.4 2.1 .6 1.7 .5 .9 .5 1.3 .6 2.5 .5 1 .6 2.5 .5 1.6 .5 1.9 .6 1 .5 1.2 .7 1.9 1.1-2.1 .5-1.8 .5-1 .5-2.1 .5-.8 .5-1.9 .5-1.7 .6-3.2 .5-.3 .5-1.2 .5-1.9 .6-1.3 .7-2.2 .8-.9 .8-1.6 .8-1 .9-3.2 .8-2.2 .8-.5 .8-1 1.9-.5 1 1.1 1.1 2.3 1 1.9 1 .6 1 2.2 .9 1.3 .6 2.3 .7 2.1 .7 .3 .7 2.3 .7 1.8 .6 1.9 .7 1.5 .7 .5 .7 2.5 .7 1.3 .9 1 .8 1.1 .9 1.8 .9 2.3 .8 2.4 .9 1.7 .9 2.3 1 .7 1 1 1.1 2.1 1.2 .4 1.1 2.2 1.1 2 1.1 2.3 1.2 .6 1.2 1 1.2 1.8 1.2 1.3 1.2 1.6 1.1 2.2 1.8 .6 2.1 .5 1.7-1.8 1.7-2 1.7-.2 1.7-1.5 1.8 0 1.7-.3 1.7-.5 2.3-.7 1.7 1 1.7 0 1.7 .2 1.7 2.1 1.7 .3 1.7 .8 1.7 .6 1.7 .4 1.8 1.6 1.7 .8 2.4 .1 1.8-.7 1.8 .1 1.8 .1 1.9-1.6 1.8-.3 1.8-1.1 1.8 .2 1.8-.4 1.9 .6 1.8 0 1.8 1 1.8-.2 1.9 .1 1.8 .9 1.7 1.3 1.7 1.1 1.7-.1 1.7 1.5 1.7-.1 1.6 .8 1.4 .9 1.5 2 1.4 .9 1.4 1.2 2 2 2.1-.1 1.8-2 1.7-.2 1.7-.7 1.6-.9 1.6-.8 1.5-.9 1.4-1.3 1.4-1.3 1.5-1.5 1.4-1.7 1.4 .1 1.3-1.7 1.3-1.6 1.3-1.7 1.3-1.2 1.3-.9 1.3-.3 1.3-2.2 1.3-2 1.3-.7 1.3-2.4 1.3-1.4 1.3-.3 1.3-.6 1.3-2.2 1.4-1.4 1.3-.9 1.3-.7 1.3-1.5 1.3-2.2 1.3-1.3 1.3-.6 1.3-1.8 1.3-1.1 1.3-.4 1.3-1.8 1.3-.3 1.3-.8 1.5-1.3 1.6-1.7 1.7-1.1 1.8-.9 1.7 0 1.7-1.2 1.7-1.1 1.8 0 1.8-.5 1.8-.8 1.8-.2 1.8-.6 1.8-1.1 1.8-.2 1.8 .6 1.8 .2 1.8 .1 1.8 .9 1.8 .6 1.8 .2 1.8-.8 1.8 .7 1.8-1 1.8-.7 1.8-.6 1.9-.8 0 .9" fill="none" stroke="#4a3964" stroke-width="1.9" stroke-linejoin="round" stroke-dasharray="4 3"/><path d="M666.1 2043.1l1.9-1 1.7-.1 1.7-.3 2.3-2.3 2.3 1 1.7 .3 1.8 .2 1.7 .3 1.8-.7 2.3-.5 1.8-.9 1.9 .4 1.8 .9 1.8 .4 1.8-.9 1.9 1.6 1.9 0 1.8 .5 1.9-.6 1.8-.1 1.8-1.4 1.8-1.2 1.8-.1 1.8-.4 1.8 1 1.9-.7 1.9 .9 1.8-.4 1.9-1.1 1.8 .3 1.8 1.7 1.8-.8 1.8 3.2 1.8 1.9 1.8 1.4 2.4 1.1 1.8-1.8 1.8-1 1.8-1.7 1.7-.6 1.7-1.1 1.7 .1 1.6-.2 2.1-1.6 1.9-.1 1.4 .9 1.4 2 1.4 2.9 1.4 .5 1.4 2.6 .8 1.8 .6 2.2 .5 2.1 .5 2.3 .5 1.2 .5 1.2 .5 1.4 .5 2.5 .5 1.1 .5 2.5 .5 1.1 1.5-1.7 .6-1.1 .5-2.1 .6-2.2 .6-1.7 .5-2.4 .6-.6 .6-2.2 .5-1.1 .6-1.2 .6-.9 .6-1.8 .8-1.7 .8-2.5 .9-2.1 .8-2.3 .9-1.7 .8-1.2 1.2-1.3 2.1 1.1 1.3 .8 1.4 1.6 1.3 1.5 1.3 2.7 .8 1.8 .7 1.6 .6 1.3 .6 1.6 .6 2.2 .6 1.4 .6 1.7 .6 2.2 .6 .4 .7 1.3 1 2 .8 2.3 .8 1.5 .8 1.4 .9 1.5 .8 1.2 .8 1.9 .9 1.3 1 2.6 1.2 .4 1.2 1.6 1.2 2.1 1.3 .9 1.1 1.5 1.2 2.3 1.1 1.1 1.1 1.3 1.1 1.1 1.1 1.3 1.1 1.6 1.2 1.6 1.1 .5 1.3 1.8 1.9 1.5 1.4 .8 1.5 1.8 1.4 .9 1.8 1.3 1.4 3 .9 2.5 1 2 .9 2.1 .9 .9 1 1.1 .9 1.6 1.1 2.6 1.1 1.4 1 1.9 1.1 .4 1.1 1.9 1.6 1.4 2.3 1.4 1.8 .3 1.8-.8 1.8 .3 2.2 .6 1.9-2.8 1.5-.5 1.4-.5 1.5-.5 1.4-1.9 1.4-1.6 1.5-1.1 1.4-.5 1.5-.8 1.4-2.2 1.4-1.8 1.6 .4 1.7-1.5 1.7-.2 1.7-.1 1.7-2.2 1.6-1.7 1.6-1.2 1.4-1.4 1.4-.2 1.5-1.3 1.4-1.8 1.5-.3 1.6-.7 1.7-.1 1.7-1.7 1.7-.9 1.7-.7 1.7-.3 1.7-1.6 1.7-.9 1.8-.7 1.7-.4 1.5-.8 1.3-1 1.2-2 1.1-1.3 1.1-1.9 1.2-2.2 1.1-1.1 1.2-1.4 1.1-.6 1.3-1.7 1.3-.9 1.3-1.8 1.3-1 1.3-1.3 1.3-.3 1.3-1.2 1.2-1.1 1.1-2.2 1.1-1.3 1.2-2.2 1.1-.3 1.2-1.2 1.1-1.9 1.2-1 1.2-2.3 1.3-.6 1.3-2.4 1.3-2 1.4-.8 1.3-.2 1.2-2.1 1.2-.5 1.1-1.9 1.2-1.8 1.1-1 1.2-1.4 1.1-1.9 1.1-1.7 1.8-1.1 1.4-1.6 1.6-1 1.6-.7 1.5-1.5 1.6-1.1 1.5-.8 2.2-.7 2.4-.7 1.7 0 1.8-.7 1.8 .9 1.8-.8 1.8-.4 2.4-.3 2.3 .2 1.8 0 1.8 0 1.8 .5 1.8 .3 1.8 .8 1.8 1 1.8 .3 1.8 1.4 1.8-.5 1.8-.4 1.4 1.1" fill="none" stroke="#8c5872" stroke-width="1.9" stroke-linejoin="round"/><path d="M666.1 2043.5l1.9 1 1.6-2.6 1.6-1.1 1.7 .4 2.3 .2 1.8-1.1 1.9-1.2 1.8 .1 1.9 .6 1.8 1 1.8 2.4 1.9-.1 1.8-1.6 1.8 1.9 1.9-.7 1.8 0 1.9-.4 1.8 .3 1.9-.4 1.8-.1 1.7 1.6 1.8 .7 1.8-1.5 1.7 .5 2.4 .2 1.8-1.9 1.8-.8 1.8 .3 1.8 .8 1.8 .4 1.8-.3 1.8-1.3 1.8 .5 1.8 1.4 1.8 1.1 1.8 .2 1.8-.2 1.9-.3 1.8-.1 1.9-1.8 1.8-.4 1.8-.2 1.8-1.1 2.3 0 2.1 .9 1.5 1.3 1.5 2.8 1.5 .9 1.5 .2 1.3 2 .6 2 .5 1.3 .6 1.8 .5 1.9 .5 .5 .6 1.7 .5 2.7 .5 1.2 .5 2.5 .6 1.9 .5 2.3 1.8-1.2 .5-2.3 .5-2.7 .6-1.4 .5-1.9 .5-2 .5-1.7 .6-1 .5-1.7 .5-2 .6-2.1 .6-1.9 .8-1.3 .9-1.6 .9-2.4 1-.1 .9-1 .9-2.6 1.3-1.8 1.6 1.7 1.3 1.7 1.3 1.5 1.3 1.2 1.1 1.9 .9 1.6 .7 .5 .7 2.3 .7 1 .7 2.5 .7 1.5 .7 1.6 .7 .4 .7 2.2 .7 1.7 .8 1.8 .8 1.9 .8 1.7 .8 1.2 .8 1.9 .8 1.1 .8 1.2 .8 1.6 .9 1.8 1 .9 1 2.6 1 2.1 1 .2 1 2.6 1.1 2.1 1.1 1.1 1.2 2.3 1.2 1.6 1.1 1.8 1.2-.4 1.2 2 1.2 .9 1.8 2.2 1.8-.3 1.8 .6 1.8 1.3 1.8 .4 1.8 .6 1.7-.2 1.7 1.7 2.3-.4 2.4 .5 1.8-.8 1.9-.8 1.8-.3 1.8-.2 1.7-.5 1.7-1.5 1.7-.6 1.8-.2 1.7-1.1 1.8-1.3 1.8 .6 1.8-.9 1.8-.4 1.8-.2 1.9-.7 1.8-.7 1.8 .8 1.8 .6 1.9 .4 1.8-.4 1.8 .6 1.8 .5 1.9 .3 1.8-.2 1.7 .4 1.7 .8 1.8 .9 1.7 .8 1.7 1 2.3-.1 1.9-1 1.8 .4 1.8-.7 1.8-1 1.8 0 1.7-1 1.7 .3 1.7-.6 1.7-1.4 1.5-1.7 1.4-1.8 1.3-.9 1.3-1 1.3-2.3 1.3-.8 1.3-.8 1.3-1.2 1.3-1.9 1.3-1.2 1.3-1.7 1.3-1.5 1.3-1.8 1.3 0 1.3-1.5 1.3-.8 1.3-.5 1.3-2.6 1.3-1.6 1.3-1.2 1.3-2.1 1.3-1 1.4 0 1.3-.6 1.3-1.1 1.3-1.1 1.3-1.1 1.3-2 1.5-1 1.6-1.6 1.7-1.2 1.7-.8 1.7-.5 1.8-.5 2.4-.8 1.8-.5 1.8-.6 1.8-.6 1.8 1.6 1.8-.7 1.8-.6 1.8-.2 1.8 .6 1.8-.8 1.8 .2 1.8-.2 1.8-.2 1.8 .1 1.8-.8 1.8-1.1 1.8-.9 1.8-.4 1.8 1 1.8-1.1 1.8 .2 1.8 .6 1.8-.7 1.8-.6 1.3 .1" fill="none" stroke="#8c5872" stroke-width="1.9" stroke-linejoin="round" stroke-dasharray="4 3"/><path d="M666.1 2043.2l2-.4 1.7-1 1.7-1.7 1.6-.3 2.3 .6 2.3 1.3 1.7-.2 1.8 .2 2.3 1.1 2.4-.3 1.8-1.3 1.8-.2 1.8-1.7 1.8 .9 1.9-.7 1.9-1 1.8 1.1 1.9 0 1.8-1.7 1.8 .2 1.8 .6 1.8-2.3 1.7 .5 1.8 1 1.9 .4 1.8 1.5 1.8 .7 1.9 1 1.8-.3 1.8-.4 1.8 .9 1.8-1.7 1.8-.2 1.8-1.1 1.8 .7 1.8 .6 1.8-.2 1.8-.4 1.8 .7 1.8-.4 1.8-.7 1.9-.6 1.8-.7 2.3 .6 1.6-1.1 1.5 2.2 1.6 .2 1.5 1.7 1.8 1.8 1 2 .4 1.9 .5 2.7 .5 .7 .5 2.1 .5 2.1 .5 2.4 .5 1 .5 2.5 .5 1.5 .5 1.8 .5 1.1 .6 2.6 1-1.4 .5-2.3 .5-2 .5-2 .5-2 .5-.5 .5-2.3 .4-1.2 .5-.7 .5-1.1 .5-3 .5-2.3 .7-1.7 .8-2.4 1-2.3 .9-1.1 .9-.7 .9-.9 1-1.7 1.3-1.9 1.6 .5 1.3 2.2 1.3 1.7 1.3 .4 1.2 2 .8 1 .6 2.5 .6 1.8 .6 1.2 .6 2.7 .6 1.7 .7 1.7 .6 .7 .6 2.8 .6 2 .7 1 .7 1.3 .8 2.2 .8 .8 .7 1.2 .8 2.3 .8 2.2 .7 2.7 .8 2 .9 1.4 1.1 .4 1.1 1.4 1 2.5 1.1 1.5 1.1 .8 1.2 1.8 1.2 1.9 1.2 1.7 1.3 .1 1.2 1.4 1.2 1.8 1.3 .4 1.2 .9 1.2 1.8 1.1 1 1.2 .9 1.1 1.6 1.1 2.3 1.2 1.8 1.1 2.3 1.1 .9 1 1.6 .8 2 .8 .7 .9 1.7 .8 1.5 .8 1.6 .8 2.4 .9 1.5 .9 1.8 1 .5 1.1 .9 1.1 2.9 1.1 1.8 1.1 1.5 1.7 .2 2.4 .4 1.8-.2 1.8-.3 1.8-1.4 1.8-1.5 1.7 0 1.7-.6 1.7-.6 1.7-.9 1.5-.8 1.4-1.9 1.3-2.3 1.3-2 1.3-.5 1.3-1 1.3-.6 1.4-2.5 1.4-.5 1.5-.5 1.4-2.3 1.4-1 1.5-.2 1.5-.8 1.6-1.1 1.7-1.4 1.7-.8 1.8-1.4 1.7-1.4 1.7-.5 1.7-.3 1.7-.4 1.7-1 1.7-1.1 1.7-1 1.7-1 1.7-1 1.8-.5 1.7-1.1 1.5 0 1.3-1.5 1.2-1.4 1.1-.7 1.1-1.7 1.2-1.5 1.1-1.7 1.2-1.5 1.1-1.2 1.1-.9 1.2-2.2 1.1-1.2 1.2-1.7 1.1-1 1.1-2.9 1.2-1.6 1.2-1.4 1.2-1.6 1.3-1 1.3-.9 1.3-.8 1.3-1.6 1.3-1.8 1.3-1.5 1.2-.4 1.1-.8 1.2-1 1.1-3 1.1-1 1.2-2.5 1.1-.5 1.2-.9 1.9-2.4 1.4-.6 1.5-1 1.4-1.5 1.4-1.7 2.1-.4 1.8-1.4 1.8 .8 1.8-1.4 1.8-.2 1.8-.2 1.8-.6 1.8 1 1.7-.9 1.8 .3 1.8-.4 1.8 .6 1.8-1.4 1.8-.8 2.3-.3 1.8 .5 1.8 .6 1.8 .6 1.8 1.4 1.8-.5 1.8 1.5 1.8 .5 1.8-.2 1.8 .2 1.8 .8 1.8-.8 1.4 1.1" fill="none" stroke="#d09c9e" stroke-width="1.9" stroke-linejoin="round"/><path d="M666.1 2042.6l2-2.1 1.7-1.4 1.7-.8 1.8 .3 2.3 0 1.8-.3 1.8 .5 1.8 1.4 1.8-.2 1.9-.3 1.9-.7 1.9 .3 1.9 .5 1.9-.5 1.9 .1 1.8-.8 1.8 0 1.9-.2 1.8 .7 1.7-.6 1.8 .7 1.7-1.7 1.7-.4 2.4 .6 1.7 1.2 1.8 1.2 1.8 1.8 1.8 .6 1.9-.4 1.8 1.5 1.8-2.2 1.9-.7 1.8-.7 1.8 2 1.9 .8 2.3 1.6 1.8-1.6 1.7-.7 1.8-.5 1.8-.4 1.8-.6 1.9 .2 1.8-.8 2.3 1 1.6 .6 1.5 .5 1.5 .7 1.5 1.6 1.4 1 1.2 2.2 .5 2.3 .5 2.8 .5 1.1 .6 1.1 .5 2.6 .5 1.1 .5 2.6 .5 1.3 .6 1.6 .5 1.8 .5 1.4 1.4-1 .5-.8 .6-1.3 .5-2.2 .5-1.5 .5-2.3 .6-2 .5-2.1 .5-1.9 .5-.8 .6-2.5 .5-2.5 .7-2 .9-.8 1.1-1.2 1.1-1.3 1-2.2 1.1-1.4 1.5-1.1 1.8 1.7 1.4 .5 1.3 .8 1.4 1.1 1.3 2.6 .6 2.5 .7 1.3 .6 1.3 .6 2.3 .6 1 .6 1.6 .6 1.5 .6 1.5 .6 2 .6 2 .8 1.5 .8 2.1 .9 2.5 .8 1.4 .9 1 .8 1.8 .9 .9 .8 1.5 1 2.7 1 1.4 1.1 1.3 1 2.4 1.1 1.6 1.1 1.8 1.1 1.6 1.2 .2 1.2 2.4 1.2 .8 1.3 1.3 1.2 1.3 1.2 .4 1.3 1 1.3 1.9 1.4 .1 1.5 1.1 1.4 1.3 1.4 1.7 1.9 1.7 1.6 2.4 1.1-.1 1.1 1.8 1.1 1.2 1 1.5 1.6 1.8 1.8 2 1.5 1.5 1.4 1.1 1.4 .7 1.5 1.9 1.5 .4 1.6 1.7 1.7 .9 1.7 1 1.8-.2 2.2 .4 2-.2 1.4-1 1.4-1.1 1.5-1.9 1.4-.4 1.5-1.1 1.4-.8 1.4-2.5 1.5-1 1.4-.4 1.5-1.4 2-2.5 1.7 .2 1.8-.4 1.8 .4 1.9-1.1 1.8-.7 1.8-.9 1.8 .5 1.9-.1 1.8-.5 1.8 1.3 1.7-1.5 1.7-.6 1.7-1.4 1.8-.6 1.6-.5 1.6-1.2 1.4-.8 1.5-1.1 1.4-.2 1.5-1.6 1.4-1.3 1.4-1.3 1.5-1 1.4-1.5 1.5-.5 1.4-1.6 1.4-.4 1.4-1 1.4-1.3 1.3-1 1.3-1.7 1.3-.7 1.3-1.4 1.3-1.4 1.2-1.4 1.2-2.1 1.2-1.9 1.1-2.4 1.2-.5 1.1-1.7 1.1-1.8 1.2-1.4 1.2-1.7 1.2-1.5 1.3 .2 1.3-.8 1.3-1.7 1.3-.6 1.3-1.3 1.4-2 1.4-1.1 1.4-.9 1.5-1.6 1.4-.9 1.4-.6 2.1-.4 2.3 .3 1.8-1.5 1.8-1.1 1.8-.2 1.8-1.3 1.8 .3 1.8-.6 1.8 1.5 1.8 .9 1.8 .4 1.8 .2 1.8 .5 1.8 0 1.8 0 1.8-.9 1.8-.7 1.8-.6 1.8-.6 1.8 0 1.8-.6 1.8-1.8 1.8-1 1.8 .5 1.8-.3 1.3-.2" fill="none" stroke="#d09c9e" stroke-width="1.9" stroke-linejoin="round" stroke-dasharray="4 3"/><g><line x1="1202.3" y1="1932.3" x2="1202.3" y2="2151.9" stroke="#161616" stroke-width="2.5"/><path d="M1199.1,1934.7h3.2 M1199.1,1952.7h3.2 M1199.1,1970.7h3.2 M1199.1,1988.8h3.2 M1199.1,2006.8h3.2 M1199.1,2024.9h3.2 M1199.1,2042.9h3.2 M1199.1,2060.9h3.2 M1199.1,2079.0h3.2 M1199.1,2097.0h3.2 M1199.1,2115.1h3.2 M1199.1,2133.1h3.2" stroke="#161616" stroke-width="1.6"/><line x1="1134.8" y1="2042.9" x2="1466.0" y2="2042.9" stroke="#161616" stroke-width="2.7"/><path d="M1136.6,2042.9v3 M1268.0,2042.9v3 M1333.6,2042.9v3 M1399.3,2042.9v3 M1464.9,2042.9v3" stroke="#161616" stroke-width="1.6"/><text transform="translate(1136.6,2064.7) scale(1.05,0.88)" text-anchor="middle" font-family="'Liberation Serif', 'Times New Roman', serif" font-weight="bold" font-size="16.5" fill="#222">-200</text><text transform="translate(1268.0,2064.7) scale(1.05,0.88)" text-anchor="middle" font-family="'Liberation Serif', 'Times New Roman', serif" font-weight="bold" font-size="16.5" fill="#222">200</text><text transform="translate(1333.6,2064.7) scale(1.05,0.88)" text-anchor="middle" font-family="'Liberation Serif', 'Times New Roman', serif" font-weight="bold" font-size="16.5" fill="#222">400</text><text transform="translate(1399.3,2064.7) scale(1.05,0.88)" text-anchor="middle" font-family="'Liberation Serif', 'Times New Roman', serif" font-weight="bold" font-size="16.5" fill="#222">600</text><text transform="translate(1464.9,2064.7) scale(1.05,0.88)" text-anchor="middle" font-family="'Liberation Serif', 'Times New Roman', serif" font-weight="bold" font-size="16.5" fill="#222">800</text><text transform="translate(1196.8,1956.7) scale(1.05,0.88)" text-anchor="end" font-family="'Liberation Serif', 'Times New Roman', serif" font-weight="bold" font-size="16" fill="#222">-5</text><text transform="translate(1196.8,2137.1) scale(1.05,0.88)" text-anchor="end" font-family="'Liberation Serif', 'Times New Roman', serif" font-weight="bold" font-size="16" fill="#222">5</text><text transform="translate(1301.3,2148.9) scale(1,0.86)" text-anchor="middle" font-family="'Liberation Serif', 'Times New Roman', serif" font-weight="bold" font-size="18.6" fill="#1e1e1e">Latency (ms)</text><text transform="translate(1111.3,2042.9) rotate(-90) scale(1,0.86)" x="0" y="0" text-anchor="middle" font-family="'Liberation Serif', 'Times New Roman', serif" font-weight="bold" font-size="18.6" fill="#1e1e1e">Amplitude (μV)</text><text x="1194.5" y="1937.4" text-anchor="end" font-family="'Liberation Serif', 'Times New Roman', serif" font-size="30" fill="#111">Pz</text></g><path d="M1137.5 2043.9l2.1 1.6 1.9-1.6 1.8-1.9 1.7 .8 1.8-.1 1.6-2.5 1.7-1.9 1.7-1.1 2.3-1.8 2.1 1.4 1.5 3 1.5-.1 1.5-.4 1.5 2.2 2.2 1.4 1.8-1.2 1.7-.4 1.8-2.3 1.7 .2 1.9 0 1.8 1.7 1.9 .1 1.9-.8 1.9 1.3 1.8 .3 1.8-.6 1.8-.3 1.7 .2 1.8-.7 1.8 .9 1.8-.9 1.8 .7 1.9-.5 1.8 0 1.8-2 2.3-.6 1.8-1.2 1.7 0 2.4 0 2.3-1.2 1.7 1.5 1.8 2.3 1.7-.3 2-.6 1.6-.5 1.2 .1 1.1-1.8 1.1-1.6 1.4-2.9 1.2 2.6 .5 1.6 .4 1.5 .4 2.1 .4 3 .5 2.7 .4 .7 .4 2.4 .5 1.8 .4 1.3 .4 2.3 .4 .1 .5 .8 .7 2.5 1.8-1.8 1.3-.9 1.3-2 1.3-.5 1.1-.5 .8-3.2 .5-1.4 .5-1.7 .5-.4 .5-1.5 .6-2.4 .5-2.4 1.9 .8 .7 1.6 .7 .6 .7 1.3 .8 3.3 .7 1.7 .7 1.2 .7 2.9 .7 1.2 .6 1.5 .5 1.4 .6 1 .5 2.3 .5 1 .5 1.1 .5 1.7 .5 2.4 .7 2.1 .9 2.7 1.1 .3 1.1 3.2 1.1 1 1.1 2 1.1 1.3 1 .6 1.1 2.9 1-.1 1 3.3 1 1.2 1 1.6 1.1-.1 1 2.2 1-.2 1 2.8 1.6 1.9 2.2 1.3 1.8-1.2 1.8 .1 1.8-.8 2.4 .3 2.3-1.3 1.7-.9 1.7 .3 1.7-1.8 1.7-.1 1.7 .6 1.9-.5 1.2 1.4 .8 2.2 .8 2 .9 .8 .8 1.2 .8 1.1 .8 2 .9 1.1 .9 2.5 .9 1.5 1 2.4 .9 2.4 .9 1.7 1 1.8 1.6 1.5 2.4-.2 1.8-2.4 1.8-.6 1.8 .1 2.1-2.5 1.4-.5 1.5-1.1 1.4-1.9 1.4-.5 2.1-1.4 2.3 1 1.8 1.3 1.8 .6 1.9 .7 1.7 .8 1.8 .4 1.7 1.4 1.7 .3 1.7 .9 2.1 .1 2-.4 1.4-2 1.5-2.3 1.4-1 1.4-1.2 1.4-1.8 1.4 .1 1.3-.7 1.3 .2 1.3-1.9 1.3-2.6 1.3-1.8 1.3 0 1.3-1 1.3-1.4 1.3-1.8 1.3-1 1.3-1.4 1.3-1.2 1.3-.7 1.3-2.1 1.3-1 1.3-1.3 1.3-1.6 1.3-1.4 1.3-.5 1.3-.7 1.3-2.5 1.3-2.2 1.3-.8 1.3-.4 1.3-1.2 1.3-1.9 1.3-2.6 1.3-.9 1.3-.8 1.3-1.1 1.3-1.4 1.3-1.2 1.3-1 1.3-2.3 1.4 0 1.3-1.6 1.3-1.4 1.3-2.2 1.3-.7 1.3-1.7 1.3-1.2 1.5 .2 1.4-.4 1.4-1.8 1.5-1.9 1.4-1.1 1.5-.7 1.5-1.7 1.6 .2 1.5-2.6 1.6-.5 1.5 .2 1.6-2.4 1.6-.2 1.6-1.6 1.7-.6 1.7-.9 1.7 .2 1.7-.9 1.7-.7 1.8-1 1.7-.7 1.7-1.2 1.7-.3 1.7-.4 1.7 0 1.7-.2 1.7-1.7 2.4-.3 1.8 .1 1.8 1 1.8 .6 1.8 .9 .9-.6" fill="none" stroke="#4a3964" stroke-width="1.9" stroke-linejoin="round"/><path d="M1137.5 2042.6l2-1.5 1.7-1.6 1.7 .1 1.7-1.2 1.8 .9 1.8-.1 1.8-2.7 1.8-.9 1.8 .5 2.2-.6 1.6 1 1.5 2.8 1.6 .9 1.6 .7 2.3 1.3 1.9-2.7 1.9 .4 1.9 .1 1.9 1.4 1.8 1.1 1.9 1.3 1.9-1.2 1.9-1.8 1.8 .2 1.9-.1 1.8-1.9 1.9 0 1.9 .7 1.8 1.6 1.8-.3 1.9-.6 1.8-1.2 1.8-1.5 1.8 2.5 1.9 0 1.8-.5 1.9-2.1 1.8-1.8 1.9 .4 1.8 1 1.9 .1 1.8-1.6 1.9-.1 2.1-.3 1.7-1.1 1.2 .5 1.1 .2 1.2-2.2 1.7 1 .5 3.2 .4-.3 .5 0 .4 2.7 .4 2.4 .5 1.7 .4 2.6 .4 1.8 .5 2 .4 .9 .4 1.7 .5 .5 .4 3.2 .7 3 1.6-2 1.1-1.4 1.1-2.7 1.2-1.9 1.1-.8 1-1.2 .8-1.1 .7-2.1 .8-1.9 .7-2.2 1-1 1.5 .4 .9 2.8 1 1.5 .9 .3 .9 1.5 1 1.3 .9 .7 .7 1.9 .5 3.4 .6 .9 .5 2.6 .5 1.1 .6 2 .5 2.1 .5 1.8 .7 2 .9 .5 1 2.3 1.1 2.2 1 .3 1 2.8 1.1 1.4 1 1.9 1 2.1 1.1 .5 1.2 .9 1.2 3.1 1.1 0 1.2 2.1 1.2 .7 1.2 2.6 1.7 .4 2.3 .3 1.8 .4 1.8 .8 1.8 .7 1.9-.3 1.8-.5 1.8 .9 1.8-.1 1.9-1.6 1.8-1.2 1.8 .7 1.8 1 1.8-.8 1.9 .6 1.7 1.5 1.8 .5 1.7-.2 1.7 .4 1.7 .5 1.7-.2 1.8 .2 1.9 1.2 1.8 .1 1.8-1.1 1.8 .2 1.9 .6 1.8-.1 1.8 1.2 1.8 1 1.9-.1 1.8 1.7 1.8-1.2 1.8-.4 1.8 1.4 1.8-.6 1.8 1.1 1.7 1.3 1.7 1.3 1.7 2.2 1.7 1.4 1.5-.4 1.5 1.4 1.4 1 1.5 1.5 1.4 .3 2 .9 1.6 2.1 1.9 .1 1.8-.1 1.8 .8 1.8 .2 2.3 .6 1.8-2.1 1.7-1.1 1.7 .4 1.6-2.6 1.5-2.1 1.3 .6 1.3-1.1 1.3-1.4 1.3-.9 1.3-.8 1.3-.7 1.3-2.1 1.3-1.8 1.3-2.1 1.4 .1 1.3-1.8 1.3-1.7 1.3-1.7 1.3-1.8 1.3-.5 1.3-1.4 1.3-2.3 1.3-.5 1.3-.6 1.3-1.3 1.3-1.2 1.3-2 1.3-.4 1.3-.4 1.3-.9 1.3-1.9 1.3-.6 1.3-2.5 1.3-1 1.3-2.3 1.3-1 1.3-.4 1.3-.8 1.4-2.1 1.5-.6 1.7-2.4 1.7 .2 1.7-1.8 1.7 .2 1.7-.6 1.8-1.5 1.7 .1 1.7-1.1 1.7-.4 1.7-1.5 1.7 .2 1.8-1.8 1.8-.2 1.8 .4 1.8-.2 1.8 .6 1.8 .2 1.7-.7 1.8-.5 1.7-1.4 1.7 .4 1.7-1.8 1.7-1.7 1.7 .7 2.1-1.2 .8 .1" fill="none" stroke="#4a3964" stroke-width="1.9" stroke-linejoin="round" stroke-dasharray="4 3"/><path d="M1137.5 2045.9l2.1 .7 1.8-.7 1.8-.6 1.7-.4 1.8-.5 1.7-4.2 1.7-.4 1.7-1 1.7-.1 2.1 0 1.5 1.2 1.5 .1 1.5 1 1.5 .7 2.1 1.4 2.4 .4 1.8-1.7 1.8 .5 1.8 .4 1.9 .6 1.9 .5 1.9-2.2 1.9-.1 1.8-.2 1.9 .8 1.8 .3 1.8-.6 1.8 .5 1.8-1.3 1.8-1.1 1.9 .5 1.9-.1 1.9-.9 1.9 1.1 1.9-1.4 1.8-.4 1.9-.1 1.8 .8 1.8 .5 1.8-.8 1.8 .1 1.8 1.6 1.8 .6 2.2 .6 1.6-2.6 .9-.4 1-1.2 1-3.3 1-2.4 1.9-.3 .4 2.9 .5 1.5 .4 2.2 .4 .5 .4 1 .5 2.2 .4 2.3 .4 1.8 .4 1.4 .5 1 .4 1.6 .4 2.4 .4 2.8 .5 2.6 .6-.1 2-1.5 1.1 .2 1.2-1 1.1-2.3 1.1-.9 1.2-2.3 .6-1.7 .7-3.2 .7-.5 .7-1.9 1.5-2 1.2 3.3 .8 1.9 .9 1.7 .9 1.3 .9 .6 .9 2.4 .7 1.2 .5 .6 .5 2.9 .4 .5 .5 1.9 .5 2.9 .4 1.7 .5 1 .5 2 .6 1.2 .9 3 1.1 2.1 1.1 .7 1 1.4 1.1 1.9 1.1 2.2 1.1 2.1 1.1 2.5 1.1 0 1.1 1.6 1.2 .8 1.1 2.8 1.1 1.4 1.2 1.6 1.1 .8 1.2 1.3 1.1 1.2 1.1 1.3 1.2 .4 1.1 2.8 1.2 2 1.1 1.9 1.1 .7 1.2 1.1 1.1 2.4 1 .4 1 .5 1 1.7 1 2.6 1.1 1.5 1 1 1 1.1 1 .6 1.1 2.5 1.1 1.3 1.1 2.1 1.2 1.5 1.1 .8 1.1 2.5 1.2 2.3 1.1-.6 1.2 2.2 1.3 1 1.3 2.2 1.3 1.7 1.3-.2 1.3 1.2 1.8 .8 2-.3 1.6 .5 1.5-2.6 1.6-1 1.4 0 1.3-1.8 1.3-2.7 1.3 .3 1.3-2.6 1.3-2.3 1.4-.2 1.3 0 1.5-.5 1.4-2.2 1.5-1 1.4-.5 1.4-2.7 1.6 .3 1.7-.8 1.7-.7 1.7-1.7 1.7-.3 1.7-.9 1.8-.1 1.9-2.2 1.8 .3 1.8-.1 2.1-1.7 1.6-1.4 1.2-1.9 1.1-1.2 1.2-2.1 1.1-.8 1.1-2.3 1.2-1.4 1.2-.5 1.3-1.4 1.3-1.3 1.3-1.9 1.3-1.1 1.3-1.7 1.3 0 1.2-.2 1.2-1.9 1.1-2.9 1.2-.2 1.1-2.1 1.1-.5 1.2-1.9 1.1-.8 1.2-2.4 1.1-1.8 1.1-.9 1.2-2.2 1.1-.8 1.2-1.9 1.1-1.5 1.2-2.3 1.2-1.2 1.3-.5 1.3-2.1 1.3 .2 1.3-1.5 1.3 .1 1.3-1.1 1.3-1.6 1.3-2.1 1.3-.7 1.3-.7 1.3-2 1.3-1 1.3-.7 1.3-1.4 1.3-2.5 1.3-2.3 1.3-1.7 1.3-1.7 1.3 .4 1.4-1.3 1.4-1.6 1.6-1.7 1.5-1 1.6-.8 1.5 .6 1.6-2.2 1.5-1.6 1.6-.4 1.7 .3 1.6-1.6 1.6 0 1.7-2.2 1.6-1.7 1.7 0 1.6-.7 1.7 .9 1.7 .1 1.8-.6 1.8-1 1.8 0 1.8-1.7 1.8 .3 1.8-1.3 1.8 1.1 1.8 .3 1.8 0 1.8 1.8 1.8 .5 .9-1.5" fill="none" stroke="#8c5872" stroke-width="1.9" stroke-linejoin="round"/><path d="M1137.5 2042.7l2-1 1.8-2 1.7-1.9 1.7 1 1.7-.3 1.6-1.2 1.6 .3 1.6-2.4 1.7-.1 2-.4 1.9-.1 1.3 2.5 1.4 1.2 1.4 .4 1.9 1.2 2.2 .5 1.7 .4 1.8-1.8 1.8 .5 1.8 .9 1.8 .4 1.8-.1 1.8 .7 1.9-1.4 1.8-.5 1.8 1.1 1.8 1.1 1.9 .9 1.8-1.4 1.8 0 1.8-1.1 1.8-.5 1.9-1.8 1.8 .9 1.8-.1 1.9-.6 1.9 1.5 1.8 .1 1.9-1.1 1.9-1.3 1.8-1.7 1.9 1.2 1.8 .8 1.9 .5 2.1 1.2 1.8-3.6 1.2 .4 1.2-1 1.3-.9 1.8 .5 .4 .9 .5-.4 .4 2.9 .5 1.9 .5 .8 .4 1.7 .5 1.9 .4 2.4 .5 1.8 .4 1.4 .5 2.5 .4 1.7 .5 .5 1.1 3.4 1.5-.9 1.2-3.3 1.2-1.7 1.2-.7 1.1-1.1 .9-1.4 .8-2.4 .8-2.4 .8-2 1 0 1.6-.1 .9 2.9 1 2 .9 1 1 1.7 1 1.4 .8 .5 .6 .6 .5 3.2 .5 1.4 .5 1.9 .5 1.9 .5 1.9 .4 .5 .5 2.2 .6 .9 1.1 2.8 1.1 1.9 1 1.1 1.1 1.3 1 2.8 1 2.1 1.1 .9 1 2 1.1 2.3 1.2 .9 1.3 1.1 1.2 1.9 1.2-.1 1.2 1.4 1.2 .4 1.4 1.3 1.5 1.2 1.7 .5 1.8 2.3 1.7 .9 1.6 1.5 1.5 1 1.3 1.5 1.3 .2 1.3 1.3 1.3 1.2 1.3 1.8 1.3 .4 1.3 2.2 1.3 2.1 1.3-.4 1.3 1.7 1.3 1.3 1.4 .7 1.3 1.3 1.3 2.1 1.3 2.7 1.3 2 1.3 .2 1.3 .6 1.3 1.1 1.9 .9 2.2 1.1 1.9-.4 1.8-1.7 1.8 0 1.8-1.6 1.7-.7 1.7-1.2 1.7-.3 1.7-1.4 1.8 .5 1.7-.1 1.7-2.3 1.7-.9 1.7-.3 1.7-.9 1.8-1 1.8 .6 1.8 .7 1.9-.9 1.8 .4 1.8 .8 1.8-1.1 1.9 .3 1.8 1.2 1.8-1.3 1.7-.2 1.8-.6 1.7-.9 1.7-2.3 1.7-.5 1.5-.9 1.4-.7 1.3-.5 1.3-1 1.3-2.2 1.3-1.2 1.3-1.7 1.3-1.5 1.3-2.3 1.3-1.5 1.3-.1 1.3-2.1 1.3-.9 1.3-1 1.3-.3 1.3-.9 1.3-1.7 1.3-.5 1.3-2.6 1.3-.1 1.3-2.1 1.3-1.8 1.3-2.7 1.3-1.3 1.3-.7 1.3-.7 1.3-1.5 1.3-.1 1.3-2.4 1.4-.6 1.3-.9 1.3-2.4 1.3-2.3 1.3-.7 1.3-1.2 1.3-1.9 1.3-1 1.3-1.5 1.3-1.6 1.3 0 1.3-1 1.3-.8 1.4-2.2 1.5 0 1.6-2.7 1.5 .2 1.6-.6 1.5-1 1.6-2 1.6-.6 1.5-1.4 1.6-.4 1.5-2.2 1.6 .2 1.5-1.5 1.6-.5 1.6-.6 2.2-1.8 1.7-.5 1.7-.9 1.7 .5 1.7-.6 1.7-.6 1.7-2 1.7-.3 1.7-1.4 1.8-1 1.7 .8 1.7-.5 1.5-.3 .8 .4" fill="none" stroke="#8c5872" stroke-width="1.9" stroke-linejoin="round" stroke-dasharray="4 3"/><path d="M1137.5 2043.9l2.1 .3 1.8-2.5 1.8-.2 1.8-.8 1.6 .7 1.7-1 1.6-2.1 1.6-1.7 2.2-1.9 2 1.8 1.4 3.1 1.4 1.6 1.5 .2 1.4 2.2 1.4 .5 2.1 1.8 1.8-1.5 1.7-.8 1.8-1.3 1.7 .2 1.8-1.8 1.9 1.3 1.9-.2 1.9 1.5 1.9-1.2 1.8-1.4 1.8-.9 1.8 .8 1.8-.9 1.8 .5 1.9-.8 1.9 .8 1.9-1.5 1.9 0 1.9 1.1 1.9-1.5 1.8 2 1.9 .1 1.8-.5 1.9 1.2 1.9-.7 1.8-.7 1.9 .1 1.9 .8 2.2 .9 1.6-2.6 1.1-2.5 1.1-3.1 1.2 1.3 1.7 .2 .4 .9 .4 2.7 .5 2.7 .4 2.2 .4 .7 .5 2.1 .4 2.8 .4 1.2 .5 2 .4 2 .5 1.2 .4 1.3 .4 .5 .5 2.6 1.6 .1 1-.1 1-1.2 1.1-3.4 1-1 1-2.3 .9-.5 .8-.9 .8-3 .7-1.9 .8-2.7 1.3-.7 1.2 .9 .9 1.1 .8 1.7 .9 1.1 .9 3.1 .9 1.9 .7 .9 .6 1.4 .5 2.7 .5 1.1 .4 .9 .5 1 .5 1.6 .4 1.9 .5 3.6 .5 1.6 .8 1.5 .9 .6 1 1.4 .9 2 1 2.3 1 2 .9 2.4 1 .8 .9 .9 1 2.6 1.1 .1 1.1 1.1 1.1 1.3 1.1 2.3 1.1 1.7 1.1 2.4 1.2 1.2 1.1 2.2 1.2 .3 1.3 .8 1.3 1.4 1.3 1.2 1.3 1.7 1.3 2.3 1.3 .3 1.3 1.5 1.3 2.6 1.3 1.8 1.3-.8 1.3 1.1 1.3 1.2 1.3 1.8 1.2 2.4 1.2 1.2 1.1 .3 1.1 2.2 1.2 1.4 1.1 .6 1.2 1 1.1 2.3 1.1 2.7 1.2 1 1.1-.3 1.2 1.5 1.1 1.3 1.2 1.4 1.1 1.3 1.6 2.5 2-.5 1.6-.1 1.6-2.4 1.5-.3 1.4-1.6 1.3-.8 1.3-1.2 1.3-2.7 1.3-1.5 1.3-.8 1.3-1.1 1.4-2.3 1.5-1.8 1.4 .9 1.4-2.5 1.5-.6 2-.1 1.7-.1 1.8-.8 1.9-.1 1.8 0 1.8-1 1.7-2 1.7 .5 1.7 .1 1.8-1.2 1.6-1.9 1.5-.4 1.3-1 1.3-1.2 1.3-3.5 1.3-2.5 1.3 .1 1.3-.5 1.3-2.1 1.3-.7 1.3-3 1.3-.4 1.3-1.9 1.3-1.8 1.3-1.6 1.3 .1 1.3-.7 1.3-2.3 1.4-.1 1.3-1.8 1.3-.6 1.2-1.3 1.2-1.1 1.2-3 1.1-1.2 1.2-2.2 1.1-1.3 1.2-.8 1.1-1 1.1-1.6 1.2-2.6 1.1-1.8 1.2-.6 1.1-.2 1.1-1.6 1.2-1.9 1.1-.2 1.2-1.4 1.2-.8 1.3-2.3 1.3-1.7 1.3-.6 1.3-2.2 1.3-1.9 1.3-.6 1.2-1.7 1.2-.9 1.1-1.1 1.1-2.7 1.2-.1 1.1-.9 1.2-1.6 1.1-2.2 1.1-1 1.2-2.8 1.1-2.6 1.2-.6 1.1-1.7 1.1-.7 1.2-1 1.7-.9 2.1-1.3 1.7 1.1 1.7 1.4 1.7-.6 1.7 .1 2.2 1.2 1.8-1.6 1.3-2.3 1.3-1.8 1.3 .7 1.2-1.2 1.3-1.6 1.3-1 1.3-.5 1.3-1 1.8-2 2.2 .2 1.7-.4 1.7-.4 1.7-1.4 1.7-.9 1.7-1.7 2.1-.1 .8-1.2" fill="none" stroke="#d09c9e" stroke-width="1.9" stroke-linejoin="round"/><path d="M1137.5 2045.5l2.1-.8 1.8-.3 1.8-1.2 1.7-3.3 1.7 .9 1.7-1.9 1.6-.3 1.7-1 2.2-1.8 2 1.8 1.5 2.1 1.4-.2 1.5 1.9 1.4 2.1 2.1 1.6 2.2-.7 1.8 .6 1.8-.7 1.8-1.8 1.8-1.4 1.9 1.1 1.9 .2 1.9-.1 1.9 .5 1.8 .3 1.8-2.5 1.8-1 1.7-1 1.7-2.2 2.4-.3 1.9-.3 1.8-1 1.8 .6 1.8 .6 1.8 .3 1.8-.5 1.8-1.3 1.8 .8 1.7-1.6 2.4 2.7 2.4 1.6 1.7 .7 1.8-1.9 2.1 .8 1.7-1.4 1.2-3.4 1.2-1.7 1.2-.1 1.8 .3 .4 .3 .4 1.8 .5 4 .4 2.4 .4 1.5 .4 .7 .5 1.3 .4 2.3 .4 1.8 .4 2.6 .4 .6 .5 .8 .4 2.8 .4 2.3 1.9-1 1.1-1.1 1.1-.4 1.1-2.6 1.1-1.5 1-1 .8-1.3 .8-2 .7-2.4 .8-1.8 1.1-.7 1.4 1.8 .9 .3 .9 2.4 .9 2 .9 .9 .8 2.6 .9 2.1 .6 1.9 .5 1.7 .5 .9 .4 2.2 .5 2.5 .5 .8 .4 1.5 .5 .8 .5 1 .6 3 1.1 2.8 1 2.4 .9 .7 1 .4 1 1.9 .9 2.5 1 1.6 1 1.3 1 1.5 1.1 1 1.1 .4 1.1 1.4 1.1 2.8 1.2 2.1 1.1 1.8 1.1 2.1 1.2 1.2 1.2 1.1 1.3-.4 1.3 2.5 1.3 1 1.3 .9 1.3 1.6 1.3 2 1.3 0 1.3 2.6 1.3 .9 1.3 .2 1.3 1.6 1.3 1.8 1.4 1.8 1.3 .6 1.5 1.7 1.4 1.2 1.4-.3 1.5 .2 1.4 1.9 1.6 2.5 1.7-.2 1.7 .3 1.7-.1 1.7 2.4 1.7-.5 2.4 1.1 1.9-.5 1.8-.5 1.8-.5 1.8-1.6 1.7-1.2 1.7-.1 1.7 .4 1.7-1.1 1.8 .5 1.8 .3 1.8-1.1 1.8-.3 1.8-1.7 1.9-.2 1.8-.9 1.8 1 1.8-1.7 1.9-.5 1.8-.6 1.8 1.1 1.8-2 1.9-.7 1.8 .8 1.7-.4 2-1.4 1.5-1.2 1.4-.7 1.5-.6 1.4-2 1.4-.2 1.3-1.7 1.3-1.2 1.3-1.1 1.3-1.8 1.3-1.8 1.4-1.2 1.3-2.1 1.3-.6 1.3-.1 1.3-2.3 1.3-1.5 1.3-1.5 1.3-1.2 1.3 .3 1.3-1.4 1.3-.9 1.3-2 1.3-2.6 1.3-.2 1.3-1.3 1.2-2.2 1.2-1.2 1.2-.2 1.1-1.2 1.2-2.3 1.1-.7 1.1-1.3 1.2-2 1.2-1.3 1.2-2.3 1.3-.6 1.3-1.3 1.3-1.5 1.3-.5 1.3-2.5 1.3-.5 1.3-1.9 1.3-.8 1.3-2.4 1.3-.9 1.4-1.6 1.3-.2 1.3-.7 1.4-1.9 1.4-2.4 1.4-.3 1.5 0 1.4-3 1.4-1.4 1.4-.9 1.5-1.6 1.5 1 1.6-2.2 1.5 .3 1.6-.6 1.5-1.3 1.6-.6 1.6-.1 2.2-1.7 1.7-1.5 1.7-.4 1.7-1.4 1.7-1 1.7 .6 1.7-1 1.8 .5 1.8-.7 1.8-.7 1.8-1.8 1.8-.2 1.5-.8" fill="none" stroke="#d09c9e" stroke-width="1.9" stroke-linejoin="round" stroke-dasharray="4 3"/><line x1="83" y1="657.6" x2="122" y2="657.6" stroke="#c29a98" stroke-width="3.4"/><line x1="83" y1="708.0" x2="122" y2="708.0" stroke="#c29a98" stroke-width="3.2" stroke-dasharray="8 5 8 5 8 4 2 20"/><text x="145.3" y="668.4" font-family="'Liberation Serif', 'Times New Roman', serif" font-size="32" fill="#202020" stroke="#202020" stroke-width="0.4">High calorie foods go trial</text><text x="145.3" y="718.3" font-family="'Liberation Serif', 'Times New Roman', serif" font-size="32" fill="#202020" stroke="#202020" stroke-width="0.4">High calorie foods nogo trial</text><line x1="583.4" y1="657.6" x2="623" y2="657.6" stroke="#87627a" stroke-width="3.4"/><line x1="583.4" y1="708.0" x2="623" y2="708.0" stroke="#87627a" stroke-width="3.2" stroke-dasharray="8 5 8 5 8 4 2 20"/><text x="645.4" y="668.4" font-family="'Liberation Serif', 'Times New Roman', serif" font-size="32" fill="#202020" stroke="#202020" stroke-width="0.4">Low calorie foods go trial</text><text x="645.4" y="718.3" font-family="'Liberation Serif', 'Times New Roman', serif" font-size="32" fill="#202020" stroke="#202020" stroke-width="0.4">Low calorie foods nogo trial</text><line x1="1052.4" y1="657.6" x2="1092.5" y2="657.6" stroke="#4f3f6a" stroke-width="3.4"/><line x1="1052.4" y1="708.0" x2="1092.5" y2="708.0" stroke="#4f3f6a" stroke-width="3.2" stroke-dasharray="8 5 8 5 8 4 2 20"/><text x="1116.2" y="668.4" font-family="'Liberation Serif', 'Times New Roman', serif" font-size="32" fill="#202020" stroke="#202020" stroke-width="0.4">Neutral calorie foods go trial</text><text x="1116.2" y="718.3" font-family="'Liberation Serif', 'Times New Roman', serif" font-size="32" fill="#202020" stroke="#202020" stroke-width="0.4">Neutral calorie foods nogo trial</text><line x1="77.9" y1="1430.5" x2="118" y2="1430.5" stroke="#c29a98" stroke-width="3.4"/><line x1="77.9" y1="1480.8" x2="118" y2="1480.8" stroke="#c29a98" stroke-width="3.2" stroke-dasharray="8 5 8 5 8 4 2 20"/><text x="140.8" y="1441.3" font-family="'Liberation Serif', 'Times New Roman', serif" font-size="32" fill="#202020" stroke="#202020" stroke-width="0.4">High calorie foods go trial</text><text x="140.8" y="1491.1" font-family="'Liberation Serif', 'Times New Roman', serif" font-size="32" fill="#202020" stroke="#202020" stroke-width="0.4">High calorie foods nogo trial</text><line x1="579.5" y1="1430.5" x2="619.3" y2="1430.5" stroke="#87627a" stroke-width="3.4"/><line x1="579.5" y1="1480.8" x2="619.3" y2="1480.8" stroke="#87627a" stroke-width="3.2" stroke-dasharray="8 5 8 5 8 4 2 20"/><text x="643.0" y="1441.3" font-family="'Liberation Serif', 'Times New Roman', serif" font-size="32" fill="#202020" stroke="#202020" stroke-width="0.4">Low calorie foods go trial</text><text x="643.0" y="1491.1" font-family="'Liberation Serif', 'Times New Roman', serif" font-size="32" fill="#202020" stroke="#202020" stroke-width="0.4">Low calorie foods nogo trial</text><line x1="1051.4" y1="1430.5" x2="1090.9" y2="1430.5" stroke="#4f3f6a" stroke-width="3.4"/><line x1="1051.4" y1="1480.8" x2="1090.9" y2="1480.8" stroke="#4f3f6a" stroke-width="3.2" stroke-dasharray="8 5 8 5 8 4 2 20"/><text x="1114.9" y="1441.3" font-family="'Liberation Serif', 'Times New Roman', serif" font-size="32" fill="#202020" stroke="#202020" stroke-width="0.4">Neutral calorie foods go trial</text><text x="1114.9" y="1491.1" font-family="'Liberation Serif', 'Times New Roman', serif" font-size="32" fill="#202020" stroke="#202020" stroke-width="0.4">Neutral calorie foods nogo trial</text><line x1="77.9" y1="2203.7" x2="118" y2="2203.7" stroke="#c29a98" stroke-width="3.4"/><line x1="77.9" y1="2254.7" x2="118" y2="2254.7" stroke="#c29a98" stroke-width="3.2" stroke-dasharray="8 5 8 5 8 4 2 20"/><text x="140.8" y="2214.5" font-family="'Liberation Serif', 'Times New Roman', serif" font-size="32" fill="#202020" stroke="#202020" stroke-width="0.4">High calorie foods go trial</text><text x="140.8" y="2265.0" font-family="'Liberation Serif', 'Times New Roman', serif" font-size="32" fill="#202020" stroke="#202020" stroke-width="0.4">High calorie foods nogo trial</text><line x1="578.9" y1="2203.7" x2="619.3" y2="2203.7" stroke="#87627a" stroke-width="3.4"/><line x1="578.9" y1="2254.7" x2="619.3" y2="2254.7" stroke="#87627a" stroke-width="3.2" stroke-dasharray="8 5 8 5 8 4 2 20"/><text x="641.4" y="2214.5" font-family="'Liberation Serif', 'Times New Roman', serif" font-size="32" fill="#202020" stroke="#202020" stroke-width="0.4">Low calorie foods go trial</text><text x="641.4" y="2265.0" font-family="'Liberation Serif', 'Times New Roman', serif" font-size="32" fill="#202020" stroke="#202020" stroke-width="0.4">Low calorie foods nogo trial</text><line x1="1049.7" y1="2203.7" x2="1089.9" y2="2203.7" stroke="#4f3f6a" stroke-width="3.4"/><line x1="1049.7" y1="2254.7" x2="1089.9" y2="2254.7" stroke="#4f3f6a" stroke-width="3.2" stroke-dasharray="8 5 8 5 8 4 2 20"/><text x="1112.2" y="2214.5" font-family="'Liberation Serif', 'Times New Roman', serif" font-size="32" fill="#202020" stroke="#202020" stroke-width="0.4">Neutral calorie foods go trial</text><text x="1112.2" y="2265.0" font-family="'Liberation Serif', 'Times New Roman', serif" font-size="32" fill="#202020" stroke="#202020" stroke-width="0.4">Neutral calorie foods nogo trial</text></svg>
</body></html>
